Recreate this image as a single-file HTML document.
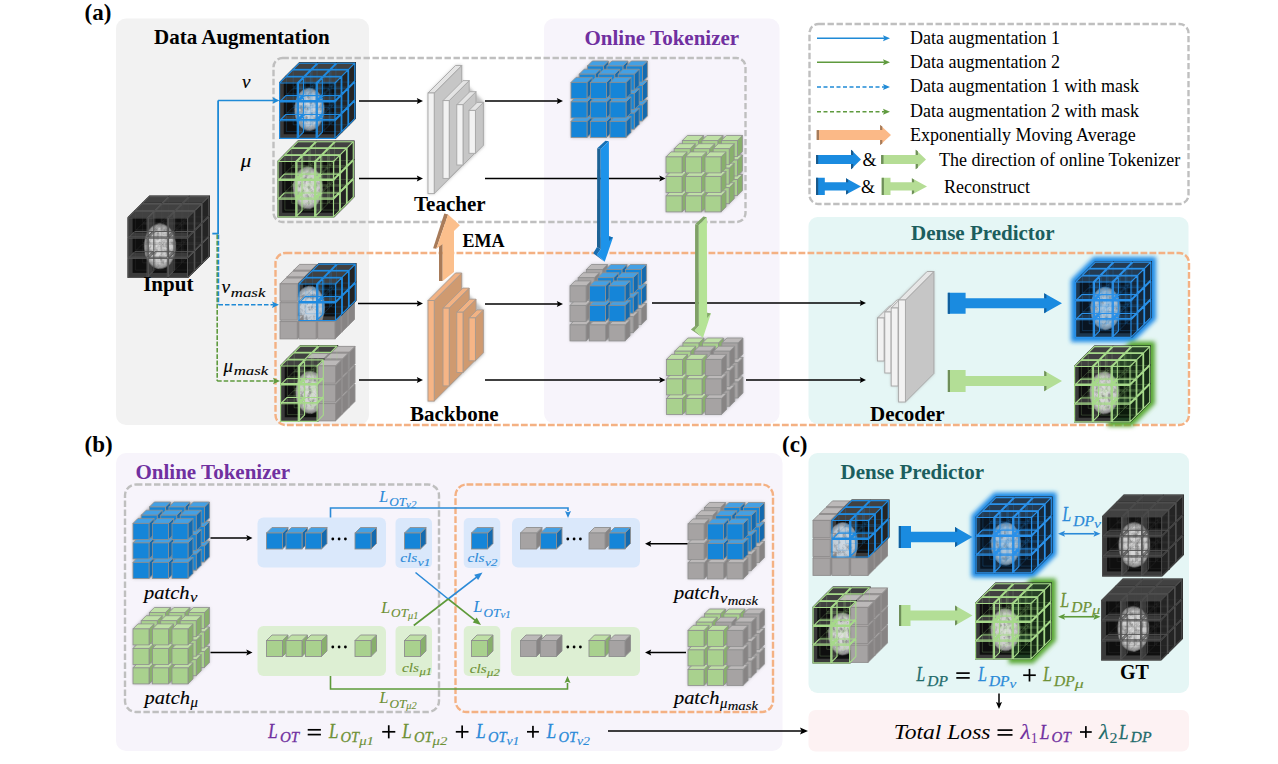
<!DOCTYPE html>
<html><head><meta charset="utf-8"><style>
html,body{margin:0;padding:0;background:#fff;width:1278px;height:764px;overflow:hidden}
svg{display:block}
</style></head><body>
<svg width="1278" height="764" viewBox="0 0 1278 764">
<rect width="1278" height="764" fill="#fff"/>
<defs>
<filter id="shadow" x="-20%" y="-20%" width="140%" height="140%"><feGaussianBlur stdDeviation="1.6"/></filter>
<filter id="glow" x="-30%" y="-30%" width="160%" height="160%"><feGaussianBlur stdDeviation="2.2"/></filter>
<radialGradient id="braingrad"><stop offset="0" stop-color="#e2e2e2"/><stop offset="0.75" stop-color="#cacaca"/><stop offset="0.92" stop-color="#aaaaaa" stop-opacity="0.8"/><stop offset="1" stop-color="#888" stop-opacity="0.2"/></radialGradient>
<filter id="braintex" x="-10%" y="-10%" width="120%" height="120%">
<feTurbulence type="fractalNoise" baseFrequency="0.25 0.18" numOctaves="3" seed="7" result="n"/>
<feColorMatrix in="n" type="matrix" values="0 0 0 0 0.3  0 0 0 0 0.3  0 0 0 0 0.3  0 0 0 -3.2 1.75" result="dark"/>
<feComposite in="dark" in2="SourceGraphic" operator="in" result="d2"/>
<feGaussianBlur in="d2" stdDeviation="0.5" result="d3"/><feComposite in="d3" in2="SourceGraphic" operator="over"/>
</filter>
</defs>
<rect x="116" y="18.5" width="253" height="406.5" rx="10" fill="#f2f2f2" />
<rect x="544" y="18.5" width="235.5" height="405" rx="10" fill="#f7f4fb" />
<rect x="808.5" y="217" width="380" height="207" rx="9" fill="#e5f6f5" />
<rect x="116" y="453" width="666.5" height="298" rx="10" fill="#f7f4fb" />
<rect x="808.5" y="453" width="380.5" height="240" rx="9" fill="#e5f6f5" />
<rect x="808.5" y="710" width="380.5" height="41.5" rx="7" fill="#fdf2f3" />
<rect x="273.5" y="58" width="472" height="164" rx="9" fill="none" stroke="#bfbfbf" stroke-width="2.4" stroke-dasharray="6.4 2.6" />
<rect x="809.5" y="24" width="379" height="180" rx="9" fill="none" stroke="#bfbfbf" stroke-width="2.4" stroke-dasharray="6.4 2.6" />
<rect x="275.5" y="253" width="913.5" height="172" rx="10" fill="none" stroke="#f4b183" stroke-width="2.4" stroke-dasharray="6.8 2.2" />
<rect x="125" y="484.5" width="314" height="227.5" rx="11" fill="none" stroke="#bfbfbf" stroke-width="2.4" stroke-dasharray="6.4 2.6" />
<rect x="455.5" y="484.5" width="317.5" height="227.5" rx="11" fill="none" stroke="#f4b183" stroke-width="2.4" stroke-dasharray="6.8 2.2" />
<g filter="url(#shadow)"><polygon points="571,82.4 592.4,61 647.4,61 647.4,116 626,137.4 571,137.4" fill="#777" opacity="0.55"/></g><polygon points="603.4,105 608.4,100 608.4,116 603.4,121" fill="#136aaf" stroke="#8f8f8f" stroke-width="0.8" stroke-linejoin="round"/><polygon points="587.4,105 592.4,100 608.4,100 603.4,105" fill="#44a0e4" stroke="#8f8f8f" stroke-width="0.8" stroke-linejoin="round"/><rect x="587.4" y="105" width="16" height="16" rx="0" fill="#1585d8" stroke="#8f8f8f" stroke-width="0.8" /><polygon points="595.2,113.2 600.2,108.2 600.2,124.2 595.2,129.2" fill="#136aaf" stroke="#8f8f8f" stroke-width="0.8" stroke-linejoin="round"/><polygon points="579.2,113.2 584.2,108.2 600.2,108.2 595.2,113.2" fill="#44a0e4" stroke="#8f8f8f" stroke-width="0.8" stroke-linejoin="round"/><rect x="579.2" y="113.2" width="16" height="16" rx="0" fill="#1585d8" stroke="#8f8f8f" stroke-width="0.8" /><polygon points="603.4,85.5 608.4,80.5 608.4,96.5 603.4,101.5" fill="#136aaf" stroke="#8f8f8f" stroke-width="0.8" stroke-linejoin="round"/><polygon points="587.4,85.5 592.4,80.5 608.4,80.5 603.4,85.5" fill="#44a0e4" stroke="#8f8f8f" stroke-width="0.8" stroke-linejoin="round"/><rect x="587.4" y="85.5" width="16" height="16" rx="0" fill="#1585d8" stroke="#8f8f8f" stroke-width="0.8" /><polygon points="622.9,105 627.9,100 627.9,116 622.9,121" fill="#136aaf" stroke="#8f8f8f" stroke-width="0.8" stroke-linejoin="round"/><polygon points="606.9,105 611.9,100 627.9,100 622.9,105" fill="#44a0e4" stroke="#8f8f8f" stroke-width="0.8" stroke-linejoin="round"/><rect x="606.9" y="105" width="16" height="16" rx="0" fill="#1585d8" stroke="#8f8f8f" stroke-width="0.8" /><polygon points="587,121.4 592,116.4 592,132.4 587,137.4" fill="#136aaf" stroke="#8f8f8f" stroke-width="0.8" stroke-linejoin="round"/><polygon points="571,121.4 576,116.4 592,116.4 587,121.4" fill="#44a0e4" stroke="#8f8f8f" stroke-width="0.8" stroke-linejoin="round"/><rect x="571" y="121.4" width="16" height="16" rx="0" fill="#1585d8" stroke="#8f8f8f" stroke-width="0.8" /><polygon points="595.2,93.7 600.2,88.7 600.2,104.7 595.2,109.7" fill="#136aaf" stroke="#8f8f8f" stroke-width="0.8" stroke-linejoin="round"/><polygon points="579.2,93.7 584.2,88.7 600.2,88.7 595.2,93.7" fill="#44a0e4" stroke="#8f8f8f" stroke-width="0.8" stroke-linejoin="round"/><rect x="579.2" y="93.7" width="16" height="16" rx="0" fill="#1585d8" stroke="#8f8f8f" stroke-width="0.8" /><polygon points="614.7,113.2 619.7,108.2 619.7,124.2 614.7,129.2" fill="#136aaf" stroke="#8f8f8f" stroke-width="0.8" stroke-linejoin="round"/><polygon points="598.7,113.2 603.7,108.2 619.7,108.2 614.7,113.2" fill="#44a0e4" stroke="#8f8f8f" stroke-width="0.8" stroke-linejoin="round"/><rect x="598.7" y="113.2" width="16" height="16" rx="0" fill="#1585d8" stroke="#8f8f8f" stroke-width="0.8" /><polygon points="603.4,66 608.4,61 608.4,77 603.4,82" fill="#136aaf" stroke="#8f8f8f" stroke-width="0.8" stroke-linejoin="round"/><polygon points="587.4,66 592.4,61 608.4,61 603.4,66" fill="#44a0e4" stroke="#8f8f8f" stroke-width="0.8" stroke-linejoin="round"/><rect x="587.4" y="66" width="16" height="16" rx="0" fill="#1585d8" stroke="#8f8f8f" stroke-width="0.8" /><polygon points="622.9,85.5 627.9,80.5 627.9,96.5 622.9,101.5" fill="#136aaf" stroke="#8f8f8f" stroke-width="0.8" stroke-linejoin="round"/><polygon points="606.9,85.5 611.9,80.5 627.9,80.5 622.9,85.5" fill="#44a0e4" stroke="#8f8f8f" stroke-width="0.8" stroke-linejoin="round"/><rect x="606.9" y="85.5" width="16" height="16" rx="0" fill="#1585d8" stroke="#8f8f8f" stroke-width="0.8" /><polygon points="642.4,105 647.4,100 647.4,116 642.4,121" fill="#136aaf" stroke="#8f8f8f" stroke-width="0.8" stroke-linejoin="round"/><polygon points="626.4,105 631.4,100 647.4,100 642.4,105" fill="#44a0e4" stroke="#8f8f8f" stroke-width="0.8" stroke-linejoin="round"/><rect x="626.4" y="105" width="16" height="16" rx="0" fill="#1585d8" stroke="#8f8f8f" stroke-width="0.8" /><polygon points="587,101.9 592,96.9 592,112.9 587,117.9" fill="#136aaf" stroke="#8f8f8f" stroke-width="0.8" stroke-linejoin="round"/><polygon points="571,101.9 576,96.9 592,96.9 587,101.9" fill="#44a0e4" stroke="#8f8f8f" stroke-width="0.8" stroke-linejoin="round"/><rect x="571" y="101.9" width="16" height="16" rx="0" fill="#1585d8" stroke="#8f8f8f" stroke-width="0.8" /><polygon points="606.5,121.4 611.5,116.4 611.5,132.4 606.5,137.4" fill="#136aaf" stroke="#8f8f8f" stroke-width="0.8" stroke-linejoin="round"/><polygon points="590.5,121.4 595.5,116.4 611.5,116.4 606.5,121.4" fill="#44a0e4" stroke="#8f8f8f" stroke-width="0.8" stroke-linejoin="round"/><rect x="590.5" y="121.4" width="16" height="16" rx="0" fill="#1585d8" stroke="#8f8f8f" stroke-width="0.8" /><polygon points="595.2,74.2 600.2,69.2 600.2,85.2 595.2,90.2" fill="#136aaf" stroke="#8f8f8f" stroke-width="0.8" stroke-linejoin="round"/><polygon points="579.2,74.2 584.2,69.2 600.2,69.2 595.2,74.2" fill="#44a0e4" stroke="#8f8f8f" stroke-width="0.8" stroke-linejoin="round"/><rect x="579.2" y="74.2" width="16" height="16" rx="0" fill="#1585d8" stroke="#8f8f8f" stroke-width="0.8" /><polygon points="614.7,93.7 619.7,88.7 619.7,104.7 614.7,109.7" fill="#136aaf" stroke="#8f8f8f" stroke-width="0.8" stroke-linejoin="round"/><polygon points="598.7,93.7 603.7,88.7 619.7,88.7 614.7,93.7" fill="#44a0e4" stroke="#8f8f8f" stroke-width="0.8" stroke-linejoin="round"/><rect x="598.7" y="93.7" width="16" height="16" rx="0" fill="#1585d8" stroke="#8f8f8f" stroke-width="0.8" /><polygon points="634.2,113.2 639.2,108.2 639.2,124.2 634.2,129.2" fill="#136aaf" stroke="#8f8f8f" stroke-width="0.8" stroke-linejoin="round"/><polygon points="618.2,113.2 623.2,108.2 639.2,108.2 634.2,113.2" fill="#44a0e4" stroke="#8f8f8f" stroke-width="0.8" stroke-linejoin="round"/><rect x="618.2" y="113.2" width="16" height="16" rx="0" fill="#1585d8" stroke="#8f8f8f" stroke-width="0.8" /><polygon points="622.9,66 627.9,61 627.9,77 622.9,82" fill="#136aaf" stroke="#8f8f8f" stroke-width="0.8" stroke-linejoin="round"/><polygon points="606.9,66 611.9,61 627.9,61 622.9,66" fill="#44a0e4" stroke="#8f8f8f" stroke-width="0.8" stroke-linejoin="round"/><rect x="606.9" y="66" width="16" height="16" rx="0" fill="#1585d8" stroke="#8f8f8f" stroke-width="0.8" /><polygon points="642.4,85.5 647.4,80.5 647.4,96.5 642.4,101.5" fill="#136aaf" stroke="#8f8f8f" stroke-width="0.8" stroke-linejoin="round"/><polygon points="626.4,85.5 631.4,80.5 647.4,80.5 642.4,85.5" fill="#44a0e4" stroke="#8f8f8f" stroke-width="0.8" stroke-linejoin="round"/><rect x="626.4" y="85.5" width="16" height="16" rx="0" fill="#1585d8" stroke="#8f8f8f" stroke-width="0.8" /><polygon points="587,82.4 592,77.4 592,93.4 587,98.4" fill="#136aaf" stroke="#8f8f8f" stroke-width="0.8" stroke-linejoin="round"/><polygon points="571,82.4 576,77.4 592,77.4 587,82.4" fill="#44a0e4" stroke="#8f8f8f" stroke-width="0.8" stroke-linejoin="round"/><rect x="571" y="82.4" width="16" height="16" rx="0" fill="#1585d8" stroke="#8f8f8f" stroke-width="0.8" /><polygon points="606.5,101.9 611.5,96.9 611.5,112.9 606.5,117.9" fill="#136aaf" stroke="#8f8f8f" stroke-width="0.8" stroke-linejoin="round"/><polygon points="590.5,101.9 595.5,96.9 611.5,96.9 606.5,101.9" fill="#44a0e4" stroke="#8f8f8f" stroke-width="0.8" stroke-linejoin="round"/><rect x="590.5" y="101.9" width="16" height="16" rx="0" fill="#1585d8" stroke="#8f8f8f" stroke-width="0.8" /><polygon points="626,121.4 631,116.4 631,132.4 626,137.4" fill="#136aaf" stroke="#8f8f8f" stroke-width="0.8" stroke-linejoin="round"/><polygon points="610,121.4 615,116.4 631,116.4 626,121.4" fill="#44a0e4" stroke="#8f8f8f" stroke-width="0.8" stroke-linejoin="round"/><rect x="610" y="121.4" width="16" height="16" rx="0" fill="#1585d8" stroke="#8f8f8f" stroke-width="0.8" /><polygon points="614.7,74.2 619.7,69.2 619.7,85.2 614.7,90.2" fill="#136aaf" stroke="#8f8f8f" stroke-width="0.8" stroke-linejoin="round"/><polygon points="598.7,74.2 603.7,69.2 619.7,69.2 614.7,74.2" fill="#44a0e4" stroke="#8f8f8f" stroke-width="0.8" stroke-linejoin="round"/><rect x="598.7" y="74.2" width="16" height="16" rx="0" fill="#1585d8" stroke="#8f8f8f" stroke-width="0.8" /><polygon points="634.2,93.7 639.2,88.7 639.2,104.7 634.2,109.7" fill="#136aaf" stroke="#8f8f8f" stroke-width="0.8" stroke-linejoin="round"/><polygon points="618.2,93.7 623.2,88.7 639.2,88.7 634.2,93.7" fill="#44a0e4" stroke="#8f8f8f" stroke-width="0.8" stroke-linejoin="round"/><rect x="618.2" y="93.7" width="16" height="16" rx="0" fill="#1585d8" stroke="#8f8f8f" stroke-width="0.8" /><polygon points="642.4,66 647.4,61 647.4,77 642.4,82" fill="#136aaf" stroke="#8f8f8f" stroke-width="0.8" stroke-linejoin="round"/><polygon points="626.4,66 631.4,61 647.4,61 642.4,66" fill="#44a0e4" stroke="#8f8f8f" stroke-width="0.8" stroke-linejoin="round"/><rect x="626.4" y="66" width="16" height="16" rx="0" fill="#1585d8" stroke="#8f8f8f" stroke-width="0.8" /><polygon points="606.5,82.4 611.5,77.4 611.5,93.4 606.5,98.4" fill="#136aaf" stroke="#8f8f8f" stroke-width="0.8" stroke-linejoin="round"/><polygon points="590.5,82.4 595.5,77.4 611.5,77.4 606.5,82.4" fill="#44a0e4" stroke="#8f8f8f" stroke-width="0.8" stroke-linejoin="round"/><rect x="590.5" y="82.4" width="16" height="16" rx="0" fill="#1585d8" stroke="#8f8f8f" stroke-width="0.8" /><polygon points="626,101.9 631,96.9 631,112.9 626,117.9" fill="#136aaf" stroke="#8f8f8f" stroke-width="0.8" stroke-linejoin="round"/><polygon points="610,101.9 615,96.9 631,96.9 626,101.9" fill="#44a0e4" stroke="#8f8f8f" stroke-width="0.8" stroke-linejoin="round"/><rect x="610" y="101.9" width="16" height="16" rx="0" fill="#1585d8" stroke="#8f8f8f" stroke-width="0.8" /><polygon points="634.2,74.2 639.2,69.2 639.2,85.2 634.2,90.2" fill="#136aaf" stroke="#8f8f8f" stroke-width="0.8" stroke-linejoin="round"/><polygon points="618.2,74.2 623.2,69.2 639.2,69.2 634.2,74.2" fill="#44a0e4" stroke="#8f8f8f" stroke-width="0.8" stroke-linejoin="round"/><rect x="618.2" y="74.2" width="16" height="16" rx="0" fill="#1585d8" stroke="#8f8f8f" stroke-width="0.8" /><polygon points="626,82.4 631,77.4 631,93.4 626,98.4" fill="#136aaf" stroke="#8f8f8f" stroke-width="0.8" stroke-linejoin="round"/><polygon points="610,82.4 615,77.4 631,77.4 626,82.4" fill="#44a0e4" stroke="#8f8f8f" stroke-width="0.8" stroke-linejoin="round"/><rect x="610" y="82.4" width="16" height="16" rx="0" fill="#1585d8" stroke="#8f8f8f" stroke-width="0.8" />
<g filter="url(#shadow)"><polygon points="666,156.9 687.4,135.5 742.4,135.5 742.4,190.5 721,211.9 666,211.9" fill="#777" opacity="0.55"/></g><polygon points="698.4,179.5 703.4,174.5 703.4,190.5 698.4,195.5" fill="#88b06c" stroke="#8f8f8f" stroke-width="0.8" stroke-linejoin="round"/><polygon points="682.4,179.5 687.4,174.5 703.4,174.5 698.4,179.5" fill="#bfe0a6" stroke="#8f8f8f" stroke-width="0.8" stroke-linejoin="round"/><rect x="682.4" y="179.5" width="16" height="16" rx="0" fill="#a9d18e" stroke="#8f8f8f" stroke-width="0.8" /><polygon points="690.2,187.7 695.2,182.7 695.2,198.7 690.2,203.7" fill="#88b06c" stroke="#8f8f8f" stroke-width="0.8" stroke-linejoin="round"/><polygon points="674.2,187.7 679.2,182.7 695.2,182.7 690.2,187.7" fill="#bfe0a6" stroke="#8f8f8f" stroke-width="0.8" stroke-linejoin="round"/><rect x="674.2" y="187.7" width="16" height="16" rx="0" fill="#a9d18e" stroke="#8f8f8f" stroke-width="0.8" /><polygon points="698.4,160 703.4,155 703.4,171 698.4,176" fill="#88b06c" stroke="#8f8f8f" stroke-width="0.8" stroke-linejoin="round"/><polygon points="682.4,160 687.4,155 703.4,155 698.4,160" fill="#bfe0a6" stroke="#8f8f8f" stroke-width="0.8" stroke-linejoin="round"/><rect x="682.4" y="160" width="16" height="16" rx="0" fill="#a9d18e" stroke="#8f8f8f" stroke-width="0.8" /><polygon points="717.9,179.5 722.9,174.5 722.9,190.5 717.9,195.5" fill="#88b06c" stroke="#8f8f8f" stroke-width="0.8" stroke-linejoin="round"/><polygon points="701.9,179.5 706.9,174.5 722.9,174.5 717.9,179.5" fill="#bfe0a6" stroke="#8f8f8f" stroke-width="0.8" stroke-linejoin="round"/><rect x="701.9" y="179.5" width="16" height="16" rx="0" fill="#a9d18e" stroke="#8f8f8f" stroke-width="0.8" /><polygon points="682,195.9 687,190.9 687,206.9 682,211.9" fill="#88b06c" stroke="#8f8f8f" stroke-width="0.8" stroke-linejoin="round"/><polygon points="666,195.9 671,190.9 687,190.9 682,195.9" fill="#bfe0a6" stroke="#8f8f8f" stroke-width="0.8" stroke-linejoin="round"/><rect x="666" y="195.9" width="16" height="16" rx="0" fill="#a9d18e" stroke="#8f8f8f" stroke-width="0.8" /><polygon points="690.2,168.2 695.2,163.2 695.2,179.2 690.2,184.2" fill="#88b06c" stroke="#8f8f8f" stroke-width="0.8" stroke-linejoin="round"/><polygon points="674.2,168.2 679.2,163.2 695.2,163.2 690.2,168.2" fill="#bfe0a6" stroke="#8f8f8f" stroke-width="0.8" stroke-linejoin="round"/><rect x="674.2" y="168.2" width="16" height="16" rx="0" fill="#a9d18e" stroke="#8f8f8f" stroke-width="0.8" /><polygon points="709.7,187.7 714.7,182.7 714.7,198.7 709.7,203.7" fill="#88b06c" stroke="#8f8f8f" stroke-width="0.8" stroke-linejoin="round"/><polygon points="693.7,187.7 698.7,182.7 714.7,182.7 709.7,187.7" fill="#bfe0a6" stroke="#8f8f8f" stroke-width="0.8" stroke-linejoin="round"/><rect x="693.7" y="187.7" width="16" height="16" rx="0" fill="#a9d18e" stroke="#8f8f8f" stroke-width="0.8" /><polygon points="698.4,140.5 703.4,135.5 703.4,151.5 698.4,156.5" fill="#88b06c" stroke="#8f8f8f" stroke-width="0.8" stroke-linejoin="round"/><polygon points="682.4,140.5 687.4,135.5 703.4,135.5 698.4,140.5" fill="#bfe0a6" stroke="#8f8f8f" stroke-width="0.8" stroke-linejoin="round"/><rect x="682.4" y="140.5" width="16" height="16" rx="0" fill="#a9d18e" stroke="#8f8f8f" stroke-width="0.8" /><polygon points="717.9,160 722.9,155 722.9,171 717.9,176" fill="#88b06c" stroke="#8f8f8f" stroke-width="0.8" stroke-linejoin="round"/><polygon points="701.9,160 706.9,155 722.9,155 717.9,160" fill="#bfe0a6" stroke="#8f8f8f" stroke-width="0.8" stroke-linejoin="round"/><rect x="701.9" y="160" width="16" height="16" rx="0" fill="#a9d18e" stroke="#8f8f8f" stroke-width="0.8" /><polygon points="737.4,179.5 742.4,174.5 742.4,190.5 737.4,195.5" fill="#88b06c" stroke="#8f8f8f" stroke-width="0.8" stroke-linejoin="round"/><polygon points="721.4,179.5 726.4,174.5 742.4,174.5 737.4,179.5" fill="#bfe0a6" stroke="#8f8f8f" stroke-width="0.8" stroke-linejoin="round"/><rect x="721.4" y="179.5" width="16" height="16" rx="0" fill="#a9d18e" stroke="#8f8f8f" stroke-width="0.8" /><polygon points="682,176.4 687,171.4 687,187.4 682,192.4" fill="#88b06c" stroke="#8f8f8f" stroke-width="0.8" stroke-linejoin="round"/><polygon points="666,176.4 671,171.4 687,171.4 682,176.4" fill="#bfe0a6" stroke="#8f8f8f" stroke-width="0.8" stroke-linejoin="round"/><rect x="666" y="176.4" width="16" height="16" rx="0" fill="#a9d18e" stroke="#8f8f8f" stroke-width="0.8" /><polygon points="701.5,195.9 706.5,190.9 706.5,206.9 701.5,211.9" fill="#88b06c" stroke="#8f8f8f" stroke-width="0.8" stroke-linejoin="round"/><polygon points="685.5,195.9 690.5,190.9 706.5,190.9 701.5,195.9" fill="#bfe0a6" stroke="#8f8f8f" stroke-width="0.8" stroke-linejoin="round"/><rect x="685.5" y="195.9" width="16" height="16" rx="0" fill="#a9d18e" stroke="#8f8f8f" stroke-width="0.8" /><polygon points="690.2,148.7 695.2,143.7 695.2,159.7 690.2,164.7" fill="#88b06c" stroke="#8f8f8f" stroke-width="0.8" stroke-linejoin="round"/><polygon points="674.2,148.7 679.2,143.7 695.2,143.7 690.2,148.7" fill="#bfe0a6" stroke="#8f8f8f" stroke-width="0.8" stroke-linejoin="round"/><rect x="674.2" y="148.7" width="16" height="16" rx="0" fill="#a9d18e" stroke="#8f8f8f" stroke-width="0.8" /><polygon points="709.7,168.2 714.7,163.2 714.7,179.2 709.7,184.2" fill="#88b06c" stroke="#8f8f8f" stroke-width="0.8" stroke-linejoin="round"/><polygon points="693.7,168.2 698.7,163.2 714.7,163.2 709.7,168.2" fill="#bfe0a6" stroke="#8f8f8f" stroke-width="0.8" stroke-linejoin="round"/><rect x="693.7" y="168.2" width="16" height="16" rx="0" fill="#a9d18e" stroke="#8f8f8f" stroke-width="0.8" /><polygon points="729.2,187.7 734.2,182.7 734.2,198.7 729.2,203.7" fill="#88b06c" stroke="#8f8f8f" stroke-width="0.8" stroke-linejoin="round"/><polygon points="713.2,187.7 718.2,182.7 734.2,182.7 729.2,187.7" fill="#bfe0a6" stroke="#8f8f8f" stroke-width="0.8" stroke-linejoin="round"/><rect x="713.2" y="187.7" width="16" height="16" rx="0" fill="#a9d18e" stroke="#8f8f8f" stroke-width="0.8" /><polygon points="717.9,140.5 722.9,135.5 722.9,151.5 717.9,156.5" fill="#88b06c" stroke="#8f8f8f" stroke-width="0.8" stroke-linejoin="round"/><polygon points="701.9,140.5 706.9,135.5 722.9,135.5 717.9,140.5" fill="#bfe0a6" stroke="#8f8f8f" stroke-width="0.8" stroke-linejoin="round"/><rect x="701.9" y="140.5" width="16" height="16" rx="0" fill="#a9d18e" stroke="#8f8f8f" stroke-width="0.8" /><polygon points="737.4,160 742.4,155 742.4,171 737.4,176" fill="#88b06c" stroke="#8f8f8f" stroke-width="0.8" stroke-linejoin="round"/><polygon points="721.4,160 726.4,155 742.4,155 737.4,160" fill="#bfe0a6" stroke="#8f8f8f" stroke-width="0.8" stroke-linejoin="round"/><rect x="721.4" y="160" width="16" height="16" rx="0" fill="#a9d18e" stroke="#8f8f8f" stroke-width="0.8" /><polygon points="682,156.9 687,151.9 687,167.9 682,172.9" fill="#88b06c" stroke="#8f8f8f" stroke-width="0.8" stroke-linejoin="round"/><polygon points="666,156.9 671,151.9 687,151.9 682,156.9" fill="#bfe0a6" stroke="#8f8f8f" stroke-width="0.8" stroke-linejoin="round"/><rect x="666" y="156.9" width="16" height="16" rx="0" fill="#a9d18e" stroke="#8f8f8f" stroke-width="0.8" /><polygon points="701.5,176.4 706.5,171.4 706.5,187.4 701.5,192.4" fill="#88b06c" stroke="#8f8f8f" stroke-width="0.8" stroke-linejoin="round"/><polygon points="685.5,176.4 690.5,171.4 706.5,171.4 701.5,176.4" fill="#bfe0a6" stroke="#8f8f8f" stroke-width="0.8" stroke-linejoin="round"/><rect x="685.5" y="176.4" width="16" height="16" rx="0" fill="#a9d18e" stroke="#8f8f8f" stroke-width="0.8" /><polygon points="721,195.9 726,190.9 726,206.9 721,211.9" fill="#88b06c" stroke="#8f8f8f" stroke-width="0.8" stroke-linejoin="round"/><polygon points="705,195.9 710,190.9 726,190.9 721,195.9" fill="#bfe0a6" stroke="#8f8f8f" stroke-width="0.8" stroke-linejoin="round"/><rect x="705" y="195.9" width="16" height="16" rx="0" fill="#a9d18e" stroke="#8f8f8f" stroke-width="0.8" /><polygon points="709.7,148.7 714.7,143.7 714.7,159.7 709.7,164.7" fill="#88b06c" stroke="#8f8f8f" stroke-width="0.8" stroke-linejoin="round"/><polygon points="693.7,148.7 698.7,143.7 714.7,143.7 709.7,148.7" fill="#bfe0a6" stroke="#8f8f8f" stroke-width="0.8" stroke-linejoin="round"/><rect x="693.7" y="148.7" width="16" height="16" rx="0" fill="#a9d18e" stroke="#8f8f8f" stroke-width="0.8" /><polygon points="729.2,168.2 734.2,163.2 734.2,179.2 729.2,184.2" fill="#88b06c" stroke="#8f8f8f" stroke-width="0.8" stroke-linejoin="round"/><polygon points="713.2,168.2 718.2,163.2 734.2,163.2 729.2,168.2" fill="#bfe0a6" stroke="#8f8f8f" stroke-width="0.8" stroke-linejoin="round"/><rect x="713.2" y="168.2" width="16" height="16" rx="0" fill="#a9d18e" stroke="#8f8f8f" stroke-width="0.8" /><polygon points="737.4,140.5 742.4,135.5 742.4,151.5 737.4,156.5" fill="#88b06c" stroke="#8f8f8f" stroke-width="0.8" stroke-linejoin="round"/><polygon points="721.4,140.5 726.4,135.5 742.4,135.5 737.4,140.5" fill="#bfe0a6" stroke="#8f8f8f" stroke-width="0.8" stroke-linejoin="round"/><rect x="721.4" y="140.5" width="16" height="16" rx="0" fill="#a9d18e" stroke="#8f8f8f" stroke-width="0.8" /><polygon points="701.5,156.9 706.5,151.9 706.5,167.9 701.5,172.9" fill="#88b06c" stroke="#8f8f8f" stroke-width="0.8" stroke-linejoin="round"/><polygon points="685.5,156.9 690.5,151.9 706.5,151.9 701.5,156.9" fill="#bfe0a6" stroke="#8f8f8f" stroke-width="0.8" stroke-linejoin="round"/><rect x="685.5" y="156.9" width="16" height="16" rx="0" fill="#a9d18e" stroke="#8f8f8f" stroke-width="0.8" /><polygon points="721,176.4 726,171.4 726,187.4 721,192.4" fill="#88b06c" stroke="#8f8f8f" stroke-width="0.8" stroke-linejoin="round"/><polygon points="705,176.4 710,171.4 726,171.4 721,176.4" fill="#bfe0a6" stroke="#8f8f8f" stroke-width="0.8" stroke-linejoin="round"/><rect x="705" y="176.4" width="16" height="16" rx="0" fill="#a9d18e" stroke="#8f8f8f" stroke-width="0.8" /><polygon points="729.2,148.7 734.2,143.7 734.2,159.7 729.2,164.7" fill="#88b06c" stroke="#8f8f8f" stroke-width="0.8" stroke-linejoin="round"/><polygon points="713.2,148.7 718.2,143.7 734.2,143.7 729.2,148.7" fill="#bfe0a6" stroke="#8f8f8f" stroke-width="0.8" stroke-linejoin="round"/><rect x="713.2" y="148.7" width="16" height="16" rx="0" fill="#a9d18e" stroke="#8f8f8f" stroke-width="0.8" /><polygon points="721,156.9 726,151.9 726,167.9 721,172.9" fill="#88b06c" stroke="#8f8f8f" stroke-width="0.8" stroke-linejoin="round"/><polygon points="705,156.9 710,151.9 726,151.9 721,156.9" fill="#bfe0a6" stroke="#8f8f8f" stroke-width="0.8" stroke-linejoin="round"/><rect x="705" y="156.9" width="16" height="16" rx="0" fill="#a9d18e" stroke="#8f8f8f" stroke-width="0.8" />
<g filter="url(#shadow)"><polygon points="570,285.9 591.4,264.5 646.4,264.5 646.4,319.5 625,340.9 570,340.9" fill="#777" opacity="0.55"/></g><polygon points="602.4,308.5 607.4,303.5 607.4,319.5 602.4,324.5" fill="#878484" stroke="#8f8f8f" stroke-width="0.8" stroke-linejoin="round"/><polygon points="586.4,308.5 591.4,303.5 607.4,303.5 602.4,308.5" fill="#bcb9b9" stroke="#8f8f8f" stroke-width="0.8" stroke-linejoin="round"/><rect x="586.4" y="308.5" width="16" height="16" rx="0" fill="#a6a3a3" stroke="#8f8f8f" stroke-width="0.8" /><polygon points="594.2,316.7 599.2,311.7 599.2,327.7 594.2,332.7" fill="#878484" stroke="#8f8f8f" stroke-width="0.8" stroke-linejoin="round"/><polygon points="578.2,316.7 583.2,311.7 599.2,311.7 594.2,316.7" fill="#bcb9b9" stroke="#8f8f8f" stroke-width="0.8" stroke-linejoin="round"/><rect x="578.2" y="316.7" width="16" height="16" rx="0" fill="#a6a3a3" stroke="#8f8f8f" stroke-width="0.8" /><polygon points="602.4,289 607.4,284 607.4,300 602.4,305" fill="#878484" stroke="#8f8f8f" stroke-width="0.8" stroke-linejoin="round"/><polygon points="586.4,289 591.4,284 607.4,284 602.4,289" fill="#bcb9b9" stroke="#8f8f8f" stroke-width="0.8" stroke-linejoin="round"/><rect x="586.4" y="289" width="16" height="16" rx="0" fill="#a6a3a3" stroke="#8f8f8f" stroke-width="0.8" /><polygon points="621.9,308.5 626.9,303.5 626.9,319.5 621.9,324.5" fill="#878484" stroke="#8f8f8f" stroke-width="0.8" stroke-linejoin="round"/><polygon points="605.9,308.5 610.9,303.5 626.9,303.5 621.9,308.5" fill="#bcb9b9" stroke="#8f8f8f" stroke-width="0.8" stroke-linejoin="round"/><rect x="605.9" y="308.5" width="16" height="16" rx="0" fill="#a6a3a3" stroke="#8f8f8f" stroke-width="0.8" /><polygon points="586,324.9 591,319.9 591,335.9 586,340.9" fill="#878484" stroke="#8f8f8f" stroke-width="0.8" stroke-linejoin="round"/><polygon points="570,324.9 575,319.9 591,319.9 586,324.9" fill="#bcb9b9" stroke="#8f8f8f" stroke-width="0.8" stroke-linejoin="round"/><rect x="570" y="324.9" width="16" height="16" rx="0" fill="#a6a3a3" stroke="#8f8f8f" stroke-width="0.8" /><polygon points="594.2,297.2 599.2,292.2 599.2,308.2 594.2,313.2" fill="#878484" stroke="#8f8f8f" stroke-width="0.8" stroke-linejoin="round"/><polygon points="578.2,297.2 583.2,292.2 599.2,292.2 594.2,297.2" fill="#bcb9b9" stroke="#8f8f8f" stroke-width="0.8" stroke-linejoin="round"/><rect x="578.2" y="297.2" width="16" height="16" rx="0" fill="#a6a3a3" stroke="#8f8f8f" stroke-width="0.8" /><polygon points="613.7,316.7 618.7,311.7 618.7,327.7 613.7,332.7" fill="#878484" stroke="#8f8f8f" stroke-width="0.8" stroke-linejoin="round"/><polygon points="597.7,316.7 602.7,311.7 618.7,311.7 613.7,316.7" fill="#bcb9b9" stroke="#8f8f8f" stroke-width="0.8" stroke-linejoin="round"/><rect x="597.7" y="316.7" width="16" height="16" rx="0" fill="#a6a3a3" stroke="#8f8f8f" stroke-width="0.8" /><polygon points="602.4,269.5 607.4,264.5 607.4,280.5 602.4,285.5" fill="#878484" stroke="#8f8f8f" stroke-width="0.8" stroke-linejoin="round"/><polygon points="586.4,269.5 591.4,264.5 607.4,264.5 602.4,269.5" fill="#bcb9b9" stroke="#8f8f8f" stroke-width="0.8" stroke-linejoin="round"/><rect x="586.4" y="269.5" width="16" height="16" rx="0" fill="#a6a3a3" stroke="#8f8f8f" stroke-width="0.8" /><polygon points="621.9,289 626.9,284 626.9,300 621.9,305" fill="#136aaf" stroke="#8f8f8f" stroke-width="0.8" stroke-linejoin="round"/><polygon points="605.9,289 610.9,284 626.9,284 621.9,289" fill="#44a0e4" stroke="#8f8f8f" stroke-width="0.8" stroke-linejoin="round"/><rect x="605.9" y="289" width="16" height="16" rx="0" fill="#1585d8" stroke="#8f8f8f" stroke-width="0.8" /><polygon points="641.4,308.5 646.4,303.5 646.4,319.5 641.4,324.5" fill="#878484" stroke="#8f8f8f" stroke-width="0.8" stroke-linejoin="round"/><polygon points="625.4,308.5 630.4,303.5 646.4,303.5 641.4,308.5" fill="#bcb9b9" stroke="#8f8f8f" stroke-width="0.8" stroke-linejoin="round"/><rect x="625.4" y="308.5" width="16" height="16" rx="0" fill="#a6a3a3" stroke="#8f8f8f" stroke-width="0.8" /><polygon points="586,305.4 591,300.4 591,316.4 586,321.4" fill="#878484" stroke="#8f8f8f" stroke-width="0.8" stroke-linejoin="round"/><polygon points="570,305.4 575,300.4 591,300.4 586,305.4" fill="#bcb9b9" stroke="#8f8f8f" stroke-width="0.8" stroke-linejoin="round"/><rect x="570" y="305.4" width="16" height="16" rx="0" fill="#a6a3a3" stroke="#8f8f8f" stroke-width="0.8" /><polygon points="605.5,324.9 610.5,319.9 610.5,335.9 605.5,340.9" fill="#878484" stroke="#8f8f8f" stroke-width="0.8" stroke-linejoin="round"/><polygon points="589.5,324.9 594.5,319.9 610.5,319.9 605.5,324.9" fill="#bcb9b9" stroke="#8f8f8f" stroke-width="0.8" stroke-linejoin="round"/><rect x="589.5" y="324.9" width="16" height="16" rx="0" fill="#a6a3a3" stroke="#8f8f8f" stroke-width="0.8" /><polygon points="594.2,277.7 599.2,272.7 599.2,288.7 594.2,293.7" fill="#878484" stroke="#8f8f8f" stroke-width="0.8" stroke-linejoin="round"/><polygon points="578.2,277.7 583.2,272.7 599.2,272.7 594.2,277.7" fill="#bcb9b9" stroke="#8f8f8f" stroke-width="0.8" stroke-linejoin="round"/><rect x="578.2" y="277.7" width="16" height="16" rx="0" fill="#a6a3a3" stroke="#8f8f8f" stroke-width="0.8" /><polygon points="613.7,297.2 618.7,292.2 618.7,308.2 613.7,313.2" fill="#136aaf" stroke="#8f8f8f" stroke-width="0.8" stroke-linejoin="round"/><polygon points="597.7,297.2 602.7,292.2 618.7,292.2 613.7,297.2" fill="#44a0e4" stroke="#8f8f8f" stroke-width="0.8" stroke-linejoin="round"/><rect x="597.7" y="297.2" width="16" height="16" rx="0" fill="#1585d8" stroke="#8f8f8f" stroke-width="0.8" /><polygon points="633.2,316.7 638.2,311.7 638.2,327.7 633.2,332.7" fill="#878484" stroke="#8f8f8f" stroke-width="0.8" stroke-linejoin="round"/><polygon points="617.2,316.7 622.2,311.7 638.2,311.7 633.2,316.7" fill="#bcb9b9" stroke="#8f8f8f" stroke-width="0.8" stroke-linejoin="round"/><rect x="617.2" y="316.7" width="16" height="16" rx="0" fill="#a6a3a3" stroke="#8f8f8f" stroke-width="0.8" /><polygon points="621.9,269.5 626.9,264.5 626.9,280.5 621.9,285.5" fill="#136aaf" stroke="#8f8f8f" stroke-width="0.8" stroke-linejoin="round"/><polygon points="605.9,269.5 610.9,264.5 626.9,264.5 621.9,269.5" fill="#44a0e4" stroke="#8f8f8f" stroke-width="0.8" stroke-linejoin="round"/><rect x="605.9" y="269.5" width="16" height="16" rx="0" fill="#1585d8" stroke="#8f8f8f" stroke-width="0.8" /><polygon points="641.4,289 646.4,284 646.4,300 641.4,305" fill="#136aaf" stroke="#8f8f8f" stroke-width="0.8" stroke-linejoin="round"/><polygon points="625.4,289 630.4,284 646.4,284 641.4,289" fill="#44a0e4" stroke="#8f8f8f" stroke-width="0.8" stroke-linejoin="round"/><rect x="625.4" y="289" width="16" height="16" rx="0" fill="#1585d8" stroke="#8f8f8f" stroke-width="0.8" /><polygon points="586,285.9 591,280.9 591,296.9 586,301.9" fill="#878484" stroke="#8f8f8f" stroke-width="0.8" stroke-linejoin="round"/><polygon points="570,285.9 575,280.9 591,280.9 586,285.9" fill="#bcb9b9" stroke="#8f8f8f" stroke-width="0.8" stroke-linejoin="round"/><rect x="570" y="285.9" width="16" height="16" rx="0" fill="#a6a3a3" stroke="#8f8f8f" stroke-width="0.8" /><polygon points="605.5,305.4 610.5,300.4 610.5,316.4 605.5,321.4" fill="#136aaf" stroke="#8f8f8f" stroke-width="0.8" stroke-linejoin="round"/><polygon points="589.5,305.4 594.5,300.4 610.5,300.4 605.5,305.4" fill="#44a0e4" stroke="#8f8f8f" stroke-width="0.8" stroke-linejoin="round"/><rect x="589.5" y="305.4" width="16" height="16" rx="0" fill="#1585d8" stroke="#8f8f8f" stroke-width="0.8" /><polygon points="625,324.9 630,319.9 630,335.9 625,340.9" fill="#878484" stroke="#8f8f8f" stroke-width="0.8" stroke-linejoin="round"/><polygon points="609,324.9 614,319.9 630,319.9 625,324.9" fill="#bcb9b9" stroke="#8f8f8f" stroke-width="0.8" stroke-linejoin="round"/><rect x="609" y="324.9" width="16" height="16" rx="0" fill="#a6a3a3" stroke="#8f8f8f" stroke-width="0.8" /><polygon points="613.7,277.7 618.7,272.7 618.7,288.7 613.7,293.7" fill="#136aaf" stroke="#8f8f8f" stroke-width="0.8" stroke-linejoin="round"/><polygon points="597.7,277.7 602.7,272.7 618.7,272.7 613.7,277.7" fill="#44a0e4" stroke="#8f8f8f" stroke-width="0.8" stroke-linejoin="round"/><rect x="597.7" y="277.7" width="16" height="16" rx="0" fill="#1585d8" stroke="#8f8f8f" stroke-width="0.8" /><polygon points="633.2,297.2 638.2,292.2 638.2,308.2 633.2,313.2" fill="#136aaf" stroke="#8f8f8f" stroke-width="0.8" stroke-linejoin="round"/><polygon points="617.2,297.2 622.2,292.2 638.2,292.2 633.2,297.2" fill="#44a0e4" stroke="#8f8f8f" stroke-width="0.8" stroke-linejoin="round"/><rect x="617.2" y="297.2" width="16" height="16" rx="0" fill="#1585d8" stroke="#8f8f8f" stroke-width="0.8" /><polygon points="641.4,269.5 646.4,264.5 646.4,280.5 641.4,285.5" fill="#136aaf" stroke="#8f8f8f" stroke-width="0.8" stroke-linejoin="round"/><polygon points="625.4,269.5 630.4,264.5 646.4,264.5 641.4,269.5" fill="#44a0e4" stroke="#8f8f8f" stroke-width="0.8" stroke-linejoin="round"/><rect x="625.4" y="269.5" width="16" height="16" rx="0" fill="#1585d8" stroke="#8f8f8f" stroke-width="0.8" /><polygon points="605.5,285.9 610.5,280.9 610.5,296.9 605.5,301.9" fill="#136aaf" stroke="#8f8f8f" stroke-width="0.8" stroke-linejoin="round"/><polygon points="589.5,285.9 594.5,280.9 610.5,280.9 605.5,285.9" fill="#44a0e4" stroke="#8f8f8f" stroke-width="0.8" stroke-linejoin="round"/><rect x="589.5" y="285.9" width="16" height="16" rx="0" fill="#1585d8" stroke="#8f8f8f" stroke-width="0.8" /><polygon points="625,305.4 630,300.4 630,316.4 625,321.4" fill="#136aaf" stroke="#8f8f8f" stroke-width="0.8" stroke-linejoin="round"/><polygon points="609,305.4 614,300.4 630,300.4 625,305.4" fill="#44a0e4" stroke="#8f8f8f" stroke-width="0.8" stroke-linejoin="round"/><rect x="609" y="305.4" width="16" height="16" rx="0" fill="#1585d8" stroke="#8f8f8f" stroke-width="0.8" /><polygon points="633.2,277.7 638.2,272.7 638.2,288.7 633.2,293.7" fill="#136aaf" stroke="#8f8f8f" stroke-width="0.8" stroke-linejoin="round"/><polygon points="617.2,277.7 622.2,272.7 638.2,272.7 633.2,277.7" fill="#44a0e4" stroke="#8f8f8f" stroke-width="0.8" stroke-linejoin="round"/><rect x="617.2" y="277.7" width="16" height="16" rx="0" fill="#1585d8" stroke="#8f8f8f" stroke-width="0.8" /><polygon points="625,285.9 630,280.9 630,296.9 625,301.9" fill="#136aaf" stroke="#8f8f8f" stroke-width="0.8" stroke-linejoin="round"/><polygon points="609,285.9 614,280.9 630,280.9 625,285.9" fill="#44a0e4" stroke="#8f8f8f" stroke-width="0.8" stroke-linejoin="round"/><rect x="609" y="285.9" width="16" height="16" rx="0" fill="#1585d8" stroke="#8f8f8f" stroke-width="0.8" />
<g filter="url(#shadow)"><polygon points="666.5,359.4 687.9,338 742.9,338 742.9,393 721.5,414.4 666.5,414.4" fill="#777" opacity="0.55"/></g><polygon points="698.9,382 703.9,377 703.9,393 698.9,398" fill="#88b06c" stroke="#8f8f8f" stroke-width="0.8" stroke-linejoin="round"/><polygon points="682.9,382 687.9,377 703.9,377 698.9,382" fill="#bfe0a6" stroke="#8f8f8f" stroke-width="0.8" stroke-linejoin="round"/><rect x="682.9" y="382" width="16" height="16" rx="0" fill="#a9d18e" stroke="#8f8f8f" stroke-width="0.8" /><polygon points="690.7,390.2 695.7,385.2 695.7,401.2 690.7,406.2" fill="#88b06c" stroke="#8f8f8f" stroke-width="0.8" stroke-linejoin="round"/><polygon points="674.7,390.2 679.7,385.2 695.7,385.2 690.7,390.2" fill="#bfe0a6" stroke="#8f8f8f" stroke-width="0.8" stroke-linejoin="round"/><rect x="674.7" y="390.2" width="16" height="16" rx="0" fill="#a9d18e" stroke="#8f8f8f" stroke-width="0.8" /><polygon points="698.9,362.5 703.9,357.5 703.9,373.5 698.9,378.5" fill="#88b06c" stroke="#8f8f8f" stroke-width="0.8" stroke-linejoin="round"/><polygon points="682.9,362.5 687.9,357.5 703.9,357.5 698.9,362.5" fill="#bfe0a6" stroke="#8f8f8f" stroke-width="0.8" stroke-linejoin="round"/><rect x="682.9" y="362.5" width="16" height="16" rx="0" fill="#a9d18e" stroke="#8f8f8f" stroke-width="0.8" /><polygon points="718.4,382 723.4,377 723.4,393 718.4,398" fill="#88b06c" stroke="#8f8f8f" stroke-width="0.8" stroke-linejoin="round"/><polygon points="702.4,382 707.4,377 723.4,377 718.4,382" fill="#bfe0a6" stroke="#8f8f8f" stroke-width="0.8" stroke-linejoin="round"/><rect x="702.4" y="382" width="16" height="16" rx="0" fill="#a9d18e" stroke="#8f8f8f" stroke-width="0.8" /><polygon points="682.5,398.4 687.5,393.4 687.5,409.4 682.5,414.4" fill="#88b06c" stroke="#8f8f8f" stroke-width="0.8" stroke-linejoin="round"/><polygon points="666.5,398.4 671.5,393.4 687.5,393.4 682.5,398.4" fill="#bfe0a6" stroke="#8f8f8f" stroke-width="0.8" stroke-linejoin="round"/><rect x="666.5" y="398.4" width="16" height="16" rx="0" fill="#a9d18e" stroke="#8f8f8f" stroke-width="0.8" /><polygon points="690.7,370.7 695.7,365.7 695.7,381.7 690.7,386.7" fill="#88b06c" stroke="#8f8f8f" stroke-width="0.8" stroke-linejoin="round"/><polygon points="674.7,370.7 679.7,365.7 695.7,365.7 690.7,370.7" fill="#bfe0a6" stroke="#8f8f8f" stroke-width="0.8" stroke-linejoin="round"/><rect x="674.7" y="370.7" width="16" height="16" rx="0" fill="#a9d18e" stroke="#8f8f8f" stroke-width="0.8" /><polygon points="710.2,390.2 715.2,385.2 715.2,401.2 710.2,406.2" fill="#878484" stroke="#8f8f8f" stroke-width="0.8" stroke-linejoin="round"/><polygon points="694.2,390.2 699.2,385.2 715.2,385.2 710.2,390.2" fill="#bcb9b9" stroke="#8f8f8f" stroke-width="0.8" stroke-linejoin="round"/><rect x="694.2" y="390.2" width="16" height="16" rx="0" fill="#a6a3a3" stroke="#8f8f8f" stroke-width="0.8" /><polygon points="698.9,343 703.9,338 703.9,354 698.9,359" fill="#88b06c" stroke="#8f8f8f" stroke-width="0.8" stroke-linejoin="round"/><polygon points="682.9,343 687.9,338 703.9,338 698.9,343" fill="#bfe0a6" stroke="#8f8f8f" stroke-width="0.8" stroke-linejoin="round"/><rect x="682.9" y="343" width="16" height="16" rx="0" fill="#a9d18e" stroke="#8f8f8f" stroke-width="0.8" /><polygon points="718.4,362.5 723.4,357.5 723.4,373.5 718.4,378.5" fill="#88b06c" stroke="#8f8f8f" stroke-width="0.8" stroke-linejoin="round"/><polygon points="702.4,362.5 707.4,357.5 723.4,357.5 718.4,362.5" fill="#bfe0a6" stroke="#8f8f8f" stroke-width="0.8" stroke-linejoin="round"/><rect x="702.4" y="362.5" width="16" height="16" rx="0" fill="#a9d18e" stroke="#8f8f8f" stroke-width="0.8" /><polygon points="737.9,382 742.9,377 742.9,393 737.9,398" fill="#878484" stroke="#8f8f8f" stroke-width="0.8" stroke-linejoin="round"/><polygon points="721.9,382 726.9,377 742.9,377 737.9,382" fill="#bcb9b9" stroke="#8f8f8f" stroke-width="0.8" stroke-linejoin="round"/><rect x="721.9" y="382" width="16" height="16" rx="0" fill="#a6a3a3" stroke="#8f8f8f" stroke-width="0.8" /><polygon points="682.5,378.9 687.5,373.9 687.5,389.9 682.5,394.9" fill="#88b06c" stroke="#8f8f8f" stroke-width="0.8" stroke-linejoin="round"/><polygon points="666.5,378.9 671.5,373.9 687.5,373.9 682.5,378.9" fill="#bfe0a6" stroke="#8f8f8f" stroke-width="0.8" stroke-linejoin="round"/><rect x="666.5" y="378.9" width="16" height="16" rx="0" fill="#a9d18e" stroke="#8f8f8f" stroke-width="0.8" /><polygon points="702,398.4 707,393.4 707,409.4 702,414.4" fill="#88b06c" stroke="#8f8f8f" stroke-width="0.8" stroke-linejoin="round"/><polygon points="686,398.4 691,393.4 707,393.4 702,398.4" fill="#bfe0a6" stroke="#8f8f8f" stroke-width="0.8" stroke-linejoin="round"/><rect x="686" y="398.4" width="16" height="16" rx="0" fill="#a9d18e" stroke="#8f8f8f" stroke-width="0.8" /><polygon points="690.7,351.2 695.7,346.2 695.7,362.2 690.7,367.2" fill="#88b06c" stroke="#8f8f8f" stroke-width="0.8" stroke-linejoin="round"/><polygon points="674.7,351.2 679.7,346.2 695.7,346.2 690.7,351.2" fill="#bfe0a6" stroke="#8f8f8f" stroke-width="0.8" stroke-linejoin="round"/><rect x="674.7" y="351.2" width="16" height="16" rx="0" fill="#a9d18e" stroke="#8f8f8f" stroke-width="0.8" /><polygon points="710.2,370.7 715.2,365.7 715.2,381.7 710.2,386.7" fill="#878484" stroke="#8f8f8f" stroke-width="0.8" stroke-linejoin="round"/><polygon points="694.2,370.7 699.2,365.7 715.2,365.7 710.2,370.7" fill="#bcb9b9" stroke="#8f8f8f" stroke-width="0.8" stroke-linejoin="round"/><rect x="694.2" y="370.7" width="16" height="16" rx="0" fill="#a6a3a3" stroke="#8f8f8f" stroke-width="0.8" /><polygon points="729.7,390.2 734.7,385.2 734.7,401.2 729.7,406.2" fill="#878484" stroke="#8f8f8f" stroke-width="0.8" stroke-linejoin="round"/><polygon points="713.7,390.2 718.7,385.2 734.7,385.2 729.7,390.2" fill="#bcb9b9" stroke="#8f8f8f" stroke-width="0.8" stroke-linejoin="round"/><rect x="713.7" y="390.2" width="16" height="16" rx="0" fill="#a6a3a3" stroke="#8f8f8f" stroke-width="0.8" /><polygon points="718.4,343 723.4,338 723.4,354 718.4,359" fill="#88b06c" stroke="#8f8f8f" stroke-width="0.8" stroke-linejoin="round"/><polygon points="702.4,343 707.4,338 723.4,338 718.4,343" fill="#bfe0a6" stroke="#8f8f8f" stroke-width="0.8" stroke-linejoin="round"/><rect x="702.4" y="343" width="16" height="16" rx="0" fill="#a9d18e" stroke="#8f8f8f" stroke-width="0.8" /><polygon points="737.9,362.5 742.9,357.5 742.9,373.5 737.9,378.5" fill="#878484" stroke="#8f8f8f" stroke-width="0.8" stroke-linejoin="round"/><polygon points="721.9,362.5 726.9,357.5 742.9,357.5 737.9,362.5" fill="#bcb9b9" stroke="#8f8f8f" stroke-width="0.8" stroke-linejoin="round"/><rect x="721.9" y="362.5" width="16" height="16" rx="0" fill="#a6a3a3" stroke="#8f8f8f" stroke-width="0.8" /><polygon points="682.5,359.4 687.5,354.4 687.5,370.4 682.5,375.4" fill="#88b06c" stroke="#8f8f8f" stroke-width="0.8" stroke-linejoin="round"/><polygon points="666.5,359.4 671.5,354.4 687.5,354.4 682.5,359.4" fill="#bfe0a6" stroke="#8f8f8f" stroke-width="0.8" stroke-linejoin="round"/><rect x="666.5" y="359.4" width="16" height="16" rx="0" fill="#a9d18e" stroke="#8f8f8f" stroke-width="0.8" /><polygon points="702,378.9 707,373.9 707,389.9 702,394.9" fill="#88b06c" stroke="#8f8f8f" stroke-width="0.8" stroke-linejoin="round"/><polygon points="686,378.9 691,373.9 707,373.9 702,378.9" fill="#bfe0a6" stroke="#8f8f8f" stroke-width="0.8" stroke-linejoin="round"/><rect x="686" y="378.9" width="16" height="16" rx="0" fill="#a9d18e" stroke="#8f8f8f" stroke-width="0.8" /><polygon points="721.5,398.4 726.5,393.4 726.5,409.4 721.5,414.4" fill="#878484" stroke="#8f8f8f" stroke-width="0.8" stroke-linejoin="round"/><polygon points="705.5,398.4 710.5,393.4 726.5,393.4 721.5,398.4" fill="#bcb9b9" stroke="#8f8f8f" stroke-width="0.8" stroke-linejoin="round"/><rect x="705.5" y="398.4" width="16" height="16" rx="0" fill="#a6a3a3" stroke="#8f8f8f" stroke-width="0.8" /><polygon points="710.2,351.2 715.2,346.2 715.2,362.2 710.2,367.2" fill="#878484" stroke="#8f8f8f" stroke-width="0.8" stroke-linejoin="round"/><polygon points="694.2,351.2 699.2,346.2 715.2,346.2 710.2,351.2" fill="#bcb9b9" stroke="#8f8f8f" stroke-width="0.8" stroke-linejoin="round"/><rect x="694.2" y="351.2" width="16" height="16" rx="0" fill="#a6a3a3" stroke="#8f8f8f" stroke-width="0.8" /><polygon points="729.7,370.7 734.7,365.7 734.7,381.7 729.7,386.7" fill="#878484" stroke="#8f8f8f" stroke-width="0.8" stroke-linejoin="round"/><polygon points="713.7,370.7 718.7,365.7 734.7,365.7 729.7,370.7" fill="#bcb9b9" stroke="#8f8f8f" stroke-width="0.8" stroke-linejoin="round"/><rect x="713.7" y="370.7" width="16" height="16" rx="0" fill="#a6a3a3" stroke="#8f8f8f" stroke-width="0.8" /><polygon points="737.9,343 742.9,338 742.9,354 737.9,359" fill="#878484" stroke="#8f8f8f" stroke-width="0.8" stroke-linejoin="round"/><polygon points="721.9,343 726.9,338 742.9,338 737.9,343" fill="#bcb9b9" stroke="#8f8f8f" stroke-width="0.8" stroke-linejoin="round"/><rect x="721.9" y="343" width="16" height="16" rx="0" fill="#a6a3a3" stroke="#8f8f8f" stroke-width="0.8" /><polygon points="702,359.4 707,354.4 707,370.4 702,375.4" fill="#88b06c" stroke="#8f8f8f" stroke-width="0.8" stroke-linejoin="round"/><polygon points="686,359.4 691,354.4 707,354.4 702,359.4" fill="#bfe0a6" stroke="#8f8f8f" stroke-width="0.8" stroke-linejoin="round"/><rect x="686" y="359.4" width="16" height="16" rx="0" fill="#a9d18e" stroke="#8f8f8f" stroke-width="0.8" /><polygon points="721.5,378.9 726.5,373.9 726.5,389.9 721.5,394.9" fill="#878484" stroke="#8f8f8f" stroke-width="0.8" stroke-linejoin="round"/><polygon points="705.5,378.9 710.5,373.9 726.5,373.9 721.5,378.9" fill="#bcb9b9" stroke="#8f8f8f" stroke-width="0.8" stroke-linejoin="round"/><rect x="705.5" y="378.9" width="16" height="16" rx="0" fill="#a6a3a3" stroke="#8f8f8f" stroke-width="0.8" /><polygon points="729.7,351.2 734.7,346.2 734.7,362.2 729.7,367.2" fill="#878484" stroke="#8f8f8f" stroke-width="0.8" stroke-linejoin="round"/><polygon points="713.7,351.2 718.7,346.2 734.7,346.2 729.7,351.2" fill="#bcb9b9" stroke="#8f8f8f" stroke-width="0.8" stroke-linejoin="round"/><rect x="713.7" y="351.2" width="16" height="16" rx="0" fill="#a6a3a3" stroke="#8f8f8f" stroke-width="0.8" /><polygon points="721.5,359.4 726.5,354.4 726.5,370.4 721.5,375.4" fill="#878484" stroke="#8f8f8f" stroke-width="0.8" stroke-linejoin="round"/><polygon points="705.5,359.4 710.5,354.4 726.5,354.4 721.5,359.4" fill="#bcb9b9" stroke="#8f8f8f" stroke-width="0.8" stroke-linejoin="round"/><rect x="705.5" y="359.4" width="16" height="16" rx="0" fill="#a6a3a3" stroke="#8f8f8f" stroke-width="0.8" />
<g filter="url(#shadow)"><polygon points="133,523.4 154.4,502 209.4,502 209.4,557 188,578.4 133,578.4" fill="#777" opacity="0.55"/></g><polygon points="165.4,546 170.4,541 170.4,557 165.4,562" fill="#136aaf" stroke="#8f8f8f" stroke-width="0.8" stroke-linejoin="round"/><polygon points="149.4,546 154.4,541 170.4,541 165.4,546" fill="#44a0e4" stroke="#8f8f8f" stroke-width="0.8" stroke-linejoin="round"/><rect x="149.4" y="546" width="16" height="16" rx="0" fill="#1585d8" stroke="#8f8f8f" stroke-width="0.8" /><polygon points="157.2,554.2 162.2,549.2 162.2,565.2 157.2,570.2" fill="#136aaf" stroke="#8f8f8f" stroke-width="0.8" stroke-linejoin="round"/><polygon points="141.2,554.2 146.2,549.2 162.2,549.2 157.2,554.2" fill="#44a0e4" stroke="#8f8f8f" stroke-width="0.8" stroke-linejoin="round"/><rect x="141.2" y="554.2" width="16" height="16" rx="0" fill="#1585d8" stroke="#8f8f8f" stroke-width="0.8" /><polygon points="165.4,526.5 170.4,521.5 170.4,537.5 165.4,542.5" fill="#136aaf" stroke="#8f8f8f" stroke-width="0.8" stroke-linejoin="round"/><polygon points="149.4,526.5 154.4,521.5 170.4,521.5 165.4,526.5" fill="#44a0e4" stroke="#8f8f8f" stroke-width="0.8" stroke-linejoin="round"/><rect x="149.4" y="526.5" width="16" height="16" rx="0" fill="#1585d8" stroke="#8f8f8f" stroke-width="0.8" /><polygon points="184.9,546 189.9,541 189.9,557 184.9,562" fill="#136aaf" stroke="#8f8f8f" stroke-width="0.8" stroke-linejoin="round"/><polygon points="168.9,546 173.9,541 189.9,541 184.9,546" fill="#44a0e4" stroke="#8f8f8f" stroke-width="0.8" stroke-linejoin="round"/><rect x="168.9" y="546" width="16" height="16" rx="0" fill="#1585d8" stroke="#8f8f8f" stroke-width="0.8" /><polygon points="149,562.4 154,557.4 154,573.4 149,578.4" fill="#136aaf" stroke="#8f8f8f" stroke-width="0.8" stroke-linejoin="round"/><polygon points="133,562.4 138,557.4 154,557.4 149,562.4" fill="#44a0e4" stroke="#8f8f8f" stroke-width="0.8" stroke-linejoin="round"/><rect x="133" y="562.4" width="16" height="16" rx="0" fill="#1585d8" stroke="#8f8f8f" stroke-width="0.8" /><polygon points="157.2,534.7 162.2,529.7 162.2,545.7 157.2,550.7" fill="#136aaf" stroke="#8f8f8f" stroke-width="0.8" stroke-linejoin="round"/><polygon points="141.2,534.7 146.2,529.7 162.2,529.7 157.2,534.7" fill="#44a0e4" stroke="#8f8f8f" stroke-width="0.8" stroke-linejoin="round"/><rect x="141.2" y="534.7" width="16" height="16" rx="0" fill="#1585d8" stroke="#8f8f8f" stroke-width="0.8" /><polygon points="176.7,554.2 181.7,549.2 181.7,565.2 176.7,570.2" fill="#136aaf" stroke="#8f8f8f" stroke-width="0.8" stroke-linejoin="round"/><polygon points="160.7,554.2 165.7,549.2 181.7,549.2 176.7,554.2" fill="#44a0e4" stroke="#8f8f8f" stroke-width="0.8" stroke-linejoin="round"/><rect x="160.7" y="554.2" width="16" height="16" rx="0" fill="#1585d8" stroke="#8f8f8f" stroke-width="0.8" /><polygon points="165.4,507 170.4,502 170.4,518 165.4,523" fill="#136aaf" stroke="#8f8f8f" stroke-width="0.8" stroke-linejoin="round"/><polygon points="149.4,507 154.4,502 170.4,502 165.4,507" fill="#44a0e4" stroke="#8f8f8f" stroke-width="0.8" stroke-linejoin="round"/><rect x="149.4" y="507" width="16" height="16" rx="0" fill="#1585d8" stroke="#8f8f8f" stroke-width="0.8" /><polygon points="184.9,526.5 189.9,521.5 189.9,537.5 184.9,542.5" fill="#136aaf" stroke="#8f8f8f" stroke-width="0.8" stroke-linejoin="round"/><polygon points="168.9,526.5 173.9,521.5 189.9,521.5 184.9,526.5" fill="#44a0e4" stroke="#8f8f8f" stroke-width="0.8" stroke-linejoin="round"/><rect x="168.9" y="526.5" width="16" height="16" rx="0" fill="#1585d8" stroke="#8f8f8f" stroke-width="0.8" /><polygon points="204.4,546 209.4,541 209.4,557 204.4,562" fill="#136aaf" stroke="#8f8f8f" stroke-width="0.8" stroke-linejoin="round"/><polygon points="188.4,546 193.4,541 209.4,541 204.4,546" fill="#44a0e4" stroke="#8f8f8f" stroke-width="0.8" stroke-linejoin="round"/><rect x="188.4" y="546" width="16" height="16" rx="0" fill="#1585d8" stroke="#8f8f8f" stroke-width="0.8" /><polygon points="149,542.9 154,537.9 154,553.9 149,558.9" fill="#136aaf" stroke="#8f8f8f" stroke-width="0.8" stroke-linejoin="round"/><polygon points="133,542.9 138,537.9 154,537.9 149,542.9" fill="#44a0e4" stroke="#8f8f8f" stroke-width="0.8" stroke-linejoin="round"/><rect x="133" y="542.9" width="16" height="16" rx="0" fill="#1585d8" stroke="#8f8f8f" stroke-width="0.8" /><polygon points="168.5,562.4 173.5,557.4 173.5,573.4 168.5,578.4" fill="#136aaf" stroke="#8f8f8f" stroke-width="0.8" stroke-linejoin="round"/><polygon points="152.5,562.4 157.5,557.4 173.5,557.4 168.5,562.4" fill="#44a0e4" stroke="#8f8f8f" stroke-width="0.8" stroke-linejoin="round"/><rect x="152.5" y="562.4" width="16" height="16" rx="0" fill="#1585d8" stroke="#8f8f8f" stroke-width="0.8" /><polygon points="157.2,515.2 162.2,510.2 162.2,526.2 157.2,531.2" fill="#136aaf" stroke="#8f8f8f" stroke-width="0.8" stroke-linejoin="round"/><polygon points="141.2,515.2 146.2,510.2 162.2,510.2 157.2,515.2" fill="#44a0e4" stroke="#8f8f8f" stroke-width="0.8" stroke-linejoin="round"/><rect x="141.2" y="515.2" width="16" height="16" rx="0" fill="#1585d8" stroke="#8f8f8f" stroke-width="0.8" /><polygon points="176.7,534.7 181.7,529.7 181.7,545.7 176.7,550.7" fill="#136aaf" stroke="#8f8f8f" stroke-width="0.8" stroke-linejoin="round"/><polygon points="160.7,534.7 165.7,529.7 181.7,529.7 176.7,534.7" fill="#44a0e4" stroke="#8f8f8f" stroke-width="0.8" stroke-linejoin="round"/><rect x="160.7" y="534.7" width="16" height="16" rx="0" fill="#1585d8" stroke="#8f8f8f" stroke-width="0.8" /><polygon points="196.2,554.2 201.2,549.2 201.2,565.2 196.2,570.2" fill="#136aaf" stroke="#8f8f8f" stroke-width="0.8" stroke-linejoin="round"/><polygon points="180.2,554.2 185.2,549.2 201.2,549.2 196.2,554.2" fill="#44a0e4" stroke="#8f8f8f" stroke-width="0.8" stroke-linejoin="round"/><rect x="180.2" y="554.2" width="16" height="16" rx="0" fill="#1585d8" stroke="#8f8f8f" stroke-width="0.8" /><polygon points="184.9,507 189.9,502 189.9,518 184.9,523" fill="#136aaf" stroke="#8f8f8f" stroke-width="0.8" stroke-linejoin="round"/><polygon points="168.9,507 173.9,502 189.9,502 184.9,507" fill="#44a0e4" stroke="#8f8f8f" stroke-width="0.8" stroke-linejoin="round"/><rect x="168.9" y="507" width="16" height="16" rx="0" fill="#1585d8" stroke="#8f8f8f" stroke-width="0.8" /><polygon points="204.4,526.5 209.4,521.5 209.4,537.5 204.4,542.5" fill="#136aaf" stroke="#8f8f8f" stroke-width="0.8" stroke-linejoin="round"/><polygon points="188.4,526.5 193.4,521.5 209.4,521.5 204.4,526.5" fill="#44a0e4" stroke="#8f8f8f" stroke-width="0.8" stroke-linejoin="round"/><rect x="188.4" y="526.5" width="16" height="16" rx="0" fill="#1585d8" stroke="#8f8f8f" stroke-width="0.8" /><polygon points="149,523.4 154,518.4 154,534.4 149,539.4" fill="#136aaf" stroke="#8f8f8f" stroke-width="0.8" stroke-linejoin="round"/><polygon points="133,523.4 138,518.4 154,518.4 149,523.4" fill="#44a0e4" stroke="#8f8f8f" stroke-width="0.8" stroke-linejoin="round"/><rect x="133" y="523.4" width="16" height="16" rx="0" fill="#1585d8" stroke="#8f8f8f" stroke-width="0.8" /><polygon points="168.5,542.9 173.5,537.9 173.5,553.9 168.5,558.9" fill="#136aaf" stroke="#8f8f8f" stroke-width="0.8" stroke-linejoin="round"/><polygon points="152.5,542.9 157.5,537.9 173.5,537.9 168.5,542.9" fill="#44a0e4" stroke="#8f8f8f" stroke-width="0.8" stroke-linejoin="round"/><rect x="152.5" y="542.9" width="16" height="16" rx="0" fill="#1585d8" stroke="#8f8f8f" stroke-width="0.8" /><polygon points="188,562.4 193,557.4 193,573.4 188,578.4" fill="#136aaf" stroke="#8f8f8f" stroke-width="0.8" stroke-linejoin="round"/><polygon points="172,562.4 177,557.4 193,557.4 188,562.4" fill="#44a0e4" stroke="#8f8f8f" stroke-width="0.8" stroke-linejoin="round"/><rect x="172" y="562.4" width="16" height="16" rx="0" fill="#1585d8" stroke="#8f8f8f" stroke-width="0.8" /><polygon points="176.7,515.2 181.7,510.2 181.7,526.2 176.7,531.2" fill="#136aaf" stroke="#8f8f8f" stroke-width="0.8" stroke-linejoin="round"/><polygon points="160.7,515.2 165.7,510.2 181.7,510.2 176.7,515.2" fill="#44a0e4" stroke="#8f8f8f" stroke-width="0.8" stroke-linejoin="round"/><rect x="160.7" y="515.2" width="16" height="16" rx="0" fill="#1585d8" stroke="#8f8f8f" stroke-width="0.8" /><polygon points="196.2,534.7 201.2,529.7 201.2,545.7 196.2,550.7" fill="#136aaf" stroke="#8f8f8f" stroke-width="0.8" stroke-linejoin="round"/><polygon points="180.2,534.7 185.2,529.7 201.2,529.7 196.2,534.7" fill="#44a0e4" stroke="#8f8f8f" stroke-width="0.8" stroke-linejoin="round"/><rect x="180.2" y="534.7" width="16" height="16" rx="0" fill="#1585d8" stroke="#8f8f8f" stroke-width="0.8" /><polygon points="204.4,507 209.4,502 209.4,518 204.4,523" fill="#136aaf" stroke="#8f8f8f" stroke-width="0.8" stroke-linejoin="round"/><polygon points="188.4,507 193.4,502 209.4,502 204.4,507" fill="#44a0e4" stroke="#8f8f8f" stroke-width="0.8" stroke-linejoin="round"/><rect x="188.4" y="507" width="16" height="16" rx="0" fill="#1585d8" stroke="#8f8f8f" stroke-width="0.8" /><polygon points="168.5,523.4 173.5,518.4 173.5,534.4 168.5,539.4" fill="#136aaf" stroke="#8f8f8f" stroke-width="0.8" stroke-linejoin="round"/><polygon points="152.5,523.4 157.5,518.4 173.5,518.4 168.5,523.4" fill="#44a0e4" stroke="#8f8f8f" stroke-width="0.8" stroke-linejoin="round"/><rect x="152.5" y="523.4" width="16" height="16" rx="0" fill="#1585d8" stroke="#8f8f8f" stroke-width="0.8" /><polygon points="188,542.9 193,537.9 193,553.9 188,558.9" fill="#136aaf" stroke="#8f8f8f" stroke-width="0.8" stroke-linejoin="round"/><polygon points="172,542.9 177,537.9 193,537.9 188,542.9" fill="#44a0e4" stroke="#8f8f8f" stroke-width="0.8" stroke-linejoin="round"/><rect x="172" y="542.9" width="16" height="16" rx="0" fill="#1585d8" stroke="#8f8f8f" stroke-width="0.8" /><polygon points="196.2,515.2 201.2,510.2 201.2,526.2 196.2,531.2" fill="#136aaf" stroke="#8f8f8f" stroke-width="0.8" stroke-linejoin="round"/><polygon points="180.2,515.2 185.2,510.2 201.2,510.2 196.2,515.2" fill="#44a0e4" stroke="#8f8f8f" stroke-width="0.8" stroke-linejoin="round"/><rect x="180.2" y="515.2" width="16" height="16" rx="0" fill="#1585d8" stroke="#8f8f8f" stroke-width="0.8" /><polygon points="188,523.4 193,518.4 193,534.4 188,539.4" fill="#136aaf" stroke="#8f8f8f" stroke-width="0.8" stroke-linejoin="round"/><polygon points="172,523.4 177,518.4 193,518.4 188,523.4" fill="#44a0e4" stroke="#8f8f8f" stroke-width="0.8" stroke-linejoin="round"/><rect x="172" y="523.4" width="16" height="16" rx="0" fill="#1585d8" stroke="#8f8f8f" stroke-width="0.8" />
<g filter="url(#shadow)"><polygon points="133,628.9 154.4,607.5 209.4,607.5 209.4,662.5 188,683.9 133,683.9" fill="#777" opacity="0.55"/></g><polygon points="165.4,651.5 170.4,646.5 170.4,662.5 165.4,667.5" fill="#88b06c" stroke="#8f8f8f" stroke-width="0.8" stroke-linejoin="round"/><polygon points="149.4,651.5 154.4,646.5 170.4,646.5 165.4,651.5" fill="#bfe0a6" stroke="#8f8f8f" stroke-width="0.8" stroke-linejoin="round"/><rect x="149.4" y="651.5" width="16" height="16" rx="0" fill="#a9d18e" stroke="#8f8f8f" stroke-width="0.8" /><polygon points="157.2,659.7 162.2,654.7 162.2,670.7 157.2,675.7" fill="#88b06c" stroke="#8f8f8f" stroke-width="0.8" stroke-linejoin="round"/><polygon points="141.2,659.7 146.2,654.7 162.2,654.7 157.2,659.7" fill="#bfe0a6" stroke="#8f8f8f" stroke-width="0.8" stroke-linejoin="round"/><rect x="141.2" y="659.7" width="16" height="16" rx="0" fill="#a9d18e" stroke="#8f8f8f" stroke-width="0.8" /><polygon points="165.4,632 170.4,627 170.4,643 165.4,648" fill="#88b06c" stroke="#8f8f8f" stroke-width="0.8" stroke-linejoin="round"/><polygon points="149.4,632 154.4,627 170.4,627 165.4,632" fill="#bfe0a6" stroke="#8f8f8f" stroke-width="0.8" stroke-linejoin="round"/><rect x="149.4" y="632" width="16" height="16" rx="0" fill="#a9d18e" stroke="#8f8f8f" stroke-width="0.8" /><polygon points="184.9,651.5 189.9,646.5 189.9,662.5 184.9,667.5" fill="#88b06c" stroke="#8f8f8f" stroke-width="0.8" stroke-linejoin="round"/><polygon points="168.9,651.5 173.9,646.5 189.9,646.5 184.9,651.5" fill="#bfe0a6" stroke="#8f8f8f" stroke-width="0.8" stroke-linejoin="round"/><rect x="168.9" y="651.5" width="16" height="16" rx="0" fill="#a9d18e" stroke="#8f8f8f" stroke-width="0.8" /><polygon points="149,667.9 154,662.9 154,678.9 149,683.9" fill="#88b06c" stroke="#8f8f8f" stroke-width="0.8" stroke-linejoin="round"/><polygon points="133,667.9 138,662.9 154,662.9 149,667.9" fill="#bfe0a6" stroke="#8f8f8f" stroke-width="0.8" stroke-linejoin="round"/><rect x="133" y="667.9" width="16" height="16" rx="0" fill="#a9d18e" stroke="#8f8f8f" stroke-width="0.8" /><polygon points="157.2,640.2 162.2,635.2 162.2,651.2 157.2,656.2" fill="#88b06c" stroke="#8f8f8f" stroke-width="0.8" stroke-linejoin="round"/><polygon points="141.2,640.2 146.2,635.2 162.2,635.2 157.2,640.2" fill="#bfe0a6" stroke="#8f8f8f" stroke-width="0.8" stroke-linejoin="round"/><rect x="141.2" y="640.2" width="16" height="16" rx="0" fill="#a9d18e" stroke="#8f8f8f" stroke-width="0.8" /><polygon points="176.7,659.7 181.7,654.7 181.7,670.7 176.7,675.7" fill="#88b06c" stroke="#8f8f8f" stroke-width="0.8" stroke-linejoin="round"/><polygon points="160.7,659.7 165.7,654.7 181.7,654.7 176.7,659.7" fill="#bfe0a6" stroke="#8f8f8f" stroke-width="0.8" stroke-linejoin="round"/><rect x="160.7" y="659.7" width="16" height="16" rx="0" fill="#a9d18e" stroke="#8f8f8f" stroke-width="0.8" /><polygon points="165.4,612.5 170.4,607.5 170.4,623.5 165.4,628.5" fill="#88b06c" stroke="#8f8f8f" stroke-width="0.8" stroke-linejoin="round"/><polygon points="149.4,612.5 154.4,607.5 170.4,607.5 165.4,612.5" fill="#bfe0a6" stroke="#8f8f8f" stroke-width="0.8" stroke-linejoin="round"/><rect x="149.4" y="612.5" width="16" height="16" rx="0" fill="#a9d18e" stroke="#8f8f8f" stroke-width="0.8" /><polygon points="184.9,632 189.9,627 189.9,643 184.9,648" fill="#88b06c" stroke="#8f8f8f" stroke-width="0.8" stroke-linejoin="round"/><polygon points="168.9,632 173.9,627 189.9,627 184.9,632" fill="#bfe0a6" stroke="#8f8f8f" stroke-width="0.8" stroke-linejoin="round"/><rect x="168.9" y="632" width="16" height="16" rx="0" fill="#a9d18e" stroke="#8f8f8f" stroke-width="0.8" /><polygon points="204.4,651.5 209.4,646.5 209.4,662.5 204.4,667.5" fill="#88b06c" stroke="#8f8f8f" stroke-width="0.8" stroke-linejoin="round"/><polygon points="188.4,651.5 193.4,646.5 209.4,646.5 204.4,651.5" fill="#bfe0a6" stroke="#8f8f8f" stroke-width="0.8" stroke-linejoin="round"/><rect x="188.4" y="651.5" width="16" height="16" rx="0" fill="#a9d18e" stroke="#8f8f8f" stroke-width="0.8" /><polygon points="149,648.4 154,643.4 154,659.4 149,664.4" fill="#88b06c" stroke="#8f8f8f" stroke-width="0.8" stroke-linejoin="round"/><polygon points="133,648.4 138,643.4 154,643.4 149,648.4" fill="#bfe0a6" stroke="#8f8f8f" stroke-width="0.8" stroke-linejoin="round"/><rect x="133" y="648.4" width="16" height="16" rx="0" fill="#a9d18e" stroke="#8f8f8f" stroke-width="0.8" /><polygon points="168.5,667.9 173.5,662.9 173.5,678.9 168.5,683.9" fill="#88b06c" stroke="#8f8f8f" stroke-width="0.8" stroke-linejoin="round"/><polygon points="152.5,667.9 157.5,662.9 173.5,662.9 168.5,667.9" fill="#bfe0a6" stroke="#8f8f8f" stroke-width="0.8" stroke-linejoin="round"/><rect x="152.5" y="667.9" width="16" height="16" rx="0" fill="#a9d18e" stroke="#8f8f8f" stroke-width="0.8" /><polygon points="157.2,620.7 162.2,615.7 162.2,631.7 157.2,636.7" fill="#88b06c" stroke="#8f8f8f" stroke-width="0.8" stroke-linejoin="round"/><polygon points="141.2,620.7 146.2,615.7 162.2,615.7 157.2,620.7" fill="#bfe0a6" stroke="#8f8f8f" stroke-width="0.8" stroke-linejoin="round"/><rect x="141.2" y="620.7" width="16" height="16" rx="0" fill="#a9d18e" stroke="#8f8f8f" stroke-width="0.8" /><polygon points="176.7,640.2 181.7,635.2 181.7,651.2 176.7,656.2" fill="#88b06c" stroke="#8f8f8f" stroke-width="0.8" stroke-linejoin="round"/><polygon points="160.7,640.2 165.7,635.2 181.7,635.2 176.7,640.2" fill="#bfe0a6" stroke="#8f8f8f" stroke-width="0.8" stroke-linejoin="round"/><rect x="160.7" y="640.2" width="16" height="16" rx="0" fill="#a9d18e" stroke="#8f8f8f" stroke-width="0.8" /><polygon points="196.2,659.7 201.2,654.7 201.2,670.7 196.2,675.7" fill="#88b06c" stroke="#8f8f8f" stroke-width="0.8" stroke-linejoin="round"/><polygon points="180.2,659.7 185.2,654.7 201.2,654.7 196.2,659.7" fill="#bfe0a6" stroke="#8f8f8f" stroke-width="0.8" stroke-linejoin="round"/><rect x="180.2" y="659.7" width="16" height="16" rx="0" fill="#a9d18e" stroke="#8f8f8f" stroke-width="0.8" /><polygon points="184.9,612.5 189.9,607.5 189.9,623.5 184.9,628.5" fill="#88b06c" stroke="#8f8f8f" stroke-width="0.8" stroke-linejoin="round"/><polygon points="168.9,612.5 173.9,607.5 189.9,607.5 184.9,612.5" fill="#bfe0a6" stroke="#8f8f8f" stroke-width="0.8" stroke-linejoin="round"/><rect x="168.9" y="612.5" width="16" height="16" rx="0" fill="#a9d18e" stroke="#8f8f8f" stroke-width="0.8" /><polygon points="204.4,632 209.4,627 209.4,643 204.4,648" fill="#88b06c" stroke="#8f8f8f" stroke-width="0.8" stroke-linejoin="round"/><polygon points="188.4,632 193.4,627 209.4,627 204.4,632" fill="#bfe0a6" stroke="#8f8f8f" stroke-width="0.8" stroke-linejoin="round"/><rect x="188.4" y="632" width="16" height="16" rx="0" fill="#a9d18e" stroke="#8f8f8f" stroke-width="0.8" /><polygon points="149,628.9 154,623.9 154,639.9 149,644.9" fill="#88b06c" stroke="#8f8f8f" stroke-width="0.8" stroke-linejoin="round"/><polygon points="133,628.9 138,623.9 154,623.9 149,628.9" fill="#bfe0a6" stroke="#8f8f8f" stroke-width="0.8" stroke-linejoin="round"/><rect x="133" y="628.9" width="16" height="16" rx="0" fill="#a9d18e" stroke="#8f8f8f" stroke-width="0.8" /><polygon points="168.5,648.4 173.5,643.4 173.5,659.4 168.5,664.4" fill="#88b06c" stroke="#8f8f8f" stroke-width="0.8" stroke-linejoin="round"/><polygon points="152.5,648.4 157.5,643.4 173.5,643.4 168.5,648.4" fill="#bfe0a6" stroke="#8f8f8f" stroke-width="0.8" stroke-linejoin="round"/><rect x="152.5" y="648.4" width="16" height="16" rx="0" fill="#a9d18e" stroke="#8f8f8f" stroke-width="0.8" /><polygon points="188,667.9 193,662.9 193,678.9 188,683.9" fill="#88b06c" stroke="#8f8f8f" stroke-width="0.8" stroke-linejoin="round"/><polygon points="172,667.9 177,662.9 193,662.9 188,667.9" fill="#bfe0a6" stroke="#8f8f8f" stroke-width="0.8" stroke-linejoin="round"/><rect x="172" y="667.9" width="16" height="16" rx="0" fill="#a9d18e" stroke="#8f8f8f" stroke-width="0.8" /><polygon points="176.7,620.7 181.7,615.7 181.7,631.7 176.7,636.7" fill="#88b06c" stroke="#8f8f8f" stroke-width="0.8" stroke-linejoin="round"/><polygon points="160.7,620.7 165.7,615.7 181.7,615.7 176.7,620.7" fill="#bfe0a6" stroke="#8f8f8f" stroke-width="0.8" stroke-linejoin="round"/><rect x="160.7" y="620.7" width="16" height="16" rx="0" fill="#a9d18e" stroke="#8f8f8f" stroke-width="0.8" /><polygon points="196.2,640.2 201.2,635.2 201.2,651.2 196.2,656.2" fill="#88b06c" stroke="#8f8f8f" stroke-width="0.8" stroke-linejoin="round"/><polygon points="180.2,640.2 185.2,635.2 201.2,635.2 196.2,640.2" fill="#bfe0a6" stroke="#8f8f8f" stroke-width="0.8" stroke-linejoin="round"/><rect x="180.2" y="640.2" width="16" height="16" rx="0" fill="#a9d18e" stroke="#8f8f8f" stroke-width="0.8" /><polygon points="204.4,612.5 209.4,607.5 209.4,623.5 204.4,628.5" fill="#88b06c" stroke="#8f8f8f" stroke-width="0.8" stroke-linejoin="round"/><polygon points="188.4,612.5 193.4,607.5 209.4,607.5 204.4,612.5" fill="#bfe0a6" stroke="#8f8f8f" stroke-width="0.8" stroke-linejoin="round"/><rect x="188.4" y="612.5" width="16" height="16" rx="0" fill="#a9d18e" stroke="#8f8f8f" stroke-width="0.8" /><polygon points="168.5,628.9 173.5,623.9 173.5,639.9 168.5,644.9" fill="#88b06c" stroke="#8f8f8f" stroke-width="0.8" stroke-linejoin="round"/><polygon points="152.5,628.9 157.5,623.9 173.5,623.9 168.5,628.9" fill="#bfe0a6" stroke="#8f8f8f" stroke-width="0.8" stroke-linejoin="round"/><rect x="152.5" y="628.9" width="16" height="16" rx="0" fill="#a9d18e" stroke="#8f8f8f" stroke-width="0.8" /><polygon points="188,648.4 193,643.4 193,659.4 188,664.4" fill="#88b06c" stroke="#8f8f8f" stroke-width="0.8" stroke-linejoin="round"/><polygon points="172,648.4 177,643.4 193,643.4 188,648.4" fill="#bfe0a6" stroke="#8f8f8f" stroke-width="0.8" stroke-linejoin="round"/><rect x="172" y="648.4" width="16" height="16" rx="0" fill="#a9d18e" stroke="#8f8f8f" stroke-width="0.8" /><polygon points="196.2,620.7 201.2,615.7 201.2,631.7 196.2,636.7" fill="#88b06c" stroke="#8f8f8f" stroke-width="0.8" stroke-linejoin="round"/><polygon points="180.2,620.7 185.2,615.7 201.2,615.7 196.2,620.7" fill="#bfe0a6" stroke="#8f8f8f" stroke-width="0.8" stroke-linejoin="round"/><rect x="180.2" y="620.7" width="16" height="16" rx="0" fill="#a9d18e" stroke="#8f8f8f" stroke-width="0.8" /><polygon points="188,628.9 193,623.9 193,639.9 188,644.9" fill="#88b06c" stroke="#8f8f8f" stroke-width="0.8" stroke-linejoin="round"/><polygon points="172,628.9 177,623.9 193,623.9 188,628.9" fill="#bfe0a6" stroke="#8f8f8f" stroke-width="0.8" stroke-linejoin="round"/><rect x="172" y="628.9" width="16" height="16" rx="0" fill="#a9d18e" stroke="#8f8f8f" stroke-width="0.8" />
<g filter="url(#shadow)"><polygon points="688,523.9 709.4,502.5 764.4,502.5 764.4,557.5 743,578.9 688,578.9" fill="#777" opacity="0.55"/></g><polygon points="720.4,546.5 725.4,541.5 725.4,557.5 720.4,562.5" fill="#878484" stroke="#8f8f8f" stroke-width="0.8" stroke-linejoin="round"/><polygon points="704.4,546.5 709.4,541.5 725.4,541.5 720.4,546.5" fill="#bcb9b9" stroke="#8f8f8f" stroke-width="0.8" stroke-linejoin="round"/><rect x="704.4" y="546.5" width="16" height="16" rx="0" fill="#a6a3a3" stroke="#8f8f8f" stroke-width="0.8" /><polygon points="712.2,554.7 717.2,549.7 717.2,565.7 712.2,570.7" fill="#878484" stroke="#8f8f8f" stroke-width="0.8" stroke-linejoin="round"/><polygon points="696.2,554.7 701.2,549.7 717.2,549.7 712.2,554.7" fill="#bcb9b9" stroke="#8f8f8f" stroke-width="0.8" stroke-linejoin="round"/><rect x="696.2" y="554.7" width="16" height="16" rx="0" fill="#a6a3a3" stroke="#8f8f8f" stroke-width="0.8" /><polygon points="720.4,527 725.4,522 725.4,538 720.4,543" fill="#878484" stroke="#8f8f8f" stroke-width="0.8" stroke-linejoin="round"/><polygon points="704.4,527 709.4,522 725.4,522 720.4,527" fill="#bcb9b9" stroke="#8f8f8f" stroke-width="0.8" stroke-linejoin="round"/><rect x="704.4" y="527" width="16" height="16" rx="0" fill="#a6a3a3" stroke="#8f8f8f" stroke-width="0.8" /><polygon points="739.9,546.5 744.9,541.5 744.9,557.5 739.9,562.5" fill="#878484" stroke="#8f8f8f" stroke-width="0.8" stroke-linejoin="round"/><polygon points="723.9,546.5 728.9,541.5 744.9,541.5 739.9,546.5" fill="#bcb9b9" stroke="#8f8f8f" stroke-width="0.8" stroke-linejoin="round"/><rect x="723.9" y="546.5" width="16" height="16" rx="0" fill="#a6a3a3" stroke="#8f8f8f" stroke-width="0.8" /><polygon points="704,562.9 709,557.9 709,573.9 704,578.9" fill="#878484" stroke="#8f8f8f" stroke-width="0.8" stroke-linejoin="round"/><polygon points="688,562.9 693,557.9 709,557.9 704,562.9" fill="#bcb9b9" stroke="#8f8f8f" stroke-width="0.8" stroke-linejoin="round"/><rect x="688" y="562.9" width="16" height="16" rx="0" fill="#a6a3a3" stroke="#8f8f8f" stroke-width="0.8" /><polygon points="712.2,535.2 717.2,530.2 717.2,546.2 712.2,551.2" fill="#878484" stroke="#8f8f8f" stroke-width="0.8" stroke-linejoin="round"/><polygon points="696.2,535.2 701.2,530.2 717.2,530.2 712.2,535.2" fill="#bcb9b9" stroke="#8f8f8f" stroke-width="0.8" stroke-linejoin="round"/><rect x="696.2" y="535.2" width="16" height="16" rx="0" fill="#a6a3a3" stroke="#8f8f8f" stroke-width="0.8" /><polygon points="731.7,554.7 736.7,549.7 736.7,565.7 731.7,570.7" fill="#878484" stroke="#8f8f8f" stroke-width="0.8" stroke-linejoin="round"/><polygon points="715.7,554.7 720.7,549.7 736.7,549.7 731.7,554.7" fill="#bcb9b9" stroke="#8f8f8f" stroke-width="0.8" stroke-linejoin="round"/><rect x="715.7" y="554.7" width="16" height="16" rx="0" fill="#a6a3a3" stroke="#8f8f8f" stroke-width="0.8" /><polygon points="720.4,507.5 725.4,502.5 725.4,518.5 720.4,523.5" fill="#878484" stroke="#8f8f8f" stroke-width="0.8" stroke-linejoin="round"/><polygon points="704.4,507.5 709.4,502.5 725.4,502.5 720.4,507.5" fill="#bcb9b9" stroke="#8f8f8f" stroke-width="0.8" stroke-linejoin="round"/><rect x="704.4" y="507.5" width="16" height="16" rx="0" fill="#a6a3a3" stroke="#8f8f8f" stroke-width="0.8" /><polygon points="739.9,527 744.9,522 744.9,538 739.9,543" fill="#136aaf" stroke="#8f8f8f" stroke-width="0.8" stroke-linejoin="round"/><polygon points="723.9,527 728.9,522 744.9,522 739.9,527" fill="#44a0e4" stroke="#8f8f8f" stroke-width="0.8" stroke-linejoin="round"/><rect x="723.9" y="527" width="16" height="16" rx="0" fill="#1585d8" stroke="#8f8f8f" stroke-width="0.8" /><polygon points="759.4,546.5 764.4,541.5 764.4,557.5 759.4,562.5" fill="#878484" stroke="#8f8f8f" stroke-width="0.8" stroke-linejoin="round"/><polygon points="743.4,546.5 748.4,541.5 764.4,541.5 759.4,546.5" fill="#bcb9b9" stroke="#8f8f8f" stroke-width="0.8" stroke-linejoin="round"/><rect x="743.4" y="546.5" width="16" height="16" rx="0" fill="#a6a3a3" stroke="#8f8f8f" stroke-width="0.8" /><polygon points="704,543.4 709,538.4 709,554.4 704,559.4" fill="#878484" stroke="#8f8f8f" stroke-width="0.8" stroke-linejoin="round"/><polygon points="688,543.4 693,538.4 709,538.4 704,543.4" fill="#bcb9b9" stroke="#8f8f8f" stroke-width="0.8" stroke-linejoin="round"/><rect x="688" y="543.4" width="16" height="16" rx="0" fill="#a6a3a3" stroke="#8f8f8f" stroke-width="0.8" /><polygon points="723.5,562.9 728.5,557.9 728.5,573.9 723.5,578.9" fill="#878484" stroke="#8f8f8f" stroke-width="0.8" stroke-linejoin="round"/><polygon points="707.5,562.9 712.5,557.9 728.5,557.9 723.5,562.9" fill="#bcb9b9" stroke="#8f8f8f" stroke-width="0.8" stroke-linejoin="round"/><rect x="707.5" y="562.9" width="16" height="16" rx="0" fill="#a6a3a3" stroke="#8f8f8f" stroke-width="0.8" /><polygon points="712.2,515.7 717.2,510.7 717.2,526.7 712.2,531.7" fill="#878484" stroke="#8f8f8f" stroke-width="0.8" stroke-linejoin="round"/><polygon points="696.2,515.7 701.2,510.7 717.2,510.7 712.2,515.7" fill="#bcb9b9" stroke="#8f8f8f" stroke-width="0.8" stroke-linejoin="round"/><rect x="696.2" y="515.7" width="16" height="16" rx="0" fill="#a6a3a3" stroke="#8f8f8f" stroke-width="0.8" /><polygon points="731.7,535.2 736.7,530.2 736.7,546.2 731.7,551.2" fill="#136aaf" stroke="#8f8f8f" stroke-width="0.8" stroke-linejoin="round"/><polygon points="715.7,535.2 720.7,530.2 736.7,530.2 731.7,535.2" fill="#44a0e4" stroke="#8f8f8f" stroke-width="0.8" stroke-linejoin="round"/><rect x="715.7" y="535.2" width="16" height="16" rx="0" fill="#1585d8" stroke="#8f8f8f" stroke-width="0.8" /><polygon points="751.2,554.7 756.2,549.7 756.2,565.7 751.2,570.7" fill="#878484" stroke="#8f8f8f" stroke-width="0.8" stroke-linejoin="round"/><polygon points="735.2,554.7 740.2,549.7 756.2,549.7 751.2,554.7" fill="#bcb9b9" stroke="#8f8f8f" stroke-width="0.8" stroke-linejoin="round"/><rect x="735.2" y="554.7" width="16" height="16" rx="0" fill="#a6a3a3" stroke="#8f8f8f" stroke-width="0.8" /><polygon points="739.9,507.5 744.9,502.5 744.9,518.5 739.9,523.5" fill="#136aaf" stroke="#8f8f8f" stroke-width="0.8" stroke-linejoin="round"/><polygon points="723.9,507.5 728.9,502.5 744.9,502.5 739.9,507.5" fill="#44a0e4" stroke="#8f8f8f" stroke-width="0.8" stroke-linejoin="round"/><rect x="723.9" y="507.5" width="16" height="16" rx="0" fill="#1585d8" stroke="#8f8f8f" stroke-width="0.8" /><polygon points="759.4,527 764.4,522 764.4,538 759.4,543" fill="#136aaf" stroke="#8f8f8f" stroke-width="0.8" stroke-linejoin="round"/><polygon points="743.4,527 748.4,522 764.4,522 759.4,527" fill="#44a0e4" stroke="#8f8f8f" stroke-width="0.8" stroke-linejoin="round"/><rect x="743.4" y="527" width="16" height="16" rx="0" fill="#1585d8" stroke="#8f8f8f" stroke-width="0.8" /><polygon points="704,523.9 709,518.9 709,534.9 704,539.9" fill="#878484" stroke="#8f8f8f" stroke-width="0.8" stroke-linejoin="round"/><polygon points="688,523.9 693,518.9 709,518.9 704,523.9" fill="#bcb9b9" stroke="#8f8f8f" stroke-width="0.8" stroke-linejoin="round"/><rect x="688" y="523.9" width="16" height="16" rx="0" fill="#a6a3a3" stroke="#8f8f8f" stroke-width="0.8" /><polygon points="723.5,543.4 728.5,538.4 728.5,554.4 723.5,559.4" fill="#136aaf" stroke="#8f8f8f" stroke-width="0.8" stroke-linejoin="round"/><polygon points="707.5,543.4 712.5,538.4 728.5,538.4 723.5,543.4" fill="#44a0e4" stroke="#8f8f8f" stroke-width="0.8" stroke-linejoin="round"/><rect x="707.5" y="543.4" width="16" height="16" rx="0" fill="#1585d8" stroke="#8f8f8f" stroke-width="0.8" /><polygon points="743,562.9 748,557.9 748,573.9 743,578.9" fill="#878484" stroke="#8f8f8f" stroke-width="0.8" stroke-linejoin="round"/><polygon points="727,562.9 732,557.9 748,557.9 743,562.9" fill="#bcb9b9" stroke="#8f8f8f" stroke-width="0.8" stroke-linejoin="round"/><rect x="727" y="562.9" width="16" height="16" rx="0" fill="#a6a3a3" stroke="#8f8f8f" stroke-width="0.8" /><polygon points="731.7,515.7 736.7,510.7 736.7,526.7 731.7,531.7" fill="#136aaf" stroke="#8f8f8f" stroke-width="0.8" stroke-linejoin="round"/><polygon points="715.7,515.7 720.7,510.7 736.7,510.7 731.7,515.7" fill="#44a0e4" stroke="#8f8f8f" stroke-width="0.8" stroke-linejoin="round"/><rect x="715.7" y="515.7" width="16" height="16" rx="0" fill="#1585d8" stroke="#8f8f8f" stroke-width="0.8" /><polygon points="751.2,535.2 756.2,530.2 756.2,546.2 751.2,551.2" fill="#136aaf" stroke="#8f8f8f" stroke-width="0.8" stroke-linejoin="round"/><polygon points="735.2,535.2 740.2,530.2 756.2,530.2 751.2,535.2" fill="#44a0e4" stroke="#8f8f8f" stroke-width="0.8" stroke-linejoin="round"/><rect x="735.2" y="535.2" width="16" height="16" rx="0" fill="#1585d8" stroke="#8f8f8f" stroke-width="0.8" /><polygon points="759.4,507.5 764.4,502.5 764.4,518.5 759.4,523.5" fill="#136aaf" stroke="#8f8f8f" stroke-width="0.8" stroke-linejoin="round"/><polygon points="743.4,507.5 748.4,502.5 764.4,502.5 759.4,507.5" fill="#44a0e4" stroke="#8f8f8f" stroke-width="0.8" stroke-linejoin="round"/><rect x="743.4" y="507.5" width="16" height="16" rx="0" fill="#1585d8" stroke="#8f8f8f" stroke-width="0.8" /><polygon points="723.5,523.9 728.5,518.9 728.5,534.9 723.5,539.9" fill="#136aaf" stroke="#8f8f8f" stroke-width="0.8" stroke-linejoin="round"/><polygon points="707.5,523.9 712.5,518.9 728.5,518.9 723.5,523.9" fill="#44a0e4" stroke="#8f8f8f" stroke-width="0.8" stroke-linejoin="round"/><rect x="707.5" y="523.9" width="16" height="16" rx="0" fill="#1585d8" stroke="#8f8f8f" stroke-width="0.8" /><polygon points="743,543.4 748,538.4 748,554.4 743,559.4" fill="#136aaf" stroke="#8f8f8f" stroke-width="0.8" stroke-linejoin="round"/><polygon points="727,543.4 732,538.4 748,538.4 743,543.4" fill="#44a0e4" stroke="#8f8f8f" stroke-width="0.8" stroke-linejoin="round"/><rect x="727" y="543.4" width="16" height="16" rx="0" fill="#1585d8" stroke="#8f8f8f" stroke-width="0.8" /><polygon points="751.2,515.7 756.2,510.7 756.2,526.7 751.2,531.7" fill="#136aaf" stroke="#8f8f8f" stroke-width="0.8" stroke-linejoin="round"/><polygon points="735.2,515.7 740.2,510.7 756.2,510.7 751.2,515.7" fill="#44a0e4" stroke="#8f8f8f" stroke-width="0.8" stroke-linejoin="round"/><rect x="735.2" y="515.7" width="16" height="16" rx="0" fill="#1585d8" stroke="#8f8f8f" stroke-width="0.8" /><polygon points="743,523.9 748,518.9 748,534.9 743,539.9" fill="#136aaf" stroke="#8f8f8f" stroke-width="0.8" stroke-linejoin="round"/><polygon points="727,523.9 732,518.9 748,518.9 743,523.9" fill="#44a0e4" stroke="#8f8f8f" stroke-width="0.8" stroke-linejoin="round"/><rect x="727" y="523.9" width="16" height="16" rx="0" fill="#1585d8" stroke="#8f8f8f" stroke-width="0.8" />
<g filter="url(#shadow)"><polygon points="688,630.4 709.4,609 764.4,609 764.4,664 743,685.4 688,685.4" fill="#777" opacity="0.55"/></g><polygon points="720.4,653 725.4,648 725.4,664 720.4,669" fill="#88b06c" stroke="#8f8f8f" stroke-width="0.8" stroke-linejoin="round"/><polygon points="704.4,653 709.4,648 725.4,648 720.4,653" fill="#bfe0a6" stroke="#8f8f8f" stroke-width="0.8" stroke-linejoin="round"/><rect x="704.4" y="653" width="16" height="16" rx="0" fill="#a9d18e" stroke="#8f8f8f" stroke-width="0.8" /><polygon points="712.2,661.2 717.2,656.2 717.2,672.2 712.2,677.2" fill="#88b06c" stroke="#8f8f8f" stroke-width="0.8" stroke-linejoin="round"/><polygon points="696.2,661.2 701.2,656.2 717.2,656.2 712.2,661.2" fill="#bfe0a6" stroke="#8f8f8f" stroke-width="0.8" stroke-linejoin="round"/><rect x="696.2" y="661.2" width="16" height="16" rx="0" fill="#a9d18e" stroke="#8f8f8f" stroke-width="0.8" /><polygon points="720.4,633.5 725.4,628.5 725.4,644.5 720.4,649.5" fill="#88b06c" stroke="#8f8f8f" stroke-width="0.8" stroke-linejoin="round"/><polygon points="704.4,633.5 709.4,628.5 725.4,628.5 720.4,633.5" fill="#bfe0a6" stroke="#8f8f8f" stroke-width="0.8" stroke-linejoin="round"/><rect x="704.4" y="633.5" width="16" height="16" rx="0" fill="#a9d18e" stroke="#8f8f8f" stroke-width="0.8" /><polygon points="739.9,653 744.9,648 744.9,664 739.9,669" fill="#88b06c" stroke="#8f8f8f" stroke-width="0.8" stroke-linejoin="round"/><polygon points="723.9,653 728.9,648 744.9,648 739.9,653" fill="#bfe0a6" stroke="#8f8f8f" stroke-width="0.8" stroke-linejoin="round"/><rect x="723.9" y="653" width="16" height="16" rx="0" fill="#a9d18e" stroke="#8f8f8f" stroke-width="0.8" /><polygon points="704,669.4 709,664.4 709,680.4 704,685.4" fill="#88b06c" stroke="#8f8f8f" stroke-width="0.8" stroke-linejoin="round"/><polygon points="688,669.4 693,664.4 709,664.4 704,669.4" fill="#bfe0a6" stroke="#8f8f8f" stroke-width="0.8" stroke-linejoin="round"/><rect x="688" y="669.4" width="16" height="16" rx="0" fill="#a9d18e" stroke="#8f8f8f" stroke-width="0.8" /><polygon points="712.2,641.7 717.2,636.7 717.2,652.7 712.2,657.7" fill="#88b06c" stroke="#8f8f8f" stroke-width="0.8" stroke-linejoin="round"/><polygon points="696.2,641.7 701.2,636.7 717.2,636.7 712.2,641.7" fill="#bfe0a6" stroke="#8f8f8f" stroke-width="0.8" stroke-linejoin="round"/><rect x="696.2" y="641.7" width="16" height="16" rx="0" fill="#a9d18e" stroke="#8f8f8f" stroke-width="0.8" /><polygon points="731.7,661.2 736.7,656.2 736.7,672.2 731.7,677.2" fill="#878484" stroke="#8f8f8f" stroke-width="0.8" stroke-linejoin="round"/><polygon points="715.7,661.2 720.7,656.2 736.7,656.2 731.7,661.2" fill="#bcb9b9" stroke="#8f8f8f" stroke-width="0.8" stroke-linejoin="round"/><rect x="715.7" y="661.2" width="16" height="16" rx="0" fill="#a6a3a3" stroke="#8f8f8f" stroke-width="0.8" /><polygon points="720.4,614 725.4,609 725.4,625 720.4,630" fill="#88b06c" stroke="#8f8f8f" stroke-width="0.8" stroke-linejoin="round"/><polygon points="704.4,614 709.4,609 725.4,609 720.4,614" fill="#bfe0a6" stroke="#8f8f8f" stroke-width="0.8" stroke-linejoin="round"/><rect x="704.4" y="614" width="16" height="16" rx="0" fill="#a9d18e" stroke="#8f8f8f" stroke-width="0.8" /><polygon points="739.9,633.5 744.9,628.5 744.9,644.5 739.9,649.5" fill="#88b06c" stroke="#8f8f8f" stroke-width="0.8" stroke-linejoin="round"/><polygon points="723.9,633.5 728.9,628.5 744.9,628.5 739.9,633.5" fill="#bfe0a6" stroke="#8f8f8f" stroke-width="0.8" stroke-linejoin="round"/><rect x="723.9" y="633.5" width="16" height="16" rx="0" fill="#a9d18e" stroke="#8f8f8f" stroke-width="0.8" /><polygon points="759.4,653 764.4,648 764.4,664 759.4,669" fill="#878484" stroke="#8f8f8f" stroke-width="0.8" stroke-linejoin="round"/><polygon points="743.4,653 748.4,648 764.4,648 759.4,653" fill="#bcb9b9" stroke="#8f8f8f" stroke-width="0.8" stroke-linejoin="round"/><rect x="743.4" y="653" width="16" height="16" rx="0" fill="#a6a3a3" stroke="#8f8f8f" stroke-width="0.8" /><polygon points="704,649.9 709,644.9 709,660.9 704,665.9" fill="#88b06c" stroke="#8f8f8f" stroke-width="0.8" stroke-linejoin="round"/><polygon points="688,649.9 693,644.9 709,644.9 704,649.9" fill="#bfe0a6" stroke="#8f8f8f" stroke-width="0.8" stroke-linejoin="round"/><rect x="688" y="649.9" width="16" height="16" rx="0" fill="#a9d18e" stroke="#8f8f8f" stroke-width="0.8" /><polygon points="723.5,669.4 728.5,664.4 728.5,680.4 723.5,685.4" fill="#88b06c" stroke="#8f8f8f" stroke-width="0.8" stroke-linejoin="round"/><polygon points="707.5,669.4 712.5,664.4 728.5,664.4 723.5,669.4" fill="#bfe0a6" stroke="#8f8f8f" stroke-width="0.8" stroke-linejoin="round"/><rect x="707.5" y="669.4" width="16" height="16" rx="0" fill="#a9d18e" stroke="#8f8f8f" stroke-width="0.8" /><polygon points="712.2,622.2 717.2,617.2 717.2,633.2 712.2,638.2" fill="#88b06c" stroke="#8f8f8f" stroke-width="0.8" stroke-linejoin="round"/><polygon points="696.2,622.2 701.2,617.2 717.2,617.2 712.2,622.2" fill="#bfe0a6" stroke="#8f8f8f" stroke-width="0.8" stroke-linejoin="round"/><rect x="696.2" y="622.2" width="16" height="16" rx="0" fill="#a9d18e" stroke="#8f8f8f" stroke-width="0.8" /><polygon points="731.7,641.7 736.7,636.7 736.7,652.7 731.7,657.7" fill="#878484" stroke="#8f8f8f" stroke-width="0.8" stroke-linejoin="round"/><polygon points="715.7,641.7 720.7,636.7 736.7,636.7 731.7,641.7" fill="#bcb9b9" stroke="#8f8f8f" stroke-width="0.8" stroke-linejoin="round"/><rect x="715.7" y="641.7" width="16" height="16" rx="0" fill="#a6a3a3" stroke="#8f8f8f" stroke-width="0.8" /><polygon points="751.2,661.2 756.2,656.2 756.2,672.2 751.2,677.2" fill="#878484" stroke="#8f8f8f" stroke-width="0.8" stroke-linejoin="round"/><polygon points="735.2,661.2 740.2,656.2 756.2,656.2 751.2,661.2" fill="#bcb9b9" stroke="#8f8f8f" stroke-width="0.8" stroke-linejoin="round"/><rect x="735.2" y="661.2" width="16" height="16" rx="0" fill="#a6a3a3" stroke="#8f8f8f" stroke-width="0.8" /><polygon points="739.9,614 744.9,609 744.9,625 739.9,630" fill="#88b06c" stroke="#8f8f8f" stroke-width="0.8" stroke-linejoin="round"/><polygon points="723.9,614 728.9,609 744.9,609 739.9,614" fill="#bfe0a6" stroke="#8f8f8f" stroke-width="0.8" stroke-linejoin="round"/><rect x="723.9" y="614" width="16" height="16" rx="0" fill="#a9d18e" stroke="#8f8f8f" stroke-width="0.8" /><polygon points="759.4,633.5 764.4,628.5 764.4,644.5 759.4,649.5" fill="#878484" stroke="#8f8f8f" stroke-width="0.8" stroke-linejoin="round"/><polygon points="743.4,633.5 748.4,628.5 764.4,628.5 759.4,633.5" fill="#bcb9b9" stroke="#8f8f8f" stroke-width="0.8" stroke-linejoin="round"/><rect x="743.4" y="633.5" width="16" height="16" rx="0" fill="#a6a3a3" stroke="#8f8f8f" stroke-width="0.8" /><polygon points="704,630.4 709,625.4 709,641.4 704,646.4" fill="#88b06c" stroke="#8f8f8f" stroke-width="0.8" stroke-linejoin="round"/><polygon points="688,630.4 693,625.4 709,625.4 704,630.4" fill="#bfe0a6" stroke="#8f8f8f" stroke-width="0.8" stroke-linejoin="round"/><rect x="688" y="630.4" width="16" height="16" rx="0" fill="#a9d18e" stroke="#8f8f8f" stroke-width="0.8" /><polygon points="723.5,649.9 728.5,644.9 728.5,660.9 723.5,665.9" fill="#88b06c" stroke="#8f8f8f" stroke-width="0.8" stroke-linejoin="round"/><polygon points="707.5,649.9 712.5,644.9 728.5,644.9 723.5,649.9" fill="#bfe0a6" stroke="#8f8f8f" stroke-width="0.8" stroke-linejoin="round"/><rect x="707.5" y="649.9" width="16" height="16" rx="0" fill="#a9d18e" stroke="#8f8f8f" stroke-width="0.8" /><polygon points="743,669.4 748,664.4 748,680.4 743,685.4" fill="#878484" stroke="#8f8f8f" stroke-width="0.8" stroke-linejoin="round"/><polygon points="727,669.4 732,664.4 748,664.4 743,669.4" fill="#bcb9b9" stroke="#8f8f8f" stroke-width="0.8" stroke-linejoin="round"/><rect x="727" y="669.4" width="16" height="16" rx="0" fill="#a6a3a3" stroke="#8f8f8f" stroke-width="0.8" /><polygon points="731.7,622.2 736.7,617.2 736.7,633.2 731.7,638.2" fill="#878484" stroke="#8f8f8f" stroke-width="0.8" stroke-linejoin="round"/><polygon points="715.7,622.2 720.7,617.2 736.7,617.2 731.7,622.2" fill="#bcb9b9" stroke="#8f8f8f" stroke-width="0.8" stroke-linejoin="round"/><rect x="715.7" y="622.2" width="16" height="16" rx="0" fill="#a6a3a3" stroke="#8f8f8f" stroke-width="0.8" /><polygon points="751.2,641.7 756.2,636.7 756.2,652.7 751.2,657.7" fill="#878484" stroke="#8f8f8f" stroke-width="0.8" stroke-linejoin="round"/><polygon points="735.2,641.7 740.2,636.7 756.2,636.7 751.2,641.7" fill="#bcb9b9" stroke="#8f8f8f" stroke-width="0.8" stroke-linejoin="round"/><rect x="735.2" y="641.7" width="16" height="16" rx="0" fill="#a6a3a3" stroke="#8f8f8f" stroke-width="0.8" /><polygon points="759.4,614 764.4,609 764.4,625 759.4,630" fill="#878484" stroke="#8f8f8f" stroke-width="0.8" stroke-linejoin="round"/><polygon points="743.4,614 748.4,609 764.4,609 759.4,614" fill="#bcb9b9" stroke="#8f8f8f" stroke-width="0.8" stroke-linejoin="round"/><rect x="743.4" y="614" width="16" height="16" rx="0" fill="#a6a3a3" stroke="#8f8f8f" stroke-width="0.8" /><polygon points="723.5,630.4 728.5,625.4 728.5,641.4 723.5,646.4" fill="#88b06c" stroke="#8f8f8f" stroke-width="0.8" stroke-linejoin="round"/><polygon points="707.5,630.4 712.5,625.4 728.5,625.4 723.5,630.4" fill="#bfe0a6" stroke="#8f8f8f" stroke-width="0.8" stroke-linejoin="round"/><rect x="707.5" y="630.4" width="16" height="16" rx="0" fill="#a9d18e" stroke="#8f8f8f" stroke-width="0.8" /><polygon points="743,649.9 748,644.9 748,660.9 743,665.9" fill="#878484" stroke="#8f8f8f" stroke-width="0.8" stroke-linejoin="round"/><polygon points="727,649.9 732,644.9 748,644.9 743,649.9" fill="#bcb9b9" stroke="#8f8f8f" stroke-width="0.8" stroke-linejoin="round"/><rect x="727" y="649.9" width="16" height="16" rx="0" fill="#a6a3a3" stroke="#8f8f8f" stroke-width="0.8" /><polygon points="751.2,622.2 756.2,617.2 756.2,633.2 751.2,638.2" fill="#878484" stroke="#8f8f8f" stroke-width="0.8" stroke-linejoin="round"/><polygon points="735.2,622.2 740.2,617.2 756.2,617.2 751.2,622.2" fill="#bcb9b9" stroke="#8f8f8f" stroke-width="0.8" stroke-linejoin="round"/><rect x="735.2" y="622.2" width="16" height="16" rx="0" fill="#a6a3a3" stroke="#8f8f8f" stroke-width="0.8" /><polygon points="743,630.4 748,625.4 748,641.4 743,646.4" fill="#878484" stroke="#8f8f8f" stroke-width="0.8" stroke-linejoin="round"/><polygon points="727,630.4 732,625.4 748,625.4 743,630.4" fill="#bcb9b9" stroke="#8f8f8f" stroke-width="0.8" stroke-linejoin="round"/><rect x="727" y="630.4" width="16" height="16" rx="0" fill="#a6a3a3" stroke="#8f8f8f" stroke-width="0.8" />
<path d="M142.07,243.21l7.29,-7.29h20.21v20.21l-7.29,7.29h-20.21z" fill="#1c1c1c"/><rect x="142.57" y="243.71" width="19.21" height="19.21" fill="#444444" fill-opacity="0.75"/><rect x="147.18" y="243.71" width="14.61" height="14.61" fill="#050505" fill-opacity="0.8"/><polygon points="142.07,243.21 149.36,235.93 169.57,235.93 162.29,243.21" fill="#5a5a5a" fill-opacity="0.6"/><polygon points="162.29,243.21 169.57,235.93 169.57,256.14 162.29,263.43" fill="#2c2c2c" fill-opacity="0.5"/><path d="M142.07,223l7.29,-7.29h20.21v20.21l-7.29,7.29h-20.21z" fill="#1c1c1c"/><rect x="142.57" y="223.5" width="19.21" height="19.21" fill="#444444" fill-opacity="0.75"/><rect x="147.18" y="223.5" width="14.61" height="14.61" fill="#050505" fill-opacity="0.8"/><polygon points="142.07,223 149.36,215.71 169.57,215.71 162.29,223" fill="#5a5a5a" fill-opacity="0.6"/><polygon points="162.29,223 169.57,215.71 169.57,235.93 162.29,243.21" fill="#2c2c2c" fill-opacity="0.5"/><path d="M162.29,243.21l7.29,-7.29h20.21v20.21l-7.29,7.29h-20.21z" fill="#1c1c1c"/><rect x="162.79" y="243.71" width="19.21" height="19.21" fill="#444444" fill-opacity="0.75"/><rect x="167.39" y="243.71" width="14.61" height="14.61" fill="#050505" fill-opacity="0.8"/><polygon points="162.29,243.21 169.58,235.93 189.79,235.93 182.5,243.21" fill="#5a5a5a" fill-opacity="0.6"/><polygon points="182.5,243.21 189.79,235.93 189.79,256.14 182.5,263.43" fill="#2c2c2c" fill-opacity="0.5"/><path d="M142.07,202.79l7.29,-7.29h20.21v20.21l-7.29,7.29h-20.21z" fill="#1c1c1c"/><rect x="142.57" y="203.29" width="19.21" height="19.21" fill="#444444" fill-opacity="0.75"/><rect x="147.18" y="203.29" width="14.61" height="14.61" fill="#050505" fill-opacity="0.8"/><polygon points="142.07,202.79 149.36,195.5 169.57,195.5 162.29,202.79" fill="#5a5a5a" fill-opacity="0.6"/><polygon points="162.29,202.79 169.57,195.5 169.57,215.71 162.29,223" fill="#2c2c2c" fill-opacity="0.5"/><path d="M162.29,223l7.29,-7.29h20.21v20.21l-7.29,7.29h-20.21z" fill="#1c1c1c"/><rect x="162.79" y="223.5" width="19.21" height="19.21" fill="#444444" fill-opacity="0.75"/><rect x="167.39" y="223.5" width="14.61" height="14.61" fill="#050505" fill-opacity="0.8"/><polygon points="162.29,223 169.58,215.71 189.79,215.71 182.5,223" fill="#5a5a5a" fill-opacity="0.6"/><polygon points="182.5,223 189.79,215.71 189.79,235.93 182.5,243.21" fill="#2c2c2c" fill-opacity="0.5"/><path d="M182.5,243.21l7.29,-7.29h20.21v20.21l-7.29,7.29h-20.21z" fill="#1c1c1c"/><rect x="183" y="243.71" width="19.21" height="19.21" fill="#444444" fill-opacity="0.75"/><rect x="187.6" y="243.71" width="14.61" height="14.61" fill="#050505" fill-opacity="0.8"/><polygon points="182.5,243.21 189.79,235.93 210,235.93 202.71,243.21" fill="#5a5a5a" fill-opacity="0.6"/><polygon points="202.71,243.21 210,235.93 210,256.14 202.71,263.43" fill="#2c2c2c" fill-opacity="0.5"/><path d="M162.29,202.79l7.29,-7.29h20.21v20.21l-7.29,7.29h-20.21z" fill="#1c1c1c"/><rect x="162.79" y="203.29" width="19.21" height="19.21" fill="#444444" fill-opacity="0.75"/><rect x="167.39" y="203.29" width="14.61" height="14.61" fill="#050505" fill-opacity="0.8"/><polygon points="162.29,202.79 169.58,195.5 189.79,195.5 182.5,202.79" fill="#5a5a5a" fill-opacity="0.6"/><polygon points="182.5,202.79 189.79,195.5 189.79,215.71 182.5,223" fill="#2c2c2c" fill-opacity="0.5"/><path d="M182.5,223l7.29,-7.29h20.21v20.21l-7.29,7.29h-20.21z" fill="#1c1c1c"/><rect x="183" y="223.5" width="19.21" height="19.21" fill="#444444" fill-opacity="0.75"/><rect x="187.6" y="223.5" width="14.61" height="14.61" fill="#050505" fill-opacity="0.8"/><polygon points="182.5,223 189.79,215.71 210,215.71 202.71,223" fill="#5a5a5a" fill-opacity="0.6"/><polygon points="202.71,223 210,215.71 210,235.93 202.71,243.21" fill="#2c2c2c" fill-opacity="0.5"/><path d="M182.5,202.79l7.29,-7.29h20.21v20.21l-7.29,7.29h-20.21z" fill="#1c1c1c"/><rect x="183" y="203.29" width="19.21" height="19.21" fill="#444444" fill-opacity="0.75"/><rect x="187.6" y="203.29" width="14.61" height="14.61" fill="#050505" fill-opacity="0.8"/><polygon points="182.5,202.79 189.79,195.5 210,195.5 202.71,202.79" fill="#5a5a5a" fill-opacity="0.6"/><polygon points="202.71,202.79 210,195.5 210,215.71 202.71,223" fill="#2c2c2c" fill-opacity="0.5"/><path d="M134.79,250.5l7.29,-7.29h20.21v20.21l-7.29,7.29h-20.21z" fill="#1c1c1c"/><rect x="135.29" y="251" width="19.21" height="19.21" fill="#444444" fill-opacity="0.75"/><rect x="139.89" y="251" width="14.61" height="14.61" fill="#050505" fill-opacity="0.8"/><polygon points="134.79,250.5 142.07,243.21 162.29,243.21 155,250.5" fill="#5a5a5a" fill-opacity="0.6"/><polygon points="155,250.5 162.29,243.21 162.29,263.43 155,270.71" fill="#2c2c2c" fill-opacity="0.5"/><path d="M134.79,230.29l7.29,-7.29h20.21v20.21l-7.29,7.29h-20.21z" fill="#1c1c1c"/><rect x="135.29" y="230.79" width="19.21" height="19.21" fill="#444444" fill-opacity="0.75"/><rect x="139.89" y="230.79" width="14.61" height="14.61" fill="#050505" fill-opacity="0.8"/><polygon points="134.79,230.29 142.07,223 162.29,223 155,230.29" fill="#5a5a5a" fill-opacity="0.6"/><polygon points="155,230.29 162.29,223 162.29,243.21 155,250.5" fill="#2c2c2c" fill-opacity="0.5"/><path d="M155,250.5l7.29,-7.29h20.21v20.21l-7.29,7.29h-20.21z" fill="#1c1c1c"/><rect x="155.5" y="251" width="19.21" height="19.21" fill="#444444" fill-opacity="0.75"/><rect x="160.1" y="251" width="14.61" height="14.61" fill="#050505" fill-opacity="0.8"/><polygon points="155,250.5 162.29,243.21 182.5,243.21 175.21,250.5" fill="#5a5a5a" fill-opacity="0.6"/><polygon points="175.21,250.5 182.5,243.21 182.5,263.43 175.21,270.71" fill="#2c2c2c" fill-opacity="0.5"/><path d="M134.79,210.08l7.29,-7.29h20.21v20.21l-7.29,7.29h-20.21z" fill="#1c1c1c"/><rect x="135.29" y="210.58" width="19.21" height="19.21" fill="#444444" fill-opacity="0.75"/><rect x="139.89" y="210.58" width="14.61" height="14.61" fill="#050505" fill-opacity="0.8"/><polygon points="134.79,210.08 142.07,202.79 162.29,202.79 155,210.08" fill="#5a5a5a" fill-opacity="0.6"/><polygon points="155,210.08 162.29,202.79 162.29,223 155,230.29" fill="#2c2c2c" fill-opacity="0.5"/><path d="M155,230.29l7.29,-7.29h20.21v20.21l-7.29,7.29h-20.21z" fill="#1c1c1c"/><rect x="155.5" y="230.79" width="19.21" height="19.21" fill="#444444" fill-opacity="0.75"/><rect x="160.1" y="230.79" width="14.61" height="14.61" fill="#050505" fill-opacity="0.8"/><polygon points="155,230.29 162.29,223 182.5,223 175.21,230.29" fill="#5a5a5a" fill-opacity="0.6"/><polygon points="175.21,230.29 182.5,223 182.5,243.21 175.21,250.5" fill="#2c2c2c" fill-opacity="0.5"/><path d="M175.21,250.5l7.29,-7.29h20.21v20.21l-7.29,7.29h-20.21z" fill="#1c1c1c"/><rect x="175.71" y="251" width="19.21" height="19.21" fill="#444444" fill-opacity="0.75"/><rect x="180.31" y="251" width="14.61" height="14.61" fill="#050505" fill-opacity="0.8"/><polygon points="175.21,250.5 182.5,243.21 202.71,243.21 195.43,250.5" fill="#5a5a5a" fill-opacity="0.6"/><polygon points="195.43,250.5 202.71,243.21 202.71,263.43 195.43,270.71" fill="#2c2c2c" fill-opacity="0.5"/><path d="M155,210.08l7.29,-7.29h20.21v20.21l-7.29,7.29h-20.21z" fill="#1c1c1c"/><rect x="155.5" y="210.58" width="19.21" height="19.21" fill="#444444" fill-opacity="0.75"/><rect x="160.1" y="210.58" width="14.61" height="14.61" fill="#050505" fill-opacity="0.8"/><polygon points="155,210.08 162.29,202.79 182.5,202.79 175.21,210.08" fill="#5a5a5a" fill-opacity="0.6"/><polygon points="175.21,210.08 182.5,202.79 182.5,223 175.21,230.29" fill="#2c2c2c" fill-opacity="0.5"/><path d="M175.21,230.29l7.29,-7.29h20.21v20.21l-7.29,7.29h-20.21z" fill="#1c1c1c"/><rect x="175.71" y="230.79" width="19.21" height="19.21" fill="#444444" fill-opacity="0.75"/><rect x="180.31" y="230.79" width="14.61" height="14.61" fill="#050505" fill-opacity="0.8"/><polygon points="175.21,230.29 182.5,223 202.71,223 195.43,230.29" fill="#5a5a5a" fill-opacity="0.6"/><polygon points="195.43,230.29 202.71,223 202.71,243.21 195.43,250.5" fill="#2c2c2c" fill-opacity="0.5"/><path d="M175.21,210.08l7.29,-7.29h20.21v20.21l-7.29,7.29h-20.21z" fill="#1c1c1c"/><rect x="175.71" y="210.58" width="19.21" height="19.21" fill="#444444" fill-opacity="0.75"/><rect x="180.31" y="210.58" width="14.61" height="14.61" fill="#050505" fill-opacity="0.8"/><polygon points="175.21,210.08 182.5,202.79 202.71,202.79 195.43,210.08" fill="#5a5a5a" fill-opacity="0.6"/><polygon points="195.43,210.08 202.71,202.79 202.71,223 195.43,230.29" fill="#2c2c2c" fill-opacity="0.5"/><path d="M127.5,257.79l7.29,-7.29h20.21v20.21l-7.29,7.29h-20.21z" fill="#1c1c1c"/><rect x="128" y="258.29" width="19.21" height="19.21" fill="#444444" fill-opacity="0.75"/><rect x="132.6" y="258.29" width="14.61" height="14.61" fill="#050505" fill-opacity="0.8"/><polygon points="127.5,257.79 134.79,250.5 155,250.5 147.71,257.79" fill="#5a5a5a" fill-opacity="0.6"/><polygon points="147.71,257.79 155,250.5 155,270.71 147.71,278" fill="#2c2c2c" fill-opacity="0.5"/><path d="M127.5,237.58l7.29,-7.29h20.21v20.21l-7.29,7.29h-20.21z" fill="#1c1c1c"/><rect x="128" y="238.08" width="19.21" height="19.21" fill="#444444" fill-opacity="0.75"/><rect x="132.6" y="238.08" width="14.61" height="14.61" fill="#050505" fill-opacity="0.8"/><polygon points="127.5,237.58 134.79,230.29 155,230.29 147.71,237.58" fill="#5a5a5a" fill-opacity="0.6"/><polygon points="147.71,237.58 155,230.29 155,250.5 147.71,257.79" fill="#2c2c2c" fill-opacity="0.5"/><path d="M147.71,257.79l7.29,-7.29h20.21v20.21l-7.29,7.29h-20.21z" fill="#1c1c1c"/><rect x="148.21" y="258.29" width="19.21" height="19.21" fill="#444444" fill-opacity="0.75"/><rect x="152.81" y="258.29" width="14.61" height="14.61" fill="#050505" fill-opacity="0.8"/><polygon points="147.71,257.79 155,250.5 175.21,250.5 167.93,257.79" fill="#5a5a5a" fill-opacity="0.6"/><polygon points="167.93,257.79 175.21,250.5 175.21,270.71 167.93,278" fill="#2c2c2c" fill-opacity="0.5"/><path d="M127.5,217.36l7.29,-7.29h20.21v20.21l-7.29,7.29h-20.21z" fill="#1c1c1c"/><rect x="128" y="217.86" width="19.21" height="19.21" fill="#444444" fill-opacity="0.75"/><rect x="132.6" y="217.86" width="14.61" height="14.61" fill="#050505" fill-opacity="0.8"/><polygon points="127.5,217.36 134.79,210.08 155,210.08 147.71,217.36" fill="#5a5a5a" fill-opacity="0.6"/><polygon points="147.71,217.36 155,210.08 155,230.29 147.71,237.58" fill="#2c2c2c" fill-opacity="0.5"/><path d="M147.71,237.58l7.29,-7.29h20.21v20.21l-7.29,7.29h-20.21z" fill="#1c1c1c"/><rect x="148.21" y="238.08" width="19.21" height="19.21" fill="#444444" fill-opacity="0.75"/><rect x="152.81" y="238.08" width="14.61" height="14.61" fill="#050505" fill-opacity="0.8"/><polygon points="147.71,237.58 155,230.29 175.21,230.29 167.93,237.58" fill="#5a5a5a" fill-opacity="0.6"/><polygon points="167.93,237.58 175.21,230.29 175.21,250.5 167.93,257.79" fill="#2c2c2c" fill-opacity="0.5"/><path d="M167.93,257.79l7.29,-7.29h20.21v20.21l-7.29,7.29h-20.21z" fill="#1c1c1c"/><rect x="168.43" y="258.29" width="19.21" height="19.21" fill="#444444" fill-opacity="0.75"/><rect x="173.03" y="258.29" width="14.61" height="14.61" fill="#050505" fill-opacity="0.8"/><polygon points="167.93,257.79 175.21,250.5 195.43,250.5 188.14,257.79" fill="#5a5a5a" fill-opacity="0.6"/><polygon points="188.14,257.79 195.43,250.5 195.43,270.71 188.14,278" fill="#2c2c2c" fill-opacity="0.5"/><path d="M147.71,217.36l7.29,-7.29h20.21v20.21l-7.29,7.29h-20.21z" fill="#1c1c1c"/><rect x="148.21" y="217.86" width="19.21" height="19.21" fill="#444444" fill-opacity="0.75"/><rect x="152.81" y="217.86" width="14.61" height="14.61" fill="#050505" fill-opacity="0.8"/><polygon points="147.71,217.36 155,210.08 175.21,210.08 167.93,217.36" fill="#5a5a5a" fill-opacity="0.6"/><polygon points="167.93,217.36 175.21,210.08 175.21,230.29 167.93,237.58" fill="#2c2c2c" fill-opacity="0.5"/><path d="M167.93,237.58l7.29,-7.29h20.21v20.21l-7.29,7.29h-20.21z" fill="#1c1c1c"/><rect x="168.43" y="238.08" width="19.21" height="19.21" fill="#444444" fill-opacity="0.75"/><rect x="173.03" y="238.08" width="14.61" height="14.61" fill="#050505" fill-opacity="0.8"/><polygon points="167.93,237.58 175.21,230.29 195.43,230.29 188.14,237.58" fill="#5a5a5a" fill-opacity="0.6"/><polygon points="188.14,237.58 195.43,230.29 195.43,250.5 188.14,257.79" fill="#2c2c2c" fill-opacity="0.5"/><path d="M167.93,217.36l7.29,-7.29h20.21v20.21l-7.29,7.29h-20.21z" fill="#1c1c1c"/><rect x="168.43" y="217.86" width="19.21" height="19.21" fill="#444444" fill-opacity="0.75"/><rect x="173.03" y="217.86" width="14.61" height="14.61" fill="#050505" fill-opacity="0.8"/><polygon points="167.93,217.36 175.21,210.08 195.43,210.08 188.14,217.36" fill="#5a5a5a" fill-opacity="0.6"/><polygon points="188.14,217.36 195.43,210.08 195.43,230.29 188.14,237.58" fill="#2c2c2c" fill-opacity="0.5"/><clipPath id="bc1"><path d="M127.5,217.36h20.21v20.21h-20.21z M147.71,217.36h20.21v20.21h-20.21z M167.93,217.36h20.21v20.21h-20.21z M127.5,237.58h20.21v20.21h-20.21z M147.71,237.58h20.21v20.21h-20.21z M167.93,237.58h20.21v20.21h-20.21z M127.5,257.79h20.21v20.21h-20.21z M147.71,257.79h20.21v20.21h-20.21z M167.93,257.79h20.21v20.21h-20.21z M134.79,210.08h20.21v20.21h-20.21z M155,210.08h20.21v20.21h-20.21z M175.21,210.08h20.21v20.21h-20.21z M134.79,230.29h20.21v20.21h-20.21z M155,230.29h20.21v20.21h-20.21z M175.21,230.29h20.21v20.21h-20.21z M134.79,250.5h20.21v20.21h-20.21z M155,250.5h20.21v20.21h-20.21z M175.21,250.5h20.21v20.21h-20.21z M142.07,202.79h20.21v20.21h-20.21z M162.29,202.79h20.21v20.21h-20.21z M182.5,202.79h20.21v20.21h-20.21z M142.07,223h20.21v20.21h-20.21z M162.29,223h20.21v20.21h-20.21z M182.5,223h20.21v20.21h-20.21z M142.07,243.21h20.21v20.21h-20.21z M162.29,243.21h20.21v20.21h-20.21z M182.5,243.21h20.21v20.21h-20.21z"/></clipPath><g clip-path="url(#bc1)"><ellipse cx="160" cy="246.22" rx="16.37" ry="23.35" fill="url(#braingrad)" opacity="1.0" filter="url(#braintex)"/></g><path d="M142.67,243.81h19.01v19.01h-19.01z M142.67,243.81l6.69,-6.69h19.01v19.01l-6.69,6.69 M161.69,243.81l6.69,-6.69 M142.67,223.6h19.01v19.01h-19.01z M142.67,223.6l6.69,-6.69h19.01v19.01l-6.69,6.69 M161.69,223.6l6.69,-6.69 M162.89,243.81h19.01v19.01h-19.01z M162.89,243.81l6.69,-6.69h19.01v19.01l-6.69,6.69 M181.9,243.81l6.69,-6.69 M142.67,203.39h19.01v19.01h-19.01z M142.67,203.39l6.69,-6.69h19.01v19.01l-6.69,6.69 M161.69,203.39l6.69,-6.69 M162.89,223.6h19.01v19.01h-19.01z M162.89,223.6l6.69,-6.69h19.01v19.01l-6.69,6.69 M181.9,223.6l6.69,-6.69 M183.1,243.81h19.01v19.01h-19.01z M183.1,243.81l6.69,-6.69h19.01v19.01l-6.69,6.69 M202.11,243.81l6.69,-6.69 M162.89,203.39h19.01v19.01h-19.01z M162.89,203.39l6.69,-6.69h19.01v19.01l-6.69,6.69 M181.9,203.39l6.69,-6.69 M183.1,223.6h19.01v19.01h-19.01z M183.1,223.6l6.69,-6.69h19.01v19.01l-6.69,6.69 M202.11,223.6l6.69,-6.69 M183.1,203.39h19.01v19.01h-19.01z M183.1,203.39l6.69,-6.69h19.01v19.01l-6.69,6.69 M202.11,203.39l6.69,-6.69 M135.39,251.1h19.01v19.01h-19.01z M135.39,251.1l6.69,-6.69h19.01v19.01l-6.69,6.69 M154.4,251.1l6.69,-6.69 M135.39,230.89h19.01v19.01h-19.01z M135.39,230.89l6.69,-6.69h19.01v19.01l-6.69,6.69 M154.4,230.89l6.69,-6.69 M155.6,251.1h19.01v19.01h-19.01z M155.6,251.1l6.69,-6.69h19.01v19.01l-6.69,6.69 M174.61,251.1l6.69,-6.69 M135.39,210.68h19.01v19.01h-19.01z M135.39,210.68l6.69,-6.69h19.01v19.01l-6.69,6.69 M154.4,210.68l6.69,-6.69 M155.6,230.89h19.01v19.01h-19.01z M155.6,230.89l6.69,-6.69h19.01v19.01l-6.69,6.69 M174.61,230.89l6.69,-6.69 M175.81,251.1h19.01v19.01h-19.01z M175.81,251.1l6.69,-6.69h19.01v19.01l-6.69,6.69 M194.82,251.1l6.69,-6.69 M155.6,210.68h19.01v19.01h-19.01z M155.6,210.68l6.69,-6.69h19.01v19.01l-6.69,6.69 M174.61,210.68l6.69,-6.69 M175.81,230.89h19.01v19.01h-19.01z M175.81,230.89l6.69,-6.69h19.01v19.01l-6.69,6.69 M194.82,230.89l6.69,-6.69 M175.81,210.68h19.01v19.01h-19.01z M175.81,210.68l6.69,-6.69h19.01v19.01l-6.69,6.69 M194.82,210.68l6.69,-6.69" fill="none" stroke="#555555" stroke-width="0.7" stroke-opacity="0.28"/><path d="M142.67,203.39l6.69,-6.69h19.01l-6.69,6.69z  M202.11,243.81l6.69,-6.69v19.01l-6.69,6.69z  M162.89,203.39l6.69,-6.69h19.01l-6.69,6.69z  M202.11,223.6l6.69,-6.69v19.01l-6.69,6.69z  M183.1,203.39l6.69,-6.69h19.01l-6.69,6.69z M202.11,203.39l6.69,-6.69v19.01l-6.69,6.69z  M135.39,210.68l6.69,-6.69h19.01l-6.69,6.69z  M194.82,251.1l6.69,-6.69v19.01l-6.69,6.69z  M155.6,210.68l6.69,-6.69h19.01l-6.69,6.69z  M194.82,230.89l6.69,-6.69v19.01l-6.69,6.69z  M175.81,210.68l6.69,-6.69h19.01l-6.69,6.69z M194.82,210.68l6.69,-6.69v19.01l-6.69,6.69z " fill="none" stroke="#555555" stroke-width="1.0" stroke-linejoin="round"/><path d="M128.1,258.39h19.01v19.01h-19.01z M128.1,258.39l6.69,-6.69h19.01v19.01l-6.69,6.69 M147.11,258.39l6.69,-6.69 M128.1,238.18h19.01v19.01h-19.01z M128.1,238.18l6.69,-6.69h19.01v19.01l-6.69,6.69 M147.11,238.18l6.69,-6.69 M148.31,258.39h19.01v19.01h-19.01z M148.31,258.39l6.69,-6.69h19.01v19.01l-6.69,6.69 M167.32,258.39l6.69,-6.69 M128.1,217.96h19.01v19.01h-19.01z M128.1,217.96l6.69,-6.69h19.01v19.01l-6.69,6.69 M147.11,217.96l6.69,-6.69 M148.31,238.18h19.01v19.01h-19.01z M148.31,238.18l6.69,-6.69h19.01v19.01l-6.69,6.69 M167.32,238.18l6.69,-6.69 M168.53,258.39h19.01v19.01h-19.01z M168.53,258.39l6.69,-6.69h19.01v19.01l-6.69,6.69 M187.54,258.39l6.69,-6.69 M148.31,217.96h19.01v19.01h-19.01z M148.31,217.96l6.69,-6.69h19.01v19.01l-6.69,6.69 M167.32,217.96l6.69,-6.69 M168.53,238.18h19.01v19.01h-19.01z M168.53,238.18l6.69,-6.69h19.01v19.01l-6.69,6.69 M187.54,238.18l6.69,-6.69 M168.53,217.96h19.01v19.01h-19.01z M168.53,217.96l6.69,-6.69h19.01v19.01l-6.69,6.69 M187.54,217.96l6.69,-6.69" fill="none" stroke="#555555" stroke-width="1.0" stroke-linejoin="round"/>
<path d="M292.6,106.53l6.8,-6.8h18.86v18.86l-6.8,6.8h-18.86z" fill="#1c1c1c"/><rect x="293.1" y="107.03" width="17.86" height="17.86" fill="#444444" fill-opacity="0.75"/><rect x="297.36" y="107.03" width="13.6" height="13.6" fill="#050505" fill-opacity="0.8"/><polygon points="292.6,106.53 299.41,99.73 318.27,99.73 311.47,106.53" fill="#5a5a5a" fill-opacity="0.6"/><polygon points="311.47,106.53 318.27,99.73 318.27,118.59 311.47,125.4" fill="#2c2c2c" fill-opacity="0.5"/><path d="M292.6,87.67l6.8,-6.8h18.86v18.86l-6.8,6.8h-18.86z" fill="#1c1c1c"/><rect x="293.1" y="88.17" width="17.86" height="17.86" fill="#444444" fill-opacity="0.75"/><rect x="297.36" y="88.17" width="13.6" height="13.6" fill="#050505" fill-opacity="0.8"/><polygon points="292.6,87.67 299.41,80.86 318.27,80.86 311.47,87.67" fill="#5a5a5a" fill-opacity="0.6"/><polygon points="311.47,87.67 318.27,80.86 318.27,99.73 311.47,106.53" fill="#2c2c2c" fill-opacity="0.5"/><path d="M311.47,106.53l6.8,-6.8h18.86v18.86l-6.8,6.8h-18.86z" fill="#1c1c1c"/><rect x="311.97" y="107.03" width="17.86" height="17.86" fill="#444444" fill-opacity="0.75"/><rect x="316.23" y="107.03" width="13.6" height="13.6" fill="#050505" fill-opacity="0.8"/><polygon points="311.47,106.53 318.27,99.73 337.14,99.73 330.33,106.53" fill="#5a5a5a" fill-opacity="0.6"/><polygon points="330.33,106.53 337.14,99.73 337.14,118.59 330.33,125.4" fill="#2c2c2c" fill-opacity="0.5"/><path d="M292.6,68.8l6.8,-6.8h18.86v18.86l-6.8,6.8h-18.86z" fill="#1c1c1c"/><rect x="293.1" y="69.3" width="17.86" height="17.86" fill="#444444" fill-opacity="0.75"/><rect x="297.36" y="69.3" width="13.6" height="13.6" fill="#050505" fill-opacity="0.8"/><polygon points="292.6,68.8 299.41,62 318.27,62 311.47,68.8" fill="#5a5a5a" fill-opacity="0.6"/><polygon points="311.47,68.8 318.27,62 318.27,80.86 311.47,87.67" fill="#2c2c2c" fill-opacity="0.5"/><path d="M311.47,87.67l6.8,-6.8h18.86v18.86l-6.8,6.8h-18.86z" fill="#1c1c1c"/><rect x="311.97" y="88.17" width="17.86" height="17.86" fill="#444444" fill-opacity="0.75"/><rect x="316.23" y="88.17" width="13.6" height="13.6" fill="#050505" fill-opacity="0.8"/><polygon points="311.47,87.67 318.27,80.86 337.14,80.86 330.33,87.67" fill="#5a5a5a" fill-opacity="0.6"/><polygon points="330.33,87.67 337.14,80.86 337.14,99.73 330.33,106.53" fill="#2c2c2c" fill-opacity="0.5"/><path d="M330.33,106.53l6.8,-6.8h18.86v18.86l-6.8,6.8h-18.86z" fill="#1c1c1c"/><rect x="330.83" y="107.03" width="17.86" height="17.86" fill="#444444" fill-opacity="0.75"/><rect x="335.09" y="107.03" width="13.6" height="13.6" fill="#050505" fill-opacity="0.8"/><polygon points="330.33,106.53 337.14,99.73 356,99.73 349.2,106.53" fill="#5a5a5a" fill-opacity="0.6"/><polygon points="349.2,106.53 356,99.73 356,118.59 349.2,125.4" fill="#2c2c2c" fill-opacity="0.5"/><path d="M311.47,68.8l6.8,-6.8h18.86v18.86l-6.8,6.8h-18.86z" fill="#1c1c1c"/><rect x="311.97" y="69.3" width="17.86" height="17.86" fill="#444444" fill-opacity="0.75"/><rect x="316.23" y="69.3" width="13.6" height="13.6" fill="#050505" fill-opacity="0.8"/><polygon points="311.47,68.8 318.27,62 337.14,62 330.33,68.8" fill="#5a5a5a" fill-opacity="0.6"/><polygon points="330.33,68.8 337.14,62 337.14,80.86 330.33,87.67" fill="#2c2c2c" fill-opacity="0.5"/><path d="M330.33,87.67l6.8,-6.8h18.86v18.86l-6.8,6.8h-18.86z" fill="#1c1c1c"/><rect x="330.83" y="88.17" width="17.86" height="17.86" fill="#444444" fill-opacity="0.75"/><rect x="335.09" y="88.17" width="13.6" height="13.6" fill="#050505" fill-opacity="0.8"/><polygon points="330.33,87.67 337.14,80.86 356,80.86 349.2,87.67" fill="#5a5a5a" fill-opacity="0.6"/><polygon points="349.2,87.67 356,80.86 356,99.73 349.2,106.53" fill="#2c2c2c" fill-opacity="0.5"/><path d="M330.33,68.8l6.8,-6.8h18.86v18.86l-6.8,6.8h-18.86z" fill="#1c1c1c"/><rect x="330.83" y="69.3" width="17.86" height="17.86" fill="#444444" fill-opacity="0.75"/><rect x="335.09" y="69.3" width="13.6" height="13.6" fill="#050505" fill-opacity="0.8"/><polygon points="330.33,68.8 337.14,62 356,62 349.2,68.8" fill="#5a5a5a" fill-opacity="0.6"/><polygon points="349.2,68.8 356,62 356,80.86 349.2,87.67" fill="#2c2c2c" fill-opacity="0.5"/><path d="M285.8,113.33l6.8,-6.8h18.86v18.86l-6.8,6.8h-18.86z" fill="#1c1c1c"/><rect x="286.3" y="113.83" width="17.86" height="17.86" fill="#444444" fill-opacity="0.75"/><rect x="290.56" y="113.83" width="13.6" height="13.6" fill="#050505" fill-opacity="0.8"/><polygon points="285.8,113.33 292.6,106.53 311.47,106.53 304.67,113.33" fill="#5a5a5a" fill-opacity="0.6"/><polygon points="304.67,113.33 311.47,106.53 311.47,125.4 304.67,132.2" fill="#2c2c2c" fill-opacity="0.5"/><path d="M285.8,94.47l6.8,-6.8h18.86v18.86l-6.8,6.8h-18.86z" fill="#1c1c1c"/><rect x="286.3" y="94.97" width="17.86" height="17.86" fill="#444444" fill-opacity="0.75"/><rect x="290.56" y="94.97" width="13.6" height="13.6" fill="#050505" fill-opacity="0.8"/><polygon points="285.8,94.47 292.6,87.67 311.47,87.67 304.67,94.47" fill="#5a5a5a" fill-opacity="0.6"/><polygon points="304.67,94.47 311.47,87.67 311.47,106.53 304.67,113.33" fill="#2c2c2c" fill-opacity="0.5"/><path d="M304.67,113.33l6.8,-6.8h18.86v18.86l-6.8,6.8h-18.86z" fill="#1c1c1c"/><rect x="305.17" y="113.83" width="17.86" height="17.86" fill="#444444" fill-opacity="0.75"/><rect x="309.43" y="113.83" width="13.6" height="13.6" fill="#050505" fill-opacity="0.8"/><polygon points="304.67,113.33 311.47,106.53 330.33,106.53 323.53,113.33" fill="#5a5a5a" fill-opacity="0.6"/><polygon points="323.53,113.33 330.33,106.53 330.33,125.4 323.53,132.2" fill="#2c2c2c" fill-opacity="0.5"/><path d="M285.8,75.6l6.8,-6.8h18.86v18.86l-6.8,6.8h-18.86z" fill="#1c1c1c"/><rect x="286.3" y="76.1" width="17.86" height="17.86" fill="#444444" fill-opacity="0.75"/><rect x="290.56" y="76.1" width="13.6" height="13.6" fill="#050505" fill-opacity="0.8"/><polygon points="285.8,75.6 292.6,68.8 311.47,68.8 304.67,75.6" fill="#5a5a5a" fill-opacity="0.6"/><polygon points="304.67,75.6 311.47,68.8 311.47,87.67 304.67,94.47" fill="#2c2c2c" fill-opacity="0.5"/><path d="M304.67,94.47l6.8,-6.8h18.86v18.86l-6.8,6.8h-18.86z" fill="#1c1c1c"/><rect x="305.17" y="94.97" width="17.86" height="17.86" fill="#444444" fill-opacity="0.75"/><rect x="309.43" y="94.97" width="13.6" height="13.6" fill="#050505" fill-opacity="0.8"/><polygon points="304.67,94.47 311.47,87.67 330.33,87.67 323.53,94.47" fill="#5a5a5a" fill-opacity="0.6"/><polygon points="323.53,94.47 330.33,87.67 330.33,106.53 323.53,113.33" fill="#2c2c2c" fill-opacity="0.5"/><path d="M323.53,113.33l6.8,-6.8h18.86v18.86l-6.8,6.8h-18.86z" fill="#1c1c1c"/><rect x="324.03" y="113.83" width="17.86" height="17.86" fill="#444444" fill-opacity="0.75"/><rect x="328.29" y="113.83" width="13.6" height="13.6" fill="#050505" fill-opacity="0.8"/><polygon points="323.53,113.33 330.33,106.53 349.2,106.53 342.4,113.33" fill="#5a5a5a" fill-opacity="0.6"/><polygon points="342.4,113.33 349.2,106.53 349.2,125.4 342.4,132.2" fill="#2c2c2c" fill-opacity="0.5"/><path d="M304.67,75.6l6.8,-6.8h18.86v18.86l-6.8,6.8h-18.86z" fill="#1c1c1c"/><rect x="305.17" y="76.1" width="17.86" height="17.86" fill="#444444" fill-opacity="0.75"/><rect x="309.43" y="76.1" width="13.6" height="13.6" fill="#050505" fill-opacity="0.8"/><polygon points="304.67,75.6 311.47,68.8 330.33,68.8 323.53,75.6" fill="#5a5a5a" fill-opacity="0.6"/><polygon points="323.53,75.6 330.33,68.8 330.33,87.67 323.53,94.47" fill="#2c2c2c" fill-opacity="0.5"/><path d="M323.53,94.47l6.8,-6.8h18.86v18.86l-6.8,6.8h-18.86z" fill="#1c1c1c"/><rect x="324.03" y="94.97" width="17.86" height="17.86" fill="#444444" fill-opacity="0.75"/><rect x="328.29" y="94.97" width="13.6" height="13.6" fill="#050505" fill-opacity="0.8"/><polygon points="323.53,94.47 330.33,87.67 349.2,87.67 342.4,94.47" fill="#5a5a5a" fill-opacity="0.6"/><polygon points="342.4,94.47 349.2,87.67 349.2,106.53 342.4,113.33" fill="#2c2c2c" fill-opacity="0.5"/><path d="M323.53,75.6l6.8,-6.8h18.86v18.86l-6.8,6.8h-18.86z" fill="#1c1c1c"/><rect x="324.03" y="76.1" width="17.86" height="17.86" fill="#444444" fill-opacity="0.75"/><rect x="328.29" y="76.1" width="13.6" height="13.6" fill="#050505" fill-opacity="0.8"/><polygon points="323.53,75.6 330.33,68.8 349.2,68.8 342.4,75.6" fill="#5a5a5a" fill-opacity="0.6"/><polygon points="342.4,75.6 349.2,68.8 349.2,87.67 342.4,94.47" fill="#2c2c2c" fill-opacity="0.5"/><path d="M279,120.13l6.8,-6.8h18.86v18.86l-6.8,6.8h-18.86z" fill="#1c1c1c"/><rect x="279.5" y="120.63" width="17.86" height="17.86" fill="#444444" fill-opacity="0.75"/><rect x="283.76" y="120.63" width="13.6" height="13.6" fill="#050505" fill-opacity="0.8"/><polygon points="279,120.13 285.8,113.33 304.67,113.33 297.87,120.13" fill="#5a5a5a" fill-opacity="0.6"/><polygon points="297.87,120.13 304.67,113.33 304.67,132.2 297.87,139" fill="#2c2c2c" fill-opacity="0.5"/><path d="M279,101.27l6.8,-6.8h18.86v18.86l-6.8,6.8h-18.86z" fill="#1c1c1c"/><rect x="279.5" y="101.77" width="17.86" height="17.86" fill="#444444" fill-opacity="0.75"/><rect x="283.76" y="101.77" width="13.6" height="13.6" fill="#050505" fill-opacity="0.8"/><polygon points="279,101.27 285.8,94.47 304.67,94.47 297.87,101.27" fill="#5a5a5a" fill-opacity="0.6"/><polygon points="297.87,101.27 304.67,94.47 304.67,113.33 297.87,120.13" fill="#2c2c2c" fill-opacity="0.5"/><path d="M297.87,120.13l6.8,-6.8h18.86v18.86l-6.8,6.8h-18.86z" fill="#1c1c1c"/><rect x="298.37" y="120.63" width="17.86" height="17.86" fill="#444444" fill-opacity="0.75"/><rect x="302.63" y="120.63" width="13.6" height="13.6" fill="#050505" fill-opacity="0.8"/><polygon points="297.87,120.13 304.67,113.33 323.53,113.33 316.73,120.13" fill="#5a5a5a" fill-opacity="0.6"/><polygon points="316.73,120.13 323.53,113.33 323.53,132.2 316.73,139" fill="#2c2c2c" fill-opacity="0.5"/><path d="M279,82.41l6.8,-6.8h18.86v18.86l-6.8,6.8h-18.86z" fill="#1c1c1c"/><rect x="279.5" y="82.91" width="17.86" height="17.86" fill="#444444" fill-opacity="0.75"/><rect x="283.76" y="82.91" width="13.6" height="13.6" fill="#050505" fill-opacity="0.8"/><polygon points="279,82.41 285.8,75.6 304.67,75.6 297.87,82.41" fill="#5a5a5a" fill-opacity="0.6"/><polygon points="297.87,82.41 304.67,75.6 304.67,94.47 297.87,101.27" fill="#2c2c2c" fill-opacity="0.5"/><path d="M297.87,101.27l6.8,-6.8h18.86v18.86l-6.8,6.8h-18.86z" fill="#1c1c1c"/><rect x="298.37" y="101.77" width="17.86" height="17.86" fill="#444444" fill-opacity="0.75"/><rect x="302.63" y="101.77" width="13.6" height="13.6" fill="#050505" fill-opacity="0.8"/><polygon points="297.87,101.27 304.67,94.47 323.53,94.47 316.73,101.27" fill="#5a5a5a" fill-opacity="0.6"/><polygon points="316.73,101.27 323.53,94.47 323.53,113.33 316.73,120.13" fill="#2c2c2c" fill-opacity="0.5"/><path d="M316.73,120.13l6.8,-6.8h18.86v18.86l-6.8,6.8h-18.86z" fill="#1c1c1c"/><rect x="317.23" y="120.63" width="17.86" height="17.86" fill="#444444" fill-opacity="0.75"/><rect x="321.49" y="120.63" width="13.6" height="13.6" fill="#050505" fill-opacity="0.8"/><polygon points="316.73,120.13 323.53,113.33 342.4,113.33 335.6,120.13" fill="#5a5a5a" fill-opacity="0.6"/><polygon points="335.6,120.13 342.4,113.33 342.4,132.2 335.6,139" fill="#2c2c2c" fill-opacity="0.5"/><path d="M297.87,82.41l6.8,-6.8h18.86v18.86l-6.8,6.8h-18.86z" fill="#1c1c1c"/><rect x="298.37" y="82.91" width="17.86" height="17.86" fill="#444444" fill-opacity="0.75"/><rect x="302.63" y="82.91" width="13.6" height="13.6" fill="#050505" fill-opacity="0.8"/><polygon points="297.87,82.41 304.67,75.6 323.53,75.6 316.73,82.41" fill="#5a5a5a" fill-opacity="0.6"/><polygon points="316.73,82.41 323.53,75.6 323.53,94.47 316.73,101.27" fill="#2c2c2c" fill-opacity="0.5"/><path d="M316.73,101.27l6.8,-6.8h18.86v18.86l-6.8,6.8h-18.86z" fill="#1c1c1c"/><rect x="317.23" y="101.77" width="17.86" height="17.86" fill="#444444" fill-opacity="0.75"/><rect x="321.49" y="101.77" width="13.6" height="13.6" fill="#050505" fill-opacity="0.8"/><polygon points="316.73,101.27 323.53,94.47 342.4,94.47 335.6,101.27" fill="#5a5a5a" fill-opacity="0.6"/><polygon points="335.6,101.27 342.4,94.47 342.4,113.33 335.6,120.13" fill="#2c2c2c" fill-opacity="0.5"/><path d="M316.73,82.41l6.8,-6.8h18.86v18.86l-6.8,6.8h-18.86z" fill="#1c1c1c"/><rect x="317.23" y="82.91" width="17.86" height="17.86" fill="#444444" fill-opacity="0.75"/><rect x="321.49" y="82.91" width="13.6" height="13.6" fill="#050505" fill-opacity="0.8"/><polygon points="316.73,82.41 323.53,75.6 342.4,75.6 335.6,82.41" fill="#5a5a5a" fill-opacity="0.6"/><polygon points="335.6,82.41 342.4,75.6 342.4,94.47 335.6,101.27" fill="#2c2c2c" fill-opacity="0.5"/><clipPath id="bc2"><path d="M279,82.41h18.86v18.86h-18.86z M297.87,82.41h18.86v18.86h-18.86z M316.73,82.41h18.86v18.86h-18.86z M279,101.27h18.86v18.86h-18.86z M297.87,101.27h18.86v18.86h-18.86z M316.73,101.27h18.86v18.86h-18.86z M279,120.13h18.86v18.86h-18.86z M297.87,120.13h18.86v18.86h-18.86z M316.73,120.13h18.86v18.86h-18.86z M285.8,75.6h18.86v18.86h-18.86z M304.67,75.6h18.86v18.86h-18.86z M323.53,75.6h18.86v18.86h-18.86z M285.8,94.47h18.86v18.86h-18.86z M304.67,94.47h18.86v18.86h-18.86z M323.53,94.47h18.86v18.86h-18.86z M285.8,113.33h18.86v18.86h-18.86z M304.67,113.33h18.86v18.86h-18.86z M323.53,113.33h18.86v18.86h-18.86z M292.6,68.8h18.86v18.86h-18.86z M311.47,68.8h18.86v18.86h-18.86z M330.33,68.8h18.86v18.86h-18.86z M292.6,87.67h18.86v18.86h-18.86z M311.47,87.67h18.86v18.86h-18.86z M330.33,87.67h18.86v18.86h-18.86z M292.6,106.53h18.86v18.86h-18.86z M311.47,106.53h18.86v18.86h-18.86z M330.33,106.53h18.86v18.86h-18.86z"/></clipPath><g clip-path="url(#bc2)"><ellipse cx="309.34" cy="109.34" rx="15.28" ry="21.79" fill="url(#braingrad)" opacity="1.0" filter="url(#braintex)"/><ellipse cx="309.34" cy="109.34" rx="15.28" ry="21.79" fill="#6ab0f0" opacity="0.15"/></g><path d="M293.2,107.13h17.66v17.66h-17.66z M293.2,107.13l6.2,-6.2h17.66v17.66l-6.2,6.2 M310.87,107.13l6.2,-6.2 M293.2,88.27h17.66v17.66h-17.66z M293.2,88.27l6.2,-6.2h17.66v17.66l-6.2,6.2 M310.87,88.27l6.2,-6.2 M312.07,107.13h17.66v17.66h-17.66z M312.07,107.13l6.2,-6.2h17.66v17.66l-6.2,6.2 M329.73,107.13l6.2,-6.2 M293.2,69.4h17.66v17.66h-17.66z M293.2,69.4l6.2,-6.2h17.66v17.66l-6.2,6.2 M310.87,69.4l6.2,-6.2 M312.07,88.27h17.66v17.66h-17.66z M312.07,88.27l6.2,-6.2h17.66v17.66l-6.2,6.2 M329.73,88.27l6.2,-6.2 M330.93,107.13h17.66v17.66h-17.66z M330.93,107.13l6.2,-6.2h17.66v17.66l-6.2,6.2 M348.6,107.13l6.2,-6.2 M312.07,69.4h17.66v17.66h-17.66z M312.07,69.4l6.2,-6.2h17.66v17.66l-6.2,6.2 M329.73,69.4l6.2,-6.2 M330.93,88.27h17.66v17.66h-17.66z M330.93,88.27l6.2,-6.2h17.66v17.66l-6.2,6.2 M348.6,88.27l6.2,-6.2 M330.93,69.4h17.66v17.66h-17.66z M330.93,69.4l6.2,-6.2h17.66v17.66l-6.2,6.2 M348.6,69.4l6.2,-6.2 M286.4,113.93h17.66v17.66h-17.66z M286.4,113.93l6.2,-6.2h17.66v17.66l-6.2,6.2 M304.07,113.93l6.2,-6.2 M286.4,95.07h17.66v17.66h-17.66z M286.4,95.07l6.2,-6.2h17.66v17.66l-6.2,6.2 M304.07,95.07l6.2,-6.2 M305.27,113.93h17.66v17.66h-17.66z M305.27,113.93l6.2,-6.2h17.66v17.66l-6.2,6.2 M322.93,113.93l6.2,-6.2 M286.4,76.2h17.66v17.66h-17.66z M286.4,76.2l6.2,-6.2h17.66v17.66l-6.2,6.2 M304.07,76.2l6.2,-6.2 M305.27,95.07h17.66v17.66h-17.66z M305.27,95.07l6.2,-6.2h17.66v17.66l-6.2,6.2 M322.93,95.07l6.2,-6.2 M324.13,113.93h17.66v17.66h-17.66z M324.13,113.93l6.2,-6.2h17.66v17.66l-6.2,6.2 M341.8,113.93l6.2,-6.2 M305.27,76.2h17.66v17.66h-17.66z M305.27,76.2l6.2,-6.2h17.66v17.66l-6.2,6.2 M322.93,76.2l6.2,-6.2 M324.13,95.07h17.66v17.66h-17.66z M324.13,95.07l6.2,-6.2h17.66v17.66l-6.2,6.2 M341.8,95.07l6.2,-6.2 M324.13,76.2h17.66v17.66h-17.66z M324.13,76.2l6.2,-6.2h17.66v17.66l-6.2,6.2 M341.8,76.2l6.2,-6.2" fill="none" stroke="#1f8ae0" stroke-width="0.8049999999999999" stroke-opacity="0.28"/><path d="M293.2,69.4l6.2,-6.2h17.66l-6.2,6.2z  M348.6,107.13l6.2,-6.2v17.66l-6.2,6.2z  M312.07,69.4l6.2,-6.2h17.66l-6.2,6.2z  M348.6,88.27l6.2,-6.2v17.66l-6.2,6.2z  M330.93,69.4l6.2,-6.2h17.66l-6.2,6.2z M348.6,69.4l6.2,-6.2v17.66l-6.2,6.2z  M286.4,76.2l6.2,-6.2h17.66l-6.2,6.2z  M341.8,113.93l6.2,-6.2v17.66l-6.2,6.2z  M305.27,76.2l6.2,-6.2h17.66l-6.2,6.2z  M341.8,95.07l6.2,-6.2v17.66l-6.2,6.2z  M324.13,76.2l6.2,-6.2h17.66l-6.2,6.2z M341.8,76.2l6.2,-6.2v17.66l-6.2,6.2z " fill="none" stroke="#1f8ae0" stroke-width="1.15" stroke-linejoin="round"/><path d="M279.6,120.73h17.66v17.66h-17.66z M279.6,120.73l6.2,-6.2h17.66v17.66l-6.2,6.2 M297.27,120.73l6.2,-6.2 M279.6,101.87h17.66v17.66h-17.66z M279.6,101.87l6.2,-6.2h17.66v17.66l-6.2,6.2 M297.27,101.87l6.2,-6.2 M298.47,120.73h17.66v17.66h-17.66z M298.47,120.73l6.2,-6.2h17.66v17.66l-6.2,6.2 M316.13,120.73l6.2,-6.2 M279.6,83h17.66v17.66h-17.66z M279.6,83l6.2,-6.2h17.66v17.66l-6.2,6.2 M297.27,83l6.2,-6.2 M298.47,101.87h17.66v17.66h-17.66z M298.47,101.87l6.2,-6.2h17.66v17.66l-6.2,6.2 M316.13,101.87l6.2,-6.2 M317.33,120.73h17.66v17.66h-17.66z M317.33,120.73l6.2,-6.2h17.66v17.66l-6.2,6.2 M335,120.73l6.2,-6.2 M298.47,83h17.66v17.66h-17.66z M298.47,83l6.2,-6.2h17.66v17.66l-6.2,6.2 M316.13,83l6.2,-6.2 M317.33,101.87h17.66v17.66h-17.66z M317.33,101.87l6.2,-6.2h17.66v17.66l-6.2,6.2 M335,101.87l6.2,-6.2 M317.33,83h17.66v17.66h-17.66z M317.33,83l6.2,-6.2h17.66v17.66l-6.2,6.2 M335,83l6.2,-6.2" fill="none" stroke="#1f8ae0" stroke-width="1.15" stroke-linejoin="round"/>
<path d="M291.1,185.03l6.8,-6.8h18.86v18.86l-6.8,6.8h-18.86z" fill="#1c1c1c"/><rect x="291.6" y="185.53" width="17.86" height="17.86" fill="#444444" fill-opacity="0.75"/><rect x="295.86" y="185.53" width="13.6" height="13.6" fill="#050505" fill-opacity="0.8"/><polygon points="291.1,185.03 297.91,178.23 316.77,178.23 309.97,185.03" fill="#5a5a5a" fill-opacity="0.6"/><polygon points="309.97,185.03 316.77,178.23 316.77,197.09 309.97,203.9" fill="#2c2c2c" fill-opacity="0.5"/><path d="M291.1,166.17l6.8,-6.8h18.86v18.86l-6.8,6.8h-18.86z" fill="#1c1c1c"/><rect x="291.6" y="166.67" width="17.86" height="17.86" fill="#444444" fill-opacity="0.75"/><rect x="295.86" y="166.67" width="13.6" height="13.6" fill="#050505" fill-opacity="0.8"/><polygon points="291.1,166.17 297.91,159.37 316.77,159.37 309.97,166.17" fill="#5a5a5a" fill-opacity="0.6"/><polygon points="309.97,166.17 316.77,159.37 316.77,178.23 309.97,185.03" fill="#2c2c2c" fill-opacity="0.5"/><path d="M309.97,185.03l6.8,-6.8h18.86v18.86l-6.8,6.8h-18.86z" fill="#1c1c1c"/><rect x="310.47" y="185.53" width="17.86" height="17.86" fill="#444444" fill-opacity="0.75"/><rect x="314.73" y="185.53" width="13.6" height="13.6" fill="#050505" fill-opacity="0.8"/><polygon points="309.97,185.03 316.77,178.23 335.64,178.23 328.83,185.03" fill="#5a5a5a" fill-opacity="0.6"/><polygon points="328.83,185.03 335.64,178.23 335.64,197.09 328.83,203.9" fill="#2c2c2c" fill-opacity="0.5"/><path d="M291.1,147.3l6.8,-6.8h18.86v18.86l-6.8,6.8h-18.86z" fill="#1c1c1c"/><rect x="291.6" y="147.8" width="17.86" height="17.86" fill="#444444" fill-opacity="0.75"/><rect x="295.86" y="147.8" width="13.6" height="13.6" fill="#050505" fill-opacity="0.8"/><polygon points="291.1,147.3 297.91,140.5 316.77,140.5 309.97,147.3" fill="#5a5a5a" fill-opacity="0.6"/><polygon points="309.97,147.3 316.77,140.5 316.77,159.37 309.97,166.17" fill="#2c2c2c" fill-opacity="0.5"/><path d="M309.97,166.17l6.8,-6.8h18.86v18.86l-6.8,6.8h-18.86z" fill="#1c1c1c"/><rect x="310.47" y="166.67" width="17.86" height="17.86" fill="#444444" fill-opacity="0.75"/><rect x="314.73" y="166.67" width="13.6" height="13.6" fill="#050505" fill-opacity="0.8"/><polygon points="309.97,166.17 316.77,159.37 335.64,159.37 328.83,166.17" fill="#5a5a5a" fill-opacity="0.6"/><polygon points="328.83,166.17 335.64,159.37 335.64,178.23 328.83,185.03" fill="#2c2c2c" fill-opacity="0.5"/><path d="M328.83,185.03l6.8,-6.8h18.86v18.86l-6.8,6.8h-18.86z" fill="#1c1c1c"/><rect x="329.33" y="185.53" width="17.86" height="17.86" fill="#444444" fill-opacity="0.75"/><rect x="333.59" y="185.53" width="13.6" height="13.6" fill="#050505" fill-opacity="0.8"/><polygon points="328.83,185.03 335.64,178.23 354.5,178.23 347.7,185.03" fill="#5a5a5a" fill-opacity="0.6"/><polygon points="347.7,185.03 354.5,178.23 354.5,197.09 347.7,203.9" fill="#2c2c2c" fill-opacity="0.5"/><path d="M309.97,147.3l6.8,-6.8h18.86v18.86l-6.8,6.8h-18.86z" fill="#1c1c1c"/><rect x="310.47" y="147.8" width="17.86" height="17.86" fill="#444444" fill-opacity="0.75"/><rect x="314.73" y="147.8" width="13.6" height="13.6" fill="#050505" fill-opacity="0.8"/><polygon points="309.97,147.3 316.77,140.5 335.64,140.5 328.83,147.3" fill="#5a5a5a" fill-opacity="0.6"/><polygon points="328.83,147.3 335.64,140.5 335.64,159.37 328.83,166.17" fill="#2c2c2c" fill-opacity="0.5"/><path d="M328.83,166.17l6.8,-6.8h18.86v18.86l-6.8,6.8h-18.86z" fill="#1c1c1c"/><rect x="329.33" y="166.67" width="17.86" height="17.86" fill="#444444" fill-opacity="0.75"/><rect x="333.59" y="166.67" width="13.6" height="13.6" fill="#050505" fill-opacity="0.8"/><polygon points="328.83,166.17 335.64,159.37 354.5,159.37 347.7,166.17" fill="#5a5a5a" fill-opacity="0.6"/><polygon points="347.7,166.17 354.5,159.37 354.5,178.23 347.7,185.03" fill="#2c2c2c" fill-opacity="0.5"/><path d="M328.83,147.3l6.8,-6.8h18.86v18.86l-6.8,6.8h-18.86z" fill="#1c1c1c"/><rect x="329.33" y="147.8" width="17.86" height="17.86" fill="#444444" fill-opacity="0.75"/><rect x="333.59" y="147.8" width="13.6" height="13.6" fill="#050505" fill-opacity="0.8"/><polygon points="328.83,147.3 335.64,140.5 354.5,140.5 347.7,147.3" fill="#5a5a5a" fill-opacity="0.6"/><polygon points="347.7,147.3 354.5,140.5 354.5,159.37 347.7,166.17" fill="#2c2c2c" fill-opacity="0.5"/><path d="M284.3,191.83l6.8,-6.8h18.86v18.86l-6.8,6.8h-18.86z" fill="#1c1c1c"/><rect x="284.8" y="192.33" width="17.86" height="17.86" fill="#444444" fill-opacity="0.75"/><rect x="289.06" y="192.33" width="13.6" height="13.6" fill="#050505" fill-opacity="0.8"/><polygon points="284.3,191.83 291.1,185.03 309.97,185.03 303.17,191.83" fill="#5a5a5a" fill-opacity="0.6"/><polygon points="303.17,191.83 309.97,185.03 309.97,203.9 303.17,210.7" fill="#2c2c2c" fill-opacity="0.5"/><path d="M284.3,172.97l6.8,-6.8h18.86v18.86l-6.8,6.8h-18.86z" fill="#1c1c1c"/><rect x="284.8" y="173.47" width="17.86" height="17.86" fill="#444444" fill-opacity="0.75"/><rect x="289.06" y="173.47" width="13.6" height="13.6" fill="#050505" fill-opacity="0.8"/><polygon points="284.3,172.97 291.1,166.17 309.97,166.17 303.17,172.97" fill="#5a5a5a" fill-opacity="0.6"/><polygon points="303.17,172.97 309.97,166.17 309.97,185.03 303.17,191.83" fill="#2c2c2c" fill-opacity="0.5"/><path d="M303.17,191.83l6.8,-6.8h18.86v18.86l-6.8,6.8h-18.86z" fill="#1c1c1c"/><rect x="303.67" y="192.33" width="17.86" height="17.86" fill="#444444" fill-opacity="0.75"/><rect x="307.93" y="192.33" width="13.6" height="13.6" fill="#050505" fill-opacity="0.8"/><polygon points="303.17,191.83 309.97,185.03 328.83,185.03 322.03,191.83" fill="#5a5a5a" fill-opacity="0.6"/><polygon points="322.03,191.83 328.83,185.03 328.83,203.9 322.03,210.7" fill="#2c2c2c" fill-opacity="0.5"/><path d="M284.3,154.1l6.8,-6.8h18.86v18.86l-6.8,6.8h-18.86z" fill="#1c1c1c"/><rect x="284.8" y="154.6" width="17.86" height="17.86" fill="#444444" fill-opacity="0.75"/><rect x="289.06" y="154.6" width="13.6" height="13.6" fill="#050505" fill-opacity="0.8"/><polygon points="284.3,154.1 291.1,147.3 309.97,147.3 303.17,154.1" fill="#5a5a5a" fill-opacity="0.6"/><polygon points="303.17,154.1 309.97,147.3 309.97,166.17 303.17,172.97" fill="#2c2c2c" fill-opacity="0.5"/><path d="M303.17,172.97l6.8,-6.8h18.86v18.86l-6.8,6.8h-18.86z" fill="#1c1c1c"/><rect x="303.67" y="173.47" width="17.86" height="17.86" fill="#444444" fill-opacity="0.75"/><rect x="307.93" y="173.47" width="13.6" height="13.6" fill="#050505" fill-opacity="0.8"/><polygon points="303.17,172.97 309.97,166.17 328.83,166.17 322.03,172.97" fill="#5a5a5a" fill-opacity="0.6"/><polygon points="322.03,172.97 328.83,166.17 328.83,185.03 322.03,191.83" fill="#2c2c2c" fill-opacity="0.5"/><path d="M322.03,191.83l6.8,-6.8h18.86v18.86l-6.8,6.8h-18.86z" fill="#1c1c1c"/><rect x="322.53" y="192.33" width="17.86" height="17.86" fill="#444444" fill-opacity="0.75"/><rect x="326.79" y="192.33" width="13.6" height="13.6" fill="#050505" fill-opacity="0.8"/><polygon points="322.03,191.83 328.83,185.03 347.7,185.03 340.9,191.83" fill="#5a5a5a" fill-opacity="0.6"/><polygon points="340.9,191.83 347.7,185.03 347.7,203.9 340.9,210.7" fill="#2c2c2c" fill-opacity="0.5"/><path d="M303.17,154.1l6.8,-6.8h18.86v18.86l-6.8,6.8h-18.86z" fill="#1c1c1c"/><rect x="303.67" y="154.6" width="17.86" height="17.86" fill="#444444" fill-opacity="0.75"/><rect x="307.93" y="154.6" width="13.6" height="13.6" fill="#050505" fill-opacity="0.8"/><polygon points="303.17,154.1 309.97,147.3 328.83,147.3 322.03,154.1" fill="#5a5a5a" fill-opacity="0.6"/><polygon points="322.03,154.1 328.83,147.3 328.83,166.17 322.03,172.97" fill="#2c2c2c" fill-opacity="0.5"/><path d="M322.03,172.97l6.8,-6.8h18.86v18.86l-6.8,6.8h-18.86z" fill="#1c1c1c"/><rect x="322.53" y="173.47" width="17.86" height="17.86" fill="#444444" fill-opacity="0.75"/><rect x="326.79" y="173.47" width="13.6" height="13.6" fill="#050505" fill-opacity="0.8"/><polygon points="322.03,172.97 328.83,166.17 347.7,166.17 340.9,172.97" fill="#5a5a5a" fill-opacity="0.6"/><polygon points="340.9,172.97 347.7,166.17 347.7,185.03 340.9,191.83" fill="#2c2c2c" fill-opacity="0.5"/><path d="M322.03,154.1l6.8,-6.8h18.86v18.86l-6.8,6.8h-18.86z" fill="#1c1c1c"/><rect x="322.53" y="154.6" width="17.86" height="17.86" fill="#444444" fill-opacity="0.75"/><rect x="326.79" y="154.6" width="13.6" height="13.6" fill="#050505" fill-opacity="0.8"/><polygon points="322.03,154.1 328.83,147.3 347.7,147.3 340.9,154.1" fill="#5a5a5a" fill-opacity="0.6"/><polygon points="340.9,154.1 347.7,147.3 347.7,166.17 340.9,172.97" fill="#2c2c2c" fill-opacity="0.5"/><path d="M277.5,198.63l6.8,-6.8h18.86v18.86l-6.8,6.8h-18.86z" fill="#1c1c1c"/><rect x="278" y="199.13" width="17.86" height="17.86" fill="#444444" fill-opacity="0.75"/><rect x="282.26" y="199.13" width="13.6" height="13.6" fill="#050505" fill-opacity="0.8"/><polygon points="277.5,198.63 284.3,191.83 303.17,191.83 296.37,198.63" fill="#5a5a5a" fill-opacity="0.6"/><polygon points="296.37,198.63 303.17,191.83 303.17,210.7 296.37,217.5" fill="#2c2c2c" fill-opacity="0.5"/><path d="M277.5,179.77l6.8,-6.8h18.86v18.86l-6.8,6.8h-18.86z" fill="#1c1c1c"/><rect x="278" y="180.27" width="17.86" height="17.86" fill="#444444" fill-opacity="0.75"/><rect x="282.26" y="180.27" width="13.6" height="13.6" fill="#050505" fill-opacity="0.8"/><polygon points="277.5,179.77 284.3,172.97 303.17,172.97 296.37,179.77" fill="#5a5a5a" fill-opacity="0.6"/><polygon points="296.37,179.77 303.17,172.97 303.17,191.83 296.37,198.64" fill="#2c2c2c" fill-opacity="0.5"/><path d="M296.37,198.63l6.8,-6.8h18.86v18.86l-6.8,6.8h-18.86z" fill="#1c1c1c"/><rect x="296.87" y="199.13" width="17.86" height="17.86" fill="#444444" fill-opacity="0.75"/><rect x="301.13" y="199.13" width="13.6" height="13.6" fill="#050505" fill-opacity="0.8"/><polygon points="296.37,198.63 303.17,191.83 322.03,191.83 315.23,198.63" fill="#5a5a5a" fill-opacity="0.6"/><polygon points="315.23,198.63 322.03,191.83 322.03,210.7 315.23,217.5" fill="#2c2c2c" fill-opacity="0.5"/><path d="M277.5,160.91l6.8,-6.8h18.86v18.86l-6.8,6.8h-18.86z" fill="#1c1c1c"/><rect x="278" y="161.41" width="17.86" height="17.86" fill="#444444" fill-opacity="0.75"/><rect x="282.26" y="161.41" width="13.6" height="13.6" fill="#050505" fill-opacity="0.8"/><polygon points="277.5,160.91 284.3,154.1 303.17,154.1 296.37,160.91" fill="#5a5a5a" fill-opacity="0.6"/><polygon points="296.37,160.91 303.17,154.1 303.17,172.97 296.37,179.77" fill="#2c2c2c" fill-opacity="0.5"/><path d="M296.37,179.77l6.8,-6.8h18.86v18.86l-6.8,6.8h-18.86z" fill="#1c1c1c"/><rect x="296.87" y="180.27" width="17.86" height="17.86" fill="#444444" fill-opacity="0.75"/><rect x="301.13" y="180.27" width="13.6" height="13.6" fill="#050505" fill-opacity="0.8"/><polygon points="296.37,179.77 303.17,172.97 322.03,172.97 315.23,179.77" fill="#5a5a5a" fill-opacity="0.6"/><polygon points="315.23,179.77 322.03,172.97 322.03,191.83 315.23,198.64" fill="#2c2c2c" fill-opacity="0.5"/><path d="M315.23,198.63l6.8,-6.8h18.86v18.86l-6.8,6.8h-18.86z" fill="#1c1c1c"/><rect x="315.73" y="199.13" width="17.86" height="17.86" fill="#444444" fill-opacity="0.75"/><rect x="319.99" y="199.13" width="13.6" height="13.6" fill="#050505" fill-opacity="0.8"/><polygon points="315.23,198.63 322.03,191.83 340.9,191.83 334.1,198.63" fill="#5a5a5a" fill-opacity="0.6"/><polygon points="334.1,198.63 340.9,191.83 340.9,210.7 334.1,217.5" fill="#2c2c2c" fill-opacity="0.5"/><path d="M296.37,160.91l6.8,-6.8h18.86v18.86l-6.8,6.8h-18.86z" fill="#1c1c1c"/><rect x="296.87" y="161.41" width="17.86" height="17.86" fill="#444444" fill-opacity="0.75"/><rect x="301.13" y="161.41" width="13.6" height="13.6" fill="#050505" fill-opacity="0.8"/><polygon points="296.37,160.91 303.17,154.1 322.03,154.1 315.23,160.91" fill="#5a5a5a" fill-opacity="0.6"/><polygon points="315.23,160.91 322.03,154.1 322.03,172.97 315.23,179.77" fill="#2c2c2c" fill-opacity="0.5"/><path d="M315.23,179.77l6.8,-6.8h18.86v18.86l-6.8,6.8h-18.86z" fill="#1c1c1c"/><rect x="315.73" y="180.27" width="17.86" height="17.86" fill="#444444" fill-opacity="0.75"/><rect x="319.99" y="180.27" width="13.6" height="13.6" fill="#050505" fill-opacity="0.8"/><polygon points="315.23,179.77 322.03,172.97 340.9,172.97 334.1,179.77" fill="#5a5a5a" fill-opacity="0.6"/><polygon points="334.1,179.77 340.9,172.97 340.9,191.83 334.1,198.64" fill="#2c2c2c" fill-opacity="0.5"/><path d="M315.23,160.91l6.8,-6.8h18.86v18.86l-6.8,6.8h-18.86z" fill="#1c1c1c"/><rect x="315.73" y="161.41" width="17.86" height="17.86" fill="#444444" fill-opacity="0.75"/><rect x="319.99" y="161.41" width="13.6" height="13.6" fill="#050505" fill-opacity="0.8"/><polygon points="315.23,160.91 322.03,154.1 340.9,154.1 334.1,160.91" fill="#5a5a5a" fill-opacity="0.6"/><polygon points="334.1,160.91 340.9,154.1 340.9,172.97 334.1,179.77" fill="#2c2c2c" fill-opacity="0.5"/><clipPath id="bc3"><path d="M277.5,160.91h18.86v18.86h-18.86z M296.37,160.91h18.86v18.86h-18.86z M315.23,160.91h18.86v18.86h-18.86z M277.5,179.77h18.86v18.86h-18.86z M296.37,179.77h18.86v18.86h-18.86z M315.23,179.77h18.86v18.86h-18.86z M277.5,198.63h18.86v18.86h-18.86z M296.37,198.63h18.86v18.86h-18.86z M315.23,198.63h18.86v18.86h-18.86z M284.3,154.1h18.86v18.86h-18.86z M303.17,154.1h18.86v18.86h-18.86z M322.03,154.1h18.86v18.86h-18.86z M284.3,172.97h18.86v18.86h-18.86z M303.17,172.97h18.86v18.86h-18.86z M322.03,172.97h18.86v18.86h-18.86z M284.3,191.83h18.86v18.86h-18.86z M303.17,191.83h18.86v18.86h-18.86z M322.03,191.83h18.86v18.86h-18.86z M291.1,147.3h18.86v18.86h-18.86z M309.97,147.3h18.86v18.86h-18.86z M328.83,147.3h18.86v18.86h-18.86z M291.1,166.17h18.86v18.86h-18.86z M309.97,166.17h18.86v18.86h-18.86z M328.83,166.17h18.86v18.86h-18.86z M291.1,185.03h18.86v18.86h-18.86z M309.97,185.03h18.86v18.86h-18.86z M328.83,185.03h18.86v18.86h-18.86z"/></clipPath><g clip-path="url(#bc3)"><ellipse cx="307.84" cy="187.84" rx="15.28" ry="21.79" fill="url(#braingrad)" opacity="1.0" filter="url(#braintex)"/></g><path d="M291.7,185.63h17.66v17.66h-17.66z M291.7,185.63l6.2,-6.2h17.66v17.66l-6.2,6.2 M309.37,185.63l6.2,-6.2 M291.7,166.77h17.66v17.66h-17.66z M291.7,166.77l6.2,-6.2h17.66v17.66l-6.2,6.2 M309.37,166.77l6.2,-6.2 M310.57,185.63h17.66v17.66h-17.66z M310.57,185.63l6.2,-6.2h17.66v17.66l-6.2,6.2 M328.23,185.63l6.2,-6.2 M291.7,147.9h17.66v17.66h-17.66z M291.7,147.9l6.2,-6.2h17.66v17.66l-6.2,6.2 M309.37,147.9l6.2,-6.2 M310.57,166.77h17.66v17.66h-17.66z M310.57,166.77l6.2,-6.2h17.66v17.66l-6.2,6.2 M328.23,166.77l6.2,-6.2 M329.43,185.63h17.66v17.66h-17.66z M329.43,185.63l6.2,-6.2h17.66v17.66l-6.2,6.2 M347.1,185.63l6.2,-6.2 M310.57,147.9h17.66v17.66h-17.66z M310.57,147.9l6.2,-6.2h17.66v17.66l-6.2,6.2 M328.23,147.9l6.2,-6.2 M329.43,166.77h17.66v17.66h-17.66z M329.43,166.77l6.2,-6.2h17.66v17.66l-6.2,6.2 M347.1,166.77l6.2,-6.2 M329.43,147.9h17.66v17.66h-17.66z M329.43,147.9l6.2,-6.2h17.66v17.66l-6.2,6.2 M347.1,147.9l6.2,-6.2 M284.9,192.43h17.66v17.66h-17.66z M284.9,192.43l6.2,-6.2h17.66v17.66l-6.2,6.2 M302.57,192.43l6.2,-6.2 M284.9,173.57h17.66v17.66h-17.66z M284.9,173.57l6.2,-6.2h17.66v17.66l-6.2,6.2 M302.57,173.57l6.2,-6.2 M303.77,192.43h17.66v17.66h-17.66z M303.77,192.43l6.2,-6.2h17.66v17.66l-6.2,6.2 M321.43,192.43l6.2,-6.2 M284.9,154.7h17.66v17.66h-17.66z M284.9,154.7l6.2,-6.2h17.66v17.66l-6.2,6.2 M302.57,154.7l6.2,-6.2 M303.77,173.57h17.66v17.66h-17.66z M303.77,173.57l6.2,-6.2h17.66v17.66l-6.2,6.2 M321.43,173.57l6.2,-6.2 M322.63,192.43h17.66v17.66h-17.66z M322.63,192.43l6.2,-6.2h17.66v17.66l-6.2,6.2 M340.3,192.43l6.2,-6.2 M303.77,154.7h17.66v17.66h-17.66z M303.77,154.7l6.2,-6.2h17.66v17.66l-6.2,6.2 M321.43,154.7l6.2,-6.2 M322.63,173.57h17.66v17.66h-17.66z M322.63,173.57l6.2,-6.2h17.66v17.66l-6.2,6.2 M340.3,173.57l6.2,-6.2 M322.63,154.7h17.66v17.66h-17.66z M322.63,154.7l6.2,-6.2h17.66v17.66l-6.2,6.2 M340.3,154.7l6.2,-6.2" fill="none" stroke="#a6d98a" stroke-width="0.8049999999999999" stroke-opacity="0.28"/><path d="M291.7,147.9l6.2,-6.2h17.66l-6.2,6.2z  M347.1,185.63l6.2,-6.2v17.66l-6.2,6.2z  M310.57,147.9l6.2,-6.2h17.66l-6.2,6.2z  M347.1,166.77l6.2,-6.2v17.66l-6.2,6.2z  M329.43,147.9l6.2,-6.2h17.66l-6.2,6.2z M347.1,147.9l6.2,-6.2v17.66l-6.2,6.2z  M284.9,154.7l6.2,-6.2h17.66l-6.2,6.2z  M340.3,192.43l6.2,-6.2v17.66l-6.2,6.2z  M303.77,154.7l6.2,-6.2h17.66l-6.2,6.2z  M340.3,173.57l6.2,-6.2v17.66l-6.2,6.2z  M322.63,154.7l6.2,-6.2h17.66l-6.2,6.2z M340.3,154.7l6.2,-6.2v17.66l-6.2,6.2z " fill="none" stroke="#a6d98a" stroke-width="1.15" stroke-linejoin="round"/><path d="M278.1,199.23h17.66v17.66h-17.66z M278.1,199.23l6.2,-6.2h17.66v17.66l-6.2,6.2 M295.77,199.23l6.2,-6.2 M278.1,180.37h17.66v17.66h-17.66z M278.1,180.37l6.2,-6.2h17.66v17.66l-6.2,6.2 M295.77,180.37l6.2,-6.2 M296.97,199.23h17.66v17.66h-17.66z M296.97,199.23l6.2,-6.2h17.66v17.66l-6.2,6.2 M314.63,199.23l6.2,-6.2 M278.1,161.5h17.66v17.66h-17.66z M278.1,161.5l6.2,-6.2h17.66v17.66l-6.2,6.2 M295.77,161.5l6.2,-6.2 M296.97,180.37h17.66v17.66h-17.66z M296.97,180.37l6.2,-6.2h17.66v17.66l-6.2,6.2 M314.63,180.37l6.2,-6.2 M315.83,199.23h17.66v17.66h-17.66z M315.83,199.23l6.2,-6.2h17.66v17.66l-6.2,6.2 M333.5,199.23l6.2,-6.2 M296.97,161.5h17.66v17.66h-17.66z M296.97,161.5l6.2,-6.2h17.66v17.66l-6.2,6.2 M314.63,161.5l6.2,-6.2 M315.83,180.37h17.66v17.66h-17.66z M315.83,180.37l6.2,-6.2h17.66v17.66l-6.2,6.2 M333.5,180.37l6.2,-6.2 M315.83,161.5h17.66v17.66h-17.66z M315.83,161.5l6.2,-6.2h17.66v17.66l-6.2,6.2 M333.5,161.5l6.2,-6.2" fill="none" stroke="#a6d98a" stroke-width="1.15" stroke-linejoin="round"/>
<polygon points="310.87,308.03 316.77,302.13 316.77,319.39 310.87,325.3" fill="#878484" stroke="#8f8c8c" stroke-width="0.9" stroke-linejoin="round"/><polygon points="293.6,308.03 299.5,302.13 316.77,302.13 310.87,308.03" fill="#bcb9b9" stroke="#8f8c8c" stroke-width="0.9" stroke-linejoin="round"/><rect x="293.6" y="308.03" width="17.26" height="17.26" rx="0" fill="#a6a3a3" stroke="#8f8c8c" stroke-width="0.9" /><polygon points="310.87,289.17 316.77,283.26 316.77,300.53 310.87,306.43" fill="#878484" stroke="#8f8c8c" stroke-width="0.9" stroke-linejoin="round"/><polygon points="293.6,289.17 299.5,283.26 316.77,283.26 310.87,289.17" fill="#bcb9b9" stroke="#8f8c8c" stroke-width="0.9" stroke-linejoin="round"/><rect x="293.6" y="289.17" width="17.26" height="17.26" rx="0" fill="#a6a3a3" stroke="#8f8c8c" stroke-width="0.9" /><polygon points="329.73,308.03 335.63,302.13 335.63,319.39 329.73,325.3" fill="#878484" stroke="#8f8c8c" stroke-width="0.9" stroke-linejoin="round"/><polygon points="312.47,308.03 318.37,302.13 335.63,302.13 329.73,308.03" fill="#bcb9b9" stroke="#8f8c8c" stroke-width="0.9" stroke-linejoin="round"/><rect x="312.47" y="308.03" width="17.26" height="17.26" rx="0" fill="#a6a3a3" stroke="#8f8c8c" stroke-width="0.9" /><polygon points="310.87,270.3 316.77,264.4 316.77,281.66 310.87,287.57" fill="#878484" stroke="#8f8c8c" stroke-width="0.9" stroke-linejoin="round"/><polygon points="293.6,270.3 299.5,264.4 316.77,264.4 310.87,270.3" fill="#bcb9b9" stroke="#8f8c8c" stroke-width="0.9" stroke-linejoin="round"/><rect x="293.6" y="270.3" width="17.26" height="17.26" rx="0" fill="#a6a3a3" stroke="#8f8c8c" stroke-width="0.9" /><path d="M311.97,288.67l6.8,-6.8h18.86v18.86l-6.8,6.8h-18.86z" fill="#1c1c1c"/><rect x="312.47" y="289.17" width="17.86" height="17.86" fill="#444444" fill-opacity="0.75"/><rect x="316.73" y="289.17" width="13.6" height="13.6" fill="#050505" fill-opacity="0.8"/><polygon points="311.97,288.67 318.77,281.86 337.64,281.86 330.83,288.67" fill="#5a5a5a" fill-opacity="0.6"/><polygon points="330.83,288.67 337.64,281.86 337.64,300.73 330.83,307.53" fill="#2c2c2c" fill-opacity="0.5"/><polygon points="348.6,308.03 354.5,302.13 354.5,319.39 348.6,325.3" fill="#878484" stroke="#8f8c8c" stroke-width="0.9" stroke-linejoin="round"/><polygon points="331.33,308.03 337.24,302.13 354.5,302.13 348.6,308.03" fill="#bcb9b9" stroke="#8f8c8c" stroke-width="0.9" stroke-linejoin="round"/><rect x="331.33" y="308.03" width="17.26" height="17.26" rx="0" fill="#a6a3a3" stroke="#8f8c8c" stroke-width="0.9" /><path d="M311.97,269.8l6.8,-6.8h18.86v18.86l-6.8,6.8h-18.86z" fill="#1c1c1c"/><rect x="312.47" y="270.3" width="17.86" height="17.86" fill="#444444" fill-opacity="0.75"/><rect x="316.73" y="270.3" width="13.6" height="13.6" fill="#050505" fill-opacity="0.8"/><polygon points="311.97,269.8 318.77,263 337.64,263 330.83,269.8" fill="#5a5a5a" fill-opacity="0.6"/><polygon points="330.83,269.8 337.64,263 337.64,281.86 330.83,288.67" fill="#2c2c2c" fill-opacity="0.5"/><path d="M330.83,288.67l6.8,-6.8h18.86v18.86l-6.8,6.8h-18.86z" fill="#1c1c1c"/><rect x="331.33" y="289.17" width="17.86" height="17.86" fill="#444444" fill-opacity="0.75"/><rect x="335.59" y="289.17" width="13.6" height="13.6" fill="#050505" fill-opacity="0.8"/><polygon points="330.83,288.67 337.64,281.86 356.5,281.86 349.7,288.67" fill="#5a5a5a" fill-opacity="0.6"/><polygon points="349.7,288.67 356.5,281.86 356.5,300.73 349.7,307.53" fill="#2c2c2c" fill-opacity="0.5"/><path d="M330.83,269.8l6.8,-6.8h18.86v18.86l-6.8,6.8h-18.86z" fill="#1c1c1c"/><rect x="331.33" y="270.3" width="17.86" height="17.86" fill="#444444" fill-opacity="0.75"/><rect x="335.59" y="270.3" width="13.6" height="13.6" fill="#050505" fill-opacity="0.8"/><polygon points="330.83,269.8 337.64,263 356.5,263 349.7,269.8" fill="#5a5a5a" fill-opacity="0.6"/><polygon points="349.7,269.8 356.5,263 356.5,281.86 349.7,288.67" fill="#2c2c2c" fill-opacity="0.5"/><polygon points="304.07,314.83 309.97,308.93 309.97,326.2 304.07,332.1" fill="#878484" stroke="#8f8c8c" stroke-width="0.9" stroke-linejoin="round"/><polygon points="286.8,314.83 292.7,308.93 309.97,308.93 304.07,314.83" fill="#bcb9b9" stroke="#8f8c8c" stroke-width="0.9" stroke-linejoin="round"/><rect x="286.8" y="314.83" width="17.26" height="17.26" rx="0" fill="#a6a3a3" stroke="#8f8c8c" stroke-width="0.9" /><polygon points="304.07,295.97 309.97,290.07 309.97,307.33 304.07,313.23" fill="#878484" stroke="#8f8c8c" stroke-width="0.9" stroke-linejoin="round"/><polygon points="286.8,295.97 292.7,290.07 309.97,290.07 304.07,295.97" fill="#bcb9b9" stroke="#8f8c8c" stroke-width="0.9" stroke-linejoin="round"/><rect x="286.8" y="295.97" width="17.26" height="17.26" rx="0" fill="#a6a3a3" stroke="#8f8c8c" stroke-width="0.9" /><polygon points="322.93,314.83 328.83,308.93 328.83,326.2 322.93,332.1" fill="#878484" stroke="#8f8c8c" stroke-width="0.9" stroke-linejoin="round"/><polygon points="305.67,314.83 311.57,308.93 328.83,308.93 322.93,314.83" fill="#bcb9b9" stroke="#8f8c8c" stroke-width="0.9" stroke-linejoin="round"/><rect x="305.67" y="314.83" width="17.26" height="17.26" rx="0" fill="#a6a3a3" stroke="#8f8c8c" stroke-width="0.9" /><polygon points="304.07,277.1 309.97,271.2 309.97,288.47 304.07,294.37" fill="#878484" stroke="#8f8c8c" stroke-width="0.9" stroke-linejoin="round"/><polygon points="286.8,277.1 292.7,271.2 309.97,271.2 304.07,277.1" fill="#bcb9b9" stroke="#8f8c8c" stroke-width="0.9" stroke-linejoin="round"/><rect x="286.8" y="277.1" width="17.26" height="17.26" rx="0" fill="#a6a3a3" stroke="#8f8c8c" stroke-width="0.9" /><path d="M305.17,295.47l6.8,-6.8h18.86v18.86l-6.8,6.8h-18.86z" fill="#1c1c1c"/><rect x="305.67" y="295.97" width="17.86" height="17.86" fill="#444444" fill-opacity="0.75"/><rect x="309.93" y="295.97" width="13.6" height="13.6" fill="#050505" fill-opacity="0.8"/><polygon points="305.17,295.47 311.97,288.67 330.83,288.67 324.03,295.47" fill="#5a5a5a" fill-opacity="0.6"/><polygon points="324.03,295.47 330.83,288.67 330.83,307.53 324.03,314.33" fill="#2c2c2c" fill-opacity="0.5"/><polygon points="341.8,314.83 347.7,308.93 347.7,326.2 341.8,332.1" fill="#878484" stroke="#8f8c8c" stroke-width="0.9" stroke-linejoin="round"/><polygon points="324.53,314.83 330.43,308.93 347.7,308.93 341.8,314.83" fill="#bcb9b9" stroke="#8f8c8c" stroke-width="0.9" stroke-linejoin="round"/><rect x="324.53" y="314.83" width="17.26" height="17.26" rx="0" fill="#a6a3a3" stroke="#8f8c8c" stroke-width="0.9" /><path d="M305.17,276.6l6.8,-6.8h18.86v18.86l-6.8,6.8h-18.86z" fill="#1c1c1c"/><rect x="305.67" y="277.1" width="17.86" height="17.86" fill="#444444" fill-opacity="0.75"/><rect x="309.93" y="277.1" width="13.6" height="13.6" fill="#050505" fill-opacity="0.8"/><polygon points="305.17,276.6 311.97,269.8 330.83,269.8 324.03,276.6" fill="#5a5a5a" fill-opacity="0.6"/><polygon points="324.03,276.6 330.83,269.8 330.83,288.67 324.03,295.47" fill="#2c2c2c" fill-opacity="0.5"/><path d="M324.03,295.47l6.8,-6.8h18.86v18.86l-6.8,6.8h-18.86z" fill="#1c1c1c"/><rect x="324.53" y="295.97" width="17.86" height="17.86" fill="#444444" fill-opacity="0.75"/><rect x="328.79" y="295.97" width="13.6" height="13.6" fill="#050505" fill-opacity="0.8"/><polygon points="324.03,295.47 330.83,288.67 349.7,288.67 342.9,295.47" fill="#5a5a5a" fill-opacity="0.6"/><polygon points="342.9,295.47 349.7,288.67 349.7,307.53 342.9,314.33" fill="#2c2c2c" fill-opacity="0.5"/><path d="M324.03,276.6l6.8,-6.8h18.86v18.86l-6.8,6.8h-18.86z" fill="#1c1c1c"/><rect x="324.53" y="277.1" width="17.86" height="17.86" fill="#444444" fill-opacity="0.75"/><rect x="328.79" y="277.1" width="13.6" height="13.6" fill="#050505" fill-opacity="0.8"/><polygon points="324.03,276.6 330.83,269.8 349.7,269.8 342.9,276.6" fill="#5a5a5a" fill-opacity="0.6"/><polygon points="342.9,276.6 349.7,269.8 349.7,288.67 342.9,295.47" fill="#2c2c2c" fill-opacity="0.5"/><path d="M298.37,302.27l6.8,-6.8h18.86v18.86l-6.8,6.8h-18.86z" fill="#1c1c1c"/><rect x="298.87" y="302.77" width="17.86" height="17.86" fill="#444444" fill-opacity="0.75"/><rect x="303.13" y="302.77" width="13.6" height="13.6" fill="#050505" fill-opacity="0.8"/><polygon points="298.37,302.27 305.17,295.47 324.03,295.47 317.23,302.27" fill="#5a5a5a" fill-opacity="0.6"/><polygon points="317.23,302.27 324.03,295.47 324.03,314.33 317.23,321.13" fill="#2c2c2c" fill-opacity="0.5"/><path d="M298.37,283.4l6.8,-6.8h18.86v18.86l-6.8,6.8h-18.86z" fill="#1c1c1c"/><rect x="298.87" y="283.9" width="17.86" height="17.86" fill="#444444" fill-opacity="0.75"/><rect x="303.13" y="283.9" width="13.6" height="13.6" fill="#050505" fill-opacity="0.8"/><polygon points="298.37,283.4 305.17,276.6 324.03,276.6 317.23,283.4" fill="#5a5a5a" fill-opacity="0.6"/><polygon points="317.23,283.4 324.03,276.6 324.03,295.47 317.23,302.27" fill="#2c2c2c" fill-opacity="0.5"/><path d="M317.23,302.27l6.8,-6.8h18.86v18.86l-6.8,6.8h-18.86z" fill="#1c1c1c"/><rect x="317.73" y="302.77" width="17.86" height="17.86" fill="#444444" fill-opacity="0.75"/><rect x="321.99" y="302.77" width="13.6" height="13.6" fill="#050505" fill-opacity="0.8"/><polygon points="317.23,302.27 324.03,295.47 342.9,295.47 336.1,302.27" fill="#5a5a5a" fill-opacity="0.6"/><polygon points="336.1,302.27 342.9,295.47 342.9,314.33 336.1,321.13" fill="#2c2c2c" fill-opacity="0.5"/><path d="M317.23,283.4l6.8,-6.8h18.86v18.86l-6.8,6.8h-18.86z" fill="#1c1c1c"/><rect x="317.73" y="283.9" width="17.86" height="17.86" fill="#444444" fill-opacity="0.75"/><rect x="321.99" y="283.9" width="13.6" height="13.6" fill="#050505" fill-opacity="0.8"/><polygon points="317.23,283.4 324.03,276.6 342.9,276.6 336.1,283.4" fill="#5a5a5a" fill-opacity="0.6"/><polygon points="336.1,283.4 342.9,276.6 342.9,295.47 336.1,302.27" fill="#2c2c2c" fill-opacity="0.5"/><clipPath id="bc4"><path d="M298.37,283.4h18.86v18.86h-18.86z M317.23,283.4h18.86v18.86h-18.86z M298.37,302.27h18.86v18.86h-18.86z M317.23,302.27h18.86v18.86h-18.86z M305.17,276.6h18.86v18.86h-18.86z M324.03,276.6h18.86v18.86h-18.86z M305.17,295.47h18.86v18.86h-18.86z M324.03,295.47h18.86v18.86h-18.86z M311.97,269.8h18.86v18.86h-18.86z M330.83,269.8h18.86v18.86h-18.86z M311.97,288.67h18.86v18.86h-18.86z M330.83,288.67h18.86v18.86h-18.86z"/></clipPath><g clip-path="url(#bc4)"><ellipse cx="309.84" cy="307.34" rx="15.28" ry="21.79" fill="url(#braingrad)" opacity="1.0" filter="url(#braintex)"/><ellipse cx="309.84" cy="307.34" rx="15.28" ry="21.79" fill="#6ab0f0" opacity="0.15"/></g><path d="M312.57,289.27h17.66v17.66h-17.66z M312.57,289.27l6.2,-6.2h17.66v17.66l-6.2,6.2 M330.23,289.27l6.2,-6.2 M312.57,270.4h17.66v17.66h-17.66z M312.57,270.4l6.2,-6.2h17.66v17.66l-6.2,6.2 M330.23,270.4l6.2,-6.2 M331.43,289.27h17.66v17.66h-17.66z M331.43,289.27l6.2,-6.2h17.66v17.66l-6.2,6.2 M349.1,289.27l6.2,-6.2 M331.43,270.4h17.66v17.66h-17.66z M331.43,270.4l6.2,-6.2h17.66v17.66l-6.2,6.2 M349.1,270.4l6.2,-6.2 M305.77,296.07h17.66v17.66h-17.66z M305.77,296.07l6.2,-6.2h17.66v17.66l-6.2,6.2 M323.43,296.07l6.2,-6.2 M305.77,277.2h17.66v17.66h-17.66z M305.77,277.2l6.2,-6.2h17.66v17.66l-6.2,6.2 M323.43,277.2l6.2,-6.2 M324.63,296.07h17.66v17.66h-17.66z M324.63,296.07l6.2,-6.2h17.66v17.66l-6.2,6.2 M342.3,296.07l6.2,-6.2 M324.63,277.2h17.66v17.66h-17.66z M324.63,277.2l6.2,-6.2h17.66v17.66l-6.2,6.2 M342.3,277.2l6.2,-6.2" fill="none" stroke="#1f8ae0" stroke-width="0.8049999999999999" stroke-opacity="0.28"/><path d="M312.57,270.4l6.2,-6.2h17.66l-6.2,6.2z  M349.1,289.27l6.2,-6.2v17.66l-6.2,6.2z  M331.43,270.4l6.2,-6.2h17.66l-6.2,6.2z M349.1,270.4l6.2,-6.2v17.66l-6.2,6.2z  M305.77,277.2l6.2,-6.2h17.66l-6.2,6.2z  M342.3,296.07l6.2,-6.2v17.66l-6.2,6.2z  M324.63,277.2l6.2,-6.2h17.66l-6.2,6.2z M342.3,277.2l6.2,-6.2v17.66l-6.2,6.2z " fill="none" stroke="#1f8ae0" stroke-width="1.15" stroke-linejoin="round"/><polygon points="297.26,321.63 303.17,315.73 303.17,333 297.26,338.9" fill="#878484" stroke="#8f8c8c" stroke-width="0.9" /><polygon points="280,321.63 285.9,315.73 303.17,315.73 297.26,321.63" fill="#bcb9b9" stroke="#8f8c8c" stroke-width="0.9" /><rect x="280" y="321.63" width="17.26" height="17.26" rx="0" fill="#a6a3a3" stroke="#8f8c8c" stroke-width="0.9" /><polygon points="280,302.77 285.9,296.87 303.17,296.87 297.26,302.77" fill="#bcb9b9" stroke="#8f8c8c" stroke-width="0.9" /><rect x="280" y="302.77" width="17.26" height="17.26" rx="0" fill="#a6a3a3" stroke="#8f8c8c" stroke-width="0.9" /><polygon points="316.13,321.63 322.03,315.73 322.03,333 316.13,338.9" fill="#878484" stroke="#8f8c8c" stroke-width="0.9" /><rect x="298.87" y="321.63" width="17.26" height="17.26" rx="0" fill="#a6a3a3" stroke="#8f8c8c" stroke-width="0.9" /><polygon points="280,283.9 285.9,278 303.17,278 297.26,283.9" fill="#bcb9b9" stroke="#8f8c8c" stroke-width="0.9" /><rect x="280" y="283.9" width="17.26" height="17.26" rx="0" fill="#a6a3a3" stroke="#8f8c8c" stroke-width="0.9" /><polygon points="335,321.63 340.9,315.73 340.9,333 335,338.9" fill="#878484" stroke="#8f8c8c" stroke-width="0.9" /><rect x="317.73" y="321.63" width="17.26" height="17.26" rx="0" fill="#a6a3a3" stroke="#8f8c8c" stroke-width="0.9" /><path d="M298.97,302.87h17.66v17.66h-17.66z M298.97,302.87l6.2,-6.2h17.66v17.66l-6.2,6.2 M316.63,302.87l6.2,-6.2 M298.97,284h17.66v17.66h-17.66z M298.97,284l6.2,-6.2h17.66v17.66l-6.2,6.2 M316.63,284l6.2,-6.2 M317.83,302.87h17.66v17.66h-17.66z M317.83,302.87l6.2,-6.2h17.66v17.66l-6.2,6.2 M335.5,302.87l6.2,-6.2 M317.83,284h17.66v17.66h-17.66z M317.83,284l6.2,-6.2h17.66v17.66l-6.2,6.2 M335.5,284l6.2,-6.2" fill="none" stroke="#1f8ae0" stroke-width="1.15" stroke-linejoin="round"/>
<path d="M293.6,389.53l6.8,-6.8h18.86v18.86l-6.8,6.8h-18.86z" fill="#1c1c1c"/><rect x="294.1" y="390.03" width="17.86" height="17.86" fill="#444444" fill-opacity="0.75"/><rect x="298.36" y="390.03" width="13.6" height="13.6" fill="#050505" fill-opacity="0.8"/><polygon points="293.6,389.53 300.41,382.73 319.27,382.73 312.47,389.53" fill="#5a5a5a" fill-opacity="0.6"/><polygon points="312.47,389.53 319.27,382.73 319.27,401.59 312.47,408.4" fill="#2c2c2c" fill-opacity="0.5"/><path d="M293.6,370.67l6.8,-6.8h18.86v18.86l-6.8,6.8h-18.86z" fill="#1c1c1c"/><rect x="294.1" y="371.17" width="17.86" height="17.86" fill="#444444" fill-opacity="0.75"/><rect x="298.36" y="371.17" width="13.6" height="13.6" fill="#050505" fill-opacity="0.8"/><polygon points="293.6,370.67 300.41,363.86 319.27,363.86 312.47,370.67" fill="#5a5a5a" fill-opacity="0.6"/><polygon points="312.47,370.67 319.27,363.86 319.27,382.73 312.47,389.53" fill="#2c2c2c" fill-opacity="0.5"/><path d="M312.47,389.53l6.8,-6.8h18.86v18.86l-6.8,6.8h-18.86z" fill="#1c1c1c"/><rect x="312.97" y="390.03" width="17.86" height="17.86" fill="#444444" fill-opacity="0.75"/><rect x="317.23" y="390.03" width="13.6" height="13.6" fill="#050505" fill-opacity="0.8"/><polygon points="312.47,389.53 319.27,382.73 338.14,382.73 331.33,389.53" fill="#5a5a5a" fill-opacity="0.6"/><polygon points="331.33,389.53 338.14,382.73 338.14,401.59 331.33,408.4" fill="#2c2c2c" fill-opacity="0.5"/><path d="M293.6,351.8l6.8,-6.8h18.86v18.86l-6.8,6.8h-18.86z" fill="#1c1c1c"/><rect x="294.1" y="352.3" width="17.86" height="17.86" fill="#444444" fill-opacity="0.75"/><rect x="298.36" y="352.3" width="13.6" height="13.6" fill="#050505" fill-opacity="0.8"/><polygon points="293.6,351.8 300.41,345 319.27,345 312.47,351.8" fill="#5a5a5a" fill-opacity="0.6"/><polygon points="312.47,351.8 319.27,345 319.27,363.86 312.47,370.67" fill="#2c2c2c" fill-opacity="0.5"/><path d="M312.47,370.67l6.8,-6.8h18.86v18.86l-6.8,6.8h-18.86z" fill="#1c1c1c"/><rect x="312.97" y="371.17" width="17.86" height="17.86" fill="#444444" fill-opacity="0.75"/><rect x="317.23" y="371.17" width="13.6" height="13.6" fill="#050505" fill-opacity="0.8"/><polygon points="312.47,370.67 319.27,363.86 338.14,363.86 331.33,370.67" fill="#5a5a5a" fill-opacity="0.6"/><polygon points="331.33,370.67 338.14,363.86 338.14,382.73 331.33,389.53" fill="#2c2c2c" fill-opacity="0.5"/><polygon points="349.1,390.03 355,384.13 355,401.39 349.1,407.3" fill="#878484" stroke="#8f8c8c" stroke-width="0.9" stroke-linejoin="round"/><polygon points="331.83,390.03 337.74,384.13 355,384.13 349.1,390.03" fill="#bcb9b9" stroke="#8f8c8c" stroke-width="0.9" stroke-linejoin="round"/><rect x="331.83" y="390.03" width="17.26" height="17.26" rx="0" fill="#a6a3a3" stroke="#8f8c8c" stroke-width="0.9" /><path d="M312.47,351.8l6.8,-6.8h18.86v18.86l-6.8,6.8h-18.86z" fill="#1c1c1c"/><rect x="312.97" y="352.3" width="17.86" height="17.86" fill="#444444" fill-opacity="0.75"/><rect x="317.23" y="352.3" width="13.6" height="13.6" fill="#050505" fill-opacity="0.8"/><polygon points="312.47,351.8 319.27,345 338.14,345 331.33,351.8" fill="#5a5a5a" fill-opacity="0.6"/><polygon points="331.33,351.8 338.14,345 338.14,363.86 331.33,370.67" fill="#2c2c2c" fill-opacity="0.5"/><polygon points="349.1,371.17 355,365.26 355,382.53 349.1,388.43" fill="#878484" stroke="#8f8c8c" stroke-width="0.9" stroke-linejoin="round"/><polygon points="331.83,371.17 337.74,365.26 355,365.26 349.1,371.17" fill="#bcb9b9" stroke="#8f8c8c" stroke-width="0.9" stroke-linejoin="round"/><rect x="331.83" y="371.17" width="17.26" height="17.26" rx="0" fill="#a6a3a3" stroke="#8f8c8c" stroke-width="0.9" /><polygon points="349.1,352.3 355,346.4 355,363.66 349.1,369.57" fill="#878484" stroke="#8f8c8c" stroke-width="0.9" stroke-linejoin="round"/><polygon points="331.83,352.3 337.74,346.4 355,346.4 349.1,352.3" fill="#bcb9b9" stroke="#8f8c8c" stroke-width="0.9" stroke-linejoin="round"/><rect x="331.83" y="352.3" width="17.26" height="17.26" rx="0" fill="#a6a3a3" stroke="#8f8c8c" stroke-width="0.9" /><path d="M286.8,396.33l6.8,-6.8h18.86v18.86l-6.8,6.8h-18.86z" fill="#1c1c1c"/><rect x="287.3" y="396.83" width="17.86" height="17.86" fill="#444444" fill-opacity="0.75"/><rect x="291.56" y="396.83" width="13.6" height="13.6" fill="#050505" fill-opacity="0.8"/><polygon points="286.8,396.33 293.6,389.53 312.47,389.53 305.67,396.33" fill="#5a5a5a" fill-opacity="0.6"/><polygon points="305.67,396.33 312.47,389.53 312.47,408.4 305.67,415.2" fill="#2c2c2c" fill-opacity="0.5"/><path d="M286.8,377.47l6.8,-6.8h18.86v18.86l-6.8,6.8h-18.86z" fill="#1c1c1c"/><rect x="287.3" y="377.97" width="17.86" height="17.86" fill="#444444" fill-opacity="0.75"/><rect x="291.56" y="377.97" width="13.6" height="13.6" fill="#050505" fill-opacity="0.8"/><polygon points="286.8,377.47 293.6,370.67 312.47,370.67 305.67,377.47" fill="#5a5a5a" fill-opacity="0.6"/><polygon points="305.67,377.47 312.47,370.67 312.47,389.53 305.67,396.33" fill="#2c2c2c" fill-opacity="0.5"/><polygon points="323.43,396.83 329.33,390.93 329.33,408.2 323.43,414.1" fill="#878484" stroke="#8f8c8c" stroke-width="0.9" stroke-linejoin="round"/><polygon points="306.17,396.83 312.07,390.93 329.33,390.93 323.43,396.83" fill="#bcb9b9" stroke="#8f8c8c" stroke-width="0.9" stroke-linejoin="round"/><rect x="306.17" y="396.83" width="17.26" height="17.26" rx="0" fill="#a6a3a3" stroke="#8f8c8c" stroke-width="0.9" /><path d="M286.8,358.6l6.8,-6.8h18.86v18.86l-6.8,6.8h-18.86z" fill="#1c1c1c"/><rect x="287.3" y="359.1" width="17.86" height="17.86" fill="#444444" fill-opacity="0.75"/><rect x="291.56" y="359.1" width="13.6" height="13.6" fill="#050505" fill-opacity="0.8"/><polygon points="286.8,358.6 293.6,351.8 312.47,351.8 305.67,358.6" fill="#5a5a5a" fill-opacity="0.6"/><polygon points="305.67,358.6 312.47,351.8 312.47,370.67 305.67,377.47" fill="#2c2c2c" fill-opacity="0.5"/><polygon points="323.43,377.97 329.33,372.07 329.33,389.33 323.43,395.23" fill="#878484" stroke="#8f8c8c" stroke-width="0.9" stroke-linejoin="round"/><polygon points="306.17,377.97 312.07,372.07 329.33,372.07 323.43,377.97" fill="#bcb9b9" stroke="#8f8c8c" stroke-width="0.9" stroke-linejoin="round"/><rect x="306.17" y="377.97" width="17.26" height="17.26" rx="0" fill="#a6a3a3" stroke="#8f8c8c" stroke-width="0.9" /><polygon points="342.3,396.83 348.2,390.93 348.2,408.2 342.3,414.1" fill="#878484" stroke="#8f8c8c" stroke-width="0.9" stroke-linejoin="round"/><polygon points="325.03,396.83 330.93,390.93 348.2,390.93 342.3,396.83" fill="#bcb9b9" stroke="#8f8c8c" stroke-width="0.9" stroke-linejoin="round"/><rect x="325.03" y="396.83" width="17.26" height="17.26" rx="0" fill="#a6a3a3" stroke="#8f8c8c" stroke-width="0.9" /><polygon points="323.43,359.1 329.33,353.2 329.33,370.47 323.43,376.37" fill="#878484" stroke="#8f8c8c" stroke-width="0.9" stroke-linejoin="round"/><polygon points="306.17,359.1 312.07,353.2 329.33,353.2 323.43,359.1" fill="#bcb9b9" stroke="#8f8c8c" stroke-width="0.9" stroke-linejoin="round"/><rect x="306.17" y="359.1" width="17.26" height="17.26" rx="0" fill="#a6a3a3" stroke="#8f8c8c" stroke-width="0.9" /><polygon points="342.3,377.97 348.2,372.07 348.2,389.33 342.3,395.23" fill="#878484" stroke="#8f8c8c" stroke-width="0.9" stroke-linejoin="round"/><polygon points="325.03,377.97 330.93,372.07 348.2,372.07 342.3,377.97" fill="#bcb9b9" stroke="#8f8c8c" stroke-width="0.9" stroke-linejoin="round"/><rect x="325.03" y="377.97" width="17.26" height="17.26" rx="0" fill="#a6a3a3" stroke="#8f8c8c" stroke-width="0.9" /><polygon points="342.3,359.1 348.2,353.2 348.2,370.47 342.3,376.37" fill="#878484" stroke="#8f8c8c" stroke-width="0.9" stroke-linejoin="round"/><polygon points="325.03,359.1 330.93,353.2 348.2,353.2 342.3,359.1" fill="#bcb9b9" stroke="#8f8c8c" stroke-width="0.9" stroke-linejoin="round"/><rect x="325.03" y="359.1" width="17.26" height="17.26" rx="0" fill="#a6a3a3" stroke="#8f8c8c" stroke-width="0.9" /><path d="M280,403.13l6.8,-6.8h18.86v18.86l-6.8,6.8h-18.86z" fill="#1c1c1c"/><rect x="280.5" y="403.63" width="17.86" height="17.86" fill="#444444" fill-opacity="0.75"/><rect x="284.76" y="403.63" width="13.6" height="13.6" fill="#050505" fill-opacity="0.8"/><polygon points="280,403.13 286.8,396.33 305.67,396.33 298.87,403.13" fill="#5a5a5a" fill-opacity="0.6"/><polygon points="298.87,403.13 305.67,396.33 305.67,415.2 298.87,422" fill="#2c2c2c" fill-opacity="0.5"/><path d="M280,384.27l6.8,-6.8h18.86v18.86l-6.8,6.8h-18.86z" fill="#1c1c1c"/><rect x="280.5" y="384.77" width="17.86" height="17.86" fill="#444444" fill-opacity="0.75"/><rect x="284.76" y="384.77" width="13.6" height="13.6" fill="#050505" fill-opacity="0.8"/><polygon points="280,384.27 286.8,377.47 305.67,377.47 298.87,384.27" fill="#5a5a5a" fill-opacity="0.6"/><polygon points="298.87,384.27 305.67,377.47 305.67,396.33 298.87,403.13" fill="#2c2c2c" fill-opacity="0.5"/><path d="M298.87,403.13l6.8,-6.8h18.86v18.86l-6.8,6.8h-18.86z" fill="#1c1c1c"/><rect x="299.37" y="403.63" width="17.86" height="17.86" fill="#444444" fill-opacity="0.75"/><rect x="303.63" y="403.63" width="13.6" height="13.6" fill="#050505" fill-opacity="0.8"/><polygon points="298.87,403.13 305.67,396.33 324.53,396.33 317.73,403.13" fill="#5a5a5a" fill-opacity="0.6"/><polygon points="317.73,403.13 324.53,396.33 324.53,415.2 317.73,422" fill="#2c2c2c" fill-opacity="0.5"/><path d="M280,365.4l6.8,-6.8h18.86v18.86l-6.8,6.8h-18.86z" fill="#1c1c1c"/><rect x="280.5" y="365.9" width="17.86" height="17.86" fill="#444444" fill-opacity="0.75"/><rect x="284.76" y="365.9" width="13.6" height="13.6" fill="#050505" fill-opacity="0.8"/><polygon points="280,365.4 286.8,358.6 305.67,358.6 298.87,365.4" fill="#5a5a5a" fill-opacity="0.6"/><polygon points="298.87,365.4 305.67,358.6 305.67,377.47 298.87,384.27" fill="#2c2c2c" fill-opacity="0.5"/><path d="M298.87,384.27l6.8,-6.8h18.86v18.86l-6.8,6.8h-18.86z" fill="#1c1c1c"/><rect x="299.37" y="384.77" width="17.86" height="17.86" fill="#444444" fill-opacity="0.75"/><rect x="303.63" y="384.77" width="13.6" height="13.6" fill="#050505" fill-opacity="0.8"/><polygon points="298.87,384.27 305.67,377.47 324.53,377.47 317.73,384.27" fill="#5a5a5a" fill-opacity="0.6"/><polygon points="317.73,384.27 324.53,377.47 324.53,396.33 317.73,403.13" fill="#2c2c2c" fill-opacity="0.5"/><path d="M298.87,365.4l6.8,-6.8h18.86v18.86l-6.8,6.8h-18.86z" fill="#1c1c1c"/><rect x="299.37" y="365.9" width="17.86" height="17.86" fill="#444444" fill-opacity="0.75"/><rect x="303.63" y="365.9" width="13.6" height="13.6" fill="#050505" fill-opacity="0.8"/><polygon points="298.87,365.4 305.67,358.6 324.53,358.6 317.73,365.4" fill="#5a5a5a" fill-opacity="0.6"/><polygon points="317.73,365.4 324.53,358.6 324.53,377.47 317.73,384.27" fill="#2c2c2c" fill-opacity="0.5"/><clipPath id="bc5"><path d="M280,365.4h18.86v18.86h-18.86z M298.87,365.4h18.86v18.86h-18.86z M280,384.27h18.86v18.86h-18.86z M298.87,384.27h18.86v18.86h-18.86z M280,403.13h18.86v18.86h-18.86z M298.87,403.13h18.86v18.86h-18.86z M286.8,358.6h18.86v18.86h-18.86z M286.8,377.47h18.86v18.86h-18.86z M286.8,396.33h18.86v18.86h-18.86z M293.6,351.8h18.86v18.86h-18.86z M312.47,351.8h18.86v18.86h-18.86z M293.6,370.67h18.86v18.86h-18.86z M312.47,370.67h18.86v18.86h-18.86z M293.6,389.53h18.86v18.86h-18.86z M312.47,389.53h18.86v18.86h-18.86z"/></clipPath><g clip-path="url(#bc5)"><ellipse cx="310.34" cy="392.34" rx="15.28" ry="21.79" fill="url(#braingrad)" opacity="1.0" filter="url(#braintex)"/></g><path d="M294.2,390.13h17.66v17.66h-17.66z M294.2,390.13l6.2,-6.2h17.66v17.66l-6.2,6.2 M311.87,390.13l6.2,-6.2 M294.2,371.27h17.66v17.66h-17.66z M294.2,371.27l6.2,-6.2h17.66v17.66l-6.2,6.2 M311.87,371.27l6.2,-6.2 M313.07,390.13h17.66v17.66h-17.66z M313.07,390.13l6.2,-6.2h17.66v17.66l-6.2,6.2 M330.73,390.13l6.2,-6.2 M294.2,352.4h17.66v17.66h-17.66z M294.2,352.4l6.2,-6.2h17.66v17.66l-6.2,6.2 M311.87,352.4l6.2,-6.2 M313.07,371.27h17.66v17.66h-17.66z M313.07,371.27l6.2,-6.2h17.66v17.66l-6.2,6.2 M330.73,371.27l6.2,-6.2 M313.07,352.4h17.66v17.66h-17.66z M313.07,352.4l6.2,-6.2h17.66v17.66l-6.2,6.2 M330.73,352.4l6.2,-6.2 M287.4,396.93h17.66v17.66h-17.66z M287.4,396.93l6.2,-6.2h17.66v17.66l-6.2,6.2 M305.07,396.93l6.2,-6.2 M287.4,378.07h17.66v17.66h-17.66z M287.4,378.07l6.2,-6.2h17.66v17.66l-6.2,6.2 M305.07,378.07l6.2,-6.2 M287.4,359.2h17.66v17.66h-17.66z M287.4,359.2l6.2,-6.2h17.66v17.66l-6.2,6.2 M305.07,359.2l6.2,-6.2" fill="none" stroke="#a6d98a" stroke-width="0.8049999999999999" stroke-opacity="0.28"/><path d="M294.2,352.4l6.2,-6.2h17.66l-6.2,6.2z  M313.07,352.4l6.2,-6.2h17.66l-6.2,6.2z  M287.4,359.2l6.2,-6.2h17.66l-6.2,6.2z " fill="none" stroke="#a6d98a" stroke-width="1.15" stroke-linejoin="round"/><polygon points="335.5,403.63 341.4,397.73 341.4,415 335.5,420.9" fill="#878484" stroke="#8f8c8c" stroke-width="0.9" /><polygon points="318.23,403.63 324.13,397.73 341.4,397.73 335.5,403.63" fill="#bcb9b9" stroke="#8f8c8c" stroke-width="0.9" /><rect x="318.23" y="403.63" width="17.26" height="17.26" rx="0" fill="#a6a3a3" stroke="#8f8c8c" stroke-width="0.9" /><polygon points="335.5,384.77 341.4,378.87 341.4,396.13 335.5,402.03" fill="#878484" stroke="#8f8c8c" stroke-width="0.9" /><polygon points="318.23,384.77 324.13,378.87 341.4,378.87 335.5,384.77" fill="#bcb9b9" stroke="#8f8c8c" stroke-width="0.9" /><rect x="318.23" y="384.77" width="17.26" height="17.26" rx="0" fill="#a6a3a3" stroke="#8f8c8c" stroke-width="0.9" /><polygon points="335.5,365.9 341.4,360 341.4,377.27 335.5,383.17" fill="#878484" stroke="#8f8c8c" stroke-width="0.9" /><polygon points="318.23,365.9 324.13,360 341.4,360 335.5,365.9" fill="#bcb9b9" stroke="#8f8c8c" stroke-width="0.9" /><rect x="318.23" y="365.9" width="17.26" height="17.26" rx="0" fill="#a6a3a3" stroke="#8f8c8c" stroke-width="0.9" /><path d="M280.6,403.74h17.66v17.66h-17.66z M280.6,403.74l6.2,-6.2h17.66v17.66l-6.2,6.2 M298.27,403.74l6.2,-6.2 M280.6,384.87h17.66v17.66h-17.66z M280.6,384.87l6.2,-6.2h17.66v17.66l-6.2,6.2 M298.27,384.87l6.2,-6.2 M299.47,403.74h17.66v17.66h-17.66z M299.47,403.74l6.2,-6.2h17.66v17.66l-6.2,6.2 M317.13,403.74l6.2,-6.2 M280.6,366h17.66v17.66h-17.66z M280.6,366l6.2,-6.2h17.66v17.66l-6.2,6.2 M298.27,366l6.2,-6.2 M299.47,384.87h17.66v17.66h-17.66z M299.47,384.87l6.2,-6.2h17.66v17.66l-6.2,6.2 M317.13,384.87l6.2,-6.2 M299.47,366h17.66v17.66h-17.66z M299.47,366l6.2,-6.2h17.66v17.66l-6.2,6.2 M317.13,366l6.2,-6.2" fill="none" stroke="#a6d98a" stroke-width="1.15" stroke-linejoin="round"/>
<g filter="url(#glow)"><polygon points="1075,281.4 1095.4,261 1152,261 1152,317.6 1131.6,338 1075,338" fill="#1a8ae6" stroke="#1a8ae6" stroke-width="8" /></g><path d="M1088.6,305.53l6.8,-6.8h18.86v18.86l-6.8,6.8h-18.86z" fill="#0e1d2b"/><rect x="1089.1" y="306.03" width="17.86" height="17.86" fill="#23405c" fill-opacity="0.75"/><rect x="1093.36" y="306.03" width="13.6" height="13.6" fill="#050d16" fill-opacity="0.8"/><polygon points="1088.6,305.53 1095.4,298.73 1114.27,298.73 1107.47,305.53" fill="#33506c" fill-opacity="0.6"/><polygon points="1107.47,305.53 1114.27,298.73 1114.27,317.59 1107.47,324.4" fill="#1b3247" fill-opacity="0.5"/><path d="M1088.6,286.67l6.8,-6.8h18.86v18.86l-6.8,6.8h-18.86z" fill="#0e1d2b"/><rect x="1089.1" y="287.17" width="17.86" height="17.86" fill="#23405c" fill-opacity="0.75"/><rect x="1093.36" y="287.17" width="13.6" height="13.6" fill="#050d16" fill-opacity="0.8"/><polygon points="1088.6,286.67 1095.4,279.86 1114.27,279.86 1107.47,286.67" fill="#33506c" fill-opacity="0.6"/><polygon points="1107.47,286.67 1114.27,279.86 1114.27,298.73 1107.47,305.53" fill="#1b3247" fill-opacity="0.5"/><path d="M1107.47,305.53l6.8,-6.8h18.86v18.86l-6.8,6.8h-18.86z" fill="#0e1d2b"/><rect x="1107.97" y="306.03" width="17.86" height="17.86" fill="#23405c" fill-opacity="0.75"/><rect x="1112.23" y="306.03" width="13.6" height="13.6" fill="#050d16" fill-opacity="0.8"/><polygon points="1107.47,305.53 1114.27,298.73 1133.13,298.73 1126.33,305.53" fill="#33506c" fill-opacity="0.6"/><polygon points="1126.33,305.53 1133.13,298.73 1133.13,317.59 1126.33,324.4" fill="#1b3247" fill-opacity="0.5"/><path d="M1088.6,267.8l6.8,-6.8h18.86v18.86l-6.8,6.8h-18.86z" fill="#0e1d2b"/><rect x="1089.1" y="268.3" width="17.86" height="17.86" fill="#23405c" fill-opacity="0.75"/><rect x="1093.36" y="268.3" width="13.6" height="13.6" fill="#050d16" fill-opacity="0.8"/><polygon points="1088.6,267.8 1095.4,261 1114.27,261 1107.47,267.8" fill="#33506c" fill-opacity="0.6"/><polygon points="1107.47,267.8 1114.27,261 1114.27,279.86 1107.47,286.67" fill="#1b3247" fill-opacity="0.5"/><path d="M1107.47,286.67l6.8,-6.8h18.86v18.86l-6.8,6.8h-18.86z" fill="#0e1d2b"/><rect x="1107.97" y="287.17" width="17.86" height="17.86" fill="#23405c" fill-opacity="0.75"/><rect x="1112.23" y="287.17" width="13.6" height="13.6" fill="#050d16" fill-opacity="0.8"/><polygon points="1107.47,286.67 1114.27,279.86 1133.13,279.86 1126.33,286.67" fill="#33506c" fill-opacity="0.6"/><polygon points="1126.33,286.67 1133.13,279.86 1133.13,298.73 1126.33,305.53" fill="#1b3247" fill-opacity="0.5"/><path d="M1126.33,305.53l6.8,-6.8h18.86v18.86l-6.8,6.8h-18.86z" fill="#0e1d2b"/><rect x="1126.83" y="306.03" width="17.86" height="17.86" fill="#23405c" fill-opacity="0.75"/><rect x="1131.09" y="306.03" width="13.6" height="13.6" fill="#050d16" fill-opacity="0.8"/><polygon points="1126.33,305.53 1133.13,298.73 1152,298.73 1145.2,305.53" fill="#33506c" fill-opacity="0.6"/><polygon points="1145.2,305.53 1152,298.73 1152,317.59 1145.2,324.4" fill="#1b3247" fill-opacity="0.5"/><path d="M1107.47,267.8l6.8,-6.8h18.86v18.86l-6.8,6.8h-18.86z" fill="#0e1d2b"/><rect x="1107.97" y="268.3" width="17.86" height="17.86" fill="#23405c" fill-opacity="0.75"/><rect x="1112.23" y="268.3" width="13.6" height="13.6" fill="#050d16" fill-opacity="0.8"/><polygon points="1107.47,267.8 1114.27,261 1133.13,261 1126.33,267.8" fill="#33506c" fill-opacity="0.6"/><polygon points="1126.33,267.8 1133.13,261 1133.13,279.86 1126.33,286.67" fill="#1b3247" fill-opacity="0.5"/><path d="M1126.33,286.67l6.8,-6.8h18.86v18.86l-6.8,6.8h-18.86z" fill="#0e1d2b"/><rect x="1126.83" y="287.17" width="17.86" height="17.86" fill="#23405c" fill-opacity="0.75"/><rect x="1131.09" y="287.17" width="13.6" height="13.6" fill="#050d16" fill-opacity="0.8"/><polygon points="1126.33,286.67 1133.13,279.86 1152,279.86 1145.2,286.67" fill="#33506c" fill-opacity="0.6"/><polygon points="1145.2,286.67 1152,279.86 1152,298.73 1145.2,305.53" fill="#1b3247" fill-opacity="0.5"/><path d="M1126.33,267.8l6.8,-6.8h18.86v18.86l-6.8,6.8h-18.86z" fill="#0e1d2b"/><rect x="1126.83" y="268.3" width="17.86" height="17.86" fill="#23405c" fill-opacity="0.75"/><rect x="1131.09" y="268.3" width="13.6" height="13.6" fill="#050d16" fill-opacity="0.8"/><polygon points="1126.33,267.8 1133.13,261 1152,261 1145.2,267.8" fill="#33506c" fill-opacity="0.6"/><polygon points="1145.2,267.8 1152,261 1152,279.86 1145.2,286.67" fill="#1b3247" fill-opacity="0.5"/><path d="M1081.8,312.33l6.8,-6.8h18.86v18.86l-6.8,6.8h-18.86z" fill="#0e1d2b"/><rect x="1082.3" y="312.83" width="17.86" height="17.86" fill="#23405c" fill-opacity="0.75"/><rect x="1086.56" y="312.83" width="13.6" height="13.6" fill="#050d16" fill-opacity="0.8"/><polygon points="1081.8,312.33 1088.6,305.53 1107.47,305.53 1100.67,312.33" fill="#33506c" fill-opacity="0.6"/><polygon points="1100.67,312.33 1107.47,305.53 1107.47,324.4 1100.67,331.2" fill="#1b3247" fill-opacity="0.5"/><path d="M1081.8,293.47l6.8,-6.8h18.86v18.86l-6.8,6.8h-18.86z" fill="#0e1d2b"/><rect x="1082.3" y="293.97" width="17.86" height="17.86" fill="#23405c" fill-opacity="0.75"/><rect x="1086.56" y="293.97" width="13.6" height="13.6" fill="#050d16" fill-opacity="0.8"/><polygon points="1081.8,293.47 1088.6,286.67 1107.47,286.67 1100.67,293.47" fill="#33506c" fill-opacity="0.6"/><polygon points="1100.67,293.47 1107.47,286.67 1107.47,305.53 1100.67,312.33" fill="#1b3247" fill-opacity="0.5"/><path d="M1100.67,312.33l6.8,-6.8h18.86v18.86l-6.8,6.8h-18.86z" fill="#0e1d2b"/><rect x="1101.17" y="312.83" width="17.86" height="17.86" fill="#23405c" fill-opacity="0.75"/><rect x="1105.43" y="312.83" width="13.6" height="13.6" fill="#050d16" fill-opacity="0.8"/><polygon points="1100.67,312.33 1107.47,305.53 1126.33,305.53 1119.53,312.33" fill="#33506c" fill-opacity="0.6"/><polygon points="1119.53,312.33 1126.33,305.53 1126.33,324.4 1119.53,331.2" fill="#1b3247" fill-opacity="0.5"/><path d="M1081.8,274.6l6.8,-6.8h18.86v18.86l-6.8,6.8h-18.86z" fill="#0e1d2b"/><rect x="1082.3" y="275.1" width="17.86" height="17.86" fill="#23405c" fill-opacity="0.75"/><rect x="1086.56" y="275.1" width="13.6" height="13.6" fill="#050d16" fill-opacity="0.8"/><polygon points="1081.8,274.6 1088.6,267.8 1107.47,267.8 1100.67,274.6" fill="#33506c" fill-opacity="0.6"/><polygon points="1100.67,274.6 1107.47,267.8 1107.47,286.67 1100.67,293.47" fill="#1b3247" fill-opacity="0.5"/><path d="M1100.67,293.47l6.8,-6.8h18.86v18.86l-6.8,6.8h-18.86z" fill="#0e1d2b"/><rect x="1101.17" y="293.97" width="17.86" height="17.86" fill="#23405c" fill-opacity="0.75"/><rect x="1105.43" y="293.97" width="13.6" height="13.6" fill="#050d16" fill-opacity="0.8"/><polygon points="1100.67,293.47 1107.47,286.67 1126.33,286.67 1119.53,293.47" fill="#33506c" fill-opacity="0.6"/><polygon points="1119.53,293.47 1126.33,286.67 1126.33,305.53 1119.53,312.33" fill="#1b3247" fill-opacity="0.5"/><path d="M1119.53,312.33l6.8,-6.8h18.86v18.86l-6.8,6.8h-18.86z" fill="#0e1d2b"/><rect x="1120.03" y="312.83" width="17.86" height="17.86" fill="#23405c" fill-opacity="0.75"/><rect x="1124.29" y="312.83" width="13.6" height="13.6" fill="#050d16" fill-opacity="0.8"/><polygon points="1119.53,312.33 1126.33,305.53 1145.2,305.53 1138.4,312.33" fill="#33506c" fill-opacity="0.6"/><polygon points="1138.4,312.33 1145.2,305.53 1145.2,324.4 1138.4,331.2" fill="#1b3247" fill-opacity="0.5"/><path d="M1100.67,274.6l6.8,-6.8h18.86v18.86l-6.8,6.8h-18.86z" fill="#0e1d2b"/><rect x="1101.17" y="275.1" width="17.86" height="17.86" fill="#23405c" fill-opacity="0.75"/><rect x="1105.43" y="275.1" width="13.6" height="13.6" fill="#050d16" fill-opacity="0.8"/><polygon points="1100.67,274.6 1107.47,267.8 1126.33,267.8 1119.53,274.6" fill="#33506c" fill-opacity="0.6"/><polygon points="1119.53,274.6 1126.33,267.8 1126.33,286.67 1119.53,293.47" fill="#1b3247" fill-opacity="0.5"/><path d="M1119.53,293.47l6.8,-6.8h18.86v18.86l-6.8,6.8h-18.86z" fill="#0e1d2b"/><rect x="1120.03" y="293.97" width="17.86" height="17.86" fill="#23405c" fill-opacity="0.75"/><rect x="1124.29" y="293.97" width="13.6" height="13.6" fill="#050d16" fill-opacity="0.8"/><polygon points="1119.53,293.47 1126.33,286.67 1145.2,286.67 1138.4,293.47" fill="#33506c" fill-opacity="0.6"/><polygon points="1138.4,293.47 1145.2,286.67 1145.2,305.53 1138.4,312.33" fill="#1b3247" fill-opacity="0.5"/><path d="M1119.53,274.6l6.8,-6.8h18.86v18.86l-6.8,6.8h-18.86z" fill="#0e1d2b"/><rect x="1120.03" y="275.1" width="17.86" height="17.86" fill="#23405c" fill-opacity="0.75"/><rect x="1124.29" y="275.1" width="13.6" height="13.6" fill="#050d16" fill-opacity="0.8"/><polygon points="1119.53,274.6 1126.33,267.8 1145.2,267.8 1138.4,274.6" fill="#33506c" fill-opacity="0.6"/><polygon points="1138.4,274.6 1145.2,267.8 1145.2,286.67 1138.4,293.47" fill="#1b3247" fill-opacity="0.5"/><path d="M1075,319.13l6.8,-6.8h18.86v18.86l-6.8,6.8h-18.86z" fill="#0e1d2b"/><rect x="1075.5" y="319.63" width="17.86" height="17.86" fill="#23405c" fill-opacity="0.75"/><rect x="1079.76" y="319.63" width="13.6" height="13.6" fill="#050d16" fill-opacity="0.8"/><polygon points="1075,319.13 1081.8,312.33 1100.67,312.33 1093.87,319.13" fill="#33506c" fill-opacity="0.6"/><polygon points="1093.87,319.13 1100.67,312.33 1100.67,331.2 1093.87,338" fill="#1b3247" fill-opacity="0.5"/><path d="M1075,300.27l6.8,-6.8h18.86v18.86l-6.8,6.8h-18.86z" fill="#0e1d2b"/><rect x="1075.5" y="300.77" width="17.86" height="17.86" fill="#23405c" fill-opacity="0.75"/><rect x="1079.76" y="300.77" width="13.6" height="13.6" fill="#050d16" fill-opacity="0.8"/><polygon points="1075,300.27 1081.8,293.47 1100.67,293.47 1093.87,300.27" fill="#33506c" fill-opacity="0.6"/><polygon points="1093.87,300.27 1100.67,293.47 1100.67,312.33 1093.87,319.13" fill="#1b3247" fill-opacity="0.5"/><path d="M1093.87,319.13l6.8,-6.8h18.86v18.86l-6.8,6.8h-18.86z" fill="#0e1d2b"/><rect x="1094.37" y="319.63" width="17.86" height="17.86" fill="#23405c" fill-opacity="0.75"/><rect x="1098.63" y="319.63" width="13.6" height="13.6" fill="#050d16" fill-opacity="0.8"/><polygon points="1093.87,319.13 1100.67,312.33 1119.53,312.33 1112.73,319.13" fill="#33506c" fill-opacity="0.6"/><polygon points="1112.73,319.13 1119.53,312.33 1119.53,331.2 1112.73,338" fill="#1b3247" fill-opacity="0.5"/><path d="M1075,281.4l6.8,-6.8h18.86v18.86l-6.8,6.8h-18.86z" fill="#0e1d2b"/><rect x="1075.5" y="281.9" width="17.86" height="17.86" fill="#23405c" fill-opacity="0.75"/><rect x="1079.76" y="281.9" width="13.6" height="13.6" fill="#050d16" fill-opacity="0.8"/><polygon points="1075,281.4 1081.8,274.6 1100.67,274.6 1093.87,281.4" fill="#33506c" fill-opacity="0.6"/><polygon points="1093.87,281.4 1100.67,274.6 1100.67,293.47 1093.87,300.27" fill="#1b3247" fill-opacity="0.5"/><path d="M1093.87,300.27l6.8,-6.8h18.86v18.86l-6.8,6.8h-18.86z" fill="#0e1d2b"/><rect x="1094.37" y="300.77" width="17.86" height="17.86" fill="#23405c" fill-opacity="0.75"/><rect x="1098.63" y="300.77" width="13.6" height="13.6" fill="#050d16" fill-opacity="0.8"/><polygon points="1093.87,300.27 1100.67,293.47 1119.53,293.47 1112.73,300.27" fill="#33506c" fill-opacity="0.6"/><polygon points="1112.73,300.27 1119.53,293.47 1119.53,312.33 1112.73,319.13" fill="#1b3247" fill-opacity="0.5"/><path d="M1112.73,319.13l6.8,-6.8h18.86v18.86l-6.8,6.8h-18.86z" fill="#0e1d2b"/><rect x="1113.23" y="319.63" width="17.86" height="17.86" fill="#23405c" fill-opacity="0.75"/><rect x="1117.49" y="319.63" width="13.6" height="13.6" fill="#050d16" fill-opacity="0.8"/><polygon points="1112.73,319.13 1119.53,312.33 1138.4,312.33 1131.6,319.13" fill="#33506c" fill-opacity="0.6"/><polygon points="1131.6,319.13 1138.4,312.33 1138.4,331.2 1131.6,338" fill="#1b3247" fill-opacity="0.5"/><path d="M1093.87,281.4l6.8,-6.8h18.86v18.86l-6.8,6.8h-18.86z" fill="#0e1d2b"/><rect x="1094.37" y="281.9" width="17.86" height="17.86" fill="#23405c" fill-opacity="0.75"/><rect x="1098.63" y="281.9" width="13.6" height="13.6" fill="#050d16" fill-opacity="0.8"/><polygon points="1093.87,281.4 1100.67,274.6 1119.53,274.6 1112.73,281.4" fill="#33506c" fill-opacity="0.6"/><polygon points="1112.73,281.4 1119.53,274.6 1119.53,293.47 1112.73,300.27" fill="#1b3247" fill-opacity="0.5"/><path d="M1112.73,300.27l6.8,-6.8h18.86v18.86l-6.8,6.8h-18.86z" fill="#0e1d2b"/><rect x="1113.23" y="300.77" width="17.86" height="17.86" fill="#23405c" fill-opacity="0.75"/><rect x="1117.49" y="300.77" width="13.6" height="13.6" fill="#050d16" fill-opacity="0.8"/><polygon points="1112.73,300.27 1119.53,293.47 1138.4,293.47 1131.6,300.27" fill="#33506c" fill-opacity="0.6"/><polygon points="1131.6,300.27 1138.4,293.47 1138.4,312.33 1131.6,319.13" fill="#1b3247" fill-opacity="0.5"/><path d="M1112.73,281.4l6.8,-6.8h18.86v18.86l-6.8,6.8h-18.86z" fill="#0e1d2b"/><rect x="1113.23" y="281.9" width="17.86" height="17.86" fill="#23405c" fill-opacity="0.75"/><rect x="1117.49" y="281.9" width="13.6" height="13.6" fill="#050d16" fill-opacity="0.8"/><polygon points="1112.73,281.4 1119.53,274.6 1138.4,274.6 1131.6,281.4" fill="#33506c" fill-opacity="0.6"/><polygon points="1131.6,281.4 1138.4,274.6 1138.4,293.47 1131.6,300.27" fill="#1b3247" fill-opacity="0.5"/><clipPath id="bc6"><path d="M1075,281.4h18.86v18.86h-18.86z M1093.87,281.4h18.86v18.86h-18.86z M1112.73,281.4h18.86v18.86h-18.86z M1075,300.27h18.86v18.86h-18.86z M1093.87,300.27h18.86v18.86h-18.86z M1112.73,300.27h18.86v18.86h-18.86z M1075,319.13h18.86v18.86h-18.86z M1093.87,319.13h18.86v18.86h-18.86z M1112.73,319.13h18.86v18.86h-18.86z M1081.8,274.6h18.86v18.86h-18.86z M1100.67,274.6h18.86v18.86h-18.86z M1119.53,274.6h18.86v18.86h-18.86z M1081.8,293.47h18.86v18.86h-18.86z M1100.67,293.47h18.86v18.86h-18.86z M1119.53,293.47h18.86v18.86h-18.86z M1081.8,312.33h18.86v18.86h-18.86z M1100.67,312.33h18.86v18.86h-18.86z M1119.53,312.33h18.86v18.86h-18.86z M1088.6,267.8h18.86v18.86h-18.86z M1107.47,267.8h18.86v18.86h-18.86z M1126.33,267.8h18.86v18.86h-18.86z M1088.6,286.67h18.86v18.86h-18.86z M1107.47,286.67h18.86v18.86h-18.86z M1126.33,286.67h18.86v18.86h-18.86z M1088.6,305.53h18.86v18.86h-18.86z M1107.47,305.53h18.86v18.86h-18.86z M1126.33,305.53h18.86v18.86h-18.86z"/></clipPath><g clip-path="url(#bc6)"><ellipse cx="1105.34" cy="308.34" rx="15.28" ry="21.79" fill="url(#braingrad)" opacity="1.0" filter="url(#braintex)"/><ellipse cx="1105.34" cy="308.34" rx="15.28" ry="21.79" fill="#4a9ae0" opacity="0.3"/></g><path d="M1089.2,306.13h17.66v17.66h-17.66z M1089.2,306.13l6.2,-6.2h17.66v17.66l-6.2,6.2 M1106.87,306.13l6.2,-6.2 M1089.2,287.27h17.66v17.66h-17.66z M1089.2,287.27l6.2,-6.2h17.66v17.66l-6.2,6.2 M1106.87,287.27l6.2,-6.2 M1108.07,306.13h17.66v17.66h-17.66z M1108.07,306.13l6.2,-6.2h17.66v17.66l-6.2,6.2 M1125.73,306.13l6.2,-6.2 M1089.2,268.4h17.66v17.66h-17.66z M1089.2,268.4l6.2,-6.2h17.66v17.66l-6.2,6.2 M1106.87,268.4l6.2,-6.2 M1108.07,287.27h17.66v17.66h-17.66z M1108.07,287.27l6.2,-6.2h17.66v17.66l-6.2,6.2 M1125.73,287.27l6.2,-6.2 M1126.93,306.13h17.66v17.66h-17.66z M1126.93,306.13l6.2,-6.2h17.66v17.66l-6.2,6.2 M1144.6,306.13l6.2,-6.2 M1108.07,268.4h17.66v17.66h-17.66z M1108.07,268.4l6.2,-6.2h17.66v17.66l-6.2,6.2 M1125.73,268.4l6.2,-6.2 M1126.93,287.27h17.66v17.66h-17.66z M1126.93,287.27l6.2,-6.2h17.66v17.66l-6.2,6.2 M1144.6,287.27l6.2,-6.2 M1126.93,268.4h17.66v17.66h-17.66z M1126.93,268.4l6.2,-6.2h17.66v17.66l-6.2,6.2 M1144.6,268.4l6.2,-6.2 M1082.4,312.93h17.66v17.66h-17.66z M1082.4,312.93l6.2,-6.2h17.66v17.66l-6.2,6.2 M1100.07,312.93l6.2,-6.2 M1082.4,294.07h17.66v17.66h-17.66z M1082.4,294.07l6.2,-6.2h17.66v17.66l-6.2,6.2 M1100.07,294.07l6.2,-6.2 M1101.27,312.93h17.66v17.66h-17.66z M1101.27,312.93l6.2,-6.2h17.66v17.66l-6.2,6.2 M1118.93,312.93l6.2,-6.2 M1082.4,275.2h17.66v17.66h-17.66z M1082.4,275.2l6.2,-6.2h17.66v17.66l-6.2,6.2 M1100.07,275.2l6.2,-6.2 M1101.27,294.07h17.66v17.66h-17.66z M1101.27,294.07l6.2,-6.2h17.66v17.66l-6.2,6.2 M1118.93,294.07l6.2,-6.2 M1120.13,312.93h17.66v17.66h-17.66z M1120.13,312.93l6.2,-6.2h17.66v17.66l-6.2,6.2 M1137.8,312.93l6.2,-6.2 M1101.27,275.2h17.66v17.66h-17.66z M1101.27,275.2l6.2,-6.2h17.66v17.66l-6.2,6.2 M1118.93,275.2l6.2,-6.2 M1120.13,294.07h17.66v17.66h-17.66z M1120.13,294.07l6.2,-6.2h17.66v17.66l-6.2,6.2 M1137.8,294.07l6.2,-6.2 M1120.13,275.2h17.66v17.66h-17.66z M1120.13,275.2l6.2,-6.2h17.66v17.66l-6.2,6.2 M1137.8,275.2l6.2,-6.2" fill="none" stroke="#2a90e8" stroke-width="0.8049999999999999" stroke-opacity="0.28"/><path d="M1089.2,268.4l6.2,-6.2h17.66l-6.2,6.2z  M1144.6,306.13l6.2,-6.2v17.66l-6.2,6.2z  M1108.07,268.4l6.2,-6.2h17.66l-6.2,6.2z  M1144.6,287.27l6.2,-6.2v17.66l-6.2,6.2z  M1126.93,268.4l6.2,-6.2h17.66l-6.2,6.2z M1144.6,268.4l6.2,-6.2v17.66l-6.2,6.2z  M1082.4,275.2l6.2,-6.2h17.66l-6.2,6.2z  M1137.8,312.93l6.2,-6.2v17.66l-6.2,6.2z  M1101.27,275.2l6.2,-6.2h17.66l-6.2,6.2z  M1137.8,294.07l6.2,-6.2v17.66l-6.2,6.2z  M1120.13,275.2l6.2,-6.2h17.66l-6.2,6.2z M1137.8,275.2l6.2,-6.2v17.66l-6.2,6.2z " fill="none" stroke="#2a90e8" stroke-width="1.15" stroke-linejoin="round"/><path d="M1075.6,319.74h17.66v17.66h-17.66z M1075.6,319.74l6.2,-6.2h17.66v17.66l-6.2,6.2 M1093.26,319.74l6.2,-6.2 M1075.6,300.87h17.66v17.66h-17.66z M1075.6,300.87l6.2,-6.2h17.66v17.66l-6.2,6.2 M1093.26,300.87l6.2,-6.2 M1094.46,319.74h17.66v17.66h-17.66z M1094.46,319.74l6.2,-6.2h17.66v17.66l-6.2,6.2 M1112.13,319.74l6.2,-6.2 M1075.6,282h17.66v17.66h-17.66z M1075.6,282l6.2,-6.2h17.66v17.66l-6.2,6.2 M1093.26,282l6.2,-6.2 M1094.46,300.87h17.66v17.66h-17.66z M1094.46,300.87l6.2,-6.2h17.66v17.66l-6.2,6.2 M1112.13,300.87l6.2,-6.2 M1113.33,319.74h17.66v17.66h-17.66z M1113.33,319.74l6.2,-6.2h17.66v17.66l-6.2,6.2 M1130.99,319.74l6.2,-6.2 M1094.46,282h17.66v17.66h-17.66z M1094.46,282l6.2,-6.2h17.66v17.66l-6.2,6.2 M1112.13,282l6.2,-6.2 M1113.33,300.87h17.66v17.66h-17.66z M1113.33,300.87l6.2,-6.2h17.66v17.66l-6.2,6.2 M1130.99,300.87l6.2,-6.2 M1113.33,282h17.66v17.66h-17.66z M1113.33,282l6.2,-6.2h17.66v17.66l-6.2,6.2 M1130.99,282l6.2,-6.2" fill="none" stroke="#2a90e8" stroke-width="1.15" stroke-linejoin="round"/>
<g filter="url(#glow)"><polygon points="1111.73,422.5 1111.73,365.9 1132.13,345.5 1151,345.5 1151,402.1 1130.6,422.5" fill="#5aa836" stroke="#5aa836" stroke-width="8" /></g><path d="M1087.6,390.03l6.8,-6.8h18.86v18.86l-6.8,6.8h-18.86z" fill="#1c1c1c"/><rect x="1088.1" y="390.53" width="17.86" height="17.86" fill="#444444" fill-opacity="0.75"/><rect x="1092.36" y="390.53" width="13.6" height="13.6" fill="#050505" fill-opacity="0.8"/><polygon points="1087.6,390.03 1094.4,383.23 1113.27,383.23 1106.47,390.03" fill="#5a5a5a" fill-opacity="0.6"/><polygon points="1106.47,390.03 1113.27,383.23 1113.27,402.09 1106.47,408.9" fill="#2c2c2c" fill-opacity="0.5"/><path d="M1087.6,371.17l6.8,-6.8h18.86v18.86l-6.8,6.8h-18.86z" fill="#1c1c1c"/><rect x="1088.1" y="371.67" width="17.86" height="17.86" fill="#444444" fill-opacity="0.75"/><rect x="1092.36" y="371.67" width="13.6" height="13.6" fill="#050505" fill-opacity="0.8"/><polygon points="1087.6,371.17 1094.4,364.36 1113.27,364.36 1106.47,371.17" fill="#5a5a5a" fill-opacity="0.6"/><polygon points="1106.47,371.17 1113.27,364.36 1113.27,383.23 1106.47,390.03" fill="#2c2c2c" fill-opacity="0.5"/><path d="M1106.47,390.03l6.8,-6.8h18.86v18.86l-6.8,6.8h-18.86z" fill="#1c1c1c"/><rect x="1106.97" y="390.53" width="17.86" height="17.86" fill="#444444" fill-opacity="0.75"/><rect x="1111.23" y="390.53" width="13.6" height="13.6" fill="#050505" fill-opacity="0.8"/><polygon points="1106.47,390.03 1113.27,383.23 1132.13,383.23 1125.33,390.03" fill="#5a5a5a" fill-opacity="0.6"/><polygon points="1125.33,390.03 1132.13,383.23 1132.13,402.09 1125.33,408.9" fill="#2c2c2c" fill-opacity="0.5"/><path d="M1087.6,352.3l6.8,-6.8h18.86v18.86l-6.8,6.8h-18.86z" fill="#1c1c1c"/><rect x="1088.1" y="352.8" width="17.86" height="17.86" fill="#444444" fill-opacity="0.75"/><rect x="1092.36" y="352.8" width="13.6" height="13.6" fill="#050505" fill-opacity="0.8"/><polygon points="1087.6,352.3 1094.4,345.5 1113.27,345.5 1106.47,352.3" fill="#5a5a5a" fill-opacity="0.6"/><polygon points="1106.47,352.3 1113.27,345.5 1113.27,364.36 1106.47,371.17" fill="#2c2c2c" fill-opacity="0.5"/><path d="M1106.47,371.17l6.8,-6.8h18.86v18.86l-6.8,6.8h-18.86z" fill="#1c1c1c"/><rect x="1106.97" y="371.67" width="17.86" height="17.86" fill="#444444" fill-opacity="0.75"/><rect x="1111.23" y="371.67" width="13.6" height="13.6" fill="#050505" fill-opacity="0.8"/><polygon points="1106.47,371.17 1113.27,364.36 1132.13,364.36 1125.33,371.17" fill="#5a5a5a" fill-opacity="0.6"/><polygon points="1125.33,371.17 1132.13,364.36 1132.13,383.23 1125.33,390.03" fill="#2c2c2c" fill-opacity="0.5"/><path d="M1125.33,390.03l6.8,-6.8h18.86v18.86l-6.8,6.8h-18.86z" fill="#0e1f0e"/><rect x="1125.83" y="390.53" width="17.86" height="17.86" fill="#25472a" fill-opacity="0.75"/><rect x="1130.09" y="390.53" width="13.6" height="13.6" fill="#061206" fill-opacity="0.8"/><polygon points="1125.33,390.03 1132.13,383.23 1151,383.23 1144.2,390.03" fill="#3b5a3b" fill-opacity="0.6"/><polygon points="1144.2,390.03 1151,383.23 1151,402.09 1144.2,408.9" fill="#1f3a1f" fill-opacity="0.5"/><path d="M1106.47,352.3l6.8,-6.8h18.86v18.86l-6.8,6.8h-18.86z" fill="#1c1c1c"/><rect x="1106.97" y="352.8" width="17.86" height="17.86" fill="#444444" fill-opacity="0.75"/><rect x="1111.23" y="352.8" width="13.6" height="13.6" fill="#050505" fill-opacity="0.8"/><polygon points="1106.47,352.3 1113.27,345.5 1132.13,345.5 1125.33,352.3" fill="#5a5a5a" fill-opacity="0.6"/><polygon points="1125.33,352.3 1132.13,345.5 1132.13,364.36 1125.33,371.17" fill="#2c2c2c" fill-opacity="0.5"/><path d="M1125.33,371.17l6.8,-6.8h18.86v18.86l-6.8,6.8h-18.86z" fill="#0e1f0e"/><rect x="1125.83" y="371.67" width="17.86" height="17.86" fill="#25472a" fill-opacity="0.75"/><rect x="1130.09" y="371.67" width="13.6" height="13.6" fill="#061206" fill-opacity="0.8"/><polygon points="1125.33,371.17 1132.13,364.36 1151,364.36 1144.2,371.17" fill="#3b5a3b" fill-opacity="0.6"/><polygon points="1144.2,371.17 1151,364.36 1151,383.23 1144.2,390.03" fill="#1f3a1f" fill-opacity="0.5"/><path d="M1125.33,352.3l6.8,-6.8h18.86v18.86l-6.8,6.8h-18.86z" fill="#0e1f0e"/><rect x="1125.83" y="352.8" width="17.86" height="17.86" fill="#25472a" fill-opacity="0.75"/><rect x="1130.09" y="352.8" width="13.6" height="13.6" fill="#061206" fill-opacity="0.8"/><polygon points="1125.33,352.3 1132.13,345.5 1151,345.5 1144.2,352.3" fill="#3b5a3b" fill-opacity="0.6"/><polygon points="1144.2,352.3 1151,345.5 1151,364.36 1144.2,371.17" fill="#1f3a1f" fill-opacity="0.5"/><path d="M1080.8,396.83l6.8,-6.8h18.86v18.86l-6.8,6.8h-18.86z" fill="#1c1c1c"/><rect x="1081.3" y="397.33" width="17.86" height="17.86" fill="#444444" fill-opacity="0.75"/><rect x="1085.56" y="397.33" width="13.6" height="13.6" fill="#050505" fill-opacity="0.8"/><polygon points="1080.8,396.83 1087.6,390.03 1106.47,390.03 1099.67,396.83" fill="#5a5a5a" fill-opacity="0.6"/><polygon points="1099.67,396.83 1106.47,390.03 1106.47,408.9 1099.67,415.7" fill="#2c2c2c" fill-opacity="0.5"/><path d="M1080.8,377.97l6.8,-6.8h18.86v18.86l-6.8,6.8h-18.86z" fill="#1c1c1c"/><rect x="1081.3" y="378.47" width="17.86" height="17.86" fill="#444444" fill-opacity="0.75"/><rect x="1085.56" y="378.47" width="13.6" height="13.6" fill="#050505" fill-opacity="0.8"/><polygon points="1080.8,377.97 1087.6,371.17 1106.47,371.17 1099.67,377.97" fill="#5a5a5a" fill-opacity="0.6"/><polygon points="1099.67,377.97 1106.47,371.17 1106.47,390.03 1099.67,396.83" fill="#2c2c2c" fill-opacity="0.5"/><path d="M1099.67,396.83l6.8,-6.8h18.86v18.86l-6.8,6.8h-18.86z" fill="#1c1c1c"/><rect x="1100.17" y="397.33" width="17.86" height="17.86" fill="#444444" fill-opacity="0.75"/><rect x="1104.43" y="397.33" width="13.6" height="13.6" fill="#050505" fill-opacity="0.8"/><polygon points="1099.67,396.83 1106.47,390.03 1125.33,390.03 1118.53,396.83" fill="#5a5a5a" fill-opacity="0.6"/><polygon points="1118.53,396.83 1125.33,390.03 1125.33,408.9 1118.53,415.7" fill="#2c2c2c" fill-opacity="0.5"/><path d="M1080.8,359.1l6.8,-6.8h18.86v18.86l-6.8,6.8h-18.86z" fill="#1c1c1c"/><rect x="1081.3" y="359.6" width="17.86" height="17.86" fill="#444444" fill-opacity="0.75"/><rect x="1085.56" y="359.6" width="13.6" height="13.6" fill="#050505" fill-opacity="0.8"/><polygon points="1080.8,359.1 1087.6,352.3 1106.47,352.3 1099.67,359.1" fill="#5a5a5a" fill-opacity="0.6"/><polygon points="1099.67,359.1 1106.47,352.3 1106.47,371.17 1099.67,377.97" fill="#2c2c2c" fill-opacity="0.5"/><path d="M1099.67,377.97l6.8,-6.8h18.86v18.86l-6.8,6.8h-18.86z" fill="#1c1c1c"/><rect x="1100.17" y="378.47" width="17.86" height="17.86" fill="#444444" fill-opacity="0.75"/><rect x="1104.43" y="378.47" width="13.6" height="13.6" fill="#050505" fill-opacity="0.8"/><polygon points="1099.67,377.97 1106.47,371.17 1125.33,371.17 1118.53,377.97" fill="#5a5a5a" fill-opacity="0.6"/><polygon points="1118.53,377.97 1125.33,371.17 1125.33,390.03 1118.53,396.83" fill="#2c2c2c" fill-opacity="0.5"/><path d="M1118.53,396.83l6.8,-6.8h18.86v18.86l-6.8,6.8h-18.86z" fill="#0e1f0e"/><rect x="1119.03" y="397.33" width="17.86" height="17.86" fill="#25472a" fill-opacity="0.75"/><rect x="1123.29" y="397.33" width="13.6" height="13.6" fill="#061206" fill-opacity="0.8"/><polygon points="1118.53,396.83 1125.33,390.03 1144.2,390.03 1137.4,396.83" fill="#3b5a3b" fill-opacity="0.6"/><polygon points="1137.4,396.83 1144.2,390.03 1144.2,408.9 1137.4,415.7" fill="#1f3a1f" fill-opacity="0.5"/><path d="M1099.67,359.1l6.8,-6.8h18.86v18.86l-6.8,6.8h-18.86z" fill="#1c1c1c"/><rect x="1100.17" y="359.6" width="17.86" height="17.86" fill="#444444" fill-opacity="0.75"/><rect x="1104.43" y="359.6" width="13.6" height="13.6" fill="#050505" fill-opacity="0.8"/><polygon points="1099.67,359.1 1106.47,352.3 1125.33,352.3 1118.53,359.1" fill="#5a5a5a" fill-opacity="0.6"/><polygon points="1118.53,359.1 1125.33,352.3 1125.33,371.17 1118.53,377.97" fill="#2c2c2c" fill-opacity="0.5"/><path d="M1118.53,377.97l6.8,-6.8h18.86v18.86l-6.8,6.8h-18.86z" fill="#0e1f0e"/><rect x="1119.03" y="378.47" width="17.86" height="17.86" fill="#25472a" fill-opacity="0.75"/><rect x="1123.29" y="378.47" width="13.6" height="13.6" fill="#061206" fill-opacity="0.8"/><polygon points="1118.53,377.97 1125.33,371.17 1144.2,371.17 1137.4,377.97" fill="#3b5a3b" fill-opacity="0.6"/><polygon points="1137.4,377.97 1144.2,371.17 1144.2,390.03 1137.4,396.83" fill="#1f3a1f" fill-opacity="0.5"/><path d="M1118.53,359.1l6.8,-6.8h18.86v18.86l-6.8,6.8h-18.86z" fill="#0e1f0e"/><rect x="1119.03" y="359.6" width="17.86" height="17.86" fill="#25472a" fill-opacity="0.75"/><rect x="1123.29" y="359.6" width="13.6" height="13.6" fill="#061206" fill-opacity="0.8"/><polygon points="1118.53,359.1 1125.33,352.3 1144.2,352.3 1137.4,359.1" fill="#3b5a3b" fill-opacity="0.6"/><polygon points="1137.4,359.1 1144.2,352.3 1144.2,371.17 1137.4,377.97" fill="#1f3a1f" fill-opacity="0.5"/><path d="M1074,403.63l6.8,-6.8h18.86v18.86l-6.8,6.8h-18.86z" fill="#1c1c1c"/><rect x="1074.5" y="404.13" width="17.86" height="17.86" fill="#444444" fill-opacity="0.75"/><rect x="1078.76" y="404.13" width="13.6" height="13.6" fill="#050505" fill-opacity="0.8"/><polygon points="1074,403.63 1080.8,396.83 1099.67,396.83 1092.87,403.63" fill="#5a5a5a" fill-opacity="0.6"/><polygon points="1092.87,403.63 1099.67,396.83 1099.67,415.7 1092.87,422.5" fill="#2c2c2c" fill-opacity="0.5"/><path d="M1074,384.77l6.8,-6.8h18.86v18.86l-6.8,6.8h-18.86z" fill="#1c1c1c"/><rect x="1074.5" y="385.27" width="17.86" height="17.86" fill="#444444" fill-opacity="0.75"/><rect x="1078.76" y="385.27" width="13.6" height="13.6" fill="#050505" fill-opacity="0.8"/><polygon points="1074,384.77 1080.8,377.97 1099.67,377.97 1092.87,384.77" fill="#5a5a5a" fill-opacity="0.6"/><polygon points="1092.87,384.77 1099.67,377.97 1099.67,396.83 1092.87,403.63" fill="#2c2c2c" fill-opacity="0.5"/><path d="M1092.87,403.63l6.8,-6.8h18.86v18.86l-6.8,6.8h-18.86z" fill="#1c1c1c"/><rect x="1093.37" y="404.13" width="17.86" height="17.86" fill="#444444" fill-opacity="0.75"/><rect x="1097.63" y="404.13" width="13.6" height="13.6" fill="#050505" fill-opacity="0.8"/><polygon points="1092.87,403.63 1099.67,396.83 1118.53,396.83 1111.73,403.63" fill="#5a5a5a" fill-opacity="0.6"/><polygon points="1111.73,403.63 1118.53,396.83 1118.53,415.7 1111.73,422.5" fill="#2c2c2c" fill-opacity="0.5"/><path d="M1074,365.9l6.8,-6.8h18.86v18.86l-6.8,6.8h-18.86z" fill="#1c1c1c"/><rect x="1074.5" y="366.4" width="17.86" height="17.86" fill="#444444" fill-opacity="0.75"/><rect x="1078.76" y="366.4" width="13.6" height="13.6" fill="#050505" fill-opacity="0.8"/><polygon points="1074,365.9 1080.8,359.1 1099.67,359.1 1092.87,365.9" fill="#5a5a5a" fill-opacity="0.6"/><polygon points="1092.87,365.9 1099.67,359.1 1099.67,377.97 1092.87,384.77" fill="#2c2c2c" fill-opacity="0.5"/><path d="M1092.87,384.77l6.8,-6.8h18.86v18.86l-6.8,6.8h-18.86z" fill="#1c1c1c"/><rect x="1093.37" y="385.27" width="17.86" height="17.86" fill="#444444" fill-opacity="0.75"/><rect x="1097.63" y="385.27" width="13.6" height="13.6" fill="#050505" fill-opacity="0.8"/><polygon points="1092.87,384.77 1099.67,377.97 1118.53,377.97 1111.73,384.77" fill="#5a5a5a" fill-opacity="0.6"/><polygon points="1111.73,384.77 1118.53,377.97 1118.53,396.83 1111.73,403.63" fill="#2c2c2c" fill-opacity="0.5"/><path d="M1111.73,403.63l6.8,-6.8h18.86v18.86l-6.8,6.8h-18.86z" fill="#0e1f0e"/><rect x="1112.23" y="404.13" width="17.86" height="17.86" fill="#25472a" fill-opacity="0.75"/><rect x="1116.49" y="404.13" width="13.6" height="13.6" fill="#061206" fill-opacity="0.8"/><polygon points="1111.73,403.63 1118.53,396.83 1137.4,396.83 1130.6,403.63" fill="#3b5a3b" fill-opacity="0.6"/><polygon points="1130.6,403.63 1137.4,396.83 1137.4,415.7 1130.6,422.5" fill="#1f3a1f" fill-opacity="0.5"/><path d="M1092.87,365.9l6.8,-6.8h18.86v18.86l-6.8,6.8h-18.86z" fill="#1c1c1c"/><rect x="1093.37" y="366.4" width="17.86" height="17.86" fill="#444444" fill-opacity="0.75"/><rect x="1097.63" y="366.4" width="13.6" height="13.6" fill="#050505" fill-opacity="0.8"/><polygon points="1092.87,365.9 1099.67,359.1 1118.53,359.1 1111.73,365.9" fill="#5a5a5a" fill-opacity="0.6"/><polygon points="1111.73,365.9 1118.53,359.1 1118.53,377.97 1111.73,384.77" fill="#2c2c2c" fill-opacity="0.5"/><path d="M1111.73,384.77l6.8,-6.8h18.86v18.86l-6.8,6.8h-18.86z" fill="#0e1f0e"/><rect x="1112.23" y="385.27" width="17.86" height="17.86" fill="#25472a" fill-opacity="0.75"/><rect x="1116.49" y="385.27" width="13.6" height="13.6" fill="#061206" fill-opacity="0.8"/><polygon points="1111.73,384.77 1118.53,377.97 1137.4,377.97 1130.6,384.77" fill="#3b5a3b" fill-opacity="0.6"/><polygon points="1130.6,384.77 1137.4,377.97 1137.4,396.83 1130.6,403.63" fill="#1f3a1f" fill-opacity="0.5"/><path d="M1111.73,365.9l6.8,-6.8h18.86v18.86l-6.8,6.8h-18.86z" fill="#0e1f0e"/><rect x="1112.23" y="366.4" width="17.86" height="17.86" fill="#25472a" fill-opacity="0.75"/><rect x="1116.49" y="366.4" width="13.6" height="13.6" fill="#061206" fill-opacity="0.8"/><polygon points="1111.73,365.9 1118.53,359.1 1137.4,359.1 1130.6,365.9" fill="#3b5a3b" fill-opacity="0.6"/><polygon points="1130.6,365.9 1137.4,359.1 1137.4,377.97 1130.6,384.77" fill="#1f3a1f" fill-opacity="0.5"/><clipPath id="bc7"><path d="M1074,365.9h18.86v18.86h-18.86z M1092.87,365.9h18.86v18.86h-18.86z M1111.73,365.9h18.86v18.86h-18.86z M1074,384.77h18.86v18.86h-18.86z M1092.87,384.77h18.86v18.86h-18.86z M1111.73,384.77h18.86v18.86h-18.86z M1074,403.63h18.86v18.86h-18.86z M1092.87,403.63h18.86v18.86h-18.86z M1111.73,403.63h18.86v18.86h-18.86z M1080.8,359.1h18.86v18.86h-18.86z M1099.67,359.1h18.86v18.86h-18.86z M1118.53,359.1h18.86v18.86h-18.86z M1080.8,377.97h18.86v18.86h-18.86z M1099.67,377.97h18.86v18.86h-18.86z M1118.53,377.97h18.86v18.86h-18.86z M1080.8,396.83h18.86v18.86h-18.86z M1099.67,396.83h18.86v18.86h-18.86z M1118.53,396.83h18.86v18.86h-18.86z M1087.6,352.3h18.86v18.86h-18.86z M1106.47,352.3h18.86v18.86h-18.86z M1125.33,352.3h18.86v18.86h-18.86z M1087.6,371.17h18.86v18.86h-18.86z M1106.47,371.17h18.86v18.86h-18.86z M1125.33,371.17h18.86v18.86h-18.86z M1087.6,390.03h18.86v18.86h-18.86z M1106.47,390.03h18.86v18.86h-18.86z M1125.33,390.03h18.86v18.86h-18.86z"/></clipPath><g clip-path="url(#bc7)"><ellipse cx="1104.34" cy="392.84" rx="15.28" ry="21.79" fill="url(#braingrad)" opacity="1.0" filter="url(#braintex)"/></g><path d="M1088.2,390.63h17.66v17.66h-17.66z M1088.2,390.63l6.2,-6.2h17.66v17.66l-6.2,6.2 M1105.87,390.63l6.2,-6.2 M1088.2,371.77h17.66v17.66h-17.66z M1088.2,371.77l6.2,-6.2h17.66v17.66l-6.2,6.2 M1105.87,371.77l6.2,-6.2 M1107.07,390.63h17.66v17.66h-17.66z M1107.07,390.63l6.2,-6.2h17.66v17.66l-6.2,6.2 M1124.73,390.63l6.2,-6.2 M1088.2,352.9h17.66v17.66h-17.66z M1088.2,352.9l6.2,-6.2h17.66v17.66l-6.2,6.2 M1105.87,352.9l6.2,-6.2 M1107.07,371.77h17.66v17.66h-17.66z M1107.07,371.77l6.2,-6.2h17.66v17.66l-6.2,6.2 M1124.73,371.77l6.2,-6.2 M1125.93,390.63h17.66v17.66h-17.66z M1125.93,390.63l6.2,-6.2h17.66v17.66l-6.2,6.2 M1143.6,390.63l6.2,-6.2 M1107.07,352.9h17.66v17.66h-17.66z M1107.07,352.9l6.2,-6.2h17.66v17.66l-6.2,6.2 M1124.73,352.9l6.2,-6.2 M1125.93,371.77h17.66v17.66h-17.66z M1125.93,371.77l6.2,-6.2h17.66v17.66l-6.2,6.2 M1143.6,371.77l6.2,-6.2 M1125.93,352.9h17.66v17.66h-17.66z M1125.93,352.9l6.2,-6.2h17.66v17.66l-6.2,6.2 M1143.6,352.9l6.2,-6.2 M1081.4,397.43h17.66v17.66h-17.66z M1081.4,397.43l6.2,-6.2h17.66v17.66l-6.2,6.2 M1099.07,397.43l6.2,-6.2 M1081.4,378.57h17.66v17.66h-17.66z M1081.4,378.57l6.2,-6.2h17.66v17.66l-6.2,6.2 M1099.07,378.57l6.2,-6.2 M1100.27,397.43h17.66v17.66h-17.66z M1100.27,397.43l6.2,-6.2h17.66v17.66l-6.2,6.2 M1117.93,397.43l6.2,-6.2 M1081.4,359.7h17.66v17.66h-17.66z M1081.4,359.7l6.2,-6.2h17.66v17.66l-6.2,6.2 M1099.07,359.7l6.2,-6.2 M1100.27,378.57h17.66v17.66h-17.66z M1100.27,378.57l6.2,-6.2h17.66v17.66l-6.2,6.2 M1117.93,378.57l6.2,-6.2 M1119.13,397.43h17.66v17.66h-17.66z M1119.13,397.43l6.2,-6.2h17.66v17.66l-6.2,6.2 M1136.8,397.43l6.2,-6.2 M1100.27,359.7h17.66v17.66h-17.66z M1100.27,359.7l6.2,-6.2h17.66v17.66l-6.2,6.2 M1117.93,359.7l6.2,-6.2 M1119.13,378.57h17.66v17.66h-17.66z M1119.13,378.57l6.2,-6.2h17.66v17.66l-6.2,6.2 M1136.8,378.57l6.2,-6.2 M1119.13,359.7h17.66v17.66h-17.66z M1119.13,359.7l6.2,-6.2h17.66v17.66l-6.2,6.2 M1136.8,359.7l6.2,-6.2" fill="none" stroke="#a6d98a" stroke-width="0.8049999999999999" stroke-opacity="0.28"/><path d="M1088.2,352.9l6.2,-6.2h17.66l-6.2,6.2z  M1143.6,390.63l6.2,-6.2v17.66l-6.2,6.2z  M1107.07,352.9l6.2,-6.2h17.66l-6.2,6.2z  M1143.6,371.77l6.2,-6.2v17.66l-6.2,6.2z  M1125.93,352.9l6.2,-6.2h17.66l-6.2,6.2z M1143.6,352.9l6.2,-6.2v17.66l-6.2,6.2z  M1081.4,359.7l6.2,-6.2h17.66l-6.2,6.2z  M1136.8,397.43l6.2,-6.2v17.66l-6.2,6.2z  M1100.27,359.7l6.2,-6.2h17.66l-6.2,6.2z  M1136.8,378.57l6.2,-6.2v17.66l-6.2,6.2z  M1119.13,359.7l6.2,-6.2h17.66l-6.2,6.2z M1136.8,359.7l6.2,-6.2v17.66l-6.2,6.2z " fill="none" stroke="#a6d98a" stroke-width="1.15" stroke-linejoin="round"/><path d="M1074.6,404.24h17.66v17.66h-17.66z M1074.6,404.24l6.2,-6.2h17.66v17.66l-6.2,6.2 M1092.26,404.24l6.2,-6.2 M1074.6,385.37h17.66v17.66h-17.66z M1074.6,385.37l6.2,-6.2h17.66v17.66l-6.2,6.2 M1092.26,385.37l6.2,-6.2 M1093.46,404.24h17.66v17.66h-17.66z M1093.46,404.24l6.2,-6.2h17.66v17.66l-6.2,6.2 M1111.13,404.24l6.2,-6.2 M1074.6,366.5h17.66v17.66h-17.66z M1074.6,366.5l6.2,-6.2h17.66v17.66l-6.2,6.2 M1092.26,366.5l6.2,-6.2 M1093.46,385.37h17.66v17.66h-17.66z M1093.46,385.37l6.2,-6.2h17.66v17.66l-6.2,6.2 M1111.13,385.37l6.2,-6.2 M1112.33,404.24h17.66v17.66h-17.66z M1112.33,404.24l6.2,-6.2h17.66v17.66l-6.2,6.2 M1129.99,404.24l6.2,-6.2 M1093.46,366.5h17.66v17.66h-17.66z M1093.46,366.5l6.2,-6.2h17.66v17.66l-6.2,6.2 M1111.13,366.5l6.2,-6.2 M1112.33,385.37h17.66v17.66h-17.66z M1112.33,385.37l6.2,-6.2h17.66v17.66l-6.2,6.2 M1129.99,385.37l6.2,-6.2 M1112.33,366.5h17.66v17.66h-17.66z M1112.33,366.5l6.2,-6.2h17.66v17.66l-6.2,6.2 M1129.99,366.5l6.2,-6.2" fill="none" stroke="#a6d98a" stroke-width="1.15" stroke-linejoin="round"/>
<polygon points="843.87,544.53 849.77,538.63 849.77,555.89 843.87,561.8" fill="#878484" stroke="#8f8c8c" stroke-width="0.9" stroke-linejoin="round"/><polygon points="826.6,544.53 832.5,538.63 849.77,538.63 843.87,544.53" fill="#bcb9b9" stroke="#8f8c8c" stroke-width="0.9" stroke-linejoin="round"/><rect x="826.6" y="544.53" width="17.26" height="17.26" rx="0" fill="#a6a3a3" stroke="#8f8c8c" stroke-width="0.9" /><polygon points="843.87,525.67 849.77,519.76 849.77,537.03 843.87,542.93" fill="#878484" stroke="#8f8c8c" stroke-width="0.9" stroke-linejoin="round"/><polygon points="826.6,525.67 832.5,519.76 849.77,519.76 843.87,525.67" fill="#bcb9b9" stroke="#8f8c8c" stroke-width="0.9" stroke-linejoin="round"/><rect x="826.6" y="525.67" width="17.26" height="17.26" rx="0" fill="#a6a3a3" stroke="#8f8c8c" stroke-width="0.9" /><polygon points="862.73,544.53 868.63,538.63 868.63,555.89 862.73,561.8" fill="#878484" stroke="#8f8c8c" stroke-width="0.9" stroke-linejoin="round"/><polygon points="845.47,544.53 851.37,538.63 868.63,538.63 862.73,544.53" fill="#bcb9b9" stroke="#8f8c8c" stroke-width="0.9" stroke-linejoin="round"/><rect x="845.47" y="544.53" width="17.26" height="17.26" rx="0" fill="#a6a3a3" stroke="#8f8c8c" stroke-width="0.9" /><polygon points="843.87,506.8 849.77,500.9 849.77,518.16 843.87,524.07" fill="#878484" stroke="#8f8c8c" stroke-width="0.9" stroke-linejoin="round"/><polygon points="826.6,506.8 832.5,500.9 849.77,500.9 843.87,506.8" fill="#bcb9b9" stroke="#8f8c8c" stroke-width="0.9" stroke-linejoin="round"/><rect x="826.6" y="506.8" width="17.26" height="17.26" rx="0" fill="#a6a3a3" stroke="#8f8c8c" stroke-width="0.9" /><path d="M844.97,525.17l6.8,-6.8h18.86v18.86l-6.8,6.8h-18.86z" fill="#1c1c1c"/><rect x="845.47" y="525.67" width="17.86" height="17.86" fill="#444444" fill-opacity="0.75"/><rect x="849.73" y="525.67" width="13.6" height="13.6" fill="#050505" fill-opacity="0.8"/><polygon points="844.97,525.17 851.77,518.37 870.63,518.37 863.83,525.17" fill="#5a5a5a" fill-opacity="0.6"/><polygon points="863.83,525.17 870.63,518.37 870.63,537.23 863.83,544.03" fill="#2c2c2c" fill-opacity="0.5"/><polygon points="881.6,544.53 887.5,538.63 887.5,555.89 881.6,561.8" fill="#878484" stroke="#8f8c8c" stroke-width="0.9" stroke-linejoin="round"/><polygon points="864.33,544.53 870.24,538.63 887.5,538.63 881.6,544.53" fill="#bcb9b9" stroke="#8f8c8c" stroke-width="0.9" stroke-linejoin="round"/><rect x="864.33" y="544.53" width="17.26" height="17.26" rx="0" fill="#a6a3a3" stroke="#8f8c8c" stroke-width="0.9" /><path d="M844.97,506.3l6.8,-6.8h18.86v18.86l-6.8,6.8h-18.86z" fill="#1c1c1c"/><rect x="845.47" y="506.8" width="17.86" height="17.86" fill="#444444" fill-opacity="0.75"/><rect x="849.73" y="506.8" width="13.6" height="13.6" fill="#050505" fill-opacity="0.8"/><polygon points="844.97,506.3 851.77,499.5 870.63,499.5 863.83,506.3" fill="#5a5a5a" fill-opacity="0.6"/><polygon points="863.83,506.3 870.63,499.5 870.63,518.37 863.83,525.17" fill="#2c2c2c" fill-opacity="0.5"/><path d="M863.83,525.17l6.8,-6.8h18.86v18.86l-6.8,6.8h-18.86z" fill="#1c1c1c"/><rect x="864.33" y="525.67" width="17.86" height="17.86" fill="#444444" fill-opacity="0.75"/><rect x="868.59" y="525.67" width="13.6" height="13.6" fill="#050505" fill-opacity="0.8"/><polygon points="863.83,525.17 870.63,518.37 889.5,518.37 882.7,525.17" fill="#5a5a5a" fill-opacity="0.6"/><polygon points="882.7,525.17 889.5,518.37 889.5,537.23 882.7,544.03" fill="#2c2c2c" fill-opacity="0.5"/><path d="M863.83,506.3l6.8,-6.8h18.86v18.86l-6.8,6.8h-18.86z" fill="#1c1c1c"/><rect x="864.33" y="506.8" width="17.86" height="17.86" fill="#444444" fill-opacity="0.75"/><rect x="868.59" y="506.8" width="13.6" height="13.6" fill="#050505" fill-opacity="0.8"/><polygon points="863.83,506.3 870.63,499.5 889.5,499.5 882.7,506.3" fill="#5a5a5a" fill-opacity="0.6"/><polygon points="882.7,506.3 889.5,499.5 889.5,518.37 882.7,525.17" fill="#2c2c2c" fill-opacity="0.5"/><polygon points="837.07,551.33 842.97,545.43 842.97,562.7 837.07,568.6" fill="#878484" stroke="#8f8c8c" stroke-width="0.9" stroke-linejoin="round"/><polygon points="819.8,551.33 825.7,545.43 842.97,545.43 837.07,551.33" fill="#bcb9b9" stroke="#8f8c8c" stroke-width="0.9" stroke-linejoin="round"/><rect x="819.8" y="551.33" width="17.26" height="17.26" rx="0" fill="#a6a3a3" stroke="#8f8c8c" stroke-width="0.9" /><polygon points="837.07,532.47 842.97,526.57 842.97,543.83 837.07,549.73" fill="#878484" stroke="#8f8c8c" stroke-width="0.9" stroke-linejoin="round"/><polygon points="819.8,532.47 825.7,526.57 842.97,526.57 837.07,532.47" fill="#bcb9b9" stroke="#8f8c8c" stroke-width="0.9" stroke-linejoin="round"/><rect x="819.8" y="532.47" width="17.26" height="17.26" rx="0" fill="#a6a3a3" stroke="#8f8c8c" stroke-width="0.9" /><polygon points="855.93,551.33 861.83,545.43 861.83,562.7 855.93,568.6" fill="#878484" stroke="#8f8c8c" stroke-width="0.9" stroke-linejoin="round"/><polygon points="838.67,551.33 844.57,545.43 861.83,545.43 855.93,551.33" fill="#bcb9b9" stroke="#8f8c8c" stroke-width="0.9" stroke-linejoin="round"/><rect x="838.67" y="551.33" width="17.26" height="17.26" rx="0" fill="#a6a3a3" stroke="#8f8c8c" stroke-width="0.9" /><polygon points="837.07,513.6 842.97,507.7 842.97,524.97 837.07,530.87" fill="#878484" stroke="#8f8c8c" stroke-width="0.9" stroke-linejoin="round"/><polygon points="819.8,513.6 825.7,507.7 842.97,507.7 837.07,513.6" fill="#bcb9b9" stroke="#8f8c8c" stroke-width="0.9" stroke-linejoin="round"/><rect x="819.8" y="513.6" width="17.26" height="17.26" rx="0" fill="#a6a3a3" stroke="#8f8c8c" stroke-width="0.9" /><path d="M838.17,531.97l6.8,-6.8h18.86v18.86l-6.8,6.8h-18.86z" fill="#1c1c1c"/><rect x="838.67" y="532.47" width="17.86" height="17.86" fill="#444444" fill-opacity="0.75"/><rect x="842.93" y="532.47" width="13.6" height="13.6" fill="#050505" fill-opacity="0.8"/><polygon points="838.17,531.97 844.97,525.17 863.83,525.17 857.03,531.97" fill="#5a5a5a" fill-opacity="0.6"/><polygon points="857.03,531.97 863.83,525.17 863.83,544.03 857.03,550.83" fill="#2c2c2c" fill-opacity="0.5"/><polygon points="874.8,551.33 880.7,545.43 880.7,562.7 874.8,568.6" fill="#878484" stroke="#8f8c8c" stroke-width="0.9" stroke-linejoin="round"/><polygon points="857.53,551.33 863.43,545.43 880.7,545.43 874.8,551.33" fill="#bcb9b9" stroke="#8f8c8c" stroke-width="0.9" stroke-linejoin="round"/><rect x="857.53" y="551.33" width="17.26" height="17.26" rx="0" fill="#a6a3a3" stroke="#8f8c8c" stroke-width="0.9" /><path d="M838.17,513.1l6.8,-6.8h18.86v18.86l-6.8,6.8h-18.86z" fill="#1c1c1c"/><rect x="838.67" y="513.6" width="17.86" height="17.86" fill="#444444" fill-opacity="0.75"/><rect x="842.93" y="513.6" width="13.6" height="13.6" fill="#050505" fill-opacity="0.8"/><polygon points="838.17,513.1 844.97,506.3 863.83,506.3 857.03,513.1" fill="#5a5a5a" fill-opacity="0.6"/><polygon points="857.03,513.1 863.83,506.3 863.83,525.17 857.03,531.97" fill="#2c2c2c" fill-opacity="0.5"/><path d="M857.03,531.97l6.8,-6.8h18.86v18.86l-6.8,6.8h-18.86z" fill="#1c1c1c"/><rect x="857.53" y="532.47" width="17.86" height="17.86" fill="#444444" fill-opacity="0.75"/><rect x="861.79" y="532.47" width="13.6" height="13.6" fill="#050505" fill-opacity="0.8"/><polygon points="857.03,531.97 863.83,525.17 882.7,525.17 875.9,531.97" fill="#5a5a5a" fill-opacity="0.6"/><polygon points="875.9,531.97 882.7,525.17 882.7,544.03 875.9,550.83" fill="#2c2c2c" fill-opacity="0.5"/><path d="M857.03,513.1l6.8,-6.8h18.86v18.86l-6.8,6.8h-18.86z" fill="#1c1c1c"/><rect x="857.53" y="513.6" width="17.86" height="17.86" fill="#444444" fill-opacity="0.75"/><rect x="861.79" y="513.6" width="13.6" height="13.6" fill="#050505" fill-opacity="0.8"/><polygon points="857.03,513.1 863.83,506.3 882.7,506.3 875.9,513.1" fill="#5a5a5a" fill-opacity="0.6"/><polygon points="875.9,513.1 882.7,506.3 882.7,525.17 875.9,531.97" fill="#2c2c2c" fill-opacity="0.5"/><path d="M831.37,538.77l6.8,-6.8h18.86v18.86l-6.8,6.8h-18.86z" fill="#1c1c1c"/><rect x="831.87" y="539.27" width="17.86" height="17.86" fill="#444444" fill-opacity="0.75"/><rect x="836.13" y="539.27" width="13.6" height="13.6" fill="#050505" fill-opacity="0.8"/><polygon points="831.37,538.77 838.17,531.97 857.03,531.97 850.23,538.77" fill="#5a5a5a" fill-opacity="0.6"/><polygon points="850.23,538.77 857.03,531.97 857.03,550.83 850.23,557.63" fill="#2c2c2c" fill-opacity="0.5"/><path d="M831.37,519.9l6.8,-6.8h18.86v18.86l-6.8,6.8h-18.86z" fill="#1c1c1c"/><rect x="831.87" y="520.4" width="17.86" height="17.86" fill="#444444" fill-opacity="0.75"/><rect x="836.13" y="520.4" width="13.6" height="13.6" fill="#050505" fill-opacity="0.8"/><polygon points="831.37,519.9 838.17,513.1 857.03,513.1 850.23,519.9" fill="#5a5a5a" fill-opacity="0.6"/><polygon points="850.23,519.9 857.03,513.1 857.03,531.97 850.23,538.77" fill="#2c2c2c" fill-opacity="0.5"/><path d="M850.23,538.77l6.8,-6.8h18.86v18.86l-6.8,6.8h-18.86z" fill="#1c1c1c"/><rect x="850.73" y="539.27" width="17.86" height="17.86" fill="#444444" fill-opacity="0.75"/><rect x="854.99" y="539.27" width="13.6" height="13.6" fill="#050505" fill-opacity="0.8"/><polygon points="850.23,538.77 857.03,531.97 875.9,531.97 869.1,538.77" fill="#5a5a5a" fill-opacity="0.6"/><polygon points="869.1,538.77 875.9,531.97 875.9,550.83 869.1,557.63" fill="#2c2c2c" fill-opacity="0.5"/><path d="M850.23,519.9l6.8,-6.8h18.86v18.86l-6.8,6.8h-18.86z" fill="#1c1c1c"/><rect x="850.73" y="520.4" width="17.86" height="17.86" fill="#444444" fill-opacity="0.75"/><rect x="854.99" y="520.4" width="13.6" height="13.6" fill="#050505" fill-opacity="0.8"/><polygon points="850.23,519.9 857.03,513.1 875.9,513.1 869.1,519.9" fill="#5a5a5a" fill-opacity="0.6"/><polygon points="869.1,519.9 875.9,513.1 875.9,531.97 869.1,538.77" fill="#2c2c2c" fill-opacity="0.5"/><clipPath id="bc8"><path d="M831.37,519.9h18.86v18.86h-18.86z M850.23,519.9h18.86v18.86h-18.86z M831.37,538.77h18.86v18.86h-18.86z M850.23,538.77h18.86v18.86h-18.86z M838.17,513.1h18.86v18.86h-18.86z M857.03,513.1h18.86v18.86h-18.86z M838.17,531.97h18.86v18.86h-18.86z M857.03,531.97h18.86v18.86h-18.86z M844.97,506.3h18.86v18.86h-18.86z M863.83,506.3h18.86v18.86h-18.86z M844.97,525.17h18.86v18.86h-18.86z M863.83,525.17h18.86v18.86h-18.86z"/></clipPath><g clip-path="url(#bc8)"><ellipse cx="842.84" cy="543.84" rx="15.28" ry="21.79" fill="url(#braingrad)" opacity="1.0" filter="url(#braintex)"/><ellipse cx="842.84" cy="543.84" rx="15.28" ry="21.79" fill="#6ab0f0" opacity="0.15"/></g><path d="M845.57,525.77h17.66v17.66h-17.66z M845.57,525.77l6.2,-6.2h17.66v17.66l-6.2,6.2 M863.23,525.77l6.2,-6.2 M845.57,506.9h17.66v17.66h-17.66z M845.57,506.9l6.2,-6.2h17.66v17.66l-6.2,6.2 M863.23,506.9l6.2,-6.2 M864.43,525.77h17.66v17.66h-17.66z M864.43,525.77l6.2,-6.2h17.66v17.66l-6.2,6.2 M882.1,525.77l6.2,-6.2 M864.43,506.9h17.66v17.66h-17.66z M864.43,506.9l6.2,-6.2h17.66v17.66l-6.2,6.2 M882.1,506.9l6.2,-6.2 M838.77,532.57h17.66v17.66h-17.66z M838.77,532.57l6.2,-6.2h17.66v17.66l-6.2,6.2 M856.43,532.57l6.2,-6.2 M838.77,513.7h17.66v17.66h-17.66z M838.77,513.7l6.2,-6.2h17.66v17.66l-6.2,6.2 M856.43,513.7l6.2,-6.2 M857.63,532.57h17.66v17.66h-17.66z M857.63,532.57l6.2,-6.2h17.66v17.66l-6.2,6.2 M875.3,532.57l6.2,-6.2 M857.63,513.7h17.66v17.66h-17.66z M857.63,513.7l6.2,-6.2h17.66v17.66l-6.2,6.2 M875.3,513.7l6.2,-6.2" fill="none" stroke="#1f8ae0" stroke-width="0.8049999999999999" stroke-opacity="0.28"/><path d="M845.57,506.9l6.2,-6.2h17.66l-6.2,6.2z  M882.1,525.77l6.2,-6.2v17.66l-6.2,6.2z  M864.43,506.9l6.2,-6.2h17.66l-6.2,6.2z M882.1,506.9l6.2,-6.2v17.66l-6.2,6.2z  M838.77,513.7l6.2,-6.2h17.66l-6.2,6.2z  M875.3,532.57l6.2,-6.2v17.66l-6.2,6.2z  M857.63,513.7l6.2,-6.2h17.66l-6.2,6.2z M875.3,513.7l6.2,-6.2v17.66l-6.2,6.2z " fill="none" stroke="#1f8ae0" stroke-width="1.15" stroke-linejoin="round"/><polygon points="830.26,558.13 836.17,552.23 836.17,569.5 830.26,575.4" fill="#878484" stroke="#8f8c8c" stroke-width="0.9" /><polygon points="813,558.13 818.9,552.23 836.17,552.23 830.26,558.13" fill="#bcb9b9" stroke="#8f8c8c" stroke-width="0.9" /><rect x="813" y="558.13" width="17.26" height="17.26" rx="0" fill="#a6a3a3" stroke="#8f8c8c" stroke-width="0.9" /><polygon points="813,539.27 818.9,533.37 836.17,533.37 830.26,539.27" fill="#bcb9b9" stroke="#8f8c8c" stroke-width="0.9" /><rect x="813" y="539.27" width="17.26" height="17.26" rx="0" fill="#a6a3a3" stroke="#8f8c8c" stroke-width="0.9" /><polygon points="849.13,558.13 855.03,552.23 855.03,569.5 849.13,575.4" fill="#878484" stroke="#8f8c8c" stroke-width="0.9" /><rect x="831.87" y="558.13" width="17.26" height="17.26" rx="0" fill="#a6a3a3" stroke="#8f8c8c" stroke-width="0.9" /><polygon points="813,520.4 818.9,514.5 836.17,514.5 830.26,520.4" fill="#bcb9b9" stroke="#8f8c8c" stroke-width="0.9" /><rect x="813" y="520.4" width="17.26" height="17.26" rx="0" fill="#a6a3a3" stroke="#8f8c8c" stroke-width="0.9" /><polygon points="868,558.13 873.9,552.23 873.9,569.5 868,575.4" fill="#878484" stroke="#8f8c8c" stroke-width="0.9" /><rect x="850.73" y="558.13" width="17.26" height="17.26" rx="0" fill="#a6a3a3" stroke="#8f8c8c" stroke-width="0.9" /><path d="M831.97,539.37h17.66v17.66h-17.66z M831.97,539.37l6.2,-6.2h17.66v17.66l-6.2,6.2 M849.63,539.37l6.2,-6.2 M831.97,520.5h17.66v17.66h-17.66z M831.97,520.5l6.2,-6.2h17.66v17.66l-6.2,6.2 M849.63,520.5l6.2,-6.2 M850.83,539.37h17.66v17.66h-17.66z M850.83,539.37l6.2,-6.2h17.66v17.66l-6.2,6.2 M868.5,539.37l6.2,-6.2 M850.83,520.5h17.66v17.66h-17.66z M850.83,520.5l6.2,-6.2h17.66v17.66l-6.2,6.2 M868.5,520.5l6.2,-6.2" fill="none" stroke="#1f8ae0" stroke-width="1.15" stroke-linejoin="round"/>
<path d="M826.1,631.03l6.8,-6.8h18.86v18.86l-6.8,6.8h-18.86z" fill="#1c1c1c"/><rect x="826.6" y="631.53" width="17.86" height="17.86" fill="#444444" fill-opacity="0.75"/><rect x="830.86" y="631.53" width="13.6" height="13.6" fill="#050505" fill-opacity="0.8"/><polygon points="826.1,631.03 832.9,624.23 851.77,624.23 844.97,631.03" fill="#5a5a5a" fill-opacity="0.6"/><polygon points="844.97,631.03 851.77,624.23 851.77,643.1 844.97,649.9" fill="#2c2c2c" fill-opacity="0.5"/><path d="M826.1,612.17l6.8,-6.8h18.86v18.86l-6.8,6.8h-18.86z" fill="#1c1c1c"/><rect x="826.6" y="612.67" width="17.86" height="17.86" fill="#444444" fill-opacity="0.75"/><rect x="830.86" y="612.67" width="13.6" height="13.6" fill="#050505" fill-opacity="0.8"/><polygon points="826.1,612.17 832.9,605.37 851.77,605.37 844.97,612.17" fill="#5a5a5a" fill-opacity="0.6"/><polygon points="844.97,612.17 851.77,605.37 851.77,624.23 844.97,631.03" fill="#2c2c2c" fill-opacity="0.5"/><path d="M844.97,631.03l6.8,-6.8h18.86v18.86l-6.8,6.8h-18.86z" fill="#1c1c1c"/><rect x="845.47" y="631.53" width="17.86" height="17.86" fill="#444444" fill-opacity="0.75"/><rect x="849.73" y="631.53" width="13.6" height="13.6" fill="#050505" fill-opacity="0.8"/><polygon points="844.97,631.03 851.77,624.23 870.63,624.23 863.83,631.03" fill="#5a5a5a" fill-opacity="0.6"/><polygon points="863.83,631.03 870.63,624.23 870.63,643.1 863.83,649.9" fill="#2c2c2c" fill-opacity="0.5"/><path d="M826.1,593.3l6.8,-6.8h18.86v18.86l-6.8,6.8h-18.86z" fill="#1c1c1c"/><rect x="826.6" y="593.8" width="17.86" height="17.86" fill="#444444" fill-opacity="0.75"/><rect x="830.86" y="593.8" width="13.6" height="13.6" fill="#050505" fill-opacity="0.8"/><polygon points="826.1,593.3 832.9,586.5 851.77,586.5 844.97,593.3" fill="#5a5a5a" fill-opacity="0.6"/><polygon points="844.97,593.3 851.77,586.5 851.77,605.37 844.97,612.17" fill="#2c2c2c" fill-opacity="0.5"/><path d="M844.97,612.17l6.8,-6.8h18.86v18.86l-6.8,6.8h-18.86z" fill="#1c1c1c"/><rect x="845.47" y="612.67" width="17.86" height="17.86" fill="#444444" fill-opacity="0.75"/><rect x="849.73" y="612.67" width="13.6" height="13.6" fill="#050505" fill-opacity="0.8"/><polygon points="844.97,612.17 851.77,605.37 870.63,605.37 863.83,612.17" fill="#5a5a5a" fill-opacity="0.6"/><polygon points="863.83,612.17 870.63,605.37 870.63,624.23 863.83,631.03" fill="#2c2c2c" fill-opacity="0.5"/><polygon points="881.6,631.53 887.5,625.63 887.5,642.89 881.6,648.8" fill="#878484" stroke="#8f8c8c" stroke-width="0.9" stroke-linejoin="round"/><polygon points="864.33,631.53 870.24,625.63 887.5,625.63 881.6,631.53" fill="#bcb9b9" stroke="#8f8c8c" stroke-width="0.9" stroke-linejoin="round"/><rect x="864.33" y="631.53" width="17.26" height="17.26" rx="0" fill="#a6a3a3" stroke="#8f8c8c" stroke-width="0.9" /><path d="M844.97,593.3l6.8,-6.8h18.86v18.86l-6.8,6.8h-18.86z" fill="#1c1c1c"/><rect x="845.47" y="593.8" width="17.86" height="17.86" fill="#444444" fill-opacity="0.75"/><rect x="849.73" y="593.8" width="13.6" height="13.6" fill="#050505" fill-opacity="0.8"/><polygon points="844.97,593.3 851.77,586.5 870.63,586.5 863.83,593.3" fill="#5a5a5a" fill-opacity="0.6"/><polygon points="863.83,593.3 870.63,586.5 870.63,605.37 863.83,612.17" fill="#2c2c2c" fill-opacity="0.5"/><polygon points="881.6,612.67 887.5,606.76 887.5,624.03 881.6,629.93" fill="#878484" stroke="#8f8c8c" stroke-width="0.9" stroke-linejoin="round"/><polygon points="864.33,612.67 870.24,606.76 887.5,606.76 881.6,612.67" fill="#bcb9b9" stroke="#8f8c8c" stroke-width="0.9" stroke-linejoin="round"/><rect x="864.33" y="612.67" width="17.26" height="17.26" rx="0" fill="#a6a3a3" stroke="#8f8c8c" stroke-width="0.9" /><polygon points="881.6,593.8 887.5,587.9 887.5,605.16 881.6,611.07" fill="#878484" stroke="#8f8c8c" stroke-width="0.9" stroke-linejoin="round"/><polygon points="864.33,593.8 870.24,587.9 887.5,587.9 881.6,593.8" fill="#bcb9b9" stroke="#8f8c8c" stroke-width="0.9" stroke-linejoin="round"/><rect x="864.33" y="593.8" width="17.26" height="17.26" rx="0" fill="#a6a3a3" stroke="#8f8c8c" stroke-width="0.9" /><path d="M819.3,637.83l6.8,-6.8h18.86v18.86l-6.8,6.8h-18.86z" fill="#1c1c1c"/><rect x="819.8" y="638.33" width="17.86" height="17.86" fill="#444444" fill-opacity="0.75"/><rect x="824.06" y="638.33" width="13.6" height="13.6" fill="#050505" fill-opacity="0.8"/><polygon points="819.3,637.83 826.1,631.03 844.97,631.03 838.17,637.83" fill="#5a5a5a" fill-opacity="0.6"/><polygon points="838.17,637.83 844.97,631.03 844.97,649.9 838.17,656.7" fill="#2c2c2c" fill-opacity="0.5"/><path d="M819.3,618.97l6.8,-6.8h18.86v18.86l-6.8,6.8h-18.86z" fill="#1c1c1c"/><rect x="819.8" y="619.47" width="17.86" height="17.86" fill="#444444" fill-opacity="0.75"/><rect x="824.06" y="619.47" width="13.6" height="13.6" fill="#050505" fill-opacity="0.8"/><polygon points="819.3,618.97 826.1,612.17 844.97,612.17 838.17,618.97" fill="#5a5a5a" fill-opacity="0.6"/><polygon points="838.17,618.97 844.97,612.17 844.97,631.03 838.17,637.83" fill="#2c2c2c" fill-opacity="0.5"/><polygon points="855.93,638.33 861.83,632.43 861.83,649.7 855.93,655.6" fill="#878484" stroke="#8f8c8c" stroke-width="0.9" stroke-linejoin="round"/><polygon points="838.67,638.33 844.57,632.43 861.83,632.43 855.93,638.33" fill="#bcb9b9" stroke="#8f8c8c" stroke-width="0.9" stroke-linejoin="round"/><rect x="838.67" y="638.33" width="17.26" height="17.26" rx="0" fill="#a6a3a3" stroke="#8f8c8c" stroke-width="0.9" /><path d="M819.3,600.1l6.8,-6.8h18.86v18.86l-6.8,6.8h-18.86z" fill="#1c1c1c"/><rect x="819.8" y="600.6" width="17.86" height="17.86" fill="#444444" fill-opacity="0.75"/><rect x="824.06" y="600.6" width="13.6" height="13.6" fill="#050505" fill-opacity="0.8"/><polygon points="819.3,600.1 826.1,593.3 844.97,593.3 838.17,600.1" fill="#5a5a5a" fill-opacity="0.6"/><polygon points="838.17,600.1 844.97,593.3 844.97,612.17 838.17,618.97" fill="#2c2c2c" fill-opacity="0.5"/><polygon points="855.93,619.47 861.83,613.57 861.83,630.83 855.93,636.73" fill="#878484" stroke="#8f8c8c" stroke-width="0.9" stroke-linejoin="round"/><polygon points="838.67,619.47 844.57,613.57 861.83,613.57 855.93,619.47" fill="#bcb9b9" stroke="#8f8c8c" stroke-width="0.9" stroke-linejoin="round"/><rect x="838.67" y="619.47" width="17.26" height="17.26" rx="0" fill="#a6a3a3" stroke="#8f8c8c" stroke-width="0.9" /><polygon points="874.8,638.33 880.7,632.43 880.7,649.7 874.8,655.6" fill="#878484" stroke="#8f8c8c" stroke-width="0.9" stroke-linejoin="round"/><polygon points="857.53,638.33 863.43,632.43 880.7,632.43 874.8,638.33" fill="#bcb9b9" stroke="#8f8c8c" stroke-width="0.9" stroke-linejoin="round"/><rect x="857.53" y="638.33" width="17.26" height="17.26" rx="0" fill="#a6a3a3" stroke="#8f8c8c" stroke-width="0.9" /><polygon points="855.93,600.6 861.83,594.7 861.83,611.97 855.93,617.87" fill="#878484" stroke="#8f8c8c" stroke-width="0.9" stroke-linejoin="round"/><polygon points="838.67,600.6 844.57,594.7 861.83,594.7 855.93,600.6" fill="#bcb9b9" stroke="#8f8c8c" stroke-width="0.9" stroke-linejoin="round"/><rect x="838.67" y="600.6" width="17.26" height="17.26" rx="0" fill="#a6a3a3" stroke="#8f8c8c" stroke-width="0.9" /><polygon points="874.8,619.47 880.7,613.57 880.7,630.83 874.8,636.73" fill="#878484" stroke="#8f8c8c" stroke-width="0.9" stroke-linejoin="round"/><polygon points="857.53,619.47 863.43,613.57 880.7,613.57 874.8,619.47" fill="#bcb9b9" stroke="#8f8c8c" stroke-width="0.9" stroke-linejoin="round"/><rect x="857.53" y="619.47" width="17.26" height="17.26" rx="0" fill="#a6a3a3" stroke="#8f8c8c" stroke-width="0.9" /><polygon points="874.8,600.6 880.7,594.7 880.7,611.97 874.8,617.87" fill="#878484" stroke="#8f8c8c" stroke-width="0.9" stroke-linejoin="round"/><polygon points="857.53,600.6 863.43,594.7 880.7,594.7 874.8,600.6" fill="#bcb9b9" stroke="#8f8c8c" stroke-width="0.9" stroke-linejoin="round"/><rect x="857.53" y="600.6" width="17.26" height="17.26" rx="0" fill="#a6a3a3" stroke="#8f8c8c" stroke-width="0.9" /><path d="M812.5,644.63l6.8,-6.8h18.86v18.86l-6.8,6.8h-18.86z" fill="#1c1c1c"/><rect x="813" y="645.13" width="17.86" height="17.86" fill="#444444" fill-opacity="0.75"/><rect x="817.26" y="645.13" width="13.6" height="13.6" fill="#050505" fill-opacity="0.8"/><polygon points="812.5,644.63 819.3,637.83 838.17,637.83 831.37,644.63" fill="#5a5a5a" fill-opacity="0.6"/><polygon points="831.37,644.63 838.17,637.83 838.17,656.7 831.37,663.5" fill="#2c2c2c" fill-opacity="0.5"/><path d="M812.5,625.77l6.8,-6.8h18.86v18.86l-6.8,6.8h-18.86z" fill="#1c1c1c"/><rect x="813" y="626.27" width="17.86" height="17.86" fill="#444444" fill-opacity="0.75"/><rect x="817.26" y="626.27" width="13.6" height="13.6" fill="#050505" fill-opacity="0.8"/><polygon points="812.5,625.77 819.3,618.97 838.17,618.97 831.37,625.77" fill="#5a5a5a" fill-opacity="0.6"/><polygon points="831.37,625.77 838.17,618.97 838.17,637.83 831.37,644.63" fill="#2c2c2c" fill-opacity="0.5"/><path d="M831.37,644.63l6.8,-6.8h18.86v18.86l-6.8,6.8h-18.86z" fill="#1c1c1c"/><rect x="831.87" y="645.13" width="17.86" height="17.86" fill="#444444" fill-opacity="0.75"/><rect x="836.13" y="645.13" width="13.6" height="13.6" fill="#050505" fill-opacity="0.8"/><polygon points="831.37,644.63 838.17,637.83 857.03,637.83 850.23,644.63" fill="#5a5a5a" fill-opacity="0.6"/><polygon points="850.23,644.63 857.03,637.83 857.03,656.7 850.23,663.5" fill="#2c2c2c" fill-opacity="0.5"/><path d="M812.5,606.9l6.8,-6.8h18.86v18.86l-6.8,6.8h-18.86z" fill="#1c1c1c"/><rect x="813" y="607.4" width="17.86" height="17.86" fill="#444444" fill-opacity="0.75"/><rect x="817.26" y="607.4" width="13.6" height="13.6" fill="#050505" fill-opacity="0.8"/><polygon points="812.5,606.9 819.3,600.1 838.17,600.1 831.37,606.9" fill="#5a5a5a" fill-opacity="0.6"/><polygon points="831.37,606.9 838.17,600.1 838.17,618.97 831.37,625.77" fill="#2c2c2c" fill-opacity="0.5"/><path d="M831.37,625.77l6.8,-6.8h18.86v18.86l-6.8,6.8h-18.86z" fill="#1c1c1c"/><rect x="831.87" y="626.27" width="17.86" height="17.86" fill="#444444" fill-opacity="0.75"/><rect x="836.13" y="626.27" width="13.6" height="13.6" fill="#050505" fill-opacity="0.8"/><polygon points="831.37,625.77 838.17,618.97 857.03,618.97 850.23,625.77" fill="#5a5a5a" fill-opacity="0.6"/><polygon points="850.23,625.77 857.03,618.97 857.03,637.83 850.23,644.63" fill="#2c2c2c" fill-opacity="0.5"/><path d="M831.37,606.9l6.8,-6.8h18.86v18.86l-6.8,6.8h-18.86z" fill="#1c1c1c"/><rect x="831.87" y="607.4" width="17.86" height="17.86" fill="#444444" fill-opacity="0.75"/><rect x="836.13" y="607.4" width="13.6" height="13.6" fill="#050505" fill-opacity="0.8"/><polygon points="831.37,606.9 838.17,600.1 857.03,600.1 850.23,606.9" fill="#5a5a5a" fill-opacity="0.6"/><polygon points="850.23,606.9 857.03,600.1 857.03,618.97 850.23,625.77" fill="#2c2c2c" fill-opacity="0.5"/><clipPath id="bc9"><path d="M812.5,606.9h18.86v18.86h-18.86z M831.37,606.9h18.86v18.86h-18.86z M812.5,625.77h18.86v18.86h-18.86z M831.37,625.77h18.86v18.86h-18.86z M812.5,644.63h18.86v18.86h-18.86z M831.37,644.63h18.86v18.86h-18.86z M819.3,600.1h18.86v18.86h-18.86z M819.3,618.97h18.86v18.86h-18.86z M819.3,637.83h18.86v18.86h-18.86z M826.1,593.3h18.86v18.86h-18.86z M844.97,593.3h18.86v18.86h-18.86z M826.1,612.17h18.86v18.86h-18.86z M844.97,612.17h18.86v18.86h-18.86z M826.1,631.03h18.86v18.86h-18.86z M844.97,631.03h18.86v18.86h-18.86z"/></clipPath><g clip-path="url(#bc9)"><ellipse cx="842.84" cy="633.84" rx="15.28" ry="21.79" fill="url(#braingrad)" opacity="1.0" filter="url(#braintex)"/></g><path d="M826.7,631.63h17.66v17.66h-17.66z M826.7,631.63l6.2,-6.2h17.66v17.66l-6.2,6.2 M844.37,631.63l6.2,-6.2 M826.7,612.77h17.66v17.66h-17.66z M826.7,612.77l6.2,-6.2h17.66v17.66l-6.2,6.2 M844.37,612.77l6.2,-6.2 M845.57,631.63h17.66v17.66h-17.66z M845.57,631.63l6.2,-6.2h17.66v17.66l-6.2,6.2 M863.23,631.63l6.2,-6.2 M826.7,593.9h17.66v17.66h-17.66z M826.7,593.9l6.2,-6.2h17.66v17.66l-6.2,6.2 M844.37,593.9l6.2,-6.2 M845.57,612.77h17.66v17.66h-17.66z M845.57,612.77l6.2,-6.2h17.66v17.66l-6.2,6.2 M863.23,612.77l6.2,-6.2 M845.57,593.9h17.66v17.66h-17.66z M845.57,593.9l6.2,-6.2h17.66v17.66l-6.2,6.2 M863.23,593.9l6.2,-6.2 M819.9,638.43h17.66v17.66h-17.66z M819.9,638.43l6.2,-6.2h17.66v17.66l-6.2,6.2 M837.57,638.43l6.2,-6.2 M819.9,619.57h17.66v17.66h-17.66z M819.9,619.57l6.2,-6.2h17.66v17.66l-6.2,6.2 M837.57,619.57l6.2,-6.2 M819.9,600.7h17.66v17.66h-17.66z M819.9,600.7l6.2,-6.2h17.66v17.66l-6.2,6.2 M837.57,600.7l6.2,-6.2" fill="none" stroke="#a6d98a" stroke-width="0.8049999999999999" stroke-opacity="0.28"/><path d="M826.7,593.9l6.2,-6.2h17.66l-6.2,6.2z  M845.57,593.9l6.2,-6.2h17.66l-6.2,6.2z  M819.9,600.7l6.2,-6.2h17.66l-6.2,6.2z " fill="none" stroke="#a6d98a" stroke-width="1.15" stroke-linejoin="round"/><polygon points="868,645.13 873.9,639.23 873.9,656.5 868,662.4" fill="#878484" stroke="#8f8c8c" stroke-width="0.9" /><polygon points="850.73,645.13 856.63,639.23 873.9,639.23 868,645.13" fill="#bcb9b9" stroke="#8f8c8c" stroke-width="0.9" /><rect x="850.73" y="645.13" width="17.26" height="17.26" rx="0" fill="#a6a3a3" stroke="#8f8c8c" stroke-width="0.9" /><polygon points="868,626.27 873.9,620.37 873.9,637.63 868,643.53" fill="#878484" stroke="#8f8c8c" stroke-width="0.9" /><polygon points="850.73,626.27 856.63,620.37 873.9,620.37 868,626.27" fill="#bcb9b9" stroke="#8f8c8c" stroke-width="0.9" /><rect x="850.73" y="626.27" width="17.26" height="17.26" rx="0" fill="#a6a3a3" stroke="#8f8c8c" stroke-width="0.9" /><polygon points="868,607.4 873.9,601.5 873.9,618.77 868,624.67" fill="#878484" stroke="#8f8c8c" stroke-width="0.9" /><polygon points="850.73,607.4 856.63,601.5 873.9,601.5 868,607.4" fill="#bcb9b9" stroke="#8f8c8c" stroke-width="0.9" /><rect x="850.73" y="607.4" width="17.26" height="17.26" rx="0" fill="#a6a3a3" stroke="#8f8c8c" stroke-width="0.9" /><path d="M813.1,645.24h17.66v17.66h-17.66z M813.1,645.24l6.2,-6.2h17.66v17.66l-6.2,6.2 M830.76,645.24l6.2,-6.2 M813.1,626.37h17.66v17.66h-17.66z M813.1,626.37l6.2,-6.2h17.66v17.66l-6.2,6.2 M830.76,626.37l6.2,-6.2 M831.97,645.24h17.66v17.66h-17.66z M831.97,645.24l6.2,-6.2h17.66v17.66l-6.2,6.2 M849.63,645.24l6.2,-6.2 M813.1,607.5h17.66v17.66h-17.66z M813.1,607.5l6.2,-6.2h17.66v17.66l-6.2,6.2 M830.76,607.5l6.2,-6.2 M831.97,626.37h17.66v17.66h-17.66z M831.97,626.37l6.2,-6.2h17.66v17.66l-6.2,6.2 M849.63,626.37l6.2,-6.2 M831.97,607.5h17.66v17.66h-17.66z M831.97,607.5l6.2,-6.2h17.66v17.66l-6.2,6.2 M849.63,607.5l6.2,-6.2" fill="none" stroke="#a6d98a" stroke-width="1.15" stroke-linejoin="round"/>
<g filter="url(#glow)"><polygon points="975.5,516.9 995.9,496.5 1052.5,496.5 1052.5,553.1 1032.1,573.5 975.5,573.5" fill="#1a8ae6" stroke="#1a8ae6" stroke-width="8" /></g><path d="M989.1,541.03l6.8,-6.8h18.86v18.86l-6.8,6.8h-18.86z" fill="#0e1d2b"/><rect x="989.6" y="541.53" width="17.86" height="17.86" fill="#23405c" fill-opacity="0.75"/><rect x="993.86" y="541.53" width="13.6" height="13.6" fill="#050d16" fill-opacity="0.8"/><polygon points="989.1,541.03 995.9,534.23 1014.77,534.23 1007.97,541.03" fill="#33506c" fill-opacity="0.6"/><polygon points="1007.97,541.03 1014.77,534.23 1014.77,553.1 1007.97,559.9" fill="#1b3247" fill-opacity="0.5"/><path d="M989.1,522.17l6.8,-6.8h18.86v18.86l-6.8,6.8h-18.86z" fill="#0e1d2b"/><rect x="989.6" y="522.67" width="17.86" height="17.86" fill="#23405c" fill-opacity="0.75"/><rect x="993.86" y="522.67" width="13.6" height="13.6" fill="#050d16" fill-opacity="0.8"/><polygon points="989.1,522.17 995.9,515.37 1014.77,515.37 1007.97,522.17" fill="#33506c" fill-opacity="0.6"/><polygon points="1007.97,522.17 1014.77,515.37 1014.77,534.23 1007.97,541.03" fill="#1b3247" fill-opacity="0.5"/><path d="M1007.97,541.03l6.8,-6.8h18.86v18.86l-6.8,6.8h-18.86z" fill="#0e1d2b"/><rect x="1008.47" y="541.53" width="17.86" height="17.86" fill="#23405c" fill-opacity="0.75"/><rect x="1012.73" y="541.53" width="13.6" height="13.6" fill="#050d16" fill-opacity="0.8"/><polygon points="1007.97,541.03 1014.77,534.23 1033.63,534.23 1026.83,541.03" fill="#33506c" fill-opacity="0.6"/><polygon points="1026.83,541.03 1033.63,534.23 1033.63,553.1 1026.83,559.9" fill="#1b3247" fill-opacity="0.5"/><path d="M989.1,503.3l6.8,-6.8h18.86v18.86l-6.8,6.8h-18.86z" fill="#0e1d2b"/><rect x="989.6" y="503.8" width="17.86" height="17.86" fill="#23405c" fill-opacity="0.75"/><rect x="993.86" y="503.8" width="13.6" height="13.6" fill="#050d16" fill-opacity="0.8"/><polygon points="989.1,503.3 995.9,496.5 1014.77,496.5 1007.97,503.3" fill="#33506c" fill-opacity="0.6"/><polygon points="1007.97,503.3 1014.77,496.5 1014.77,515.37 1007.97,522.17" fill="#1b3247" fill-opacity="0.5"/><path d="M1007.97,522.17l6.8,-6.8h18.86v18.86l-6.8,6.8h-18.86z" fill="#0e1d2b"/><rect x="1008.47" y="522.67" width="17.86" height="17.86" fill="#23405c" fill-opacity="0.75"/><rect x="1012.73" y="522.67" width="13.6" height="13.6" fill="#050d16" fill-opacity="0.8"/><polygon points="1007.97,522.17 1014.77,515.37 1033.63,515.37 1026.83,522.17" fill="#33506c" fill-opacity="0.6"/><polygon points="1026.83,522.17 1033.63,515.37 1033.63,534.23 1026.83,541.03" fill="#1b3247" fill-opacity="0.5"/><path d="M1026.83,541.03l6.8,-6.8h18.86v18.86l-6.8,6.8h-18.86z" fill="#0e1d2b"/><rect x="1027.33" y="541.53" width="17.86" height="17.86" fill="#23405c" fill-opacity="0.75"/><rect x="1031.59" y="541.53" width="13.6" height="13.6" fill="#050d16" fill-opacity="0.8"/><polygon points="1026.83,541.03 1033.63,534.23 1052.5,534.23 1045.7,541.03" fill="#33506c" fill-opacity="0.6"/><polygon points="1045.7,541.03 1052.5,534.23 1052.5,553.1 1045.7,559.9" fill="#1b3247" fill-opacity="0.5"/><path d="M1007.97,503.3l6.8,-6.8h18.86v18.86l-6.8,6.8h-18.86z" fill="#0e1d2b"/><rect x="1008.47" y="503.8" width="17.86" height="17.86" fill="#23405c" fill-opacity="0.75"/><rect x="1012.73" y="503.8" width="13.6" height="13.6" fill="#050d16" fill-opacity="0.8"/><polygon points="1007.97,503.3 1014.77,496.5 1033.63,496.5 1026.83,503.3" fill="#33506c" fill-opacity="0.6"/><polygon points="1026.83,503.3 1033.63,496.5 1033.63,515.37 1026.83,522.17" fill="#1b3247" fill-opacity="0.5"/><path d="M1026.83,522.17l6.8,-6.8h18.86v18.86l-6.8,6.8h-18.86z" fill="#0e1d2b"/><rect x="1027.33" y="522.67" width="17.86" height="17.86" fill="#23405c" fill-opacity="0.75"/><rect x="1031.59" y="522.67" width="13.6" height="13.6" fill="#050d16" fill-opacity="0.8"/><polygon points="1026.83,522.17 1033.63,515.37 1052.5,515.37 1045.7,522.17" fill="#33506c" fill-opacity="0.6"/><polygon points="1045.7,522.17 1052.5,515.37 1052.5,534.23 1045.7,541.03" fill="#1b3247" fill-opacity="0.5"/><path d="M1026.83,503.3l6.8,-6.8h18.86v18.86l-6.8,6.8h-18.86z" fill="#0e1d2b"/><rect x="1027.33" y="503.8" width="17.86" height="17.86" fill="#23405c" fill-opacity="0.75"/><rect x="1031.59" y="503.8" width="13.6" height="13.6" fill="#050d16" fill-opacity="0.8"/><polygon points="1026.83,503.3 1033.63,496.5 1052.5,496.5 1045.7,503.3" fill="#33506c" fill-opacity="0.6"/><polygon points="1045.7,503.3 1052.5,496.5 1052.5,515.37 1045.7,522.17" fill="#1b3247" fill-opacity="0.5"/><path d="M982.3,547.83l6.8,-6.8h18.86v18.86l-6.8,6.8h-18.86z" fill="#0e1d2b"/><rect x="982.8" y="548.33" width="17.86" height="17.86" fill="#23405c" fill-opacity="0.75"/><rect x="987.06" y="548.33" width="13.6" height="13.6" fill="#050d16" fill-opacity="0.8"/><polygon points="982.3,547.83 989.1,541.03 1007.97,541.03 1001.17,547.83" fill="#33506c" fill-opacity="0.6"/><polygon points="1001.17,547.83 1007.97,541.03 1007.97,559.9 1001.17,566.7" fill="#1b3247" fill-opacity="0.5"/><path d="M982.3,528.97l6.8,-6.8h18.86v18.86l-6.8,6.8h-18.86z" fill="#0e1d2b"/><rect x="982.8" y="529.47" width="17.86" height="17.86" fill="#23405c" fill-opacity="0.75"/><rect x="987.06" y="529.47" width="13.6" height="13.6" fill="#050d16" fill-opacity="0.8"/><polygon points="982.3,528.97 989.1,522.17 1007.97,522.17 1001.17,528.97" fill="#33506c" fill-opacity="0.6"/><polygon points="1001.17,528.97 1007.97,522.17 1007.97,541.03 1001.17,547.83" fill="#1b3247" fill-opacity="0.5"/><path d="M1001.17,547.83l6.8,-6.8h18.86v18.86l-6.8,6.8h-18.86z" fill="#0e1d2b"/><rect x="1001.67" y="548.33" width="17.86" height="17.86" fill="#23405c" fill-opacity="0.75"/><rect x="1005.93" y="548.33" width="13.6" height="13.6" fill="#050d16" fill-opacity="0.8"/><polygon points="1001.17,547.83 1007.97,541.03 1026.83,541.03 1020.03,547.83" fill="#33506c" fill-opacity="0.6"/><polygon points="1020.03,547.83 1026.83,541.03 1026.83,559.9 1020.03,566.7" fill="#1b3247" fill-opacity="0.5"/><path d="M982.3,510.1l6.8,-6.8h18.86v18.86l-6.8,6.8h-18.86z" fill="#0e1d2b"/><rect x="982.8" y="510.6" width="17.86" height="17.86" fill="#23405c" fill-opacity="0.75"/><rect x="987.06" y="510.6" width="13.6" height="13.6" fill="#050d16" fill-opacity="0.8"/><polygon points="982.3,510.1 989.1,503.3 1007.97,503.3 1001.17,510.1" fill="#33506c" fill-opacity="0.6"/><polygon points="1001.17,510.1 1007.97,503.3 1007.97,522.17 1001.17,528.97" fill="#1b3247" fill-opacity="0.5"/><path d="M1001.17,528.97l6.8,-6.8h18.86v18.86l-6.8,6.8h-18.86z" fill="#0e1d2b"/><rect x="1001.67" y="529.47" width="17.86" height="17.86" fill="#23405c" fill-opacity="0.75"/><rect x="1005.93" y="529.47" width="13.6" height="13.6" fill="#050d16" fill-opacity="0.8"/><polygon points="1001.17,528.97 1007.97,522.17 1026.83,522.17 1020.03,528.97" fill="#33506c" fill-opacity="0.6"/><polygon points="1020.03,528.97 1026.83,522.17 1026.83,541.03 1020.03,547.83" fill="#1b3247" fill-opacity="0.5"/><path d="M1020.03,547.83l6.8,-6.8h18.86v18.86l-6.8,6.8h-18.86z" fill="#0e1d2b"/><rect x="1020.53" y="548.33" width="17.86" height="17.86" fill="#23405c" fill-opacity="0.75"/><rect x="1024.79" y="548.33" width="13.6" height="13.6" fill="#050d16" fill-opacity="0.8"/><polygon points="1020.03,547.83 1026.83,541.03 1045.7,541.03 1038.9,547.83" fill="#33506c" fill-opacity="0.6"/><polygon points="1038.9,547.83 1045.7,541.03 1045.7,559.9 1038.9,566.7" fill="#1b3247" fill-opacity="0.5"/><path d="M1001.17,510.1l6.8,-6.8h18.86v18.86l-6.8,6.8h-18.86z" fill="#0e1d2b"/><rect x="1001.67" y="510.6" width="17.86" height="17.86" fill="#23405c" fill-opacity="0.75"/><rect x="1005.93" y="510.6" width="13.6" height="13.6" fill="#050d16" fill-opacity="0.8"/><polygon points="1001.17,510.1 1007.97,503.3 1026.83,503.3 1020.03,510.1" fill="#33506c" fill-opacity="0.6"/><polygon points="1020.03,510.1 1026.83,503.3 1026.83,522.17 1020.03,528.97" fill="#1b3247" fill-opacity="0.5"/><path d="M1020.03,528.97l6.8,-6.8h18.86v18.86l-6.8,6.8h-18.86z" fill="#0e1d2b"/><rect x="1020.53" y="529.47" width="17.86" height="17.86" fill="#23405c" fill-opacity="0.75"/><rect x="1024.79" y="529.47" width="13.6" height="13.6" fill="#050d16" fill-opacity="0.8"/><polygon points="1020.03,528.97 1026.83,522.17 1045.7,522.17 1038.9,528.97" fill="#33506c" fill-opacity="0.6"/><polygon points="1038.9,528.97 1045.7,522.17 1045.7,541.03 1038.9,547.83" fill="#1b3247" fill-opacity="0.5"/><path d="M1020.03,510.1l6.8,-6.8h18.86v18.86l-6.8,6.8h-18.86z" fill="#0e1d2b"/><rect x="1020.53" y="510.6" width="17.86" height="17.86" fill="#23405c" fill-opacity="0.75"/><rect x="1024.79" y="510.6" width="13.6" height="13.6" fill="#050d16" fill-opacity="0.8"/><polygon points="1020.03,510.1 1026.83,503.3 1045.7,503.3 1038.9,510.1" fill="#33506c" fill-opacity="0.6"/><polygon points="1038.9,510.1 1045.7,503.3 1045.7,522.17 1038.9,528.97" fill="#1b3247" fill-opacity="0.5"/><path d="M975.5,554.63l6.8,-6.8h18.86v18.86l-6.8,6.8h-18.86z" fill="#0e1d2b"/><rect x="976" y="555.13" width="17.86" height="17.86" fill="#23405c" fill-opacity="0.75"/><rect x="980.26" y="555.13" width="13.6" height="13.6" fill="#050d16" fill-opacity="0.8"/><polygon points="975.5,554.63 982.3,547.83 1001.17,547.83 994.37,554.63" fill="#33506c" fill-opacity="0.6"/><polygon points="994.37,554.63 1001.17,547.83 1001.17,566.7 994.37,573.5" fill="#1b3247" fill-opacity="0.5"/><path d="M975.5,535.77l6.8,-6.8h18.86v18.86l-6.8,6.8h-18.86z" fill="#0e1d2b"/><rect x="976" y="536.27" width="17.86" height="17.86" fill="#23405c" fill-opacity="0.75"/><rect x="980.26" y="536.27" width="13.6" height="13.6" fill="#050d16" fill-opacity="0.8"/><polygon points="975.5,535.77 982.3,528.97 1001.17,528.97 994.37,535.77" fill="#33506c" fill-opacity="0.6"/><polygon points="994.37,535.77 1001.17,528.97 1001.17,547.83 994.37,554.63" fill="#1b3247" fill-opacity="0.5"/><path d="M994.37,554.63l6.8,-6.8h18.86v18.86l-6.8,6.8h-18.86z" fill="#0e1d2b"/><rect x="994.87" y="555.13" width="17.86" height="17.86" fill="#23405c" fill-opacity="0.75"/><rect x="999.13" y="555.13" width="13.6" height="13.6" fill="#050d16" fill-opacity="0.8"/><polygon points="994.37,554.63 1001.17,547.83 1020.03,547.83 1013.23,554.63" fill="#33506c" fill-opacity="0.6"/><polygon points="1013.23,554.63 1020.03,547.83 1020.03,566.7 1013.23,573.5" fill="#1b3247" fill-opacity="0.5"/><path d="M975.5,516.9l6.8,-6.8h18.86v18.86l-6.8,6.8h-18.86z" fill="#0e1d2b"/><rect x="976" y="517.4" width="17.86" height="17.86" fill="#23405c" fill-opacity="0.75"/><rect x="980.26" y="517.4" width="13.6" height="13.6" fill="#050d16" fill-opacity="0.8"/><polygon points="975.5,516.9 982.3,510.1 1001.17,510.1 994.37,516.9" fill="#33506c" fill-opacity="0.6"/><polygon points="994.37,516.9 1001.17,510.1 1001.17,528.97 994.37,535.77" fill="#1b3247" fill-opacity="0.5"/><path d="M994.37,535.77l6.8,-6.8h18.86v18.86l-6.8,6.8h-18.86z" fill="#0e1d2b"/><rect x="994.87" y="536.27" width="17.86" height="17.86" fill="#23405c" fill-opacity="0.75"/><rect x="999.13" y="536.27" width="13.6" height="13.6" fill="#050d16" fill-opacity="0.8"/><polygon points="994.37,535.77 1001.17,528.97 1020.03,528.97 1013.23,535.77" fill="#33506c" fill-opacity="0.6"/><polygon points="1013.23,535.77 1020.03,528.97 1020.03,547.83 1013.23,554.63" fill="#1b3247" fill-opacity="0.5"/><path d="M1013.23,554.63l6.8,-6.8h18.86v18.86l-6.8,6.8h-18.86z" fill="#0e1d2b"/><rect x="1013.73" y="555.13" width="17.86" height="17.86" fill="#23405c" fill-opacity="0.75"/><rect x="1017.99" y="555.13" width="13.6" height="13.6" fill="#050d16" fill-opacity="0.8"/><polygon points="1013.23,554.63 1020.03,547.83 1038.9,547.83 1032.1,554.63" fill="#33506c" fill-opacity="0.6"/><polygon points="1032.1,554.63 1038.9,547.83 1038.9,566.7 1032.1,573.5" fill="#1b3247" fill-opacity="0.5"/><path d="M994.37,516.9l6.8,-6.8h18.86v18.86l-6.8,6.8h-18.86z" fill="#0e1d2b"/><rect x="994.87" y="517.4" width="17.86" height="17.86" fill="#23405c" fill-opacity="0.75"/><rect x="999.13" y="517.4" width="13.6" height="13.6" fill="#050d16" fill-opacity="0.8"/><polygon points="994.37,516.9 1001.17,510.1 1020.03,510.1 1013.23,516.9" fill="#33506c" fill-opacity="0.6"/><polygon points="1013.23,516.9 1020.03,510.1 1020.03,528.97 1013.23,535.77" fill="#1b3247" fill-opacity="0.5"/><path d="M1013.23,535.77l6.8,-6.8h18.86v18.86l-6.8,6.8h-18.86z" fill="#0e1d2b"/><rect x="1013.73" y="536.27" width="17.86" height="17.86" fill="#23405c" fill-opacity="0.75"/><rect x="1017.99" y="536.27" width="13.6" height="13.6" fill="#050d16" fill-opacity="0.8"/><polygon points="1013.23,535.77 1020.03,528.97 1038.9,528.97 1032.1,535.77" fill="#33506c" fill-opacity="0.6"/><polygon points="1032.1,535.77 1038.9,528.97 1038.9,547.83 1032.1,554.63" fill="#1b3247" fill-opacity="0.5"/><path d="M1013.23,516.9l6.8,-6.8h18.86v18.86l-6.8,6.8h-18.86z" fill="#0e1d2b"/><rect x="1013.73" y="517.4" width="17.86" height="17.86" fill="#23405c" fill-opacity="0.75"/><rect x="1017.99" y="517.4" width="13.6" height="13.6" fill="#050d16" fill-opacity="0.8"/><polygon points="1013.23,516.9 1020.03,510.1 1038.9,510.1 1032.1,516.9" fill="#33506c" fill-opacity="0.6"/><polygon points="1032.1,516.9 1038.9,510.1 1038.9,528.97 1032.1,535.77" fill="#1b3247" fill-opacity="0.5"/><clipPath id="bc10"><path d="M975.5,516.9h18.86v18.86h-18.86z M994.37,516.9h18.86v18.86h-18.86z M1013.23,516.9h18.86v18.86h-18.86z M975.5,535.77h18.86v18.86h-18.86z M994.37,535.77h18.86v18.86h-18.86z M1013.23,535.77h18.86v18.86h-18.86z M975.5,554.63h18.86v18.86h-18.86z M994.37,554.63h18.86v18.86h-18.86z M1013.23,554.63h18.86v18.86h-18.86z M982.3,510.1h18.86v18.86h-18.86z M1001.17,510.1h18.86v18.86h-18.86z M1020.03,510.1h18.86v18.86h-18.86z M982.3,528.97h18.86v18.86h-18.86z M1001.17,528.97h18.86v18.86h-18.86z M1020.03,528.97h18.86v18.86h-18.86z M982.3,547.83h18.86v18.86h-18.86z M1001.17,547.83h18.86v18.86h-18.86z M1020.03,547.83h18.86v18.86h-18.86z M989.1,503.3h18.86v18.86h-18.86z M1007.97,503.3h18.86v18.86h-18.86z M1026.83,503.3h18.86v18.86h-18.86z M989.1,522.17h18.86v18.86h-18.86z M1007.97,522.17h18.86v18.86h-18.86z M1026.83,522.17h18.86v18.86h-18.86z M989.1,541.03h18.86v18.86h-18.86z M1007.97,541.03h18.86v18.86h-18.86z M1026.83,541.03h18.86v18.86h-18.86z"/></clipPath><g clip-path="url(#bc10)"><ellipse cx="1005.84" cy="543.84" rx="15.28" ry="21.79" fill="url(#braingrad)" opacity="1.0" filter="url(#braintex)"/><ellipse cx="1005.84" cy="543.84" rx="15.28" ry="21.79" fill="#4a9ae0" opacity="0.3"/></g><path d="M989.7,541.63h17.66v17.66h-17.66z M989.7,541.63l6.2,-6.2h17.66v17.66l-6.2,6.2 M1007.37,541.63l6.2,-6.2 M989.7,522.77h17.66v17.66h-17.66z M989.7,522.77l6.2,-6.2h17.66v17.66l-6.2,6.2 M1007.37,522.77l6.2,-6.2 M1008.57,541.63h17.66v17.66h-17.66z M1008.57,541.63l6.2,-6.2h17.66v17.66l-6.2,6.2 M1026.23,541.63l6.2,-6.2 M989.7,503.9h17.66v17.66h-17.66z M989.7,503.9l6.2,-6.2h17.66v17.66l-6.2,6.2 M1007.37,503.9l6.2,-6.2 M1008.57,522.77h17.66v17.66h-17.66z M1008.57,522.77l6.2,-6.2h17.66v17.66l-6.2,6.2 M1026.23,522.77l6.2,-6.2 M1027.43,541.63h17.66v17.66h-17.66z M1027.43,541.63l6.2,-6.2h17.66v17.66l-6.2,6.2 M1045.1,541.63l6.2,-6.2 M1008.57,503.9h17.66v17.66h-17.66z M1008.57,503.9l6.2,-6.2h17.66v17.66l-6.2,6.2 M1026.23,503.9l6.2,-6.2 M1027.43,522.77h17.66v17.66h-17.66z M1027.43,522.77l6.2,-6.2h17.66v17.66l-6.2,6.2 M1045.1,522.77l6.2,-6.2 M1027.43,503.9h17.66v17.66h-17.66z M1027.43,503.9l6.2,-6.2h17.66v17.66l-6.2,6.2 M1045.1,503.9l6.2,-6.2 M982.9,548.43h17.66v17.66h-17.66z M982.9,548.43l6.2,-6.2h17.66v17.66l-6.2,6.2 M1000.57,548.43l6.2,-6.2 M982.9,529.57h17.66v17.66h-17.66z M982.9,529.57l6.2,-6.2h17.66v17.66l-6.2,6.2 M1000.57,529.57l6.2,-6.2 M1001.77,548.43h17.66v17.66h-17.66z M1001.77,548.43l6.2,-6.2h17.66v17.66l-6.2,6.2 M1019.43,548.43l6.2,-6.2 M982.9,510.7h17.66v17.66h-17.66z M982.9,510.7l6.2,-6.2h17.66v17.66l-6.2,6.2 M1000.57,510.7l6.2,-6.2 M1001.77,529.57h17.66v17.66h-17.66z M1001.77,529.57l6.2,-6.2h17.66v17.66l-6.2,6.2 M1019.43,529.57l6.2,-6.2 M1020.63,548.43h17.66v17.66h-17.66z M1020.63,548.43l6.2,-6.2h17.66v17.66l-6.2,6.2 M1038.3,548.43l6.2,-6.2 M1001.77,510.7h17.66v17.66h-17.66z M1001.77,510.7l6.2,-6.2h17.66v17.66l-6.2,6.2 M1019.43,510.7l6.2,-6.2 M1020.63,529.57h17.66v17.66h-17.66z M1020.63,529.57l6.2,-6.2h17.66v17.66l-6.2,6.2 M1038.3,529.57l6.2,-6.2 M1020.63,510.7h17.66v17.66h-17.66z M1020.63,510.7l6.2,-6.2h17.66v17.66l-6.2,6.2 M1038.3,510.7l6.2,-6.2" fill="none" stroke="#2a90e8" stroke-width="0.8049999999999999" stroke-opacity="0.28"/><path d="M989.7,503.9l6.2,-6.2h17.66l-6.2,6.2z  M1045.1,541.63l6.2,-6.2v17.66l-6.2,6.2z  M1008.57,503.9l6.2,-6.2h17.66l-6.2,6.2z  M1045.1,522.77l6.2,-6.2v17.66l-6.2,6.2z  M1027.43,503.9l6.2,-6.2h17.66l-6.2,6.2z M1045.1,503.9l6.2,-6.2v17.66l-6.2,6.2z  M982.9,510.7l6.2,-6.2h17.66l-6.2,6.2z  M1038.3,548.43l6.2,-6.2v17.66l-6.2,6.2z  M1001.77,510.7l6.2,-6.2h17.66l-6.2,6.2z  M1038.3,529.57l6.2,-6.2v17.66l-6.2,6.2z  M1020.63,510.7l6.2,-6.2h17.66l-6.2,6.2z M1038.3,510.7l6.2,-6.2v17.66l-6.2,6.2z " fill="none" stroke="#2a90e8" stroke-width="1.15" stroke-linejoin="round"/><path d="M976.1,555.24h17.66v17.66h-17.66z M976.1,555.24l6.2,-6.2h17.66v17.66l-6.2,6.2 M993.76,555.24l6.2,-6.2 M976.1,536.37h17.66v17.66h-17.66z M976.1,536.37l6.2,-6.2h17.66v17.66l-6.2,6.2 M993.76,536.37l6.2,-6.2 M994.97,555.24h17.66v17.66h-17.66z M994.97,555.24l6.2,-6.2h17.66v17.66l-6.2,6.2 M1012.63,555.24l6.2,-6.2 M976.1,517.5h17.66v17.66h-17.66z M976.1,517.5l6.2,-6.2h17.66v17.66l-6.2,6.2 M993.76,517.5l6.2,-6.2 M994.97,536.37h17.66v17.66h-17.66z M994.97,536.37l6.2,-6.2h17.66v17.66l-6.2,6.2 M1012.63,536.37l6.2,-6.2 M1013.83,555.24h17.66v17.66h-17.66z M1013.83,555.24l6.2,-6.2h17.66v17.66l-6.2,6.2 M1031.5,555.24l6.2,-6.2 M994.97,517.5h17.66v17.66h-17.66z M994.97,517.5l6.2,-6.2h17.66v17.66l-6.2,6.2 M1012.63,517.5l6.2,-6.2 M1013.83,536.37h17.66v17.66h-17.66z M1013.83,536.37l6.2,-6.2h17.66v17.66l-6.2,6.2 M1031.5,536.37l6.2,-6.2 M1013.83,517.5h17.66v17.66h-17.66z M1013.83,517.5l6.2,-6.2h17.66v17.66l-6.2,6.2 M1031.5,517.5l6.2,-6.2" fill="none" stroke="#2a90e8" stroke-width="1.15" stroke-linejoin="round"/>
<g filter="url(#glow)"><polygon points="1012.73,659.5 1012.73,602.9 1033.13,582.5 1052,582.5 1052,639.1 1031.6,659.5" fill="#5aa836" stroke="#5aa836" stroke-width="8" /></g><path d="M988.6,627.03l6.8,-6.8h18.86v18.86l-6.8,6.8h-18.86z" fill="#1c1c1c"/><rect x="989.1" y="627.53" width="17.86" height="17.86" fill="#444444" fill-opacity="0.75"/><rect x="993.36" y="627.53" width="13.6" height="13.6" fill="#050505" fill-opacity="0.8"/><polygon points="988.6,627.03 995.4,620.23 1014.27,620.23 1007.47,627.03" fill="#5a5a5a" fill-opacity="0.6"/><polygon points="1007.47,627.03 1014.27,620.23 1014.27,639.1 1007.47,645.9" fill="#2c2c2c" fill-opacity="0.5"/><path d="M988.6,608.17l6.8,-6.8h18.86v18.86l-6.8,6.8h-18.86z" fill="#1c1c1c"/><rect x="989.1" y="608.67" width="17.86" height="17.86" fill="#444444" fill-opacity="0.75"/><rect x="993.36" y="608.67" width="13.6" height="13.6" fill="#050505" fill-opacity="0.8"/><polygon points="988.6,608.17 995.4,601.37 1014.27,601.37 1007.47,608.17" fill="#5a5a5a" fill-opacity="0.6"/><polygon points="1007.47,608.17 1014.27,601.37 1014.27,620.23 1007.47,627.03" fill="#2c2c2c" fill-opacity="0.5"/><path d="M1007.47,627.03l6.8,-6.8h18.86v18.86l-6.8,6.8h-18.86z" fill="#1c1c1c"/><rect x="1007.97" y="627.53" width="17.86" height="17.86" fill="#444444" fill-opacity="0.75"/><rect x="1012.23" y="627.53" width="13.6" height="13.6" fill="#050505" fill-opacity="0.8"/><polygon points="1007.47,627.03 1014.27,620.23 1033.13,620.23 1026.33,627.03" fill="#5a5a5a" fill-opacity="0.6"/><polygon points="1026.33,627.03 1033.13,620.23 1033.13,639.1 1026.33,645.9" fill="#2c2c2c" fill-opacity="0.5"/><path d="M988.6,589.3l6.8,-6.8h18.86v18.86l-6.8,6.8h-18.86z" fill="#1c1c1c"/><rect x="989.1" y="589.8" width="17.86" height="17.86" fill="#444444" fill-opacity="0.75"/><rect x="993.36" y="589.8" width="13.6" height="13.6" fill="#050505" fill-opacity="0.8"/><polygon points="988.6,589.3 995.4,582.5 1014.27,582.5 1007.47,589.3" fill="#5a5a5a" fill-opacity="0.6"/><polygon points="1007.47,589.3 1014.27,582.5 1014.27,601.37 1007.47,608.17" fill="#2c2c2c" fill-opacity="0.5"/><path d="M1007.47,608.17l6.8,-6.8h18.86v18.86l-6.8,6.8h-18.86z" fill="#1c1c1c"/><rect x="1007.97" y="608.67" width="17.86" height="17.86" fill="#444444" fill-opacity="0.75"/><rect x="1012.23" y="608.67" width="13.6" height="13.6" fill="#050505" fill-opacity="0.8"/><polygon points="1007.47,608.17 1014.27,601.37 1033.13,601.37 1026.33,608.17" fill="#5a5a5a" fill-opacity="0.6"/><polygon points="1026.33,608.17 1033.13,601.37 1033.13,620.23 1026.33,627.03" fill="#2c2c2c" fill-opacity="0.5"/><path d="M1026.33,627.03l6.8,-6.8h18.86v18.86l-6.8,6.8h-18.86z" fill="#0e1f0e"/><rect x="1026.83" y="627.53" width="17.86" height="17.86" fill="#25472a" fill-opacity="0.75"/><rect x="1031.09" y="627.53" width="13.6" height="13.6" fill="#061206" fill-opacity="0.8"/><polygon points="1026.33,627.03 1033.13,620.23 1052,620.23 1045.2,627.03" fill="#3b5a3b" fill-opacity="0.6"/><polygon points="1045.2,627.03 1052,620.23 1052,639.1 1045.2,645.9" fill="#1f3a1f" fill-opacity="0.5"/><path d="M1007.47,589.3l6.8,-6.8h18.86v18.86l-6.8,6.8h-18.86z" fill="#1c1c1c"/><rect x="1007.97" y="589.8" width="17.86" height="17.86" fill="#444444" fill-opacity="0.75"/><rect x="1012.23" y="589.8" width="13.6" height="13.6" fill="#050505" fill-opacity="0.8"/><polygon points="1007.47,589.3 1014.27,582.5 1033.13,582.5 1026.33,589.3" fill="#5a5a5a" fill-opacity="0.6"/><polygon points="1026.33,589.3 1033.13,582.5 1033.13,601.37 1026.33,608.17" fill="#2c2c2c" fill-opacity="0.5"/><path d="M1026.33,608.17l6.8,-6.8h18.86v18.86l-6.8,6.8h-18.86z" fill="#0e1f0e"/><rect x="1026.83" y="608.67" width="17.86" height="17.86" fill="#25472a" fill-opacity="0.75"/><rect x="1031.09" y="608.67" width="13.6" height="13.6" fill="#061206" fill-opacity="0.8"/><polygon points="1026.33,608.17 1033.13,601.37 1052,601.37 1045.2,608.17" fill="#3b5a3b" fill-opacity="0.6"/><polygon points="1045.2,608.17 1052,601.37 1052,620.23 1045.2,627.03" fill="#1f3a1f" fill-opacity="0.5"/><path d="M1026.33,589.3l6.8,-6.8h18.86v18.86l-6.8,6.8h-18.86z" fill="#0e1f0e"/><rect x="1026.83" y="589.8" width="17.86" height="17.86" fill="#25472a" fill-opacity="0.75"/><rect x="1031.09" y="589.8" width="13.6" height="13.6" fill="#061206" fill-opacity="0.8"/><polygon points="1026.33,589.3 1033.13,582.5 1052,582.5 1045.2,589.3" fill="#3b5a3b" fill-opacity="0.6"/><polygon points="1045.2,589.3 1052,582.5 1052,601.37 1045.2,608.17" fill="#1f3a1f" fill-opacity="0.5"/><path d="M981.8,633.83l6.8,-6.8h18.86v18.86l-6.8,6.8h-18.86z" fill="#1c1c1c"/><rect x="982.3" y="634.33" width="17.86" height="17.86" fill="#444444" fill-opacity="0.75"/><rect x="986.56" y="634.33" width="13.6" height="13.6" fill="#050505" fill-opacity="0.8"/><polygon points="981.8,633.83 988.6,627.03 1007.47,627.03 1000.67,633.83" fill="#5a5a5a" fill-opacity="0.6"/><polygon points="1000.67,633.83 1007.47,627.03 1007.47,645.9 1000.67,652.7" fill="#2c2c2c" fill-opacity="0.5"/><path d="M981.8,614.97l6.8,-6.8h18.86v18.86l-6.8,6.8h-18.86z" fill="#1c1c1c"/><rect x="982.3" y="615.47" width="17.86" height="17.86" fill="#444444" fill-opacity="0.75"/><rect x="986.56" y="615.47" width="13.6" height="13.6" fill="#050505" fill-opacity="0.8"/><polygon points="981.8,614.97 988.6,608.17 1007.47,608.17 1000.67,614.97" fill="#5a5a5a" fill-opacity="0.6"/><polygon points="1000.67,614.97 1007.47,608.17 1007.47,627.03 1000.67,633.83" fill="#2c2c2c" fill-opacity="0.5"/><path d="M1000.67,633.83l6.8,-6.8h18.86v18.86l-6.8,6.8h-18.86z" fill="#1c1c1c"/><rect x="1001.17" y="634.33" width="17.86" height="17.86" fill="#444444" fill-opacity="0.75"/><rect x="1005.43" y="634.33" width="13.6" height="13.6" fill="#050505" fill-opacity="0.8"/><polygon points="1000.67,633.83 1007.47,627.03 1026.33,627.03 1019.53,633.83" fill="#5a5a5a" fill-opacity="0.6"/><polygon points="1019.53,633.83 1026.33,627.03 1026.33,645.9 1019.53,652.7" fill="#2c2c2c" fill-opacity="0.5"/><path d="M981.8,596.1l6.8,-6.8h18.86v18.86l-6.8,6.8h-18.86z" fill="#1c1c1c"/><rect x="982.3" y="596.6" width="17.86" height="17.86" fill="#444444" fill-opacity="0.75"/><rect x="986.56" y="596.6" width="13.6" height="13.6" fill="#050505" fill-opacity="0.8"/><polygon points="981.8,596.1 988.6,589.3 1007.47,589.3 1000.67,596.1" fill="#5a5a5a" fill-opacity="0.6"/><polygon points="1000.67,596.1 1007.47,589.3 1007.47,608.17 1000.67,614.97" fill="#2c2c2c" fill-opacity="0.5"/><path d="M1000.67,614.97l6.8,-6.8h18.86v18.86l-6.8,6.8h-18.86z" fill="#1c1c1c"/><rect x="1001.17" y="615.47" width="17.86" height="17.86" fill="#444444" fill-opacity="0.75"/><rect x="1005.43" y="615.47" width="13.6" height="13.6" fill="#050505" fill-opacity="0.8"/><polygon points="1000.67,614.97 1007.47,608.17 1026.33,608.17 1019.53,614.97" fill="#5a5a5a" fill-opacity="0.6"/><polygon points="1019.53,614.97 1026.33,608.17 1026.33,627.03 1019.53,633.83" fill="#2c2c2c" fill-opacity="0.5"/><path d="M1019.53,633.83l6.8,-6.8h18.86v18.86l-6.8,6.8h-18.86z" fill="#0e1f0e"/><rect x="1020.03" y="634.33" width="17.86" height="17.86" fill="#25472a" fill-opacity="0.75"/><rect x="1024.29" y="634.33" width="13.6" height="13.6" fill="#061206" fill-opacity="0.8"/><polygon points="1019.53,633.83 1026.33,627.03 1045.2,627.03 1038.4,633.83" fill="#3b5a3b" fill-opacity="0.6"/><polygon points="1038.4,633.83 1045.2,627.03 1045.2,645.9 1038.4,652.7" fill="#1f3a1f" fill-opacity="0.5"/><path d="M1000.67,596.1l6.8,-6.8h18.86v18.86l-6.8,6.8h-18.86z" fill="#1c1c1c"/><rect x="1001.17" y="596.6" width="17.86" height="17.86" fill="#444444" fill-opacity="0.75"/><rect x="1005.43" y="596.6" width="13.6" height="13.6" fill="#050505" fill-opacity="0.8"/><polygon points="1000.67,596.1 1007.47,589.3 1026.33,589.3 1019.53,596.1" fill="#5a5a5a" fill-opacity="0.6"/><polygon points="1019.53,596.1 1026.33,589.3 1026.33,608.17 1019.53,614.97" fill="#2c2c2c" fill-opacity="0.5"/><path d="M1019.53,614.97l6.8,-6.8h18.86v18.86l-6.8,6.8h-18.86z" fill="#0e1f0e"/><rect x="1020.03" y="615.47" width="17.86" height="17.86" fill="#25472a" fill-opacity="0.75"/><rect x="1024.29" y="615.47" width="13.6" height="13.6" fill="#061206" fill-opacity="0.8"/><polygon points="1019.53,614.97 1026.33,608.17 1045.2,608.17 1038.4,614.97" fill="#3b5a3b" fill-opacity="0.6"/><polygon points="1038.4,614.97 1045.2,608.17 1045.2,627.03 1038.4,633.83" fill="#1f3a1f" fill-opacity="0.5"/><path d="M1019.53,596.1l6.8,-6.8h18.86v18.86l-6.8,6.8h-18.86z" fill="#0e1f0e"/><rect x="1020.03" y="596.6" width="17.86" height="17.86" fill="#25472a" fill-opacity="0.75"/><rect x="1024.29" y="596.6" width="13.6" height="13.6" fill="#061206" fill-opacity="0.8"/><polygon points="1019.53,596.1 1026.33,589.3 1045.2,589.3 1038.4,596.1" fill="#3b5a3b" fill-opacity="0.6"/><polygon points="1038.4,596.1 1045.2,589.3 1045.2,608.17 1038.4,614.97" fill="#1f3a1f" fill-opacity="0.5"/><path d="M975,640.63l6.8,-6.8h18.86v18.86l-6.8,6.8h-18.86z" fill="#1c1c1c"/><rect x="975.5" y="641.13" width="17.86" height="17.86" fill="#444444" fill-opacity="0.75"/><rect x="979.76" y="641.13" width="13.6" height="13.6" fill="#050505" fill-opacity="0.8"/><polygon points="975,640.63 981.8,633.83 1000.67,633.83 993.87,640.63" fill="#5a5a5a" fill-opacity="0.6"/><polygon points="993.87,640.63 1000.67,633.83 1000.67,652.7 993.87,659.5" fill="#2c2c2c" fill-opacity="0.5"/><path d="M975,621.77l6.8,-6.8h18.86v18.86l-6.8,6.8h-18.86z" fill="#1c1c1c"/><rect x="975.5" y="622.27" width="17.86" height="17.86" fill="#444444" fill-opacity="0.75"/><rect x="979.76" y="622.27" width="13.6" height="13.6" fill="#050505" fill-opacity="0.8"/><polygon points="975,621.77 981.8,614.97 1000.67,614.97 993.87,621.77" fill="#5a5a5a" fill-opacity="0.6"/><polygon points="993.87,621.77 1000.67,614.97 1000.67,633.83 993.87,640.63" fill="#2c2c2c" fill-opacity="0.5"/><path d="M993.87,640.63l6.8,-6.8h18.86v18.86l-6.8,6.8h-18.86z" fill="#1c1c1c"/><rect x="994.37" y="641.13" width="17.86" height="17.86" fill="#444444" fill-opacity="0.75"/><rect x="998.63" y="641.13" width="13.6" height="13.6" fill="#050505" fill-opacity="0.8"/><polygon points="993.87,640.63 1000.67,633.83 1019.53,633.83 1012.73,640.63" fill="#5a5a5a" fill-opacity="0.6"/><polygon points="1012.73,640.63 1019.53,633.83 1019.53,652.7 1012.73,659.5" fill="#2c2c2c" fill-opacity="0.5"/><path d="M975,602.9l6.8,-6.8h18.86v18.86l-6.8,6.8h-18.86z" fill="#1c1c1c"/><rect x="975.5" y="603.4" width="17.86" height="17.86" fill="#444444" fill-opacity="0.75"/><rect x="979.76" y="603.4" width="13.6" height="13.6" fill="#050505" fill-opacity="0.8"/><polygon points="975,602.9 981.8,596.1 1000.67,596.1 993.87,602.9" fill="#5a5a5a" fill-opacity="0.6"/><polygon points="993.87,602.9 1000.67,596.1 1000.67,614.97 993.87,621.77" fill="#2c2c2c" fill-opacity="0.5"/><path d="M993.87,621.77l6.8,-6.8h18.86v18.86l-6.8,6.8h-18.86z" fill="#1c1c1c"/><rect x="994.37" y="622.27" width="17.86" height="17.86" fill="#444444" fill-opacity="0.75"/><rect x="998.63" y="622.27" width="13.6" height="13.6" fill="#050505" fill-opacity="0.8"/><polygon points="993.87,621.77 1000.67,614.97 1019.53,614.97 1012.73,621.77" fill="#5a5a5a" fill-opacity="0.6"/><polygon points="1012.73,621.77 1019.53,614.97 1019.53,633.83 1012.73,640.63" fill="#2c2c2c" fill-opacity="0.5"/><path d="M1012.73,640.63l6.8,-6.8h18.86v18.86l-6.8,6.8h-18.86z" fill="#0e1f0e"/><rect x="1013.23" y="641.13" width="17.86" height="17.86" fill="#25472a" fill-opacity="0.75"/><rect x="1017.49" y="641.13" width="13.6" height="13.6" fill="#061206" fill-opacity="0.8"/><polygon points="1012.73,640.63 1019.53,633.83 1038.4,633.83 1031.6,640.63" fill="#3b5a3b" fill-opacity="0.6"/><polygon points="1031.6,640.63 1038.4,633.83 1038.4,652.7 1031.6,659.5" fill="#1f3a1f" fill-opacity="0.5"/><path d="M993.87,602.9l6.8,-6.8h18.86v18.86l-6.8,6.8h-18.86z" fill="#1c1c1c"/><rect x="994.37" y="603.4" width="17.86" height="17.86" fill="#444444" fill-opacity="0.75"/><rect x="998.63" y="603.4" width="13.6" height="13.6" fill="#050505" fill-opacity="0.8"/><polygon points="993.87,602.9 1000.67,596.1 1019.53,596.1 1012.73,602.9" fill="#5a5a5a" fill-opacity="0.6"/><polygon points="1012.73,602.9 1019.53,596.1 1019.53,614.97 1012.73,621.77" fill="#2c2c2c" fill-opacity="0.5"/><path d="M1012.73,621.77l6.8,-6.8h18.86v18.86l-6.8,6.8h-18.86z" fill="#0e1f0e"/><rect x="1013.23" y="622.27" width="17.86" height="17.86" fill="#25472a" fill-opacity="0.75"/><rect x="1017.49" y="622.27" width="13.6" height="13.6" fill="#061206" fill-opacity="0.8"/><polygon points="1012.73,621.77 1019.53,614.97 1038.4,614.97 1031.6,621.77" fill="#3b5a3b" fill-opacity="0.6"/><polygon points="1031.6,621.77 1038.4,614.97 1038.4,633.83 1031.6,640.63" fill="#1f3a1f" fill-opacity="0.5"/><path d="M1012.73,602.9l6.8,-6.8h18.86v18.86l-6.8,6.8h-18.86z" fill="#0e1f0e"/><rect x="1013.23" y="603.4" width="17.86" height="17.86" fill="#25472a" fill-opacity="0.75"/><rect x="1017.49" y="603.4" width="13.6" height="13.6" fill="#061206" fill-opacity="0.8"/><polygon points="1012.73,602.9 1019.53,596.1 1038.4,596.1 1031.6,602.9" fill="#3b5a3b" fill-opacity="0.6"/><polygon points="1031.6,602.9 1038.4,596.1 1038.4,614.97 1031.6,621.77" fill="#1f3a1f" fill-opacity="0.5"/><clipPath id="bc11"><path d="M975,602.9h18.86v18.86h-18.86z M993.87,602.9h18.86v18.86h-18.86z M1012.73,602.9h18.86v18.86h-18.86z M975,621.77h18.86v18.86h-18.86z M993.87,621.77h18.86v18.86h-18.86z M1012.73,621.77h18.86v18.86h-18.86z M975,640.63h18.86v18.86h-18.86z M993.87,640.63h18.86v18.86h-18.86z M1012.73,640.63h18.86v18.86h-18.86z M981.8,596.1h18.86v18.86h-18.86z M1000.67,596.1h18.86v18.86h-18.86z M1019.53,596.1h18.86v18.86h-18.86z M981.8,614.97h18.86v18.86h-18.86z M1000.67,614.97h18.86v18.86h-18.86z M1019.53,614.97h18.86v18.86h-18.86z M981.8,633.83h18.86v18.86h-18.86z M1000.67,633.83h18.86v18.86h-18.86z M1019.53,633.83h18.86v18.86h-18.86z M988.6,589.3h18.86v18.86h-18.86z M1007.47,589.3h18.86v18.86h-18.86z M1026.33,589.3h18.86v18.86h-18.86z M988.6,608.17h18.86v18.86h-18.86z M1007.47,608.17h18.86v18.86h-18.86z M1026.33,608.17h18.86v18.86h-18.86z M988.6,627.03h18.86v18.86h-18.86z M1007.47,627.03h18.86v18.86h-18.86z M1026.33,627.03h18.86v18.86h-18.86z"/></clipPath><g clip-path="url(#bc11)"><ellipse cx="1005.34" cy="629.84" rx="15.28" ry="21.79" fill="url(#braingrad)" opacity="1.0" filter="url(#braintex)"/></g><path d="M989.2,627.63h17.66v17.66h-17.66z M989.2,627.63l6.2,-6.2h17.66v17.66l-6.2,6.2 M1006.87,627.63l6.2,-6.2 M989.2,608.77h17.66v17.66h-17.66z M989.2,608.77l6.2,-6.2h17.66v17.66l-6.2,6.2 M1006.87,608.77l6.2,-6.2 M1008.07,627.63h17.66v17.66h-17.66z M1008.07,627.63l6.2,-6.2h17.66v17.66l-6.2,6.2 M1025.73,627.63l6.2,-6.2 M989.2,589.9h17.66v17.66h-17.66z M989.2,589.9l6.2,-6.2h17.66v17.66l-6.2,6.2 M1006.87,589.9l6.2,-6.2 M1008.07,608.77h17.66v17.66h-17.66z M1008.07,608.77l6.2,-6.2h17.66v17.66l-6.2,6.2 M1025.73,608.77l6.2,-6.2 M1026.93,627.63h17.66v17.66h-17.66z M1026.93,627.63l6.2,-6.2h17.66v17.66l-6.2,6.2 M1044.6,627.63l6.2,-6.2 M1008.07,589.9h17.66v17.66h-17.66z M1008.07,589.9l6.2,-6.2h17.66v17.66l-6.2,6.2 M1025.73,589.9l6.2,-6.2 M1026.93,608.77h17.66v17.66h-17.66z M1026.93,608.77l6.2,-6.2h17.66v17.66l-6.2,6.2 M1044.6,608.77l6.2,-6.2 M1026.93,589.9h17.66v17.66h-17.66z M1026.93,589.9l6.2,-6.2h17.66v17.66l-6.2,6.2 M1044.6,589.9l6.2,-6.2 M982.4,634.43h17.66v17.66h-17.66z M982.4,634.43l6.2,-6.2h17.66v17.66l-6.2,6.2 M1000.07,634.43l6.2,-6.2 M982.4,615.57h17.66v17.66h-17.66z M982.4,615.57l6.2,-6.2h17.66v17.66l-6.2,6.2 M1000.07,615.57l6.2,-6.2 M1001.27,634.43h17.66v17.66h-17.66z M1001.27,634.43l6.2,-6.2h17.66v17.66l-6.2,6.2 M1018.93,634.43l6.2,-6.2 M982.4,596.7h17.66v17.66h-17.66z M982.4,596.7l6.2,-6.2h17.66v17.66l-6.2,6.2 M1000.07,596.7l6.2,-6.2 M1001.27,615.57h17.66v17.66h-17.66z M1001.27,615.57l6.2,-6.2h17.66v17.66l-6.2,6.2 M1018.93,615.57l6.2,-6.2 M1020.13,634.43h17.66v17.66h-17.66z M1020.13,634.43l6.2,-6.2h17.66v17.66l-6.2,6.2 M1037.8,634.43l6.2,-6.2 M1001.27,596.7h17.66v17.66h-17.66z M1001.27,596.7l6.2,-6.2h17.66v17.66l-6.2,6.2 M1018.93,596.7l6.2,-6.2 M1020.13,615.57h17.66v17.66h-17.66z M1020.13,615.57l6.2,-6.2h17.66v17.66l-6.2,6.2 M1037.8,615.57l6.2,-6.2 M1020.13,596.7h17.66v17.66h-17.66z M1020.13,596.7l6.2,-6.2h17.66v17.66l-6.2,6.2 M1037.8,596.7l6.2,-6.2" fill="none" stroke="#a6d98a" stroke-width="0.8049999999999999" stroke-opacity="0.28"/><path d="M989.2,589.9l6.2,-6.2h17.66l-6.2,6.2z  M1044.6,627.63l6.2,-6.2v17.66l-6.2,6.2z  M1008.07,589.9l6.2,-6.2h17.66l-6.2,6.2z  M1044.6,608.77l6.2,-6.2v17.66l-6.2,6.2z  M1026.93,589.9l6.2,-6.2h17.66l-6.2,6.2z M1044.6,589.9l6.2,-6.2v17.66l-6.2,6.2z  M982.4,596.7l6.2,-6.2h17.66l-6.2,6.2z  M1037.8,634.43l6.2,-6.2v17.66l-6.2,6.2z  M1001.27,596.7l6.2,-6.2h17.66l-6.2,6.2z  M1037.8,615.57l6.2,-6.2v17.66l-6.2,6.2z  M1020.13,596.7l6.2,-6.2h17.66l-6.2,6.2z M1037.8,596.7l6.2,-6.2v17.66l-6.2,6.2z " fill="none" stroke="#a6d98a" stroke-width="1.15" stroke-linejoin="round"/><path d="M975.6,641.24h17.66v17.66h-17.66z M975.6,641.24l6.2,-6.2h17.66v17.66l-6.2,6.2 M993.26,641.24l6.2,-6.2 M975.6,622.37h17.66v17.66h-17.66z M975.6,622.37l6.2,-6.2h17.66v17.66l-6.2,6.2 M993.26,622.37l6.2,-6.2 M994.47,641.24h17.66v17.66h-17.66z M994.47,641.24l6.2,-6.2h17.66v17.66l-6.2,6.2 M1012.13,641.24l6.2,-6.2 M975.6,603.5h17.66v17.66h-17.66z M975.6,603.5l6.2,-6.2h17.66v17.66l-6.2,6.2 M993.26,603.5l6.2,-6.2 M994.47,622.37h17.66v17.66h-17.66z M994.47,622.37l6.2,-6.2h17.66v17.66l-6.2,6.2 M1012.13,622.37l6.2,-6.2 M1013.33,641.24h17.66v17.66h-17.66z M1013.33,641.24l6.2,-6.2h17.66v17.66l-6.2,6.2 M1031,641.24l6.2,-6.2 M994.47,603.5h17.66v17.66h-17.66z M994.47,603.5l6.2,-6.2h17.66v17.66l-6.2,6.2 M1012.13,603.5l6.2,-6.2 M1013.33,622.37h17.66v17.66h-17.66z M1013.33,622.37l6.2,-6.2h17.66v17.66l-6.2,6.2 M1031,622.37l6.2,-6.2 M1013.33,603.5h17.66v17.66h-17.66z M1013.33,603.5l6.2,-6.2h17.66v17.66l-6.2,6.2 M1031,603.5l6.2,-6.2" fill="none" stroke="#a6d98a" stroke-width="1.15" stroke-linejoin="round"/>
<path d="M1116.49,541.92l7.24,-7.24h20.09v20.09l-7.24,7.24h-20.09z" fill="#1c1c1c"/><rect x="1116.99" y="542.42" width="19.09" height="19.09" fill="#444444" fill-opacity="0.75"/><rect x="1121.56" y="542.42" width="14.52" height="14.52" fill="#050505" fill-opacity="0.8"/><polygon points="1116.49,541.92 1123.73,534.68 1143.82,534.68 1136.58,541.92" fill="#5a5a5a" fill-opacity="0.6"/><polygon points="1136.58,541.92 1143.82,534.68 1143.82,554.77 1136.58,562.01" fill="#2c2c2c" fill-opacity="0.5"/><path d="M1116.49,521.83l7.24,-7.24h20.09v20.09l-7.24,7.24h-20.09z" fill="#1c1c1c"/><rect x="1116.99" y="522.33" width="19.09" height="19.09" fill="#444444" fill-opacity="0.75"/><rect x="1121.56" y="522.33" width="14.52" height="14.52" fill="#050505" fill-opacity="0.8"/><polygon points="1116.49,521.83 1123.73,514.59 1143.82,514.59 1136.58,521.83" fill="#5a5a5a" fill-opacity="0.6"/><polygon points="1136.58,521.83 1143.82,514.59 1143.82,534.68 1136.58,541.92" fill="#2c2c2c" fill-opacity="0.5"/><path d="M1136.58,541.92l7.24,-7.24h20.09v20.09l-7.24,7.24h-20.09z" fill="#1c1c1c"/><rect x="1137.08" y="542.42" width="19.09" height="19.09" fill="#444444" fill-opacity="0.75"/><rect x="1141.65" y="542.42" width="14.52" height="14.52" fill="#050505" fill-opacity="0.8"/><polygon points="1136.58,541.92 1143.82,534.68 1163.91,534.68 1156.67,541.92" fill="#5a5a5a" fill-opacity="0.6"/><polygon points="1156.67,541.92 1163.91,534.68 1163.91,554.77 1156.67,562.01" fill="#2c2c2c" fill-opacity="0.5"/><path d="M1116.49,501.74l7.24,-7.24h20.09v20.09l-7.24,7.24h-20.09z" fill="#1c1c1c"/><rect x="1116.99" y="502.24" width="19.09" height="19.09" fill="#444444" fill-opacity="0.75"/><rect x="1121.56" y="502.24" width="14.52" height="14.52" fill="#050505" fill-opacity="0.8"/><polygon points="1116.49,501.74 1123.73,494.5 1143.82,494.5 1136.58,501.74" fill="#5a5a5a" fill-opacity="0.6"/><polygon points="1136.58,501.74 1143.82,494.5 1143.82,514.59 1136.58,521.83" fill="#2c2c2c" fill-opacity="0.5"/><path d="M1136.58,521.83l7.24,-7.24h20.09v20.09l-7.24,7.24h-20.09z" fill="#1c1c1c"/><rect x="1137.08" y="522.33" width="19.09" height="19.09" fill="#444444" fill-opacity="0.75"/><rect x="1141.65" y="522.33" width="14.52" height="14.52" fill="#050505" fill-opacity="0.8"/><polygon points="1136.58,521.83 1143.82,514.59 1163.91,514.59 1156.67,521.83" fill="#5a5a5a" fill-opacity="0.6"/><polygon points="1156.67,521.83 1163.91,514.59 1163.91,534.68 1156.67,541.92" fill="#2c2c2c" fill-opacity="0.5"/><path d="M1156.67,541.92l7.24,-7.24h20.09v20.09l-7.24,7.24h-20.09z" fill="#1c1c1c"/><rect x="1157.17" y="542.42" width="19.09" height="19.09" fill="#444444" fill-opacity="0.75"/><rect x="1161.74" y="542.42" width="14.52" height="14.52" fill="#050505" fill-opacity="0.8"/><polygon points="1156.67,541.92 1163.91,534.68 1184,534.68 1176.76,541.92" fill="#5a5a5a" fill-opacity="0.6"/><polygon points="1176.76,541.92 1184,534.68 1184,554.77 1176.76,562.01" fill="#2c2c2c" fill-opacity="0.5"/><path d="M1136.58,501.74l7.24,-7.24h20.09v20.09l-7.24,7.24h-20.09z" fill="#1c1c1c"/><rect x="1137.08" y="502.24" width="19.09" height="19.09" fill="#444444" fill-opacity="0.75"/><rect x="1141.65" y="502.24" width="14.52" height="14.52" fill="#050505" fill-opacity="0.8"/><polygon points="1136.58,501.74 1143.82,494.5 1163.91,494.5 1156.67,501.74" fill="#5a5a5a" fill-opacity="0.6"/><polygon points="1156.67,501.74 1163.91,494.5 1163.91,514.59 1156.67,521.83" fill="#2c2c2c" fill-opacity="0.5"/><path d="M1156.67,521.83l7.24,-7.24h20.09v20.09l-7.24,7.24h-20.09z" fill="#1c1c1c"/><rect x="1157.17" y="522.33" width="19.09" height="19.09" fill="#444444" fill-opacity="0.75"/><rect x="1161.74" y="522.33" width="14.52" height="14.52" fill="#050505" fill-opacity="0.8"/><polygon points="1156.67,521.83 1163.91,514.59 1184,514.59 1176.76,521.83" fill="#5a5a5a" fill-opacity="0.6"/><polygon points="1176.76,521.83 1184,514.59 1184,534.68 1176.76,541.92" fill="#2c2c2c" fill-opacity="0.5"/><path d="M1156.67,501.74l7.24,-7.24h20.09v20.09l-7.24,7.24h-20.09z" fill="#1c1c1c"/><rect x="1157.17" y="502.24" width="19.09" height="19.09" fill="#444444" fill-opacity="0.75"/><rect x="1161.74" y="502.24" width="14.52" height="14.52" fill="#050505" fill-opacity="0.8"/><polygon points="1156.67,501.74 1163.91,494.5 1184,494.5 1176.76,501.74" fill="#5a5a5a" fill-opacity="0.6"/><polygon points="1176.76,501.74 1184,494.5 1184,514.59 1176.76,521.83" fill="#2c2c2c" fill-opacity="0.5"/><path d="M1109.24,549.17l7.24,-7.24h20.09v20.09l-7.24,7.24h-20.09z" fill="#1c1c1c"/><rect x="1109.74" y="549.67" width="19.09" height="19.09" fill="#444444" fill-opacity="0.75"/><rect x="1114.31" y="549.67" width="14.52" height="14.52" fill="#050505" fill-opacity="0.8"/><polygon points="1109.24,549.17 1116.49,541.92 1136.58,541.92 1129.33,549.17" fill="#5a5a5a" fill-opacity="0.6"/><polygon points="1129.33,549.17 1136.58,541.92 1136.58,562.01 1129.33,569.26" fill="#2c2c2c" fill-opacity="0.5"/><path d="M1109.24,529.08l7.24,-7.24h20.09v20.09l-7.24,7.24h-20.09z" fill="#1c1c1c"/><rect x="1109.74" y="529.58" width="19.09" height="19.09" fill="#444444" fill-opacity="0.75"/><rect x="1114.31" y="529.58" width="14.52" height="14.52" fill="#050505" fill-opacity="0.8"/><polygon points="1109.24,529.08 1116.49,521.83 1136.58,521.83 1129.33,529.08" fill="#5a5a5a" fill-opacity="0.6"/><polygon points="1129.33,529.08 1136.58,521.83 1136.58,541.92 1129.33,549.17" fill="#2c2c2c" fill-opacity="0.5"/><path d="M1129.33,549.17l7.24,-7.24h20.09v20.09l-7.24,7.24h-20.09z" fill="#1c1c1c"/><rect x="1129.83" y="549.67" width="19.09" height="19.09" fill="#444444" fill-opacity="0.75"/><rect x="1134.4" y="549.67" width="14.52" height="14.52" fill="#050505" fill-opacity="0.8"/><polygon points="1129.33,549.17 1136.58,541.92 1156.67,541.92 1149.42,549.17" fill="#5a5a5a" fill-opacity="0.6"/><polygon points="1149.42,549.17 1156.67,541.92 1156.67,562.01 1149.42,569.26" fill="#2c2c2c" fill-opacity="0.5"/><path d="M1109.24,508.99l7.24,-7.24h20.09v20.09l-7.24,7.24h-20.09z" fill="#1c1c1c"/><rect x="1109.74" y="509.49" width="19.09" height="19.09" fill="#444444" fill-opacity="0.75"/><rect x="1114.31" y="509.49" width="14.52" height="14.52" fill="#050505" fill-opacity="0.8"/><polygon points="1109.24,508.99 1116.49,501.74 1136.58,501.74 1129.33,508.99" fill="#5a5a5a" fill-opacity="0.6"/><polygon points="1129.33,508.99 1136.58,501.74 1136.58,521.83 1129.33,529.08" fill="#2c2c2c" fill-opacity="0.5"/><path d="M1129.33,529.08l7.24,-7.24h20.09v20.09l-7.24,7.24h-20.09z" fill="#1c1c1c"/><rect x="1129.83" y="529.58" width="19.09" height="19.09" fill="#444444" fill-opacity="0.75"/><rect x="1134.4" y="529.58" width="14.52" height="14.52" fill="#050505" fill-opacity="0.8"/><polygon points="1129.33,529.08 1136.58,521.83 1156.67,521.83 1149.42,529.08" fill="#5a5a5a" fill-opacity="0.6"/><polygon points="1149.42,529.08 1156.67,521.83 1156.67,541.92 1149.42,549.17" fill="#2c2c2c" fill-opacity="0.5"/><path d="M1149.42,549.17l7.24,-7.24h20.09v20.09l-7.24,7.24h-20.09z" fill="#1c1c1c"/><rect x="1149.92" y="549.67" width="19.09" height="19.09" fill="#444444" fill-opacity="0.75"/><rect x="1154.49" y="549.67" width="14.52" height="14.52" fill="#050505" fill-opacity="0.8"/><polygon points="1149.42,549.17 1156.67,541.92 1176.76,541.92 1169.51,549.17" fill="#5a5a5a" fill-opacity="0.6"/><polygon points="1169.51,549.17 1176.76,541.92 1176.76,562.01 1169.51,569.26" fill="#2c2c2c" fill-opacity="0.5"/><path d="M1129.33,508.99l7.24,-7.24h20.09v20.09l-7.24,7.24h-20.09z" fill="#1c1c1c"/><rect x="1129.83" y="509.49" width="19.09" height="19.09" fill="#444444" fill-opacity="0.75"/><rect x="1134.4" y="509.49" width="14.52" height="14.52" fill="#050505" fill-opacity="0.8"/><polygon points="1129.33,508.99 1136.58,501.74 1156.67,501.74 1149.42,508.99" fill="#5a5a5a" fill-opacity="0.6"/><polygon points="1149.42,508.99 1156.67,501.74 1156.67,521.83 1149.42,529.08" fill="#2c2c2c" fill-opacity="0.5"/><path d="M1149.42,529.08l7.24,-7.24h20.09v20.09l-7.24,7.24h-20.09z" fill="#1c1c1c"/><rect x="1149.92" y="529.58" width="19.09" height="19.09" fill="#444444" fill-opacity="0.75"/><rect x="1154.49" y="529.58" width="14.52" height="14.52" fill="#050505" fill-opacity="0.8"/><polygon points="1149.42,529.08 1156.67,521.83 1176.76,521.83 1169.51,529.08" fill="#5a5a5a" fill-opacity="0.6"/><polygon points="1169.51,529.08 1176.76,521.83 1176.76,541.92 1169.51,549.17" fill="#2c2c2c" fill-opacity="0.5"/><path d="M1149.42,508.99l7.24,-7.24h20.09v20.09l-7.24,7.24h-20.09z" fill="#1c1c1c"/><rect x="1149.92" y="509.49" width="19.09" height="19.09" fill="#444444" fill-opacity="0.75"/><rect x="1154.49" y="509.49" width="14.52" height="14.52" fill="#050505" fill-opacity="0.8"/><polygon points="1149.42,508.99 1156.67,501.74 1176.76,501.74 1169.51,508.99" fill="#5a5a5a" fill-opacity="0.6"/><polygon points="1169.51,508.99 1176.76,501.74 1176.76,521.83 1169.51,529.08" fill="#2c2c2c" fill-opacity="0.5"/><path d="M1102,556.41l7.24,-7.24h20.09v20.09l-7.24,7.24h-20.09z" fill="#1c1c1c"/><rect x="1102.5" y="556.91" width="19.09" height="19.09" fill="#444444" fill-opacity="0.75"/><rect x="1107.07" y="556.91" width="14.52" height="14.52" fill="#050505" fill-opacity="0.8"/><polygon points="1102,556.41 1109.24,549.17 1129.33,549.17 1122.09,556.41" fill="#5a5a5a" fill-opacity="0.6"/><polygon points="1122.09,556.41 1129.33,549.17 1129.33,569.26 1122.09,576.5" fill="#2c2c2c" fill-opacity="0.5"/><path d="M1102,536.32l7.24,-7.24h20.09v20.09l-7.24,7.24h-20.09z" fill="#1c1c1c"/><rect x="1102.5" y="536.82" width="19.09" height="19.09" fill="#444444" fill-opacity="0.75"/><rect x="1107.07" y="536.82" width="14.52" height="14.52" fill="#050505" fill-opacity="0.8"/><polygon points="1102,536.32 1109.24,529.08 1129.33,529.08 1122.09,536.32" fill="#5a5a5a" fill-opacity="0.6"/><polygon points="1122.09,536.32 1129.33,529.08 1129.33,549.17 1122.09,556.41" fill="#2c2c2c" fill-opacity="0.5"/><path d="M1122.09,556.41l7.24,-7.24h20.09v20.09l-7.24,7.24h-20.09z" fill="#1c1c1c"/><rect x="1122.59" y="556.91" width="19.09" height="19.09" fill="#444444" fill-opacity="0.75"/><rect x="1127.16" y="556.91" width="14.52" height="14.52" fill="#050505" fill-opacity="0.8"/><polygon points="1122.09,556.41 1129.33,549.17 1149.42,549.17 1142.18,556.41" fill="#5a5a5a" fill-opacity="0.6"/><polygon points="1142.18,556.41 1149.42,549.17 1149.42,569.26 1142.18,576.5" fill="#2c2c2c" fill-opacity="0.5"/><path d="M1102,516.23l7.24,-7.24h20.09v20.09l-7.24,7.24h-20.09z" fill="#1c1c1c"/><rect x="1102.5" y="516.73" width="19.09" height="19.09" fill="#444444" fill-opacity="0.75"/><rect x="1107.07" y="516.73" width="14.52" height="14.52" fill="#050505" fill-opacity="0.8"/><polygon points="1102,516.23 1109.24,508.99 1129.33,508.99 1122.09,516.23" fill="#5a5a5a" fill-opacity="0.6"/><polygon points="1122.09,516.23 1129.33,508.99 1129.33,529.08 1122.09,536.32" fill="#2c2c2c" fill-opacity="0.5"/><path d="M1122.09,536.32l7.24,-7.24h20.09v20.09l-7.24,7.24h-20.09z" fill="#1c1c1c"/><rect x="1122.59" y="536.82" width="19.09" height="19.09" fill="#444444" fill-opacity="0.75"/><rect x="1127.16" y="536.82" width="14.52" height="14.52" fill="#050505" fill-opacity="0.8"/><polygon points="1122.09,536.32 1129.33,529.08 1149.42,529.08 1142.18,536.32" fill="#5a5a5a" fill-opacity="0.6"/><polygon points="1142.18,536.32 1149.42,529.08 1149.42,549.17 1142.18,556.41" fill="#2c2c2c" fill-opacity="0.5"/><path d="M1142.18,556.41l7.24,-7.24h20.09v20.09l-7.24,7.24h-20.09z" fill="#1c1c1c"/><rect x="1142.68" y="556.91" width="19.09" height="19.09" fill="#444444" fill-opacity="0.75"/><rect x="1147.25" y="556.91" width="14.52" height="14.52" fill="#050505" fill-opacity="0.8"/><polygon points="1142.18,556.41 1149.42,549.17 1169.51,549.17 1162.27,556.41" fill="#5a5a5a" fill-opacity="0.6"/><polygon points="1162.27,556.41 1169.51,549.17 1169.51,569.26 1162.27,576.5" fill="#2c2c2c" fill-opacity="0.5"/><path d="M1122.09,516.23l7.24,-7.24h20.09v20.09l-7.24,7.24h-20.09z" fill="#1c1c1c"/><rect x="1122.59" y="516.73" width="19.09" height="19.09" fill="#444444" fill-opacity="0.75"/><rect x="1127.16" y="516.73" width="14.52" height="14.52" fill="#050505" fill-opacity="0.8"/><polygon points="1122.09,516.23 1129.33,508.99 1149.42,508.99 1142.18,516.23" fill="#5a5a5a" fill-opacity="0.6"/><polygon points="1142.18,516.23 1149.42,508.99 1149.42,529.08 1142.18,536.32" fill="#2c2c2c" fill-opacity="0.5"/><path d="M1142.18,536.32l7.24,-7.24h20.09v20.09l-7.24,7.24h-20.09z" fill="#1c1c1c"/><rect x="1142.68" y="536.82" width="19.09" height="19.09" fill="#444444" fill-opacity="0.75"/><rect x="1147.25" y="536.82" width="14.52" height="14.52" fill="#050505" fill-opacity="0.8"/><polygon points="1142.18,536.32 1149.42,529.08 1169.51,529.08 1162.27,536.32" fill="#5a5a5a" fill-opacity="0.6"/><polygon points="1162.27,536.32 1169.51,529.08 1169.51,549.17 1162.27,556.41" fill="#2c2c2c" fill-opacity="0.5"/><path d="M1142.18,516.23l7.24,-7.24h20.09v20.09l-7.24,7.24h-20.09z" fill="#1c1c1c"/><rect x="1142.68" y="516.73" width="19.09" height="19.09" fill="#444444" fill-opacity="0.75"/><rect x="1147.25" y="516.73" width="14.52" height="14.52" fill="#050505" fill-opacity="0.8"/><polygon points="1142.18,516.23 1149.42,508.99 1169.51,508.99 1162.27,516.23" fill="#5a5a5a" fill-opacity="0.6"/><polygon points="1162.27,516.23 1169.51,508.99 1169.51,529.08 1162.27,536.32" fill="#2c2c2c" fill-opacity="0.5"/><clipPath id="bc12"><path d="M1102,516.23h20.09v20.09h-20.09z M1122.09,516.23h20.09v20.09h-20.09z M1142.18,516.23h20.09v20.09h-20.09z M1102,536.32h20.09v20.09h-20.09z M1122.09,536.32h20.09v20.09h-20.09z M1142.18,536.32h20.09v20.09h-20.09z M1102,556.41h20.09v20.09h-20.09z M1122.09,556.41h20.09v20.09h-20.09z M1142.18,556.41h20.09v20.09h-20.09z M1109.24,508.99h20.09v20.09h-20.09z M1129.33,508.99h20.09v20.09h-20.09z M1149.42,508.99h20.09v20.09h-20.09z M1109.24,529.08h20.09v20.09h-20.09z M1129.33,529.08h20.09v20.09h-20.09z M1149.42,529.08h20.09v20.09h-20.09z M1109.24,549.17h20.09v20.09h-20.09z M1129.33,549.17h20.09v20.09h-20.09z M1149.42,549.17h20.09v20.09h-20.09z M1116.49,501.74h20.09v20.09h-20.09z M1136.58,501.74h20.09v20.09h-20.09z M1156.67,501.74h20.09v20.09h-20.09z M1116.49,521.83h20.09v20.09h-20.09z M1136.58,521.83h20.09v20.09h-20.09z M1156.67,521.83h20.09v20.09h-20.09z M1116.49,541.92h20.09v20.09h-20.09z M1136.58,541.92h20.09v20.09h-20.09z M1156.67,541.92h20.09v20.09h-20.09z"/></clipPath><g clip-path="url(#bc12)"><ellipse cx="1134.31" cy="544.92" rx="16.27" ry="23.2" fill="url(#braingrad)" opacity="1.0" filter="url(#braintex)"/></g><path d="M1117.09,542.52h18.89v18.89h-18.89z M1117.09,542.52l6.64,-6.64h18.89v18.89l-6.64,6.64 M1135.98,542.52l6.64,-6.64 M1117.09,522.43h18.89v18.89h-18.89z M1117.09,522.43l6.64,-6.64h18.89v18.89l-6.64,6.64 M1135.98,522.43l6.64,-6.64 M1137.18,542.52h18.89v18.89h-18.89z M1137.18,542.52l6.64,-6.64h18.89v18.89l-6.64,6.64 M1156.07,542.52l6.64,-6.64 M1117.09,502.34h18.89v18.89h-18.89z M1117.09,502.34l6.64,-6.64h18.89v18.89l-6.64,6.64 M1135.98,502.34l6.64,-6.64 M1137.18,522.43h18.89v18.89h-18.89z M1137.18,522.43l6.64,-6.64h18.89v18.89l-6.64,6.64 M1156.07,522.43l6.64,-6.64 M1157.27,542.52h18.89v18.89h-18.89z M1157.27,542.52l6.64,-6.64h18.89v18.89l-6.64,6.64 M1176.16,542.52l6.64,-6.64 M1137.18,502.34h18.89v18.89h-18.89z M1137.18,502.34l6.64,-6.64h18.89v18.89l-6.64,6.64 M1156.07,502.34l6.64,-6.64 M1157.27,522.43h18.89v18.89h-18.89z M1157.27,522.43l6.64,-6.64h18.89v18.89l-6.64,6.64 M1176.16,522.43l6.64,-6.64 M1157.27,502.34h18.89v18.89h-18.89z M1157.27,502.34l6.64,-6.64h18.89v18.89l-6.64,6.64 M1176.16,502.34l6.64,-6.64 M1109.84,549.77h18.89v18.89h-18.89z M1109.84,549.77l6.64,-6.64h18.89v18.89l-6.64,6.64 M1128.73,549.77l6.64,-6.64 M1109.84,529.68h18.89v18.89h-18.89z M1109.84,529.68l6.64,-6.64h18.89v18.89l-6.64,6.64 M1128.73,529.68l6.64,-6.64 M1129.93,549.77h18.89v18.89h-18.89z M1129.93,549.77l6.64,-6.64h18.89v18.89l-6.64,6.64 M1148.82,549.77l6.64,-6.64 M1109.84,509.59h18.89v18.89h-18.89z M1109.84,509.59l6.64,-6.64h18.89v18.89l-6.64,6.64 M1128.73,509.59l6.64,-6.64 M1129.93,529.68h18.89v18.89h-18.89z M1129.93,529.68l6.64,-6.64h18.89v18.89l-6.64,6.64 M1148.82,529.68l6.64,-6.64 M1150.02,549.77h18.89v18.89h-18.89z M1150.02,549.77l6.64,-6.64h18.89v18.89l-6.64,6.64 M1168.91,549.77l6.64,-6.64 M1129.93,509.59h18.89v18.89h-18.89z M1129.93,509.59l6.64,-6.64h18.89v18.89l-6.64,6.64 M1148.82,509.59l6.64,-6.64 M1150.02,529.68h18.89v18.89h-18.89z M1150.02,529.68l6.64,-6.64h18.89v18.89l-6.64,6.64 M1168.91,529.68l6.64,-6.64 M1150.02,509.59h18.89v18.89h-18.89z M1150.02,509.59l6.64,-6.64h18.89v18.89l-6.64,6.64 M1168.91,509.59l6.64,-6.64" fill="none" stroke="#505050" stroke-width="0.7" stroke-opacity="0.28"/><path d="M1117.09,502.34l6.64,-6.64h18.89l-6.64,6.64z  M1176.16,542.52l6.64,-6.64v18.89l-6.64,6.64z  M1137.18,502.34l6.64,-6.64h18.89l-6.64,6.64z  M1176.16,522.43l6.64,-6.64v18.89l-6.64,6.64z  M1157.27,502.34l6.64,-6.64h18.89l-6.64,6.64z M1176.16,502.34l6.64,-6.64v18.89l-6.64,6.64z  M1109.84,509.59l6.64,-6.64h18.89l-6.64,6.64z  M1168.91,549.77l6.64,-6.64v18.89l-6.64,6.64z  M1129.93,509.59l6.64,-6.64h18.89l-6.64,6.64z  M1168.91,529.68l6.64,-6.64v18.89l-6.64,6.64z  M1150.02,509.59l6.64,-6.64h18.89l-6.64,6.64z M1168.91,509.59l6.64,-6.64v18.89l-6.64,6.64z " fill="none" stroke="#505050" stroke-width="1.0" stroke-linejoin="round"/><path d="M1102.6,557.01h18.89v18.89h-18.89z M1102.6,557.01l6.64,-6.64h18.89v18.89l-6.64,6.64 M1121.49,557.01l6.64,-6.64 M1102.6,536.92h18.89v18.89h-18.89z M1102.6,536.92l6.64,-6.64h18.89v18.89l-6.64,6.64 M1121.49,536.92l6.64,-6.64 M1122.69,557.01h18.89v18.89h-18.89z M1122.69,557.01l6.64,-6.64h18.89v18.89l-6.64,6.64 M1141.58,557.01l6.64,-6.64 M1102.6,516.83h18.89v18.89h-18.89z M1102.6,516.83l6.64,-6.64h18.89v18.89l-6.64,6.64 M1121.49,516.83l6.64,-6.64 M1122.69,536.92h18.89v18.89h-18.89z M1122.69,536.92l6.64,-6.64h18.89v18.89l-6.64,6.64 M1141.58,536.92l6.64,-6.64 M1142.78,557.01h18.89v18.89h-18.89z M1142.78,557.01l6.64,-6.64h18.89v18.89l-6.64,6.64 M1161.67,557.01l6.64,-6.64 M1122.69,516.83h18.89v18.89h-18.89z M1122.69,516.83l6.64,-6.64h18.89v18.89l-6.64,6.64 M1141.58,516.83l6.64,-6.64 M1142.78,536.92h18.89v18.89h-18.89z M1142.78,536.92l6.64,-6.64h18.89v18.89l-6.64,6.64 M1161.67,536.92l6.64,-6.64 M1142.78,516.83h18.89v18.89h-18.89z M1142.78,516.83l6.64,-6.64h18.89v18.89l-6.64,6.64 M1161.67,516.83l6.64,-6.64" fill="none" stroke="#505050" stroke-width="1.0" stroke-linejoin="round"/>
<path d="M1115.49,625.92l7.24,-7.24h20.09v20.09l-7.24,7.24h-20.09z" fill="#1c1c1c"/><rect x="1115.99" y="626.42" width="19.09" height="19.09" fill="#444444" fill-opacity="0.75"/><rect x="1120.56" y="626.42" width="14.52" height="14.52" fill="#050505" fill-opacity="0.8"/><polygon points="1115.49,625.92 1122.73,618.68 1142.82,618.68 1135.58,625.92" fill="#5a5a5a" fill-opacity="0.6"/><polygon points="1135.58,625.92 1142.82,618.68 1142.82,638.77 1135.58,646.01" fill="#2c2c2c" fill-opacity="0.5"/><path d="M1115.49,605.83l7.24,-7.24h20.09v20.09l-7.24,7.24h-20.09z" fill="#1c1c1c"/><rect x="1115.99" y="606.33" width="19.09" height="19.09" fill="#444444" fill-opacity="0.75"/><rect x="1120.56" y="606.33" width="14.52" height="14.52" fill="#050505" fill-opacity="0.8"/><polygon points="1115.49,605.83 1122.73,598.59 1142.82,598.59 1135.58,605.83" fill="#5a5a5a" fill-opacity="0.6"/><polygon points="1135.58,605.83 1142.82,598.59 1142.82,618.68 1135.58,625.92" fill="#2c2c2c" fill-opacity="0.5"/><path d="M1135.58,625.92l7.24,-7.24h20.09v20.09l-7.24,7.24h-20.09z" fill="#1c1c1c"/><rect x="1136.08" y="626.42" width="19.09" height="19.09" fill="#444444" fill-opacity="0.75"/><rect x="1140.65" y="626.42" width="14.52" height="14.52" fill="#050505" fill-opacity="0.8"/><polygon points="1135.58,625.92 1142.82,618.68 1162.91,618.68 1155.67,625.92" fill="#5a5a5a" fill-opacity="0.6"/><polygon points="1155.67,625.92 1162.91,618.68 1162.91,638.77 1155.67,646.01" fill="#2c2c2c" fill-opacity="0.5"/><path d="M1115.49,585.74l7.24,-7.24h20.09v20.09l-7.24,7.24h-20.09z" fill="#1c1c1c"/><rect x="1115.99" y="586.24" width="19.09" height="19.09" fill="#444444" fill-opacity="0.75"/><rect x="1120.56" y="586.24" width="14.52" height="14.52" fill="#050505" fill-opacity="0.8"/><polygon points="1115.49,585.74 1122.73,578.5 1142.82,578.5 1135.58,585.74" fill="#5a5a5a" fill-opacity="0.6"/><polygon points="1135.58,585.74 1142.82,578.5 1142.82,598.59 1135.58,605.83" fill="#2c2c2c" fill-opacity="0.5"/><path d="M1135.58,605.83l7.24,-7.24h20.09v20.09l-7.24,7.24h-20.09z" fill="#1c1c1c"/><rect x="1136.08" y="606.33" width="19.09" height="19.09" fill="#444444" fill-opacity="0.75"/><rect x="1140.65" y="606.33" width="14.52" height="14.52" fill="#050505" fill-opacity="0.8"/><polygon points="1135.58,605.83 1142.82,598.59 1162.91,598.59 1155.67,605.83" fill="#5a5a5a" fill-opacity="0.6"/><polygon points="1155.67,605.83 1162.91,598.59 1162.91,618.68 1155.67,625.92" fill="#2c2c2c" fill-opacity="0.5"/><path d="M1155.67,625.92l7.24,-7.24h20.09v20.09l-7.24,7.24h-20.09z" fill="#1c1c1c"/><rect x="1156.17" y="626.42" width="19.09" height="19.09" fill="#444444" fill-opacity="0.75"/><rect x="1160.74" y="626.42" width="14.52" height="14.52" fill="#050505" fill-opacity="0.8"/><polygon points="1155.67,625.92 1162.91,618.68 1183,618.68 1175.76,625.92" fill="#5a5a5a" fill-opacity="0.6"/><polygon points="1175.76,625.92 1183,618.68 1183,638.77 1175.76,646.01" fill="#2c2c2c" fill-opacity="0.5"/><path d="M1135.58,585.74l7.24,-7.24h20.09v20.09l-7.24,7.24h-20.09z" fill="#1c1c1c"/><rect x="1136.08" y="586.24" width="19.09" height="19.09" fill="#444444" fill-opacity="0.75"/><rect x="1140.65" y="586.24" width="14.52" height="14.52" fill="#050505" fill-opacity="0.8"/><polygon points="1135.58,585.74 1142.82,578.5 1162.91,578.5 1155.67,585.74" fill="#5a5a5a" fill-opacity="0.6"/><polygon points="1155.67,585.74 1162.91,578.5 1162.91,598.59 1155.67,605.83" fill="#2c2c2c" fill-opacity="0.5"/><path d="M1155.67,605.83l7.24,-7.24h20.09v20.09l-7.24,7.24h-20.09z" fill="#1c1c1c"/><rect x="1156.17" y="606.33" width="19.09" height="19.09" fill="#444444" fill-opacity="0.75"/><rect x="1160.74" y="606.33" width="14.52" height="14.52" fill="#050505" fill-opacity="0.8"/><polygon points="1155.67,605.83 1162.91,598.59 1183,598.59 1175.76,605.83" fill="#5a5a5a" fill-opacity="0.6"/><polygon points="1175.76,605.83 1183,598.59 1183,618.68 1175.76,625.92" fill="#2c2c2c" fill-opacity="0.5"/><path d="M1155.67,585.74l7.24,-7.24h20.09v20.09l-7.24,7.24h-20.09z" fill="#1c1c1c"/><rect x="1156.17" y="586.24" width="19.09" height="19.09" fill="#444444" fill-opacity="0.75"/><rect x="1160.74" y="586.24" width="14.52" height="14.52" fill="#050505" fill-opacity="0.8"/><polygon points="1155.67,585.74 1162.91,578.5 1183,578.5 1175.76,585.74" fill="#5a5a5a" fill-opacity="0.6"/><polygon points="1175.76,585.74 1183,578.5 1183,598.59 1175.76,605.83" fill="#2c2c2c" fill-opacity="0.5"/><path d="M1108.24,633.17l7.24,-7.24h20.09v20.09l-7.24,7.24h-20.09z" fill="#1c1c1c"/><rect x="1108.74" y="633.67" width="19.09" height="19.09" fill="#444444" fill-opacity="0.75"/><rect x="1113.31" y="633.67" width="14.52" height="14.52" fill="#050505" fill-opacity="0.8"/><polygon points="1108.24,633.17 1115.49,625.92 1135.58,625.92 1128.33,633.17" fill="#5a5a5a" fill-opacity="0.6"/><polygon points="1128.33,633.17 1135.58,625.92 1135.58,646.01 1128.33,653.26" fill="#2c2c2c" fill-opacity="0.5"/><path d="M1108.24,613.08l7.24,-7.24h20.09v20.09l-7.24,7.24h-20.09z" fill="#1c1c1c"/><rect x="1108.74" y="613.58" width="19.09" height="19.09" fill="#444444" fill-opacity="0.75"/><rect x="1113.31" y="613.58" width="14.52" height="14.52" fill="#050505" fill-opacity="0.8"/><polygon points="1108.24,613.08 1115.49,605.83 1135.58,605.83 1128.33,613.08" fill="#5a5a5a" fill-opacity="0.6"/><polygon points="1128.33,613.08 1135.58,605.83 1135.58,625.92 1128.33,633.17" fill="#2c2c2c" fill-opacity="0.5"/><path d="M1128.33,633.17l7.24,-7.24h20.09v20.09l-7.24,7.24h-20.09z" fill="#1c1c1c"/><rect x="1128.83" y="633.67" width="19.09" height="19.09" fill="#444444" fill-opacity="0.75"/><rect x="1133.4" y="633.67" width="14.52" height="14.52" fill="#050505" fill-opacity="0.8"/><polygon points="1128.33,633.17 1135.58,625.92 1155.67,625.92 1148.42,633.17" fill="#5a5a5a" fill-opacity="0.6"/><polygon points="1148.42,633.17 1155.67,625.92 1155.67,646.01 1148.42,653.26" fill="#2c2c2c" fill-opacity="0.5"/><path d="M1108.24,592.99l7.24,-7.24h20.09v20.09l-7.24,7.24h-20.09z" fill="#1c1c1c"/><rect x="1108.74" y="593.49" width="19.09" height="19.09" fill="#444444" fill-opacity="0.75"/><rect x="1113.31" y="593.49" width="14.52" height="14.52" fill="#050505" fill-opacity="0.8"/><polygon points="1108.24,592.99 1115.49,585.74 1135.58,585.74 1128.33,592.99" fill="#5a5a5a" fill-opacity="0.6"/><polygon points="1128.33,592.99 1135.58,585.74 1135.58,605.83 1128.33,613.08" fill="#2c2c2c" fill-opacity="0.5"/><path d="M1128.33,613.08l7.24,-7.24h20.09v20.09l-7.24,7.24h-20.09z" fill="#1c1c1c"/><rect x="1128.83" y="613.58" width="19.09" height="19.09" fill="#444444" fill-opacity="0.75"/><rect x="1133.4" y="613.58" width="14.52" height="14.52" fill="#050505" fill-opacity="0.8"/><polygon points="1128.33,613.08 1135.58,605.83 1155.67,605.83 1148.42,613.08" fill="#5a5a5a" fill-opacity="0.6"/><polygon points="1148.42,613.08 1155.67,605.83 1155.67,625.92 1148.42,633.17" fill="#2c2c2c" fill-opacity="0.5"/><path d="M1148.42,633.17l7.24,-7.24h20.09v20.09l-7.24,7.24h-20.09z" fill="#1c1c1c"/><rect x="1148.92" y="633.67" width="19.09" height="19.09" fill="#444444" fill-opacity="0.75"/><rect x="1153.49" y="633.67" width="14.52" height="14.52" fill="#050505" fill-opacity="0.8"/><polygon points="1148.42,633.17 1155.67,625.92 1175.76,625.92 1168.51,633.17" fill="#5a5a5a" fill-opacity="0.6"/><polygon points="1168.51,633.17 1175.76,625.92 1175.76,646.01 1168.51,653.26" fill="#2c2c2c" fill-opacity="0.5"/><path d="M1128.33,592.99l7.24,-7.24h20.09v20.09l-7.24,7.24h-20.09z" fill="#1c1c1c"/><rect x="1128.83" y="593.49" width="19.09" height="19.09" fill="#444444" fill-opacity="0.75"/><rect x="1133.4" y="593.49" width="14.52" height="14.52" fill="#050505" fill-opacity="0.8"/><polygon points="1128.33,592.99 1135.58,585.74 1155.67,585.74 1148.42,592.99" fill="#5a5a5a" fill-opacity="0.6"/><polygon points="1148.42,592.99 1155.67,585.74 1155.67,605.83 1148.42,613.08" fill="#2c2c2c" fill-opacity="0.5"/><path d="M1148.42,613.08l7.24,-7.24h20.09v20.09l-7.24,7.24h-20.09z" fill="#1c1c1c"/><rect x="1148.92" y="613.58" width="19.09" height="19.09" fill="#444444" fill-opacity="0.75"/><rect x="1153.49" y="613.58" width="14.52" height="14.52" fill="#050505" fill-opacity="0.8"/><polygon points="1148.42,613.08 1155.67,605.83 1175.76,605.83 1168.51,613.08" fill="#5a5a5a" fill-opacity="0.6"/><polygon points="1168.51,613.08 1175.76,605.83 1175.76,625.92 1168.51,633.17" fill="#2c2c2c" fill-opacity="0.5"/><path d="M1148.42,592.99l7.24,-7.24h20.09v20.09l-7.24,7.24h-20.09z" fill="#1c1c1c"/><rect x="1148.92" y="593.49" width="19.09" height="19.09" fill="#444444" fill-opacity="0.75"/><rect x="1153.49" y="593.49" width="14.52" height="14.52" fill="#050505" fill-opacity="0.8"/><polygon points="1148.42,592.99 1155.67,585.74 1175.76,585.74 1168.51,592.99" fill="#5a5a5a" fill-opacity="0.6"/><polygon points="1168.51,592.99 1175.76,585.74 1175.76,605.83 1168.51,613.08" fill="#2c2c2c" fill-opacity="0.5"/><path d="M1101,640.41l7.24,-7.24h20.09v20.09l-7.24,7.24h-20.09z" fill="#1c1c1c"/><rect x="1101.5" y="640.91" width="19.09" height="19.09" fill="#444444" fill-opacity="0.75"/><rect x="1106.07" y="640.91" width="14.52" height="14.52" fill="#050505" fill-opacity="0.8"/><polygon points="1101,640.41 1108.24,633.17 1128.33,633.17 1121.09,640.41" fill="#5a5a5a" fill-opacity="0.6"/><polygon points="1121.09,640.41 1128.33,633.17 1128.33,653.26 1121.09,660.5" fill="#2c2c2c" fill-opacity="0.5"/><path d="M1101,620.32l7.24,-7.24h20.09v20.09l-7.24,7.24h-20.09z" fill="#1c1c1c"/><rect x="1101.5" y="620.82" width="19.09" height="19.09" fill="#444444" fill-opacity="0.75"/><rect x="1106.07" y="620.82" width="14.52" height="14.52" fill="#050505" fill-opacity="0.8"/><polygon points="1101,620.32 1108.24,613.08 1128.33,613.08 1121.09,620.32" fill="#5a5a5a" fill-opacity="0.6"/><polygon points="1121.09,620.32 1128.33,613.08 1128.33,633.17 1121.09,640.41" fill="#2c2c2c" fill-opacity="0.5"/><path d="M1121.09,640.41l7.24,-7.24h20.09v20.09l-7.24,7.24h-20.09z" fill="#1c1c1c"/><rect x="1121.59" y="640.91" width="19.09" height="19.09" fill="#444444" fill-opacity="0.75"/><rect x="1126.16" y="640.91" width="14.52" height="14.52" fill="#050505" fill-opacity="0.8"/><polygon points="1121.09,640.41 1128.33,633.17 1148.42,633.17 1141.18,640.41" fill="#5a5a5a" fill-opacity="0.6"/><polygon points="1141.18,640.41 1148.42,633.17 1148.42,653.26 1141.18,660.5" fill="#2c2c2c" fill-opacity="0.5"/><path d="M1101,600.23l7.24,-7.24h20.09v20.09l-7.24,7.24h-20.09z" fill="#1c1c1c"/><rect x="1101.5" y="600.73" width="19.09" height="19.09" fill="#444444" fill-opacity="0.75"/><rect x="1106.07" y="600.73" width="14.52" height="14.52" fill="#050505" fill-opacity="0.8"/><polygon points="1101,600.23 1108.24,592.99 1128.33,592.99 1121.09,600.23" fill="#5a5a5a" fill-opacity="0.6"/><polygon points="1121.09,600.23 1128.33,592.99 1128.33,613.08 1121.09,620.32" fill="#2c2c2c" fill-opacity="0.5"/><path d="M1121.09,620.32l7.24,-7.24h20.09v20.09l-7.24,7.24h-20.09z" fill="#1c1c1c"/><rect x="1121.59" y="620.82" width="19.09" height="19.09" fill="#444444" fill-opacity="0.75"/><rect x="1126.16" y="620.82" width="14.52" height="14.52" fill="#050505" fill-opacity="0.8"/><polygon points="1121.09,620.32 1128.33,613.08 1148.42,613.08 1141.18,620.32" fill="#5a5a5a" fill-opacity="0.6"/><polygon points="1141.18,620.32 1148.42,613.08 1148.42,633.17 1141.18,640.41" fill="#2c2c2c" fill-opacity="0.5"/><path d="M1141.18,640.41l7.24,-7.24h20.09v20.09l-7.24,7.24h-20.09z" fill="#1c1c1c"/><rect x="1141.68" y="640.91" width="19.09" height="19.09" fill="#444444" fill-opacity="0.75"/><rect x="1146.25" y="640.91" width="14.52" height="14.52" fill="#050505" fill-opacity="0.8"/><polygon points="1141.18,640.41 1148.42,633.17 1168.51,633.17 1161.27,640.41" fill="#5a5a5a" fill-opacity="0.6"/><polygon points="1161.27,640.41 1168.51,633.17 1168.51,653.26 1161.27,660.5" fill="#2c2c2c" fill-opacity="0.5"/><path d="M1121.09,600.23l7.24,-7.24h20.09v20.09l-7.24,7.24h-20.09z" fill="#1c1c1c"/><rect x="1121.59" y="600.73" width="19.09" height="19.09" fill="#444444" fill-opacity="0.75"/><rect x="1126.16" y="600.73" width="14.52" height="14.52" fill="#050505" fill-opacity="0.8"/><polygon points="1121.09,600.23 1128.33,592.99 1148.42,592.99 1141.18,600.23" fill="#5a5a5a" fill-opacity="0.6"/><polygon points="1141.18,600.23 1148.42,592.99 1148.42,613.08 1141.18,620.32" fill="#2c2c2c" fill-opacity="0.5"/><path d="M1141.18,620.32l7.24,-7.24h20.09v20.09l-7.24,7.24h-20.09z" fill="#1c1c1c"/><rect x="1141.68" y="620.82" width="19.09" height="19.09" fill="#444444" fill-opacity="0.75"/><rect x="1146.25" y="620.82" width="14.52" height="14.52" fill="#050505" fill-opacity="0.8"/><polygon points="1141.18,620.32 1148.42,613.08 1168.51,613.08 1161.27,620.32" fill="#5a5a5a" fill-opacity="0.6"/><polygon points="1161.27,620.32 1168.51,613.08 1168.51,633.17 1161.27,640.41" fill="#2c2c2c" fill-opacity="0.5"/><path d="M1141.18,600.23l7.24,-7.24h20.09v20.09l-7.24,7.24h-20.09z" fill="#1c1c1c"/><rect x="1141.68" y="600.73" width="19.09" height="19.09" fill="#444444" fill-opacity="0.75"/><rect x="1146.25" y="600.73" width="14.52" height="14.52" fill="#050505" fill-opacity="0.8"/><polygon points="1141.18,600.23 1148.42,592.99 1168.51,592.99 1161.27,600.23" fill="#5a5a5a" fill-opacity="0.6"/><polygon points="1161.27,600.23 1168.51,592.99 1168.51,613.08 1161.27,620.32" fill="#2c2c2c" fill-opacity="0.5"/><clipPath id="bc13"><path d="M1101,600.23h20.09v20.09h-20.09z M1121.09,600.23h20.09v20.09h-20.09z M1141.18,600.23h20.09v20.09h-20.09z M1101,620.32h20.09v20.09h-20.09z M1121.09,620.32h20.09v20.09h-20.09z M1141.18,620.32h20.09v20.09h-20.09z M1101,640.41h20.09v20.09h-20.09z M1121.09,640.41h20.09v20.09h-20.09z M1141.18,640.41h20.09v20.09h-20.09z M1108.24,592.99h20.09v20.09h-20.09z M1128.33,592.99h20.09v20.09h-20.09z M1148.42,592.99h20.09v20.09h-20.09z M1108.24,613.08h20.09v20.09h-20.09z M1128.33,613.08h20.09v20.09h-20.09z M1148.42,613.08h20.09v20.09h-20.09z M1108.24,633.17h20.09v20.09h-20.09z M1128.33,633.17h20.09v20.09h-20.09z M1148.42,633.17h20.09v20.09h-20.09z M1115.49,585.74h20.09v20.09h-20.09z M1135.58,585.74h20.09v20.09h-20.09z M1155.67,585.74h20.09v20.09h-20.09z M1115.49,605.83h20.09v20.09h-20.09z M1135.58,605.83h20.09v20.09h-20.09z M1155.67,605.83h20.09v20.09h-20.09z M1115.49,625.92h20.09v20.09h-20.09z M1135.58,625.92h20.09v20.09h-20.09z M1155.67,625.92h20.09v20.09h-20.09z"/></clipPath><g clip-path="url(#bc13)"><ellipse cx="1133.31" cy="628.92" rx="16.27" ry="23.2" fill="url(#braingrad)" opacity="1.0" filter="url(#braintex)"/></g><path d="M1116.09,626.52h18.89v18.89h-18.89z M1116.09,626.52l6.64,-6.64h18.89v18.89l-6.64,6.64 M1134.98,626.52l6.64,-6.64 M1116.09,606.43h18.89v18.89h-18.89z M1116.09,606.43l6.64,-6.64h18.89v18.89l-6.64,6.64 M1134.98,606.43l6.64,-6.64 M1136.18,626.52h18.89v18.89h-18.89z M1136.18,626.52l6.64,-6.64h18.89v18.89l-6.64,6.64 M1155.07,626.52l6.64,-6.64 M1116.09,586.34h18.89v18.89h-18.89z M1116.09,586.34l6.64,-6.64h18.89v18.89l-6.64,6.64 M1134.98,586.34l6.64,-6.64 M1136.18,606.43h18.89v18.89h-18.89z M1136.18,606.43l6.64,-6.64h18.89v18.89l-6.64,6.64 M1155.07,606.43l6.64,-6.64 M1156.27,626.52h18.89v18.89h-18.89z M1156.27,626.52l6.64,-6.64h18.89v18.89l-6.64,6.64 M1175.16,626.52l6.64,-6.64 M1136.18,586.34h18.89v18.89h-18.89z M1136.18,586.34l6.64,-6.64h18.89v18.89l-6.64,6.64 M1155.07,586.34l6.64,-6.64 M1156.27,606.43h18.89v18.89h-18.89z M1156.27,606.43l6.64,-6.64h18.89v18.89l-6.64,6.64 M1175.16,606.43l6.64,-6.64 M1156.27,586.34h18.89v18.89h-18.89z M1156.27,586.34l6.64,-6.64h18.89v18.89l-6.64,6.64 M1175.16,586.34l6.64,-6.64 M1108.84,633.77h18.89v18.89h-18.89z M1108.84,633.77l6.64,-6.64h18.89v18.89l-6.64,6.64 M1127.73,633.77l6.64,-6.64 M1108.84,613.68h18.89v18.89h-18.89z M1108.84,613.68l6.64,-6.64h18.89v18.89l-6.64,6.64 M1127.73,613.68l6.64,-6.64 M1128.93,633.77h18.89v18.89h-18.89z M1128.93,633.77l6.64,-6.64h18.89v18.89l-6.64,6.64 M1147.82,633.77l6.64,-6.64 M1108.84,593.59h18.89v18.89h-18.89z M1108.84,593.59l6.64,-6.64h18.89v18.89l-6.64,6.64 M1127.73,593.59l6.64,-6.64 M1128.93,613.68h18.89v18.89h-18.89z M1128.93,613.68l6.64,-6.64h18.89v18.89l-6.64,6.64 M1147.82,613.68l6.64,-6.64 M1149.02,633.77h18.89v18.89h-18.89z M1149.02,633.77l6.64,-6.64h18.89v18.89l-6.64,6.64 M1167.91,633.77l6.64,-6.64 M1128.93,593.59h18.89v18.89h-18.89z M1128.93,593.59l6.64,-6.64h18.89v18.89l-6.64,6.64 M1147.82,593.59l6.64,-6.64 M1149.02,613.68h18.89v18.89h-18.89z M1149.02,613.68l6.64,-6.64h18.89v18.89l-6.64,6.64 M1167.91,613.68l6.64,-6.64 M1149.02,593.59h18.89v18.89h-18.89z M1149.02,593.59l6.64,-6.64h18.89v18.89l-6.64,6.64 M1167.91,593.59l6.64,-6.64" fill="none" stroke="#505050" stroke-width="0.7" stroke-opacity="0.28"/><path d="M1116.09,586.34l6.64,-6.64h18.89l-6.64,6.64z  M1175.16,626.52l6.64,-6.64v18.89l-6.64,6.64z  M1136.18,586.34l6.64,-6.64h18.89l-6.64,6.64z  M1175.16,606.43l6.64,-6.64v18.89l-6.64,6.64z  M1156.27,586.34l6.64,-6.64h18.89l-6.64,6.64z M1175.16,586.34l6.64,-6.64v18.89l-6.64,6.64z  M1108.84,593.59l6.64,-6.64h18.89l-6.64,6.64z  M1167.91,633.77l6.64,-6.64v18.89l-6.64,6.64z  M1128.93,593.59l6.64,-6.64h18.89l-6.64,6.64z  M1167.91,613.68l6.64,-6.64v18.89l-6.64,6.64z  M1149.02,593.59l6.64,-6.64h18.89l-6.64,6.64z M1167.91,593.59l6.64,-6.64v18.89l-6.64,6.64z " fill="none" stroke="#505050" stroke-width="1.0" stroke-linejoin="round"/><path d="M1101.6,641.01h18.89v18.89h-18.89z M1101.6,641.01l6.64,-6.64h18.89v18.89l-6.64,6.64 M1120.49,641.01l6.64,-6.64 M1101.6,620.92h18.89v18.89h-18.89z M1101.6,620.92l6.64,-6.64h18.89v18.89l-6.64,6.64 M1120.49,620.92l6.64,-6.64 M1121.69,641.01h18.89v18.89h-18.89z M1121.69,641.01l6.64,-6.64h18.89v18.89l-6.64,6.64 M1140.58,641.01l6.64,-6.64 M1101.6,600.83h18.89v18.89h-18.89z M1101.6,600.83l6.64,-6.64h18.89v18.89l-6.64,6.64 M1120.49,600.83l6.64,-6.64 M1121.69,620.92h18.89v18.89h-18.89z M1121.69,620.92l6.64,-6.64h18.89v18.89l-6.64,6.64 M1140.58,620.92l6.64,-6.64 M1141.78,641.01h18.89v18.89h-18.89z M1141.78,641.01l6.64,-6.64h18.89v18.89l-6.64,6.64 M1160.67,641.01l6.64,-6.64 M1121.69,600.83h18.89v18.89h-18.89z M1121.69,600.83l6.64,-6.64h18.89v18.89l-6.64,6.64 M1140.58,600.83l6.64,-6.64 M1141.78,620.92h18.89v18.89h-18.89z M1141.78,620.92l6.64,-6.64h18.89v18.89l-6.64,6.64 M1160.67,620.92l6.64,-6.64 M1141.78,600.83h18.89v18.89h-18.89z M1141.78,600.83l6.64,-6.64h18.89v18.89l-6.64,6.64 M1160.67,600.83l6.64,-6.64" fill="none" stroke="#505050" stroke-width="1.0" stroke-linejoin="round"/>
<g filter="url(#shadow)"><polygon points="428,93 456,65 462,65 462,80 484,102 484,146 434,194 428,194" fill="#999" opacity="0.6"/></g>
<polygon points="434.2,93 461.7,65.5 461.7,166.1 434.2,193.6" fill="#c6c6c6" stroke="#a6a6a6" stroke-width="0.9" stroke-linejoin="round"/><polygon points="428,93 455.5,65.5 461.7,65.5 434.2,93" fill="#e4e4e4" stroke="#a6a6a6" stroke-width="0.9" stroke-linejoin="round"/><rect x="428" y="93" width="6.2" height="100.6" rx="0" fill="#f2f2f2" stroke="#a6a6a6" stroke-width="0.9" /><polygon points="449.2,100.6 469.2,80.6 469.2,158.4 449.2,178.4" fill="#c6c6c6" stroke="#a6a6a6" stroke-width="0.9" stroke-linejoin="round"/><polygon points="443,100.6 463,80.6 469.2,80.6 449.2,100.6" fill="#e4e4e4" stroke="#a6a6a6" stroke-width="0.9" stroke-linejoin="round"/><rect x="443" y="100.6" width="6.2" height="77.8" rx="0" fill="#f2f2f2" stroke="#a6a6a6" stroke-width="0.9" /><polygon points="463,104.7 476,91.7 476,152 463,165" fill="#c6c6c6" stroke="#a6a6a6" stroke-width="0.9" stroke-linejoin="round"/><polygon points="456.8,104.7 469.8,91.7 476,91.7 463,104.7" fill="#e4e4e4" stroke="#a6a6a6" stroke-width="0.9" stroke-linejoin="round"/><rect x="456.8" y="104.7" width="6.2" height="60.3" rx="0" fill="#f2f2f2" stroke="#a6a6a6" stroke-width="0.9" /><polygon points="475.4,110.4 483.4,102.4 483.4,145.3 475.4,153.3" fill="#c6c6c6" stroke="#a6a6a6" stroke-width="0.9" stroke-linejoin="round"/><polygon points="469,110.4 477,102.4 483.4,102.4 475.4,110.4" fill="#e4e4e4" stroke="#a6a6a6" stroke-width="0.9" stroke-linejoin="round"/><rect x="469" y="110.4" width="6.4" height="42.9" rx="0" fill="#f2f2f2" stroke="#a6a6a6" stroke-width="0.9" />
<g filter="url(#shadow)"><polygon points="428,300.5 456,273 462,273 462,288 484,310 484,354 434,401.5 428,401.5" fill="#999" opacity="0.6"/></g>
<polygon points="434.2,300.5 461.7,273 461.7,373.6 434.2,401.1" fill="#cf9a70" stroke="#a99a8e" stroke-width="0.9" stroke-linejoin="round"/><polygon points="428,300.5 455.5,273 461.7,273 434.2,300.5" fill="#f2b283" stroke="#a99a8e" stroke-width="0.9" stroke-linejoin="round"/><rect x="428" y="300.5" width="6.2" height="100.6" rx="0" fill="#f6b586" stroke="#a99a8e" stroke-width="0.9" /><polygon points="449.2,308.1 469.2,288.1 469.2,365.9 449.2,385.9" fill="#cf9a70" stroke="#a99a8e" stroke-width="0.9" stroke-linejoin="round"/><polygon points="443,308.1 463,288.1 469.2,288.1 449.2,308.1" fill="#f2b283" stroke="#a99a8e" stroke-width="0.9" stroke-linejoin="round"/><rect x="443" y="308.1" width="6.2" height="77.8" rx="0" fill="#f6b586" stroke="#a99a8e" stroke-width="0.9" /><polygon points="463,312.2 476,299.2 476,359.5 463,372.5" fill="#cf9a70" stroke="#a99a8e" stroke-width="0.9" stroke-linejoin="round"/><polygon points="456.8,312.2 469.8,299.2 476,299.2 463,312.2" fill="#f2b283" stroke="#a99a8e" stroke-width="0.9" stroke-linejoin="round"/><rect x="456.8" y="312.2" width="6.2" height="60.3" rx="0" fill="#f6b586" stroke="#a99a8e" stroke-width="0.9" /><polygon points="475.4,317.9 483.4,309.9 483.4,352.8 475.4,360.8" fill="#cf9a70" stroke="#a99a8e" stroke-width="0.9" stroke-linejoin="round"/><polygon points="469,317.9 477,309.9 483.4,309.9 475.4,317.9" fill="#f2b283" stroke="#a99a8e" stroke-width="0.9" stroke-linejoin="round"/><rect x="469" y="317.9" width="6.4" height="42.9" rx="0" fill="#f6b586" stroke="#a99a8e" stroke-width="0.9" />
<g filter="url(#shadow)"><polygon points="877,318 898,300 927,272 934,272 934,374 905,402 898,402 898,386 891,386 891,373 885,373 885,361 877,361" fill="#999" opacity="0.6"/></g>
<polygon points="884.1,318 896.1,306 896.1,349 884.1,361" fill="#c6c6c6" stroke="#a6a6a6" stroke-width="0.9" stroke-linejoin="round"/><polygon points="877.5,318 889.5,306 896.1,306 884.1,318" fill="#e6e6e6" stroke="#a6a6a6" stroke-width="0.9" stroke-linejoin="round"/><rect x="877.5" y="318" width="6.6" height="43" rx="0" fill="#f2f2f2" stroke="#a6a6a6" stroke-width="0.9" /><polygon points="891,312 903,300 903,361 891,373" fill="#c6c6c6" stroke="#a6a6a6" stroke-width="0.9" stroke-linejoin="round"/><polygon points="884.8,312 896.8,300 903,300 891,312" fill="#e6e6e6" stroke="#a6a6a6" stroke-width="0.9" stroke-linejoin="round"/><rect x="884.8" y="312" width="6.2" height="61" rx="0" fill="#f2f2f2" stroke="#a6a6a6" stroke-width="0.9" /><polygon points="898,308 910,296 910,374 898,386" fill="#c6c6c6" stroke="#a6a6a6" stroke-width="0.9" stroke-linejoin="round"/><polygon points="891.2,308 903.2,296 910,296 898,308" fill="#e6e6e6" stroke="#a6a6a6" stroke-width="0.9" stroke-linejoin="round"/><rect x="891.2" y="308" width="6.8" height="78" rx="0" fill="#f2f2f2" stroke="#a6a6a6" stroke-width="0.9" /><polygon points="905.4,300 933.9,271.5 933.9,373.5 905.4,402" fill="#c6c6c6" stroke="#a6a6a6" stroke-width="0.9" stroke-linejoin="round"/><polygon points="898.6,300 927.1,271.5 933.9,271.5 905.4,300" fill="#e6e6e6" stroke="#a6a6a6" stroke-width="0.9" stroke-linejoin="round"/><rect x="898.6" y="300" width="6.8" height="102" rx="0" fill="#f2f2f2" stroke="#a6a6a6" stroke-width="0.9" />
<polygon points="947.8,292.8 965.6,292.8 965.6,298.3 1044.2,298.3 1044.2,293.3 1062,303.3 1044.2,313.3 1044.2,308.3 965.6,308.3 965.6,313.8 947.8,313.8" fill="#1a8be0" /><rect x="947.8" y="292.8" width="2.2" height="21" rx="0" fill="#11609e" /><polygon points="1044.2,293.3 1046.4,294.8 1046.4,298.3 1044.2,298.3" fill="#11609e" /><polygon points="1044.2,308.3 1046.4,308.3 1046.4,311.8 1044.2,313.3" fill="#11609e" />
<polygon points="947.8,370 965.6,370 965.6,376 1044.2,376 1044.2,370.75 1062,381 1044.2,391.25 1044.2,386 965.6,386 965.6,392 947.8,392" fill="#b3de96" /><rect x="947.8" y="370" width="2.2" height="22" rx="0" fill="#6f8f5a" /><polygon points="1044.2,370.75 1046.4,372.25 1046.4,376 1044.2,376" fill="#6f8f5a" /><polygon points="1044.2,386 1046.4,386 1046.4,389.75 1044.2,391.25" fill="#6f8f5a" />
<polygon points="898.8,526 911,526 911,531.75 955,531.75 955,527 972.5,537 955,547 955,542.25 911,542.25 911,548 898.8,548" fill="#1a8be0" /><rect x="898.8" y="526" width="2.2" height="22" rx="0" fill="#11609e" /><polygon points="955,527 957.2,528.5 957.2,531.75 955,531.75" fill="#11609e" /><polygon points="955,542.25 957.2,542.25 957.2,545.5 955,547" fill="#11609e" />
<polygon points="899,605 910.5,605 910.5,610.5 955,610.5 955,605.5 972.5,615.5 955,625.5 955,620.5 910.5,620.5 910.5,626 899,626" fill="#b3de96" /><rect x="899" y="605" width="2.2" height="21" rx="0" fill="#6f8f5a" /><polygon points="955,605.5 957.2,607 957.2,610.5 955,610.5" fill="#6f8f5a" /><polygon points="955,620.5 957.2,620.5 957.2,624 955,625.5" fill="#6f8f5a" />
<polygon points="816.8,130.1 816.81,130.1 816.81,130.1 880.1,130.1 880.1,125 891,135 880.1,145 880.1,139.9 816.81,139.9 816.81,139.9 816.8,139.9" fill="#fbb987" /><rect x="816.8" y="130.1" width="2.2" height="9.8" rx="0" fill="#a67c5b" /><polygon points="880.1,125 882.3,126.5 882.3,130.1 880.1,130.1" fill="#a67c5b" /><polygon points="880.1,139.9 882.3,139.9 882.3,143.5 880.1,145" fill="#a67c5b" />
<rect x="816.8" y="130.1" width="2.1" height="9.8" rx="0" fill="#a67c5b" />
<polygon points="816,155.1 816.01,155.1 816.01,155.1 851,155.1 851,149.75 861,159.5 851,169.25 851,163.9 816.01,163.9 816.01,163.9 816,163.9" fill="#1a8be0" /><rect x="816" y="155.1" width="2.2" height="8.8" rx="0" fill="#1a5a8c" /><polygon points="851,149.75 853.2,151.25 853.2,155.1 851,155.1" fill="#1a5a8c" /><polygon points="851,163.9 853.2,163.9 853.2,167.75 851,169.25" fill="#1a5a8c" />
<rect x="816" y="155.1" width="2" height="8.8" rx="0" fill="#1a5a8c" />
<polygon points="881.2,155.1 881.21,155.1 881.21,155.1 915.7,155.1 915.7,149.75 926,159.5 915.7,169.25 915.7,163.9 881.21,163.9 881.21,163.9 881.2,163.9" fill="#b5dd95" /><rect x="881.2" y="155.1" width="2.2" height="8.8" rx="0" fill="#6f8f5a" /><polygon points="915.7,149.75 917.9,151.25 917.9,155.1 915.7,155.1" fill="#6f8f5a" /><polygon points="915.7,163.9 917.9,163.9 917.9,167.75 915.7,169.25" fill="#6f8f5a" />
<rect x="881.2" y="155.1" width="2" height="8.8" rx="0" fill="#6f8f5a" />
<polygon points="816,177.8 824.8,177.8 824.8,182.2 846,182.2 846,178.2 861,186.4 846,194.6 846,190.6 824.8,190.6 824.8,195 816,195" fill="#1a8be0" /><rect x="816" y="177.8" width="2.2" height="17.2" rx="0" fill="#1a5a8c" /><polygon points="846,178.2 848.2,179.7 848.2,182.2 846,182.2" fill="#1a5a8c" /><polygon points="846,190.6 848.2,190.6 848.2,193.1 846,194.6" fill="#1a5a8c" />
<polygon points="881.7,177.8 890.5,177.8 890.5,182.2 911.9,182.2 911.9,178.2 927,186.4 911.9,194.6 911.9,190.6 890.5,190.6 890.5,195 881.7,195" fill="#b5dd95" /><rect x="881.7" y="177.8" width="2.2" height="17.2" rx="0" fill="#6f8f5a" /><polygon points="911.9,178.2 914.1,179.7 914.1,182.2 911.9,182.2" fill="#6f8f5a" /><polygon points="911.9,190.6 914.1,190.6 914.1,193.1 911.9,194.6" fill="#6f8f5a" />
<rect x="257.5" y="517.5" width="128.5" height="50" rx="6" fill="#dae8fb" />
<rect x="395.5" y="518" width="36.5" height="50" rx="5" fill="#dae8fb" />
<rect x="463.75" y="518" width="36.5" height="50" rx="5" fill="#dae8fb" />
<rect x="512" y="518" width="128" height="49.5" rx="6" fill="#dae8fb" />
<rect x="257.5" y="626" width="128.5" height="50" rx="6" fill="#ddefd3" />
<rect x="395.5" y="626" width="36.5" height="50" rx="5" fill="#ddefd3" />
<rect x="463.75" y="626" width="36.5" height="50" rx="5" fill="#ddefd3" />
<rect x="511" y="627" width="129" height="49" rx="6" fill="#ddefd3" />
<polygon points="282.5,533 288,527.5 288,543.5 282.5,549" fill="#136aaf" stroke="#8f8f8f" stroke-width="0.9" stroke-linejoin="round"/><polygon points="266.5,533 272,527.5 288,527.5 282.5,533" fill="#44a0e4" stroke="#8f8f8f" stroke-width="0.9" stroke-linejoin="round"/><rect x="266.5" y="533" width="16" height="16" rx="0" fill="#1585d8" stroke="#8f8f8f" stroke-width="0.9" />
<polygon points="302,533 307.5,527.5 307.5,543.5 302,549" fill="#136aaf" stroke="#8f8f8f" stroke-width="0.9" stroke-linejoin="round"/><polygon points="286,533 291.5,527.5 307.5,527.5 302,533" fill="#44a0e4" stroke="#8f8f8f" stroke-width="0.9" stroke-linejoin="round"/><rect x="286" y="533" width="16" height="16" rx="0" fill="#1585d8" stroke="#8f8f8f" stroke-width="0.9" />
<polygon points="321.5,533 327,527.5 327,543.5 321.5,549" fill="#136aaf" stroke="#8f8f8f" stroke-width="0.9" stroke-linejoin="round"/><polygon points="305.5,533 311,527.5 327,527.5 321.5,533" fill="#44a0e4" stroke="#8f8f8f" stroke-width="0.9" stroke-linejoin="round"/><rect x="305.5" y="533" width="16" height="16" rx="0" fill="#1585d8" stroke="#8f8f8f" stroke-width="0.9" />
<polygon points="371,533 376.5,527.5 376.5,543.5 371,549" fill="#136aaf" stroke="#8f8f8f" stroke-width="0.9" stroke-linejoin="round"/><polygon points="355,533 360.5,527.5 376.5,527.5 371,533" fill="#44a0e4" stroke="#8f8f8f" stroke-width="0.9" stroke-linejoin="round"/><rect x="355" y="533" width="16" height="16" rx="0" fill="#1585d8" stroke="#8f8f8f" stroke-width="0.9" />
<polygon points="420.5,533 426,527.5 426,543.5 420.5,549" fill="#136aaf" stroke="#8f8f8f" stroke-width="0.9" stroke-linejoin="round"/><polygon points="404.5,533 410,527.5 426,527.5 420.5,533" fill="#44a0e4" stroke="#8f8f8f" stroke-width="0.9" stroke-linejoin="round"/><rect x="404.5" y="533" width="16" height="16" rx="0" fill="#1585d8" stroke="#8f8f8f" stroke-width="0.9" />
<polygon points="487.5,533 493,527.5 493,543.5 487.5,549" fill="#136aaf" stroke="#8f8f8f" stroke-width="0.9" stroke-linejoin="round"/><polygon points="471.5,533 477,527.5 493,527.5 487.5,533" fill="#44a0e4" stroke="#8f8f8f" stroke-width="0.9" stroke-linejoin="round"/><rect x="471.5" y="533" width="16" height="16" rx="0" fill="#1585d8" stroke="#8f8f8f" stroke-width="0.9" />
<polygon points="536.5,533 542,527.5 542,543.5 536.5,549" fill="#878484" stroke="#8f8f8f" stroke-width="0.9" stroke-linejoin="round"/><polygon points="520.5,533 526,527.5 542,527.5 536.5,533" fill="#bcb9b9" stroke="#8f8f8f" stroke-width="0.9" stroke-linejoin="round"/><rect x="520.5" y="533" width="16" height="16" rx="0" fill="#a6a3a3" stroke="#8f8f8f" stroke-width="0.9" />
<polygon points="556.5,533 562,527.5 562,543.5 556.5,549" fill="#136aaf" stroke="#8f8f8f" stroke-width="0.9" stroke-linejoin="round"/><polygon points="540.5,533 546,527.5 562,527.5 556.5,533" fill="#44a0e4" stroke="#8f8f8f" stroke-width="0.9" stroke-linejoin="round"/><rect x="540.5" y="533" width="16" height="16" rx="0" fill="#1585d8" stroke="#8f8f8f" stroke-width="0.9" />
<polygon points="605,533 610.5,527.5 610.5,543.5 605,549" fill="#878484" stroke="#8f8f8f" stroke-width="0.9" stroke-linejoin="round"/><polygon points="589,533 594.5,527.5 610.5,527.5 605,533" fill="#bcb9b9" stroke="#8f8f8f" stroke-width="0.9" stroke-linejoin="round"/><rect x="589" y="533" width="16" height="16" rx="0" fill="#a6a3a3" stroke="#8f8f8f" stroke-width="0.9" />
<polygon points="625,533 630.5,527.5 630.5,543.5 625,549" fill="#136aaf" stroke="#8f8f8f" stroke-width="0.9" stroke-linejoin="round"/><polygon points="609,533 614.5,527.5 630.5,527.5 625,533" fill="#44a0e4" stroke="#8f8f8f" stroke-width="0.9" stroke-linejoin="round"/><rect x="609" y="533" width="16" height="16" rx="0" fill="#1585d8" stroke="#8f8f8f" stroke-width="0.9" />
<polygon points="282.5,640.5 288,635 288,651 282.5,656.5" fill="#88b06c" stroke="#8f8f8f" stroke-width="0.9" stroke-linejoin="round"/><polygon points="266.5,640.5 272,635 288,635 282.5,640.5" fill="#bfe0a6" stroke="#8f8f8f" stroke-width="0.9" stroke-linejoin="round"/><rect x="266.5" y="640.5" width="16" height="16" rx="0" fill="#a9d18e" stroke="#8f8f8f" stroke-width="0.9" />
<polygon points="302,640.5 307.5,635 307.5,651 302,656.5" fill="#88b06c" stroke="#8f8f8f" stroke-width="0.9" stroke-linejoin="round"/><polygon points="286,640.5 291.5,635 307.5,635 302,640.5" fill="#bfe0a6" stroke="#8f8f8f" stroke-width="0.9" stroke-linejoin="round"/><rect x="286" y="640.5" width="16" height="16" rx="0" fill="#a9d18e" stroke="#8f8f8f" stroke-width="0.9" />
<polygon points="321.5,640.5 327,635 327,651 321.5,656.5" fill="#88b06c" stroke="#8f8f8f" stroke-width="0.9" stroke-linejoin="round"/><polygon points="305.5,640.5 311,635 327,635 321.5,640.5" fill="#bfe0a6" stroke="#8f8f8f" stroke-width="0.9" stroke-linejoin="round"/><rect x="305.5" y="640.5" width="16" height="16" rx="0" fill="#a9d18e" stroke="#8f8f8f" stroke-width="0.9" />
<polygon points="371,640.5 376.5,635 376.5,651 371,656.5" fill="#88b06c" stroke="#8f8f8f" stroke-width="0.9" stroke-linejoin="round"/><polygon points="355,640.5 360.5,635 376.5,635 371,640.5" fill="#bfe0a6" stroke="#8f8f8f" stroke-width="0.9" stroke-linejoin="round"/><rect x="355" y="640.5" width="16" height="16" rx="0" fill="#a9d18e" stroke="#8f8f8f" stroke-width="0.9" />
<polygon points="420.5,640.5 426,635 426,651 420.5,656.5" fill="#88b06c" stroke="#8f8f8f" stroke-width="0.9" stroke-linejoin="round"/><polygon points="404.5,640.5 410,635 426,635 420.5,640.5" fill="#bfe0a6" stroke="#8f8f8f" stroke-width="0.9" stroke-linejoin="round"/><rect x="404.5" y="640.5" width="16" height="16" rx="0" fill="#a9d18e" stroke="#8f8f8f" stroke-width="0.9" />
<polygon points="487.5,640.5 493,635 493,651 487.5,656.5" fill="#88b06c" stroke="#8f8f8f" stroke-width="0.9" stroke-linejoin="round"/><polygon points="471.5,640.5 477,635 493,635 487.5,640.5" fill="#bfe0a6" stroke="#8f8f8f" stroke-width="0.9" stroke-linejoin="round"/><rect x="471.5" y="640.5" width="16" height="16" rx="0" fill="#a9d18e" stroke="#8f8f8f" stroke-width="0.9" />
<polygon points="536.5,640.5 542,635 542,651 536.5,656.5" fill="#878484" stroke="#8f8f8f" stroke-width="0.9" stroke-linejoin="round"/><polygon points="520.5,640.5 526,635 542,635 536.5,640.5" fill="#bcb9b9" stroke="#8f8f8f" stroke-width="0.9" stroke-linejoin="round"/><rect x="520.5" y="640.5" width="16" height="16" rx="0" fill="#a6a3a3" stroke="#8f8f8f" stroke-width="0.9" />
<polygon points="556.5,640.5 562,635 562,651 556.5,656.5" fill="#878484" stroke="#8f8f8f" stroke-width="0.9" stroke-linejoin="round"/><polygon points="540.5,640.5 546,635 562,635 556.5,640.5" fill="#bcb9b9" stroke="#8f8f8f" stroke-width="0.9" stroke-linejoin="round"/><rect x="540.5" y="640.5" width="16" height="16" rx="0" fill="#a6a3a3" stroke="#8f8f8f" stroke-width="0.9" />
<polygon points="605,640.5 610.5,635 610.5,651 605,656.5" fill="#88b06c" stroke="#8f8f8f" stroke-width="0.9" stroke-linejoin="round"/><polygon points="589,640.5 594.5,635 610.5,635 605,640.5" fill="#bfe0a6" stroke="#8f8f8f" stroke-width="0.9" stroke-linejoin="round"/><rect x="589" y="640.5" width="16" height="16" rx="0" fill="#a9d18e" stroke="#8f8f8f" stroke-width="0.9" />
<polygon points="625,640.5 630.5,635 630.5,651 625,656.5" fill="#878484" stroke="#8f8f8f" stroke-width="0.9" stroke-linejoin="round"/><polygon points="609,640.5 614.5,635 630.5,635 625,640.5" fill="#bcb9b9" stroke="#8f8f8f" stroke-width="0.9" stroke-linejoin="round"/><rect x="609" y="640.5" width="16" height="16" rx="0" fill="#a6a3a3" stroke="#8f8f8f" stroke-width="0.9" />
<text x="84.5" y="20" font-family="Liberation Serif" font-size="23" font-weight="bold" font-style="normal" fill="#000" text-anchor="start" >(a)</text>
<text x="84.5" y="452" font-family="Liberation Serif" font-size="23" font-weight="bold" font-style="normal" fill="#000" text-anchor="start" >(b)</text>
<text x="782" y="452" font-family="Liberation Serif" font-size="23" font-weight="bold" font-style="normal" fill="#000" text-anchor="start" >(c)</text>
<text x="154" y="44" font-family="Liberation Serif" font-size="21" font-weight="bold" font-style="normal" fill="#000" text-anchor="start" >Data Augmentation</text>
<text x="584.5" y="44.5" font-family="Liberation Serif" font-size="21" font-weight="bold" font-style="normal" fill="#7030a0" text-anchor="start" >Online Tokenizer</text>
<text x="911" y="240" font-family="Liberation Serif" font-size="21" font-weight="bold" font-style="normal" fill="#1b5e5e" text-anchor="start" >Dense Predictor</text>
<text x="135.5" y="479" font-family="Liberation Serif" font-size="21" font-weight="bold" font-style="normal" fill="#7030a0" text-anchor="start" >Online Tokenizer</text>
<text x="840.5" y="479" font-family="Liberation Serif" font-size="21" font-weight="bold" font-style="normal" fill="#1b5e5e" text-anchor="start" >Dense Predictor</text>
<text x="414" y="210.5" font-family="Liberation Serif" font-size="21" font-weight="bold" font-style="normal" fill="#000" text-anchor="start" >Teacher</text>
<text x="410" y="421" font-family="Liberation Serif" font-size="21" font-weight="bold" font-style="normal" fill="#000" text-anchor="start" >Backbone</text>
<text x="870" y="421" font-family="Liberation Serif" font-size="21" font-weight="bold" font-style="normal" fill="#000" text-anchor="start" >Decoder</text>
<text x="462.5" y="247" font-family="Liberation Serif" font-size="18" font-weight="bold" font-style="normal" fill="#000" text-anchor="start" >EMA</text>
<text x="1120" y="678.5" font-family="Liberation Serif" font-size="20" font-weight="bold" font-style="normal" fill="#000" text-anchor="start" >GT</text>
<text x="143.2" y="291.2" font-family="Liberation Serif" font-size="21" font-weight="bold" font-style="normal" fill="#000" text-anchor="start" >Input</text>
<line x1="817" y1="38.2" x2="884.4" y2="38.2" stroke="#1f8ad6" stroke-width="1.5" /><polygon points="890,38.2 883,35.2 884.26,38.2 883,41.2" fill="#1f8ad6" />
<line x1="817" y1="62.3" x2="884.4" y2="62.3" stroke="#5f9a3e" stroke-width="1.5" /><polygon points="890,62.3 883,59.3 884.26,62.3 883,65.3" fill="#5f9a3e" />
<line x1="817" y1="87" x2="884.4" y2="87" stroke="#1f8ad6" stroke-width="1.5" stroke-dasharray="4 2.5" /><polygon points="890,87 883,84 884.26,87 883,90" fill="#1f8ad6" />
<line x1="817" y1="111.7" x2="884.4" y2="111.7" stroke="#5f9a3e" stroke-width="1.5" stroke-dasharray="4 2.5" /><polygon points="890,111.7 883,108.7 884.26,111.7 883,114.7" fill="#5f9a3e" />
<text x="910" y="43.5" font-family="Liberation Serif" font-size="18" font-weight="normal" font-style="normal" fill="#000" text-anchor="start" >Data augmentation 1</text>
<text x="910" y="67.5" font-family="Liberation Serif" font-size="18" font-weight="normal" font-style="normal" fill="#000" text-anchor="start" >Data augmentation 2</text>
<text x="910" y="92.3" font-family="Liberation Serif" font-size="18" font-weight="normal" font-style="normal" fill="#000" text-anchor="start" >Data augmentation 1 with mask</text>
<text x="910" y="116.8" font-family="Liberation Serif" font-size="18" font-weight="normal" font-style="normal" fill="#000" text-anchor="start" >Data augmentation 2 with mask</text>
<text x="910" y="141" font-family="Liberation Serif" font-size="18" font-weight="normal" font-style="normal" fill="#000" text-anchor="start" >Exponentially Moving Average</text>
<text x="939" y="165.5" font-family="Liberation Serif" font-size="18" font-weight="normal" font-style="normal" fill="#000" text-anchor="start" >The direction of online Tokenizer</text>
<text x="944" y="192.5" font-family="Liberation Serif" font-size="18" font-weight="normal" font-style="normal" fill="#000" text-anchor="start" >Reconstruct</text>
<text x="862.5" y="165.5" font-family="Liberation Serif" font-size="18" font-weight="normal" font-style="normal" fill="#000" text-anchor="start" >&amp;</text>
<text x="861" y="192.5" font-family="Liberation Serif" font-size="18" font-weight="normal" font-style="normal" fill="#000" text-anchor="start" >&amp;</text>
<line x1="218.1" y1="100.5" x2="218.1" y2="234" stroke="#1f8ad6" stroke-width="1.8" />
<line x1="218.1" y1="100.5" x2="273.9" y2="100.5" stroke="#1f8ad6" stroke-width="1.6" /><polygon points="279.5,100.5 272.5,97.3 273.76,100.5 272.5,103.7" fill="#1f8ad6" />
<line x1="212.3" y1="233.6" x2="218.1" y2="233.6" stroke="#1f8ad6" stroke-width="1.8" />
<line x1="217.2" y1="234.5" x2="217.2" y2="381" stroke="#5f9a3e" stroke-width="1.6" stroke-dasharray="4.7 1.6" />
<line x1="218.5" y1="234.5" x2="218.5" y2="304.8" stroke="#1f8ad6" stroke-width="1.5" stroke-dasharray="4.7 1.6" />
<line x1="218.5" y1="304.8" x2="273.4" y2="304.8" stroke="#1f8ad6" stroke-width="1.6" stroke-dasharray="4.5 2" /><polygon points="279,304.8 272,301.6 273.26,304.8 272,308" fill="#1f8ad6" />
<line x1="217.2" y1="381" x2="274.4" y2="381" stroke="#5f9a3e" stroke-width="1.6" stroke-dasharray="4.5 2" /><polygon points="280,381 273,377.8 274.26,381 273,384.2" fill="#5f9a3e" />
<line x1="359" y1="101" x2="418.04" y2="101" stroke="#000" stroke-width="1.5" /><polygon points="423,101 416.8,98 417.92,101 416.8,104" fill="#000" />
<line x1="359" y1="178.5" x2="418.04" y2="178.5" stroke="#000" stroke-width="1.5" /><polygon points="423,178.5 416.8,175.5 417.92,178.5 416.8,181.5" fill="#000" />
<line x1="485" y1="101" x2="558.04" y2="101" stroke="#000" stroke-width="1.5" /><polygon points="563,101 556.8,98 557.92,101 556.8,104" fill="#000" />
<line x1="485" y1="178.5" x2="660.54" y2="178.5" stroke="#000" stroke-width="1.5" /><polygon points="665.5,178.5 659.3,175.5 660.42,178.5 659.3,181.5" fill="#000" />
<line x1="358" y1="303.5" x2="418.04" y2="303.5" stroke="#000" stroke-width="1.5" /><polygon points="423,303.5 416.8,300.5 417.92,303.5 416.8,306.5" fill="#000" />
<line x1="359" y1="380" x2="418.04" y2="380" stroke="#000" stroke-width="1.5" /><polygon points="423,380 416.8,377 417.92,380 416.8,383" fill="#000" />
<line x1="485" y1="304" x2="558.04" y2="304" stroke="#000" stroke-width="1.5" /><polygon points="563,304 556.8,301 557.92,304 556.8,307" fill="#000" />
<line x1="652" y1="303" x2="861.04" y2="303" stroke="#000" stroke-width="1.5" /><polygon points="866,303 859.8,300 860.92,303 859.8,306" fill="#000" />
<line x1="485" y1="380" x2="660.54" y2="380" stroke="#000" stroke-width="1.5" /><polygon points="665.5,380 659.3,377 660.42,380 659.3,383" fill="#000" />
<line x1="746" y1="380" x2="861.04" y2="380" stroke="#000" stroke-width="1.5" /><polygon points="866,380 859.8,377 860.92,380 859.8,383" fill="#000" />
<polygon points="597.2,148.2 605.4,140.8 608.9,141.3 600.7,149.1" fill="#1670b5" />
<polygon points="597.2,148.2 600.7,149.1 600.8,249.2 597,247" fill="#1d6295" />
<polygon points="597,247 600.8,249.2 596.8,254.5 604.5,261.8 593.2,253.3" fill="#176cb0" />
<polygon points="600.7,149.1 608.9,141.3 609,236.2 613,237.4 604.7,261.8 596.8,254.5 600.8,249.2" fill="#1d93ea" />
<polygon points="609,236.2 613,237.4 609,241" fill="#176cb0" />
<polygon points="695.1,224.3 703.4,216.5 706.9,217.3 698.8,225.3" fill="#7ea465" />
<polygon points="695.1,224.3 698.8,225.3 698.9,325.9 695,325.9" fill="#7fa066" />
<polygon points="695,325.9 698.9,325.9 694.7,330.6 703,337.7 690.9,329.5" fill="#86aa6b" />
<polygon points="698.8,225.3 706.9,217.3 707.1,312.7 710.9,313.5 703,337.7 694.7,330.6 698.9,325.9" fill="#b5e396" />
<polygon points="707.1,312.7 710.9,313.5 707.1,318" fill="#86aa6b" />
<polygon points="439,244.5 442.7,244 442.7,281 439,281" fill="#a87b59" />
<polygon points="433.1,248.3 444.3,213.4 448.1,214.4 436.3,248.8" fill="#a87b59" />
<polygon points="436.3,248.8 448.1,214.4 459.9,225.2 454,231.1 454,272 442.7,281 442.7,244" fill="#fbbf8c" />
<polyline points="330.5,517.5 330.5,508 568,508 568,511" fill="none" stroke="#2b8ad8" stroke-width="1.6"/>
<polygon points="568,518 565,511 568,512.26 571,511" fill="#2b8ad8" />
<polyline points="330.5,676 330.5,689 567.5,689 567.5,683" fill="none" stroke="#5e9a3a" stroke-width="1.6"/>
<polygon points="567.5,676 564.5,683 567.5,681.74 570.5,683" fill="#5e9a3a" />
<line x1="415.5" y1="572.5" x2="448.2" y2="599" stroke="#2b8ad8" stroke-width="1.6" />
<line x1="413.75" y1="625.5" x2="448.2" y2="599" stroke="#5e9a3a" stroke-width="1.6" />
<line x1="448.2" y1="599" x2="476.96" y2="576.78" stroke="#2b8ad8" stroke-width="1.6" /><polygon points="482.5,572.5 478.13,579.92 474.21,574.86" fill="#2b8ad8" />
<line x1="448.2" y1="599" x2="475.51" y2="620.65" stroke="#5e9a3a" stroke-width="1.6" /><polygon points="481,625 472.74,622.54 476.72,617.52" fill="#5e9a3a" />
<line x1="210.5" y1="538" x2="247.54" y2="538" stroke="#000" stroke-width="1.5" /><polygon points="252.5,538 246.3,535 247.42,538 246.3,541" fill="#000" />
<line x1="210.5" y1="652.5" x2="247.54" y2="652.5" stroke="#000" stroke-width="1.5" /><polygon points="252.5,652.5 246.3,649.5 247.42,652.5 246.3,655.5" fill="#000" />
<line x1="687.5" y1="543.75" x2="649.96" y2="543.75" stroke="#000" stroke-width="1.5" /><polygon points="645,543.75 651.2,540.75 650.08,543.75 651.2,546.75" fill="#000" />
<line x1="686" y1="652.5" x2="649.96" y2="652.5" stroke="#000" stroke-width="1.5" /><polygon points="645,652.5 651.2,649.5 650.08,652.5 651.2,655.5" fill="#000" />
<circle cx="332.8" cy="539" r="1.4" fill="#000"/>
<circle cx="339.1" cy="539" r="1.4" fill="#000"/>
<circle cx="345.40000000000003" cy="539" r="1.4" fill="#000"/>
<circle cx="567.8" cy="539" r="1.4" fill="#000"/>
<circle cx="574.0999999999999" cy="539" r="1.4" fill="#000"/>
<circle cx="580.4" cy="539" r="1.4" fill="#000"/>
<circle cx="332.8" cy="647" r="1.4" fill="#000"/>
<circle cx="339.1" cy="647" r="1.4" fill="#000"/>
<circle cx="345.40000000000003" cy="647" r="1.4" fill="#000"/>
<circle cx="567.8" cy="647" r="1.4" fill="#000"/>
<circle cx="574.0999999999999" cy="647" r="1.4" fill="#000"/>
<circle cx="580.4" cy="647" r="1.4" fill="#000"/>
<text x="379.3" y="501.7" font-family="Liberation Serif" font-size="17.5" font-style="italic" fill="#2b8ad8" stroke="#2b8ad8" stroke-width="0.12" textLength="8.9" lengthAdjust="spacingAndGlyphs">L</text><text x="389.2" y="506.1" font-family="Liberation Serif" font-size="12.5" font-style="italic" fill="#2b8ad8" stroke="#2b8ad8" stroke-width="0.12" textLength="16.9" lengthAdjust="spacingAndGlyphs">OT</text><text x="406.1" y="507.7" font-family="Liberation Serif" font-size="10" font-style="italic" fill="#2b8ad8" stroke="#2b8ad8" stroke-width="0.1" textLength="10.4" lengthAdjust="spacingAndGlyphs">v2</text>
<text x="381.2" y="612.5" font-family="Liberation Serif" font-size="17.5" font-style="italic" fill="#6e9136" stroke="#6e9136" stroke-width="0.12" textLength="8.9" lengthAdjust="spacingAndGlyphs">L</text><text x="391.1" y="616.9" font-family="Liberation Serif" font-size="12.5" font-style="italic" fill="#6e9136" stroke="#6e9136" stroke-width="0.12" textLength="16.9" lengthAdjust="spacingAndGlyphs">OT</text><text x="408" y="618.5" font-family="Liberation Serif" font-size="10" font-style="italic" fill="#6e9136" stroke="#6e9136" stroke-width="0.1" textLength="10.4" lengthAdjust="spacingAndGlyphs">μ1</text>
<text x="473.6" y="612.4" font-family="Liberation Serif" font-size="17.5" font-style="italic" fill="#2b8ad8" stroke="#2b8ad8" stroke-width="0.12" textLength="8.9" lengthAdjust="spacingAndGlyphs">L</text><text x="483.5" y="616.8" font-family="Liberation Serif" font-size="12.5" font-style="italic" fill="#2b8ad8" stroke="#2b8ad8" stroke-width="0.12" textLength="16.9" lengthAdjust="spacingAndGlyphs">OT</text><text x="500.4" y="618.4" font-family="Liberation Serif" font-size="10" font-style="italic" fill="#2b8ad8" stroke="#2b8ad8" stroke-width="0.1" textLength="10.4" lengthAdjust="spacingAndGlyphs">v1</text>
<text x="379.5" y="703.3" font-family="Liberation Serif" font-size="17.5" font-style="italic" fill="#6e9136" stroke="#6e9136" stroke-width="0.12" textLength="8.9" lengthAdjust="spacingAndGlyphs">L</text><text x="389.4" y="707.7" font-family="Liberation Serif" font-size="12.5" font-style="italic" fill="#6e9136" stroke="#6e9136" stroke-width="0.12" textLength="16.9" lengthAdjust="spacingAndGlyphs">OT</text><text x="406.3" y="709.3" font-family="Liberation Serif" font-size="10" font-style="italic" fill="#6e9136" stroke="#6e9136" stroke-width="0.1" textLength="10.4" lengthAdjust="spacingAndGlyphs">μ2</text>
<text x="400.3" y="562.2" font-family="Liberation Serif" font-size="13" font-style="italic" fill="#2b8ad8" stroke="#2b8ad8" stroke-width="0.12" textLength="17" lengthAdjust="spacingAndGlyphs">cls</text><text x="417.7" y="565.5" font-family="Liberation Serif" font-size="10" font-style="italic" fill="#2b8ad8" stroke="#2b8ad8" stroke-width="0.1" textLength="12.7" lengthAdjust="spacingAndGlyphs">v1</text>
<text x="467.5" y="562.2" font-family="Liberation Serif" font-size="13" font-style="italic" fill="#2b8ad8" stroke="#2b8ad8" stroke-width="0.12" textLength="17" lengthAdjust="spacingAndGlyphs">cls</text><text x="484.9" y="565.5" font-family="Liberation Serif" font-size="10" font-style="italic" fill="#2b8ad8" stroke="#2b8ad8" stroke-width="0.1" textLength="12.7" lengthAdjust="spacingAndGlyphs">v2</text>
<text x="402" y="671.8" font-family="Liberation Serif" font-size="13" font-style="italic" fill="#6e9136" stroke="#6e9136" stroke-width="0.12" textLength="17" lengthAdjust="spacingAndGlyphs">cls</text><text x="419.4" y="675.1" font-family="Liberation Serif" font-size="10" font-style="italic" fill="#6e9136" stroke="#6e9136" stroke-width="0.1" textLength="12.7" lengthAdjust="spacingAndGlyphs">μ1</text>
<text x="469.7" y="672.8" font-family="Liberation Serif" font-size="13" font-style="italic" fill="#6e9136" stroke="#6e9136" stroke-width="0.12" textLength="17" lengthAdjust="spacingAndGlyphs">cls</text><text x="487.1" y="676.1" font-family="Liberation Serif" font-size="10" font-style="italic" fill="#6e9136" stroke="#6e9136" stroke-width="0.1" textLength="12.7" lengthAdjust="spacingAndGlyphs">μ2</text>
<text x="144.1" y="598.6" font-family="Liberation Serif" font-size="19.5" font-style="italic" fill="#000" stroke="#000" stroke-width="0.12" textLength="45.5" lengthAdjust="spacingAndGlyphs">patch</text><text x="190.1" y="602.1" font-family="Liberation Serif" font-size="14" font-style="italic" fill="#000" stroke="#000" stroke-width="0.1" textLength="7.4" lengthAdjust="spacingAndGlyphs">v</text>
<text x="144.5" y="703.8" font-family="Liberation Serif" font-size="19.5" font-style="italic" fill="#000" stroke="#000" stroke-width="0.12" textLength="45.5" lengthAdjust="spacingAndGlyphs">patch</text><text x="190.5" y="707.3" font-family="Liberation Serif" font-size="14" font-style="italic" fill="#000" stroke="#000" stroke-width="0.1" textLength="7.4" lengthAdjust="spacingAndGlyphs">μ</text>
<text x="673.9" y="599.2" font-family="Liberation Serif" font-size="19.5" font-style="italic" fill="#000" stroke="#000" stroke-width="0.12" textLength="45.5" lengthAdjust="spacingAndGlyphs">patch</text><text x="719.9" y="602.7" font-family="Liberation Serif" font-size="14" font-style="italic" fill="#000" stroke="#000" stroke-width="0.1" textLength="7.4" lengthAdjust="spacingAndGlyphs">v</text><text x="727.8" y="604.7" font-family="Liberation Serif" font-size="12" font-style="italic" fill="#000" stroke="#000" stroke-width="0.1" textLength="30.1" lengthAdjust="spacingAndGlyphs">mask</text>
<text x="673.9" y="704" font-family="Liberation Serif" font-size="19.5" font-style="italic" fill="#000" stroke="#000" stroke-width="0.12" textLength="45.5" lengthAdjust="spacingAndGlyphs">patch</text><text x="719.9" y="707.5" font-family="Liberation Serif" font-size="14" font-style="italic" fill="#000" stroke="#000" stroke-width="0.1" textLength="7.4" lengthAdjust="spacingAndGlyphs">μ</text><text x="727.8" y="709.5" font-family="Liberation Serif" font-size="12" font-style="italic" fill="#000" stroke="#000" stroke-width="0.1" textLength="30.1" lengthAdjust="spacingAndGlyphs">mask</text>
<text x="242" y="88" font-family="Liberation Serif" font-size="18.5" font-style="italic" fill="#000" stroke="#000" stroke-width="0.12" textLength="8.5" lengthAdjust="spacingAndGlyphs">v</text>
<text x="240.8" y="167" font-family="Liberation Serif" font-size="18.5" font-style="italic" fill="#000" stroke="#000" stroke-width="0.12" textLength="10.5" lengthAdjust="spacingAndGlyphs">μ</text>
<text x="221.5" y="293" font-family="Liberation Serif" font-size="18.5" font-style="italic" fill="#000" stroke="#000" stroke-width="0.12" textLength="8.6" lengthAdjust="spacingAndGlyphs">v</text><text x="230.8" y="297.3" font-family="Liberation Serif" font-size="13" font-style="italic" fill="#000" stroke="#000" stroke-width="0.1" textLength="34.6" lengthAdjust="spacingAndGlyphs">mask</text>
<text x="223.6" y="372" font-family="Liberation Serif" font-size="18.5" font-style="italic" fill="#000" stroke="#000" stroke-width="0.12" textLength="9.4" lengthAdjust="spacingAndGlyphs">μ</text><text x="233.7" y="375" font-family="Liberation Serif" font-size="13" font-style="italic" fill="#000" stroke="#000" stroke-width="0.1" textLength="34.5" lengthAdjust="spacingAndGlyphs">mask</text>
<text x="268.3" y="738.2" font-family="Liberation Serif" font-size="21" font-style="italic" fill="#7030a0" stroke="#7030a0" stroke-width="0.4" textLength="9.4" lengthAdjust="spacingAndGlyphs">L</text><text x="279.9" y="741.8" font-family="Liberation Serif" font-size="15.5" font-style="italic" fill="#7030a0" stroke="#7030a0" stroke-width="0.3" textLength="19.2" lengthAdjust="spacingAndGlyphs">OT</text>
<rect x="307.7" y="728.95" width="13.2" height="1.7" rx="0" fill="#000" /><rect x="307.7" y="733.75" width="13.2" height="1.7" rx="0" fill="#000" />
<text x="329" y="738.2" font-family="Liberation Serif" font-size="21" font-style="italic" fill="#6e9136" stroke="#6e9136" stroke-width="0.4" textLength="9.4" lengthAdjust="spacingAndGlyphs">L</text><text x="340.6" y="741.8" font-family="Liberation Serif" font-size="15.5" font-style="italic" fill="#6e9136" stroke="#6e9136" stroke-width="0.3" textLength="18.6" lengthAdjust="spacingAndGlyphs">OT</text><text x="359.2" y="744.6" font-family="Liberation Serif" font-size="12" font-style="italic" fill="#6e9136" stroke="#6e9136" stroke-width="0.1" textLength="14.8" lengthAdjust="spacingAndGlyphs">μ1</text>
<rect x="382.2" y="730.95" width="13.1" height="1.7" rx="0" fill="#000" /><rect x="387.9" y="725.25" width="1.7" height="13.1" rx="0" fill="#000" />
<text x="402.3" y="738.2" font-family="Liberation Serif" font-size="21" font-style="italic" fill="#6e9136" stroke="#6e9136" stroke-width="0.4" textLength="9.4" lengthAdjust="spacingAndGlyphs">L</text><text x="413.9" y="741.8" font-family="Liberation Serif" font-size="15.5" font-style="italic" fill="#6e9136" stroke="#6e9136" stroke-width="0.3" textLength="18.6" lengthAdjust="spacingAndGlyphs">OT</text><text x="432.5" y="744.6" font-family="Liberation Serif" font-size="12" font-style="italic" fill="#6e9136" stroke="#6e9136" stroke-width="0.1" textLength="14.8" lengthAdjust="spacingAndGlyphs">μ2</text>
<rect x="455.8" y="730.95" width="12.7" height="1.7" rx="0" fill="#000" /><rect x="461.3" y="725.45" width="1.7" height="12.7" rx="0" fill="#000" />
<text x="476.3" y="738.2" font-family="Liberation Serif" font-size="21" font-style="italic" fill="#2b8ad8" stroke="#2b8ad8" stroke-width="0.4" textLength="9.4" lengthAdjust="spacingAndGlyphs">L</text><text x="487.9" y="741.8" font-family="Liberation Serif" font-size="15.5" font-style="italic" fill="#2b8ad8" stroke="#2b8ad8" stroke-width="0.3" textLength="18.6" lengthAdjust="spacingAndGlyphs">OT</text><text x="506.5" y="744.6" font-family="Liberation Serif" font-size="12" font-style="italic" fill="#2b8ad8" stroke="#2b8ad8" stroke-width="0.1" textLength="13" lengthAdjust="spacingAndGlyphs">v1</text>
<rect x="527" y="730.95" width="11.9" height="1.7" rx="0" fill="#000" /><rect x="532.1" y="725.85" width="1.7" height="11.9" rx="0" fill="#000" />
<text x="546.8" y="738.2" font-family="Liberation Serif" font-size="21" font-style="italic" fill="#2b8ad8" stroke="#2b8ad8" stroke-width="0.4" textLength="9.4" lengthAdjust="spacingAndGlyphs">L</text><text x="558.4" y="741.8" font-family="Liberation Serif" font-size="15.5" font-style="italic" fill="#2b8ad8" stroke="#2b8ad8" stroke-width="0.3" textLength="18.6" lengthAdjust="spacingAndGlyphs">OT</text><text x="577" y="744.6" font-family="Liberation Serif" font-size="12" font-style="italic" fill="#2b8ad8" stroke="#2b8ad8" stroke-width="0.1" textLength="13" lengthAdjust="spacingAndGlyphs">v2</text>
<line x1="608" y1="731" x2="801.6" y2="731" stroke="#000" stroke-width="1.6" /><polygon points="808,731 800,727.5 801.44,731 800,734.5" fill="#000" />
<line x1="1064" y1="533.75" x2="1094.5" y2="533.75" stroke="#2b8ad8" stroke-width="1.6" /><polygon points="1058,533.75 1065,530.75 1063.74,533.75 1065,536.75" fill="#2b8ad8" /><polygon points="1100.5,533.75 1093.5,530.75 1094.76,533.75 1093.5,536.75" fill="#2b8ad8" />
<line x1="1064" y1="616.75" x2="1094.5" y2="616.75" stroke="#5e9a3a" stroke-width="1.6" /><polygon points="1058,616.75 1065,613.75 1063.74,616.75 1065,619.75" fill="#5e9a3a" /><polygon points="1100.5,616.75 1093.5,613.75 1094.76,616.75 1093.5,619.75" fill="#5e9a3a" />
<text x="1062.5" y="521" font-family="Liberation Serif" font-size="20" font-style="italic" fill="#2b8ad8" stroke="#2b8ad8" stroke-width="0.35" textLength="8.6" lengthAdjust="spacingAndGlyphs">L</text><text x="1073.2" y="526" font-family="Liberation Serif" font-size="15" font-style="italic" fill="#2b8ad8" stroke="#2b8ad8" stroke-width="0.25" textLength="20.7" lengthAdjust="spacingAndGlyphs">DP</text><text x="1093.9" y="527.8" font-family="Liberation Serif" font-size="12" font-style="italic" fill="#2b8ad8" stroke="#2b8ad8" stroke-width="0.1" textLength="7" lengthAdjust="spacingAndGlyphs">v</text>
<text x="1060.5" y="607" font-family="Liberation Serif" font-size="20" font-style="italic" fill="#6e9136" stroke="#6e9136" stroke-width="0.35" textLength="8.6" lengthAdjust="spacingAndGlyphs">L</text><text x="1071.2" y="612" font-family="Liberation Serif" font-size="15" font-style="italic" fill="#6e9136" stroke="#6e9136" stroke-width="0.25" textLength="20.7" lengthAdjust="spacingAndGlyphs">DP</text><text x="1091.9" y="613.8" font-family="Liberation Serif" font-size="12" font-style="italic" fill="#6e9136" stroke="#6e9136" stroke-width="0.1" textLength="8.3" lengthAdjust="spacingAndGlyphs">μ</text>
<text x="916.6" y="681" font-family="Liberation Serif" font-size="20" font-style="italic" fill="#226b6b" stroke="#226b6b" stroke-width="0.35" textLength="8.6" lengthAdjust="spacingAndGlyphs">L</text><text x="927.3" y="686" font-family="Liberation Serif" font-size="15" font-style="italic" fill="#226b6b" stroke="#226b6b" stroke-width="0.25" textLength="20.7" lengthAdjust="spacingAndGlyphs">DP</text>
<rect x="956.3" y="672.25" width="13.4" height="1.7" rx="0" fill="#000" /><rect x="956.3" y="677.05" width="13.4" height="1.7" rx="0" fill="#000" />
<text x="978.2" y="681" font-family="Liberation Serif" font-size="20" font-style="italic" fill="#2b8ad8" stroke="#2b8ad8" stroke-width="0.35" textLength="8.6" lengthAdjust="spacingAndGlyphs">L</text><text x="988.9" y="686" font-family="Liberation Serif" font-size="15" font-style="italic" fill="#2b8ad8" stroke="#2b8ad8" stroke-width="0.25" textLength="20.7" lengthAdjust="spacingAndGlyphs">DP</text><text x="1009.6" y="687.8" font-family="Liberation Serif" font-size="12" font-style="italic" fill="#2b8ad8" stroke="#2b8ad8" stroke-width="0.1" textLength="6.8" lengthAdjust="spacingAndGlyphs">v</text>
<rect x="1023.2" y="674.35" width="12.6" height="1.7" rx="0" fill="#000" /><rect x="1028.65" y="668.9" width="1.7" height="12.6" rx="0" fill="#000" />
<text x="1043.3" y="681" font-family="Liberation Serif" font-size="20" font-style="italic" fill="#6e9136" stroke="#6e9136" stroke-width="0.35" textLength="8.6" lengthAdjust="spacingAndGlyphs">L</text><text x="1054" y="686" font-family="Liberation Serif" font-size="15" font-style="italic" fill="#6e9136" stroke="#6e9136" stroke-width="0.25" textLength="20.7" lengthAdjust="spacingAndGlyphs">DP</text><text x="1074.7" y="687.8" font-family="Liberation Serif" font-size="12" font-style="italic" fill="#6e9136" stroke="#6e9136" stroke-width="0.1" textLength="9" lengthAdjust="spacingAndGlyphs">μ</text>
<line x1="999" y1="693.5" x2="999" y2="703" stroke="#000" stroke-width="1.5" /><polygon points="999,709 996,702 999,703.26 1002,702" fill="#000" />
<text x="893.75" y="738.5" font-family="Liberation Serif" font-size="22" font-style="italic" fill="#000" stroke="#000" stroke-width="0" textLength="96.75" lengthAdjust="spacingAndGlyphs">Total Loss</text>
<rect x="997.5" y="729.25" width="15" height="1.7" rx="0" fill="#000" /><rect x="997.5" y="734.05" width="15" height="1.7" rx="0" fill="#000" />
<text x="1020.5" y="738.5" font-family="Liberation Serif" font-size="21" font-style="italic" fill="#7030a0" stroke="#7030a0" stroke-width="0.12" textLength="10" lengthAdjust="spacingAndGlyphs">λ</text><text x="1031" y="742.5" font-family="Liberation Serif" font-size="14" font-style="normal" fill="#7030a0" stroke="#7030a0" stroke-width="0.1" textLength="6.5" lengthAdjust="spacingAndGlyphs">1</text>
<text x="1040" y="738.5" font-family="Liberation Serif" font-size="21" font-style="italic" fill="#7030a0" stroke="#7030a0" stroke-width="0.4" textLength="9.4" lengthAdjust="spacingAndGlyphs">L</text><text x="1051.6" y="742.1" font-family="Liberation Serif" font-size="15.5" font-style="italic" fill="#7030a0" stroke="#7030a0" stroke-width="0.3" textLength="19.2" lengthAdjust="spacingAndGlyphs">OT</text>
<rect x="1080" y="731.15" width="11.75" height="1.7" rx="0" fill="#000" /><rect x="1085.03" y="726.12" width="1.7" height="11.75" rx="0" fill="#000" />
<text x="1099" y="738.5" font-family="Liberation Serif" font-size="21" font-style="italic" fill="#226b6b" stroke="#226b6b" stroke-width="0.12" textLength="10" lengthAdjust="spacingAndGlyphs">λ</text><text x="1109.5" y="742.5" font-family="Liberation Serif" font-size="14" font-style="normal" fill="#226b6b" stroke="#226b6b" stroke-width="0.1" textLength="8" lengthAdjust="spacingAndGlyphs">2</text>
<text x="1119" y="738.5" font-family="Liberation Serif" font-size="21" font-style="italic" fill="#226b6b" stroke="#226b6b" stroke-width="0.4" textLength="9.4" lengthAdjust="spacingAndGlyphs">L</text><text x="1130.6" y="742.1" font-family="Liberation Serif" font-size="15.5" font-style="italic" fill="#226b6b" stroke="#226b6b" stroke-width="0.3" textLength="21" lengthAdjust="spacingAndGlyphs">DP</text>
</svg></body></html>
